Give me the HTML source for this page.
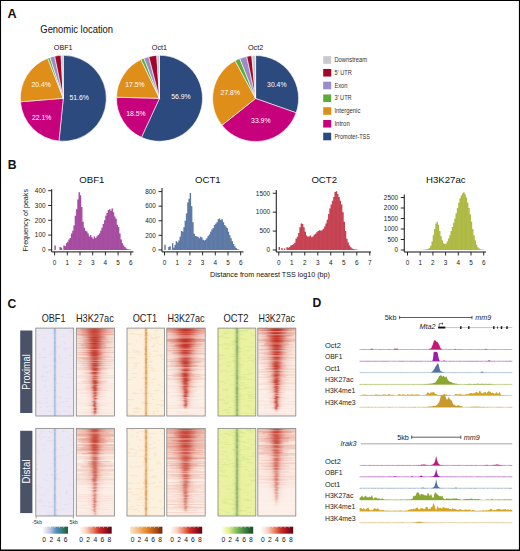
<!DOCTYPE html>
<html><head><meta charset="utf-8"><style>
html,body{margin:0;padding:0;background:#fff;width:520px;height:551px;overflow:hidden;font-family:"Liberation Sans", sans-serif;}
svg{display:block}
</style></head><body><svg width="520" height="551" viewBox="0 0 520 551" font-family='"Liberation Sans", sans-serif'><defs><linearGradient id="gR"><stop offset="0" stop-color="#bf2a1e" stop-opacity="0.01"/><stop offset="0.05" stop-color="#bf2a1e" stop-opacity="0.03"/><stop offset="0.1" stop-color="#bf2a1e" stop-opacity="0.06"/><stop offset="0.15" stop-color="#bf2a1e" stop-opacity="0.11"/><stop offset="0.2" stop-color="#bf2a1e" stop-opacity="0.2"/><stop offset="0.25" stop-color="#bf2a1e" stop-opacity="0.32"/><stop offset="0.3" stop-color="#bf2a1e" stop-opacity="0.49"/><stop offset="0.35" stop-color="#bf2a1e" stop-opacity="0.67"/><stop offset="0.4" stop-color="#bf2a1e" stop-opacity="0.84"/><stop offset="0.45" stop-color="#bf2a1e" stop-opacity="0.96"/><stop offset="0.5" stop-color="#bf2a1e" stop-opacity="1"/><stop offset="0.55" stop-color="#bf2a1e" stop-opacity="0.96"/><stop offset="0.6" stop-color="#bf2a1e" stop-opacity="0.84"/><stop offset="0.65" stop-color="#bf2a1e" stop-opacity="0.67"/><stop offset="0.7" stop-color="#bf2a1e" stop-opacity="0.49"/><stop offset="0.75" stop-color="#bf2a1e" stop-opacity="0.32"/><stop offset="0.8" stop-color="#bf2a1e" stop-opacity="0.2"/><stop offset="0.85" stop-color="#bf2a1e" stop-opacity="0.11"/><stop offset="0.9" stop-color="#bf2a1e" stop-opacity="0.06"/><stop offset="0.95" stop-color="#bf2a1e" stop-opacity="0.03"/><stop offset="1" stop-color="#bf2a1e" stop-opacity="0.01"/></linearGradient><linearGradient id="gB"><stop offset="0" stop-color="#9ab6dc" stop-opacity="0.01"/><stop offset="0.05" stop-color="#9ab6dc" stop-opacity="0.03"/><stop offset="0.1" stop-color="#9ab6dc" stop-opacity="0.06"/><stop offset="0.15" stop-color="#9ab6dc" stop-opacity="0.11"/><stop offset="0.2" stop-color="#9ab6dc" stop-opacity="0.2"/><stop offset="0.25" stop-color="#9ab6dc" stop-opacity="0.32"/><stop offset="0.3" stop-color="#9ab6dc" stop-opacity="0.49"/><stop offset="0.35" stop-color="#9ab6dc" stop-opacity="0.67"/><stop offset="0.4" stop-color="#9ab6dc" stop-opacity="0.84"/><stop offset="0.45" stop-color="#9ab6dc" stop-opacity="0.96"/><stop offset="0.5" stop-color="#9ab6dc" stop-opacity="1"/><stop offset="0.55" stop-color="#9ab6dc" stop-opacity="0.96"/><stop offset="0.6" stop-color="#9ab6dc" stop-opacity="0.84"/><stop offset="0.65" stop-color="#9ab6dc" stop-opacity="0.67"/><stop offset="0.7" stop-color="#9ab6dc" stop-opacity="0.49"/><stop offset="0.75" stop-color="#9ab6dc" stop-opacity="0.32"/><stop offset="0.8" stop-color="#9ab6dc" stop-opacity="0.2"/><stop offset="0.85" stop-color="#9ab6dc" stop-opacity="0.11"/><stop offset="0.9" stop-color="#9ab6dc" stop-opacity="0.06"/><stop offset="0.95" stop-color="#9ab6dc" stop-opacity="0.03"/><stop offset="1" stop-color="#9ab6dc" stop-opacity="0.01"/></linearGradient><linearGradient id="gO"><stop offset="0" stop-color="#f0b070" stop-opacity="0.01"/><stop offset="0.05" stop-color="#f0b070" stop-opacity="0.03"/><stop offset="0.1" stop-color="#f0b070" stop-opacity="0.06"/><stop offset="0.15" stop-color="#f0b070" stop-opacity="0.11"/><stop offset="0.2" stop-color="#f0b070" stop-opacity="0.2"/><stop offset="0.25" stop-color="#f0b070" stop-opacity="0.32"/><stop offset="0.3" stop-color="#f0b070" stop-opacity="0.49"/><stop offset="0.35" stop-color="#f0b070" stop-opacity="0.67"/><stop offset="0.4" stop-color="#f0b070" stop-opacity="0.84"/><stop offset="0.45" stop-color="#f0b070" stop-opacity="0.96"/><stop offset="0.5" stop-color="#f0b070" stop-opacity="1"/><stop offset="0.55" stop-color="#f0b070" stop-opacity="0.96"/><stop offset="0.6" stop-color="#f0b070" stop-opacity="0.84"/><stop offset="0.65" stop-color="#f0b070" stop-opacity="0.67"/><stop offset="0.7" stop-color="#f0b070" stop-opacity="0.49"/><stop offset="0.75" stop-color="#f0b070" stop-opacity="0.32"/><stop offset="0.8" stop-color="#f0b070" stop-opacity="0.2"/><stop offset="0.85" stop-color="#f0b070" stop-opacity="0.11"/><stop offset="0.9" stop-color="#f0b070" stop-opacity="0.06"/><stop offset="0.95" stop-color="#f0b070" stop-opacity="0.03"/><stop offset="1" stop-color="#f0b070" stop-opacity="0.01"/></linearGradient><linearGradient id="gG"><stop offset="0" stop-color="#8db56a" stop-opacity="0.01"/><stop offset="0.05" stop-color="#8db56a" stop-opacity="0.03"/><stop offset="0.1" stop-color="#8db56a" stop-opacity="0.06"/><stop offset="0.15" stop-color="#8db56a" stop-opacity="0.11"/><stop offset="0.2" stop-color="#8db56a" stop-opacity="0.2"/><stop offset="0.25" stop-color="#8db56a" stop-opacity="0.32"/><stop offset="0.3" stop-color="#8db56a" stop-opacity="0.49"/><stop offset="0.35" stop-color="#8db56a" stop-opacity="0.67"/><stop offset="0.4" stop-color="#8db56a" stop-opacity="0.84"/><stop offset="0.45" stop-color="#8db56a" stop-opacity="0.96"/><stop offset="0.5" stop-color="#8db56a" stop-opacity="1"/><stop offset="0.55" stop-color="#8db56a" stop-opacity="0.96"/><stop offset="0.6" stop-color="#8db56a" stop-opacity="0.84"/><stop offset="0.65" stop-color="#8db56a" stop-opacity="0.67"/><stop offset="0.7" stop-color="#8db56a" stop-opacity="0.49"/><stop offset="0.75" stop-color="#8db56a" stop-opacity="0.32"/><stop offset="0.8" stop-color="#8db56a" stop-opacity="0.2"/><stop offset="0.85" stop-color="#8db56a" stop-opacity="0.11"/><stop offset="0.9" stop-color="#8db56a" stop-opacity="0.06"/><stop offset="0.95" stop-color="#8db56a" stop-opacity="0.03"/><stop offset="1" stop-color="#8db56a" stop-opacity="0.01"/></linearGradient><linearGradient id="cb1"><stop offset="0" stop-color="#ffffff"/><stop offset="0.3" stop-color="#c9c6e2"/><stop offset="0.55" stop-color="#4f8fc3"/><stop offset="0.75" stop-color="#3b7f80"/><stop offset="1" stop-color="#1d5a33"/></linearGradient><linearGradient id="cb2"><stop offset="0" stop-color="#ffffff"/><stop offset="0.22" stop-color="#f7d2c0"/><stop offset="0.45" stop-color="#e8785a"/><stop offset="0.62" stop-color="#cc3028"/><stop offset="0.82" stop-color="#9e1020"/><stop offset="1" stop-color="#560616"/></linearGradient><linearGradient id="cb3"><stop offset="0" stop-color="#fbe6cc"/><stop offset="0.3" stop-color="#f3b170"/><stop offset="0.55" stop-color="#df7f26"/><stop offset="0.8" stop-color="#a9501a"/><stop offset="1" stop-color="#6a2a0a"/></linearGradient><linearGradient id="cb4"><stop offset="0" stop-color="#ffffff"/><stop offset="0.22" stop-color="#f7d2c0"/><stop offset="0.45" stop-color="#e8785a"/><stop offset="0.62" stop-color="#cc3028"/><stop offset="0.82" stop-color="#9e1020"/><stop offset="1" stop-color="#560616"/></linearGradient><linearGradient id="cb5"><stop offset="0" stop-color="#fffff0"/><stop offset="0.25" stop-color="#e2ee8a"/><stop offset="0.5" stop-color="#7db85c"/><stop offset="0.75" stop-color="#3b8040"/><stop offset="1" stop-color="#1b4b28"/></linearGradient><linearGradient id="cb6"><stop offset="0" stop-color="#ffffff"/><stop offset="0.22" stop-color="#f7d2c0"/><stop offset="0.45" stop-color="#e8785a"/><stop offset="0.62" stop-color="#cc3028"/><stop offset="0.82" stop-color="#9e1020"/><stop offset="1" stop-color="#560616"/></linearGradient></defs><path d="M63.3 98.3L63.3 55.3A43 43 0 1 1 58.98 141.08Z" fill="#2c4a7e" stroke="#fff" stroke-width="0.6"/>
<path d="M63.3 98.3L58.98 141.08A43 43 0 0 1 20.44 101.81Z" fill="#c7007c" stroke="#fff" stroke-width="0.6"/>
<path d="M63.3 98.3L20.44 101.81A43 43 0 0 1 47.72 58.22Z" fill="#e08e1a" stroke="#fff" stroke-width="0.6"/>
<path d="M63.3 98.3L47.72 58.22A43 43 0 0 1 50.01 57.4Z" fill="#5bab3d" stroke="#fff" stroke-width="0.6"/>
<path d="M63.3 98.3L50.01 57.4A43 43 0 0 1 54.71 56.17Z" fill="#9a8cc6" stroke="#fff" stroke-width="0.6"/>
<path d="M63.3 98.3L54.71 56.17A43 43 0 0 1 61.14 55.35Z" fill="#a2062b" stroke="#fff" stroke-width="0.6"/>
<path d="M63.3 98.3L61.14 55.35A43 43 0 0 1 63.3 55.3Z" fill="#c9c9ce" stroke="#fff" stroke-width="0.6"/>
<text x="79.2" y="99.9" font-size="7.8" fill="#fff" text-anchor="middle" textLength="19.4" lengthAdjust="spacingAndGlyphs">51.6%</text>
<text x="41.7" y="119.7" font-size="7.8" fill="#fff" text-anchor="middle" textLength="19.4" lengthAdjust="spacingAndGlyphs">22.1%</text>
<text x="41.2" y="87" font-size="7.8" fill="#fff" text-anchor="middle" textLength="19.4" lengthAdjust="spacingAndGlyphs">20.4%</text>
<path d="M159.5 98.3L159.5 55.3A43 43 0 1 1 141.44 137.32Z" fill="#2c4a7e" stroke="#fff" stroke-width="0.6"/>
<path d="M159.5 98.3L141.44 137.32A43 43 0 0 1 116.51 97.22Z" fill="#c7007c" stroke="#fff" stroke-width="0.6"/>
<path d="M159.5 98.3L116.51 97.22A43 43 0 0 1 140.95 59.51Z" fill="#e08e1a" stroke="#fff" stroke-width="0.6"/>
<path d="M159.5 98.3L140.95 59.51A43 43 0 0 1 143.92 58.22Z" fill="#5bab3d" stroke="#fff" stroke-width="0.6"/>
<path d="M159.5 98.3L143.92 58.22A43 43 0 0 1 148.81 56.65Z" fill="#9a8cc6" stroke="#fff" stroke-width="0.6"/>
<path d="M159.5 98.3L148.81 56.65A43 43 0 0 1 156.8 55.38Z" fill="#a2062b" stroke="#fff" stroke-width="0.6"/>
<path d="M159.5 98.3L156.8 55.38A43 43 0 0 1 159.5 55.3Z" fill="#c9c9ce" stroke="#fff" stroke-width="0.6"/>
<text x="181" y="99.1" font-size="7.8" fill="#fff" text-anchor="middle" textLength="19.4" lengthAdjust="spacingAndGlyphs">56.9%</text>
<text x="136" y="115.9" font-size="7.8" fill="#fff" text-anchor="middle" textLength="19.4" lengthAdjust="spacingAndGlyphs">18.5%</text>
<text x="135" y="87" font-size="7.8" fill="#fff" text-anchor="middle" textLength="19.4" lengthAdjust="spacingAndGlyphs">17.5%</text>
<path d="M255.6 98.5L255.6 55.5A43 43 0 0 1 296.15 112.81Z" fill="#2c4a7e" stroke="#fff" stroke-width="0.6"/>
<path d="M255.6 98.5L296.15 112.81A43 43 0 0 1 221.96 125.28Z" fill="#c7007c" stroke="#fff" stroke-width="0.6"/>
<path d="M255.6 98.5L221.96 125.28A43 43 0 0 1 235.12 60.69Z" fill="#e08e1a" stroke="#fff" stroke-width="0.6"/>
<path d="M255.6 98.5L235.12 60.69A43 43 0 0 1 239.77 58.52Z" fill="#5bab3d" stroke="#fff" stroke-width="0.6"/>
<path d="M255.6 98.5L239.77 58.52A43 43 0 0 1 246.75 56.42Z" fill="#9a8cc6" stroke="#fff" stroke-width="0.6"/>
<path d="M255.6 98.5L246.75 56.42A43 43 0 0 1 251.82 55.67Z" fill="#a2062b" stroke="#fff" stroke-width="0.6"/>
<path d="M255.6 98.5L251.82 55.67A43 43 0 0 1 255.6 55.5Z" fill="#c9c9ce" stroke="#fff" stroke-width="0.6"/>
<text x="276.8" y="87.4" font-size="7.8" fill="#fff" text-anchor="middle" textLength="19.4" lengthAdjust="spacingAndGlyphs">30.4%</text>
<text x="260.8" y="122.6" font-size="7.8" fill="#fff" text-anchor="middle" textLength="19.4" lengthAdjust="spacingAndGlyphs">33.9%</text>
<text x="230.3" y="94.7" font-size="7.8" fill="#fff" text-anchor="middle" textLength="19.4" lengthAdjust="spacingAndGlyphs">27.8%</text>
<rect x="323.2" y="56.2" width="8" height="7.6" fill="#c9c9ce"/>
<text x="334.4" y="62.2" font-size="6.8" fill="#333" textLength="32.7" lengthAdjust="spacingAndGlyphs">Downstream</text>
<rect x="323.2" y="68.95" width="8" height="7.6" fill="#a2062b"/>
<text x="334.4" y="74.95" font-size="6.8" fill="#333" textLength="17.5" lengthAdjust="spacingAndGlyphs">5’ UTR</text>
<rect x="323.2" y="81.7" width="8" height="7.6" fill="#9a8cc6"/>
<text x="334.4" y="87.7" font-size="6.8" fill="#333" textLength="13.1" lengthAdjust="spacingAndGlyphs">Exon</text>
<rect x="323.2" y="94.45" width="8" height="7.6" fill="#5bab3d"/>
<text x="334.4" y="100.45" font-size="6.8" fill="#333" textLength="17.3" lengthAdjust="spacingAndGlyphs">3’ UTR</text>
<rect x="323.2" y="107.2" width="8" height="7.6" fill="#e08e1a"/>
<text x="334.4" y="113.2" font-size="6.8" fill="#333" textLength="26" lengthAdjust="spacingAndGlyphs">Intergenic</text>
<rect x="323.2" y="119.95" width="8" height="7.6" fill="#c7007c"/>
<text x="334.4" y="125.95" font-size="6.8" fill="#333" textLength="15.4" lengthAdjust="spacingAndGlyphs">Intron</text>
<rect x="323.2" y="132.7" width="8" height="7.6" fill="#2c4a7e"/>
<text x="334.4" y="138.7" font-size="6.8" fill="#333" textLength="35.6" lengthAdjust="spacingAndGlyphs">Promoter-TSS</text>
<path d="M54.5 249.9h1.29v-4.44h-1.29ZM59.58 249.9h1.29v-2.96h-1.29ZM60.85 249.9h1.29v-2.22h-1.29ZM63.39 249.9h1.29v-4.44h-1.29ZM64.66 249.9h1.29v-3.7h-1.29ZM65.93 249.9h1.29v-6.66h-1.29ZM67.2 249.9h1.29v-8.14h-1.29ZM68.47 249.9h1.29v-10.36h-1.29ZM69.74 249.9h1.29v-11.84h-1.29ZM71.01 249.9h1.29v-16.28h-1.29ZM72.28 249.9h1.29v-19.24h-1.29ZM73.55 249.9h1.29v-24.42h-1.29ZM74.82 249.9h1.29v-34.04h-1.29ZM76.09 249.9h1.29v-40.7h-1.29ZM77.36 249.9h1.29v-50.32h-1.29ZM78.63 249.9h1.29v-57.72h-1.29ZM79.9 249.9h1.29v-54.76h-1.29ZM81.17 249.9h1.29v-42.92h-1.29ZM82.44 249.9h1.29v-28.12h-1.29ZM83.71 249.9h1.29v-22.2h-1.29ZM84.98 249.9h1.29v-19.24h-1.29ZM86.25 249.9h1.29v-18.5h-1.29ZM87.52 249.9h1.29v-16.28h-1.29ZM88.79 249.9h1.29v-13.32h-1.29ZM90.06 249.9h1.29v-14.8h-1.29ZM91.33 249.9h1.29v-12.58h-1.29ZM92.6 249.9h1.29v-11.1h-1.29ZM93.87 249.9h1.29v-13.32h-1.29ZM95.14 249.9h1.29v-11.84h-1.29ZM96.41 249.9h1.29v-13.32h-1.29ZM97.68 249.9h1.29v-14.8h-1.29ZM98.95 249.9h1.29v-16.28h-1.29ZM100.22 249.9h1.29v-19.24h-1.29ZM101.49 249.9h1.29v-22.2h-1.29ZM102.76 249.9h1.29v-25.9h-1.29ZM104.03 249.9h1.29v-29.6h-1.29ZM105.3 249.9h1.29v-34.04h-1.29ZM106.57 249.9h1.29v-37h-1.29ZM107.84 249.9h1.29v-39.96h-1.29ZM109.11 249.9h1.29v-40.7h-1.29ZM110.38 249.9h1.29v-39.22h-1.29ZM111.65 249.9h1.29v-41.44h-1.29ZM112.92 249.9h1.29v-37.74h-1.29ZM114.19 249.9h1.29v-33.3h-1.29ZM115.46 249.9h1.29v-31.08h-1.29ZM116.73 249.9h1.29v-25.16h-1.29ZM118 249.9h1.29v-22.94h-1.29ZM119.27 249.9h1.29v-16.28h-1.29ZM120.54 249.9h1.29v-10.36h-1.29ZM121.81 249.9h1.29v-6.66h-1.29ZM123.08 249.9h1.29v-4.44h-1.29ZM124.35 249.9h1.29v-2.96h-1.29ZM125.62 249.9h1.29v-1.48h-1.29ZM126.89 249.9h1.29v-0.74h-1.29ZM128.16 249.9h1.29v-0.44h-1.29ZM129.43 249.9h1.29v-0.3h-1.29Z" fill="#a0449c"/>
<path d="M54.7 249.9v-4.44M59.78 249.9v-2.96M61.05 249.9v-2.22M63.59 249.9v-4.44M64.86 249.9v-3.7M66.13 249.9v-6.66M67.4 249.9v-8.14M68.67 249.9v-10.36M69.94 249.9v-11.84M71.21 249.9v-16.28M72.48 249.9v-19.24M73.75 249.9v-24.42M75.02 249.9v-34.04M76.29 249.9v-40.7M77.56 249.9v-50.32M78.83 249.9v-57.72M80.1 249.9v-54.76M81.37 249.9v-42.92M82.64 249.9v-28.12M83.91 249.9v-22.2M85.18 249.9v-19.24M86.45 249.9v-18.5M87.72 249.9v-16.28M88.99 249.9v-13.32M90.26 249.9v-14.8M91.53 249.9v-12.58M92.8 249.9v-11.1M94.07 249.9v-13.32M95.34 249.9v-11.84M96.61 249.9v-13.32M97.88 249.9v-14.8M99.15 249.9v-16.28M100.42 249.9v-19.24M101.69 249.9v-22.2M102.96 249.9v-25.9M104.23 249.9v-29.6M105.5 249.9v-34.04M106.77 249.9v-37M108.04 249.9v-39.96M109.31 249.9v-40.7M110.58 249.9v-39.22M111.85 249.9v-41.44M113.12 249.9v-37.74M114.39 249.9v-33.3M115.66 249.9v-31.08M116.93 249.9v-25.16M118.2 249.9v-22.94M119.47 249.9v-16.28M120.74 249.9v-10.36M122.01 249.9v-6.66M123.28 249.9v-4.44M124.55 249.9v-2.96M125.82 249.9v-1.48M127.09 249.9v-0.74M128.36 249.9v-0.44M129.63 249.9v-0.3" stroke="#b96ab4" stroke-width="0.35" fill="none"/>
<path d="M51.7 189.2V251.9H133.5" stroke="#111" stroke-width="1" fill="none"/>
<path d="M48.2 249.9H51.7" stroke="#111" stroke-width="0.9"/>
<text x="45.5" y="252.2" font-size="6.4" text-anchor="end" fill="#222">0</text>
<path d="M48.2 235.1H51.7" stroke="#111" stroke-width="0.9"/>
<text x="45.5" y="237.4" font-size="6.4" text-anchor="end" fill="#222">100</text>
<path d="M48.2 220.3H51.7" stroke="#111" stroke-width="0.9"/>
<text x="45.5" y="222.6" font-size="6.4" text-anchor="end" fill="#222">200</text>
<path d="M48.2 205.5H51.7" stroke="#111" stroke-width="0.9"/>
<text x="45.5" y="207.8" font-size="6.4" text-anchor="end" fill="#222">300</text>
<path d="M48.2 190.7H51.7" stroke="#111" stroke-width="0.9"/>
<text x="45.5" y="193" font-size="6.4" text-anchor="end" fill="#222">400</text>
<path d="M54.6 251.9V255.4" stroke="#111" stroke-width="0.9"/>
<text x="54.6" y="265.2" font-size="6.4" text-anchor="middle" fill="#222">0</text>
<path d="M67.3 251.9V255.4" stroke="#111" stroke-width="0.9"/>
<text x="67.3" y="265.2" font-size="6.4" text-anchor="middle" fill="#222">1</text>
<path d="M80 251.9V255.4" stroke="#111" stroke-width="0.9"/>
<text x="80" y="265.2" font-size="6.4" text-anchor="middle" fill="#222">2</text>
<path d="M92.7 251.9V255.4" stroke="#111" stroke-width="0.9"/>
<text x="92.7" y="265.2" font-size="6.4" text-anchor="middle" fill="#222">3</text>
<path d="M105.4 251.9V255.4" stroke="#111" stroke-width="0.9"/>
<text x="105.4" y="265.2" font-size="6.4" text-anchor="middle" fill="#222">4</text>
<path d="M118.1 251.9V255.4" stroke="#111" stroke-width="0.9"/>
<text x="118.1" y="265.2" font-size="6.4" text-anchor="middle" fill="#222">5</text>
<path d="M130.8 251.9V255.4" stroke="#111" stroke-width="0.9"/>
<text x="130.8" y="265.2" font-size="6.4" text-anchor="middle" fill="#222">6</text>
<path d="M164.4 249.9h1.29v-5.1h-1.29ZM168.21 249.9h1.29v-2.92h-1.29ZM169.48 249.9h1.29v-3.65h-1.29ZM172.02 249.9h1.29v-6.56h-1.29ZM173.29 249.9h1.29v-2.19h-1.29ZM174.56 249.9h1.29v-5.1h-1.29ZM175.83 249.9h1.29v-8.75h-1.29ZM177.1 249.9h1.29v-7.29h-1.29ZM178.37 249.9h1.29v-9.48h-1.29ZM179.64 249.9h1.29v-13.12h-1.29ZM180.91 249.9h1.29v-18.95h-1.29ZM182.18 249.9h1.29v-18.23h-1.29ZM183.45 249.9h1.29v-22.6h-1.29ZM184.72 249.9h1.29v-29.16h-1.29ZM185.99 249.9h1.29v-36.45h-1.29ZM187.26 249.9h1.29v-47.39h-1.29ZM188.53 249.9h1.29v-51.03h-1.29ZM189.8 249.9h1.29v-56.86h-1.29ZM191.07 249.9h1.29v-43.74h-1.29ZM192.34 249.9h1.29v-27.7h-1.29ZM193.61 249.9h1.29v-16.04h-1.29ZM194.88 249.9h1.29v-13.85h-1.29ZM196.15 249.9h1.29v-13.49h-1.29ZM197.42 249.9h1.29v-13.12h-1.29ZM198.69 249.9h1.29v-11.66h-1.29ZM199.96 249.9h1.29v-13.12h-1.29ZM201.23 249.9h1.29v-12.39h-1.29ZM202.5 249.9h1.29v-10.21h-1.29ZM203.77 249.9h1.29v-9.48h-1.29ZM205.04 249.9h1.29v-10.21h-1.29ZM206.31 249.9h1.29v-11.66h-1.29ZM207.58 249.9h1.29v-13.85h-1.29ZM208.85 249.9h1.29v-15.31h-1.29ZM210.12 249.9h1.29v-18.23h-1.29ZM211.39 249.9h1.29v-20.41h-1.29ZM212.66 249.9h1.29v-21.87h-1.29ZM213.93 249.9h1.29v-24.79h-1.29ZM215.2 249.9h1.29v-26.24h-1.29ZM216.47 249.9h1.29v-27.7h-1.29ZM217.74 249.9h1.29v-30.62h-1.29ZM219.01 249.9h1.29v-31.35h-1.29ZM220.28 249.9h1.29v-29.89h-1.29ZM221.55 249.9h1.29v-30.62h-1.29ZM222.82 249.9h1.29v-27.7h-1.29ZM224.09 249.9h1.29v-24.79h-1.29ZM225.36 249.9h1.29v-23.33h-1.29ZM226.63 249.9h1.29v-21.87h-1.29ZM227.9 249.9h1.29v-18.23h-1.29ZM229.17 249.9h1.29v-14.58h-1.29ZM230.44 249.9h1.29v-11.66h-1.29ZM231.71 249.9h1.29v-8.75h-1.29ZM232.98 249.9h1.29v-5.83h-1.29ZM234.25 249.9h1.29v-3.65h-1.29ZM235.52 249.9h1.29v-1.82h-1.29ZM236.79 249.9h1.29v-0.73h-1.29ZM238.06 249.9h1.29v-0.36h-1.29Z" fill="#5572a0"/>
<path d="M164.6 249.9v-5.1M168.41 249.9v-2.92M169.68 249.9v-3.65M172.22 249.9v-6.56M173.49 249.9v-2.19M174.76 249.9v-5.1M176.03 249.9v-8.75M177.3 249.9v-7.29M178.57 249.9v-9.48M179.84 249.9v-13.12M181.11 249.9v-18.95M182.38 249.9v-18.23M183.65 249.9v-22.6M184.92 249.9v-29.16M186.19 249.9v-36.45M187.46 249.9v-47.39M188.73 249.9v-51.03M190 249.9v-56.86M191.27 249.9v-43.74M192.54 249.9v-27.7M193.81 249.9v-16.04M195.08 249.9v-13.85M196.35 249.9v-13.49M197.62 249.9v-13.12M198.89 249.9v-11.66M200.16 249.9v-13.12M201.43 249.9v-12.39M202.7 249.9v-10.21M203.97 249.9v-9.48M205.24 249.9v-10.21M206.51 249.9v-11.66M207.78 249.9v-13.85M209.05 249.9v-15.31M210.32 249.9v-18.23M211.59 249.9v-20.41M212.86 249.9v-21.87M214.13 249.9v-24.79M215.4 249.9v-26.24M216.67 249.9v-27.7M217.94 249.9v-30.62M219.21 249.9v-31.35M220.48 249.9v-29.89M221.75 249.9v-30.62M223.02 249.9v-27.7M224.29 249.9v-24.79M225.56 249.9v-23.33M226.83 249.9v-21.87M228.1 249.9v-18.23M229.37 249.9v-14.58M230.64 249.9v-11.66M231.91 249.9v-8.75M233.18 249.9v-5.83M234.45 249.9v-3.65M235.72 249.9v-1.82M236.99 249.9v-0.73M238.26 249.9v-0.36" stroke="#7d93ba" stroke-width="0.35" fill="none"/>
<path d="M162 188V251.9H243.5" stroke="#111" stroke-width="1" fill="none"/>
<path d="M158.5 249.9H162" stroke="#111" stroke-width="0.9"/>
<text x="155.8" y="252.2" font-size="6.4" text-anchor="end" fill="#222">0</text>
<path d="M158.5 235.32H162" stroke="#111" stroke-width="0.9"/>
<text x="155.8" y="237.62" font-size="6.4" text-anchor="end" fill="#222">200</text>
<path d="M158.5 220.74H162" stroke="#111" stroke-width="0.9"/>
<text x="155.8" y="223.04" font-size="6.4" text-anchor="end" fill="#222">400</text>
<path d="M158.5 206.16H162" stroke="#111" stroke-width="0.9"/>
<text x="155.8" y="208.46" font-size="6.4" text-anchor="end" fill="#222">600</text>
<path d="M158.5 191.58H162" stroke="#111" stroke-width="0.9"/>
<text x="155.8" y="193.88" font-size="6.4" text-anchor="end" fill="#222">800</text>
<path d="M164.5 251.9V255.4" stroke="#111" stroke-width="0.9"/>
<text x="164.5" y="265.2" font-size="6.4" text-anchor="middle" fill="#222">0</text>
<path d="M177.2 251.9V255.4" stroke="#111" stroke-width="0.9"/>
<text x="177.2" y="265.2" font-size="6.4" text-anchor="middle" fill="#222">1</text>
<path d="M189.9 251.9V255.4" stroke="#111" stroke-width="0.9"/>
<text x="189.9" y="265.2" font-size="6.4" text-anchor="middle" fill="#222">2</text>
<path d="M202.6 251.9V255.4" stroke="#111" stroke-width="0.9"/>
<text x="202.6" y="265.2" font-size="6.4" text-anchor="middle" fill="#222">3</text>
<path d="M215.3 251.9V255.4" stroke="#111" stroke-width="0.9"/>
<text x="215.3" y="265.2" font-size="6.4" text-anchor="middle" fill="#222">4</text>
<path d="M228 251.9V255.4" stroke="#111" stroke-width="0.9"/>
<text x="228" y="265.2" font-size="6.4" text-anchor="middle" fill="#222">5</text>
<path d="M240.7 251.9V255.4" stroke="#111" stroke-width="0.9"/>
<text x="240.7" y="265.2" font-size="6.4" text-anchor="middle" fill="#222">6</text>
<path d="M278.65 250h1.32v-3.03h-1.32ZM281.25 250h1.32v-1.89h-1.32ZM283.85 250h1.32v-1.51h-1.32ZM286.45 250h1.32v-2.65h-1.32ZM287.75 250h1.32v-2.27h-1.32ZM289.05 250h1.32v-3.03h-1.32ZM290.35 250h1.32v-4.54h-1.32ZM291.65 250h1.32v-4.92h-1.32ZM292.95 250h1.32v-5.67h-1.32ZM294.25 250h1.32v-7.19h-1.32ZM295.55 250h1.32v-11.35h-1.32ZM296.85 250h1.32v-13.24h-1.32ZM298.15 250h1.32v-17.02h-1.32ZM299.45 250h1.32v-22.7h-1.32ZM300.75 250h1.32v-26.48h-1.32ZM302.05 250h1.32v-26.1h-1.32ZM303.35 250h1.32v-22.7h-1.32ZM304.65 250h1.32v-18.16h-1.32ZM305.95 250h1.32v-14.38h-1.32ZM307.25 250h1.32v-13.24h-1.32ZM308.55 250h1.32v-13.62h-1.32ZM309.85 250h1.32v-14.38h-1.32ZM311.15 250h1.32v-12.86h-1.32ZM312.45 250h1.32v-13.62h-1.32ZM313.75 250h1.32v-15.13h-1.32ZM315.05 250h1.32v-16.27h-1.32ZM316.35 250h1.32v-17.78h-1.32ZM317.65 250h1.32v-18.92h-1.32ZM318.95 250h1.32v-19.67h-1.32ZM320.25 250h1.32v-19.29h-1.32ZM321.55 250h1.32v-19.67h-1.32ZM322.85 250h1.32v-21.18h-1.32ZM324.15 250h1.32v-23.45h-1.32ZM325.45 250h1.32v-26.48h-1.32ZM326.75 250h1.32v-30.26h-1.32ZM328.05 250h1.32v-35.94h-1.32ZM329.35 250h1.32v-41.61h-1.32ZM330.65 250h1.32v-45.4h-1.32ZM331.95 250h1.32v-49.18h-1.32ZM333.25 250h1.32v-52.96h-1.32ZM334.55 250h1.32v-57.88h-1.32ZM335.85 250h1.32v-58.64h-1.32ZM337.15 250h1.32v-55.99h-1.32ZM338.45 250h1.32v-52.96h-1.32ZM339.75 250h1.32v-49.18h-1.32ZM341.05 250h1.32v-45.4h-1.32ZM342.35 250h1.32v-37.83h-1.32ZM343.65 250h1.32v-28.37h-1.32ZM344.95 250h1.32v-18.92h-1.32ZM346.25 250h1.32v-11.35h-1.32ZM347.55 250h1.32v-7.57h-1.32ZM348.85 250h1.32v-4.54h-1.32ZM350.15 250h1.32v-2.65h-1.32ZM351.45 250h1.32v-1.51h-1.32ZM352.75 250h1.32v-0.95h-1.32ZM354.05 250h1.32v-0.57h-1.32ZM355.35 250h1.32v-0.38h-1.32ZM356.65 250h1.32v-0.19h-1.32Z" fill="#c1394a"/>
<path d="M278.85 250v-3.03M281.45 250v-1.89M284.05 250v-1.51M286.65 250v-2.65M287.95 250v-2.27M289.25 250v-3.03M290.55 250v-4.54M291.85 250v-4.92M293.15 250v-5.67M294.45 250v-7.19M295.75 250v-11.35M297.05 250v-13.24M298.35 250v-17.02M299.65 250v-22.7M300.95 250v-26.48M302.25 250v-26.1M303.55 250v-22.7M304.85 250v-18.16M306.15 250v-14.38M307.45 250v-13.24M308.75 250v-13.62M310.05 250v-14.38M311.35 250v-12.86M312.65 250v-13.62M313.95 250v-15.13M315.25 250v-16.27M316.55 250v-17.78M317.85 250v-18.92M319.15 250v-19.67M320.45 250v-19.29M321.75 250v-19.67M323.05 250v-21.18M324.35 250v-23.45M325.65 250v-26.48M326.95 250v-30.26M328.25 250v-35.94M329.55 250v-41.61M330.85 250v-45.4M332.15 250v-49.18M333.45 250v-52.96M334.75 250v-57.88M336.05 250v-58.64M337.35 250v-55.99M338.65 250v-52.96M339.95 250v-49.18M341.25 250v-45.4M342.55 250v-37.83M343.85 250v-28.37M345.15 250v-18.92M346.45 250v-11.35M347.75 250v-7.57M349.05 250v-4.54M350.35 250v-2.65M351.65 250v-1.51M352.95 250v-0.95M354.25 250v-0.57M355.55 250v-0.38M356.85 250v-0.19" stroke="#d66673" stroke-width="0.35" fill="none"/>
<path d="M276.25 190V252H371" stroke="#111" stroke-width="1" fill="none"/>
<path d="M272.75 250H276.25" stroke="#111" stroke-width="0.9"/>
<text x="270.05" y="252.3" font-size="6.4" text-anchor="end" fill="#222">0</text>
<path d="M272.75 231.09H276.25" stroke="#111" stroke-width="0.9"/>
<text x="270.05" y="233.39" font-size="6.4" text-anchor="end" fill="#222">500</text>
<path d="M272.75 212.17H276.25" stroke="#111" stroke-width="0.9"/>
<text x="270.05" y="214.47" font-size="6.4" text-anchor="end" fill="#222">1000</text>
<path d="M272.75 193.25H276.25" stroke="#111" stroke-width="0.9"/>
<text x="270.05" y="195.56" font-size="6.4" text-anchor="end" fill="#222">1500</text>
<path d="M278.75 252V255.5" stroke="#111" stroke-width="0.9"/>
<text x="278.75" y="265.3" font-size="6.4" text-anchor="middle" fill="#222">0</text>
<path d="M291.75 252V255.5" stroke="#111" stroke-width="0.9"/>
<text x="291.75" y="265.3" font-size="6.4" text-anchor="middle" fill="#222">1</text>
<path d="M304.75 252V255.5" stroke="#111" stroke-width="0.9"/>
<text x="304.75" y="265.3" font-size="6.4" text-anchor="middle" fill="#222">2</text>
<path d="M317.75 252V255.5" stroke="#111" stroke-width="0.9"/>
<text x="317.75" y="265.3" font-size="6.4" text-anchor="middle" fill="#222">3</text>
<path d="M330.75 252V255.5" stroke="#111" stroke-width="0.9"/>
<text x="330.75" y="265.3" font-size="6.4" text-anchor="middle" fill="#222">4</text>
<path d="M343.75 252V255.5" stroke="#111" stroke-width="0.9"/>
<text x="343.75" y="265.3" font-size="6.4" text-anchor="middle" fill="#222">5</text>
<path d="M356.75 252V255.5" stroke="#111" stroke-width="0.9"/>
<text x="356.75" y="265.3" font-size="6.4" text-anchor="middle" fill="#222">6</text>
<path d="M369.75 252V255.5" stroke="#111" stroke-width="0.9"/>
<text x="369.75" y="265.3" font-size="6.4" text-anchor="middle" fill="#222">7</text>
<path d="M421.37 250h1.29v-0.11h-1.29ZM422.64 250h1.29v-0.21h-1.29ZM423.91 250h1.29v-0.32h-1.29ZM425.18 250h1.29v-0.53h-1.29ZM426.45 250h1.29v-0.84h-1.29ZM427.72 250h1.29v-1.26h-1.29ZM428.99 250h1.29v-2.1h-1.29ZM430.26 250h1.29v-4.2h-1.29ZM431.53 250h1.29v-8.4h-1.29ZM432.8 250h1.29v-14.7h-1.29ZM434.07 250h1.29v-21h-1.29ZM435.34 250h1.29v-26.25h-1.29ZM436.61 250h1.29v-28.35h-1.29ZM437.88 250h1.29v-25.2h-1.29ZM439.15 250h1.29v-18.9h-1.29ZM440.42 250h1.29v-13.65h-1.29ZM441.69 250h1.29v-9.45h-1.29ZM442.96 250h1.29v-6.72h-1.29ZM444.23 250h1.29v-5.88h-1.29ZM445.5 250h1.29v-6.3h-1.29ZM446.77 250h1.29v-8.4h-1.29ZM448.04 250h1.29v-11.55h-1.29ZM449.31 250h1.29v-14.7h-1.29ZM450.58 250h1.29v-18.9h-1.29ZM451.85 250h1.29v-23.1h-1.29ZM453.12 250h1.29v-27.3h-1.29ZM454.39 250h1.29v-31.5h-1.29ZM455.66 250h1.29v-36.75h-1.29ZM456.93 250h1.29v-42h-1.29ZM458.2 250h1.29v-47.25h-1.29ZM459.47 250h1.29v-51.45h-1.29ZM460.74 250h1.29v-54.6h-1.29ZM462.01 250h1.29v-56.7h-1.29ZM463.28 250h1.29v-57.75h-1.29ZM464.55 250h1.29v-55.65h-1.29ZM465.82 250h1.29v-52.5h-1.29ZM467.09 250h1.29v-47.25h-1.29ZM468.36 250h1.29v-42h-1.29ZM469.63 250h1.29v-35.7h-1.29ZM470.9 250h1.29v-28.35h-1.29ZM472.17 250h1.29v-21h-1.29ZM473.44 250h1.29v-14.7h-1.29ZM474.71 250h1.29v-9.45h-1.29ZM475.98 250h1.29v-5.25h-1.29ZM477.25 250h1.29v-2.73h-1.29ZM478.52 250h1.29v-1.47h-1.29ZM479.79 250h1.29v-0.84h-1.29ZM481.06 250h1.29v-0.42h-1.29ZM482.33 250h1.29v-0.21h-1.29ZM483.6 250h1.29v-0.11h-1.29Z" fill="#a9b53a"/>
<path d="M421.57 250v-0.11M422.84 250v-0.21M424.11 250v-0.32M425.38 250v-0.53M426.65 250v-0.84M427.92 250v-1.26M429.19 250v-2.1M430.46 250v-4.2M431.73 250v-8.4M433 250v-14.7M434.27 250v-21M435.54 250v-26.25M436.81 250v-28.35M438.08 250v-25.2M439.35 250v-18.9M440.62 250v-13.65M441.89 250v-9.45M443.16 250v-6.72M444.43 250v-5.88M445.7 250v-6.3M446.97 250v-8.4M448.24 250v-11.55M449.51 250v-14.7M450.78 250v-18.9M452.05 250v-23.1M453.32 250v-27.3M454.59 250v-31.5M455.86 250v-36.75M457.13 250v-42M458.4 250v-47.25M459.67 250v-51.45M460.94 250v-54.6M462.21 250v-56.7M463.48 250v-57.75M464.75 250v-55.65M466.02 250v-52.5M467.29 250v-47.25M468.56 250v-42M469.83 250v-35.7M471.1 250v-28.35M472.37 250v-21M473.64 250v-14.7M474.91 250v-9.45M476.18 250v-5.25M477.45 250v-2.73M478.72 250v-1.47M479.99 250v-0.84M481.26 250v-0.42M482.53 250v-0.21M483.8 250v-0.11" stroke="#c2cc6a" stroke-width="0.35" fill="none"/>
<path d="M404.25 194.5V252H486" stroke="#111" stroke-width="1" fill="none"/>
<path d="M400.75 250H404.25" stroke="#111" stroke-width="0.9"/>
<text x="398.05" y="252.3" font-size="6.4" text-anchor="end" fill="#222">0</text>
<path d="M400.75 239.5H404.25" stroke="#111" stroke-width="0.9"/>
<text x="398.05" y="241.8" font-size="6.4" text-anchor="end" fill="#222">500</text>
<path d="M400.75 229H404.25" stroke="#111" stroke-width="0.9"/>
<text x="398.05" y="231.3" font-size="6.4" text-anchor="end" fill="#222">1000</text>
<path d="M400.75 218.5H404.25" stroke="#111" stroke-width="0.9"/>
<text x="398.05" y="220.8" font-size="6.4" text-anchor="end" fill="#222">1500</text>
<path d="M400.75 208H404.25" stroke="#111" stroke-width="0.9"/>
<text x="398.05" y="210.3" font-size="6.4" text-anchor="end" fill="#222">2000</text>
<path d="M400.75 197.5H404.25" stroke="#111" stroke-width="0.9"/>
<text x="398.05" y="199.8" font-size="6.4" text-anchor="end" fill="#222">2500</text>
<path d="M407.5 252V255.5" stroke="#111" stroke-width="0.9"/>
<text x="407.5" y="265.3" font-size="6.4" text-anchor="middle" fill="#222">0</text>
<path d="M420.2 252V255.5" stroke="#111" stroke-width="0.9"/>
<text x="420.2" y="265.3" font-size="6.4" text-anchor="middle" fill="#222">1</text>
<path d="M432.9 252V255.5" stroke="#111" stroke-width="0.9"/>
<text x="432.9" y="265.3" font-size="6.4" text-anchor="middle" fill="#222">2</text>
<path d="M445.6 252V255.5" stroke="#111" stroke-width="0.9"/>
<text x="445.6" y="265.3" font-size="6.4" text-anchor="middle" fill="#222">3</text>
<path d="M458.3 252V255.5" stroke="#111" stroke-width="0.9"/>
<text x="458.3" y="265.3" font-size="6.4" text-anchor="middle" fill="#222">4</text>
<path d="M471 252V255.5" stroke="#111" stroke-width="0.9"/>
<text x="471" y="265.3" font-size="6.4" text-anchor="middle" fill="#222">5</text>
<path d="M483.7 252V255.5" stroke="#111" stroke-width="0.9"/>
<text x="483.7" y="265.3" font-size="6.4" text-anchor="middle" fill="#222">6</text>
<rect x="35.8" y="328.1" width="37.9" height="87.9" fill="#ece8f3"/>
<svg x="35.8" y="328.1" width="37.9" height="87.9" overflow="hidden">
<path d="M3.36 74.49h5.82v0.8h-5.82ZM8.18 43.55h4.25v0.8h-4.25ZM24 69.33h2.47v0.8h-2.47ZM-0.87 73.46h4.16v0.8h-4.16ZM28.41 0.19h4.23v0.8h-4.23ZM26.79 20.11h6.73v0.8h-6.73ZM33.97 2.69h2.13v0.8h-2.13ZM19.6 82.55h3.91v0.8h-3.91ZM6.64 37.1h2.15v0.8h-2.15ZM6.85 38.49h4.48v0.8h-4.48ZM7.3 20.29h3.09v0.8h-3.09ZM16.34 25.47h2.11v0.8h-2.11ZM31.42 48.91h5.21v0.8h-5.21ZM5.42 87.24h6.3v0.8h-6.3ZM2.82 29.24h5.61v0.8h-5.61ZM26.38 82.31h4.11v0.8h-4.11ZM31.12 58.92h3.52v0.8h-3.52ZM21.44 77.57h6.23v0.8h-6.23ZM18.16 51.77h2.17v0.8h-2.17ZM7.69 70.09h4.07v0.8h-4.07ZM4.9 48.24h5.52v0.8h-5.52ZM24.91 32.94h4.19v0.8h-4.19ZM18.29 68.43h4.6v0.8h-4.6ZM13.69 43.04h2.15v0.8h-2.15ZM-0.26 61.83h6.92v0.8h-6.92ZM21.67 34.6h2.85v0.8h-2.85ZM18.04 86.32h5.85v0.8h-5.85ZM19.53 75.62h3.16v0.8h-3.16ZM18.5 83.72h4.89v0.8h-4.89ZM16.32 23.67h4.74v0.8h-4.74ZM36.19 0.5h5.92v0.8h-5.92ZM30.74 77.9h5.7v0.8h-5.7ZM30.28 45.59h4.81v0.8h-4.81ZM15 4.93h6.35v0.8h-6.35ZM20.74 17.57h4.52v0.8h-4.52ZM17.35 31.36h3.73v0.8h-3.73ZM19.49 54.8h5.06v0.8h-5.06ZM16.28 2.46h3.15v0.8h-3.15ZM5.07 51.37h6.31v0.8h-6.31ZM29.86 70.06h6.08v0.8h-6.08Z" fill="#ddd8ee" opacity="0.6"/>
<path d="M9.68 73.99h2.01v1h-1ZM3.15 1.47h1.02v1h-1ZM28.64 21.94h1.16v1h-1ZM23.68 30.27h1.1v1h-1ZM6.05 46.36h1.25v1h-1ZM10.34 62.55h1.68v1h-1ZM12.2 41.64h1.04v1h-1ZM14.65 37h1.28v1h-1ZM4.12 79.09h1.77v1h-1ZM7.92 53.24h2.23v1h-1ZM0.79 1.57h1.22v1h-1ZM27.24 14.08h2.06v1h-1ZM25.7 47.88h1.33v1h-1ZM36.98 70.13h1.77v1h-1ZM8.46 57h1.59v1h-1ZM21.82 28.24h1.95v1h-1ZM2.23 26.25h2.45v1h-1ZM33.18 26.93h2.29v1h-1ZM11.76 82.56h2.12v1h-1ZM15.77 22.18h1.01v1h-1ZM33.3 3.33h2.23v1h-1ZM36.47 50.13h1.26v1h-1ZM32.89 85.59h2.06v1h-1ZM19.29 33.22h1.52v1h-1ZM7.8 59.26h1.65v1h-1ZM7.36 9.18h2v1h-1ZM11.22 43.93h1.49v1h-1ZM33.03 79.08h1.03v1h-1ZM7.61 28.81h2.48v1h-1ZM29.66 29.81h1.32v1h-1ZM25.56 73.63h2.4v1h-1ZM13.03 77.56h2.03v1h-1ZM18.36 86.63h1.35v1h-1ZM27.5 7.44h1.25v1h-1ZM34.53 18.72h2.14v1h-1ZM22.75 73.94h1.55v1h-1ZM12.9 25.6h2.3v1h-1ZM22.89 83.88h2.33v1h-1ZM5.13 48.45h1.16v1h-1ZM1.48 6.43h2.3v1h-1ZM29.87 72.83h1.51v1h-1ZM23.32 68.73h1.57v1h-1ZM21.63 19.66h1.12v1h-1ZM10.11 78.3h1.85v1h-1ZM35.06 40.24h1.42v1h-1ZM29.83 72.76h1.02v1h-1ZM25.41 8.06h1.17v1h-1ZM33.54 3.52h1.36v1h-1ZM37.45 37.01h1.17v1h-1ZM6.34 21.22h2.12v1h-1Z" fill="#c4bedf" opacity="0.35"/>
<rect x="15.8" y="0" width="6.6" height="87.9" fill="url(#gB)" opacity="0.35"/>
<rect x="18.45" y="0" width="1.3" height="87.9" fill="#98b8de" opacity="0.75"/>
<path d="M17.9 0h2.25v2h-2.25ZM18.3 2h1.56v1h-1.56ZM18 3h1.63v1.5h-1.63ZM18.19 5h1.71v1h-1.71ZM18.41 9h1.52v2h-1.52ZM18.16 13h1.52v1.5h-1.52ZM18.59 14h1.59v1.5h-1.59ZM18.05 15h1.9v1h-1.9ZM18.17 17h1.64v2h-1.64ZM18.3 19h1.65v2h-1.65ZM18.52 21h1.53v1.5h-1.53ZM17.91 22h1.87v1h-1.87ZM18.6 23h1.31v1.5h-1.31ZM18.37 26h1.82v1h-1.82ZM18.16 29h1.46v1.5h-1.46ZM18.28 30h2.04v2h-2.04ZM17.77 31h2.23v2h-2.23ZM18.53 32h1.63v2h-1.63ZM18.02 37h1.75v2h-1.75ZM18.15 39h2.11v1.5h-2.11ZM18.03 46h1.57v2h-1.57ZM18.14 49h2.02v2h-2.02ZM18.51 50h1.57v1.5h-1.57ZM18.4 52h1.39v1h-1.39ZM18.18 59h1.81v1h-1.81ZM18.27 61h1.94v2h-1.94ZM17.84 62h1.97v1h-1.97ZM18.17 68h1.61v2h-1.61ZM18.15 77h1.56v2h-1.56Z" fill="#98b8de" opacity="0.35"/>
</svg>
<rect x="35.8" y="328.1" width="37.9" height="87.9" fill="none" stroke="#8a8a8a" stroke-width="0.85"/>
<rect x="127" y="328.1" width="37.4" height="87.9" fill="#fcf0de"/>
<svg x="127" y="328.1" width="37.4" height="87.9" overflow="hidden">
<path d="M15.82 49.2h6.62v0.8h-6.62ZM16.35 44.64h4.94v0.8h-4.94ZM5.28 45h5.15v0.8h-5.15ZM29.24 8.27h3.52v0.8h-3.52ZM1.57 71.17h5.47v0.8h-5.47ZM-0.35 86.33h6.82v0.8h-6.82ZM23.76 54.11h2.79v0.8h-2.79ZM-1.41 46.44h2.3v0.8h-2.3ZM5.49 21.27h2.15v0.8h-2.15ZM16.28 38.72h6.21v0.8h-6.21ZM18.45 56.28h4.5v0.8h-4.5ZM24.1 40.2h3.39v0.8h-3.39ZM37.31 87.52h6.2v0.8h-6.2ZM25.89 27.71h3.15v0.8h-3.15ZM9.39 6.17h5.83v0.8h-5.83ZM13.78 74.41h3.93v0.8h-3.93ZM35.75 74.48h2v0.8h-2ZM6.26 80.01h4.35v0.8h-4.35ZM36.63 34.93h2.37v0.8h-2.37ZM22.8 68.43h3.35v0.8h-3.35ZM1.43 29.23h6.82v0.8h-6.82ZM27.87 10.37h3.23v0.8h-3.23ZM1.98 5.26h5.99v0.8h-5.99ZM5 49.16h4.24v0.8h-4.24ZM5.51 64.33h2.65v0.8h-2.65ZM23.36 10.24h4.1v0.8h-4.1ZM6.39 23.71h6.85v0.8h-6.85ZM29.65 26.73h6.42v0.8h-6.42ZM6.3 34.66h6.27v0.8h-6.27ZM23.29 8.82h6.95v0.8h-6.95ZM6.4 22.7h5.86v0.8h-5.86ZM10.96 26.05h2.37v0.8h-2.37ZM1.55 51.22h3.22v0.8h-3.22ZM21.69 32.67h4.27v0.8h-4.27ZM35.79 42.52h4.87v0.8h-4.87ZM32.14 16.07h2.77v0.8h-2.77ZM33.79 71.88h3.25v0.8h-3.25ZM5.48 65h6.7v0.8h-6.7ZM5.75 83.52h6.41v0.8h-6.41ZM21.78 37.05h2.52v0.8h-2.52ZM-0.48 84.62h3.19v0.8h-3.19ZM25.76 22.59h6.12v0.8h-6.12ZM21.5 25.79h2.88v0.8h-2.88ZM26.38 6.05h3.14v0.8h-3.14ZM20.04 74.93h5.07v0.8h-5.07ZM9.04 80.64h3.02v0.8h-3.02ZM-1.35 23.66h4.23v0.8h-4.23ZM0.38 15.49h3.84v0.8h-3.84ZM20.54 11.57h3.81v0.8h-3.81ZM33.1 86.19h5.28v0.8h-5.28ZM25.23 51.37h2.7v0.8h-2.7ZM-0.62 1.57h6.55v0.8h-6.55ZM25.62 84.63h2.11v0.8h-2.11ZM23.07 42.39h5.65v0.8h-5.65ZM10.56 87.84h2.38v0.8h-2.38ZM19.52 64.78h6.5v0.8h-6.5ZM27.04 61.85h5.97v0.8h-5.97ZM34.05 30.93h5.43v0.8h-5.43ZM33.49 76.57h4.09v0.8h-4.09ZM29.15 75.9h4.86v0.8h-4.86Z" fill="#f6dcb8" opacity="0.6"/>
<path d="M23.37 33.61h1.87v1h-1ZM22.77 7.05h1.96v1h-1ZM37.15 77.33h2.09v1h-1ZM14.53 64.61h1.87v1h-1ZM16.48 73.69h1.13v1h-1ZM28.06 2.62h1.9v1h-1ZM17.99 20.24h2.05v1h-1ZM18.6 54.01h2.38v1h-1ZM9.57 0.99h1.45v1h-1ZM25.36 17.81h1.25v1h-1ZM33.87 58.01h1.66v1h-1ZM33.35 28.74h2v1h-1ZM7.42 37.88h2.21v1h-1ZM34.19 77.38h1.58v1h-1ZM21.81 27.82h1.2v1h-1ZM18.57 73.58h2.27v1h-1ZM26.6 83.51h1.42v1h-1ZM6.33 39.61h1.41v1h-1ZM8.01 36.39h1.94v1h-1ZM18.47 27.72h2.26v1h-1ZM36.73 39.77h1.11v1h-1ZM1.18 76.72h1.06v1h-1ZM26.5 50.15h1.46v1h-1ZM29.6 1.68h1.2v1h-1ZM17.01 2.17h2.24v1h-1ZM8.88 12.38h1.07v1h-1ZM23.53 39.25h1.94v1h-1ZM24.5 70.97h2.44v1h-1ZM25.6 17.52h1.71v1h-1ZM6.68 0.95h1.71v1h-1ZM26.71 15.74h1.41v1h-1ZM12.93 61.29h1.78v1h-1ZM22.98 66.47h1.59v1h-1ZM29.62 79.66h1.13v1h-1ZM34.88 63.5h1.19v1h-1ZM16.96 54.99h2.36v1h-1ZM14.09 50h2.32v1h-1ZM29.8 83h1.7v1h-1ZM24.36 18.01h2.08v1h-1ZM30.61 56.4h2.08v1h-1ZM7.98 79.11h2.47v1h-1ZM36.55 47.2h2.19v1h-1ZM11.98 79.99h2.28v1h-1ZM13.03 7.28h1.66v1h-1ZM20.58 67.53h1.73v1h-1ZM1.06 71.12h1.1v1h-1ZM29.91 15.2h1.5v1h-1ZM29.47 12.35h1.22v1h-1ZM19.32 63.6h2.26v1h-1ZM25.78 83.13h1.74v1h-1Z" fill="#f3cc9a" opacity="0.45"/>
<rect x="15.4" y="0" width="7.2" height="87.9" fill="url(#gO)" opacity="0.45"/>
<rect x="18.25" y="0" width="1.5" height="87.9" fill="#e8953f" opacity="0.6"/>
<path d="M18.13 1h1.77v1.5h-1.77ZM18.19 4h2.12v1.5h-2.12ZM18.23 5h1.96v2h-1.96ZM18.02 6h2.52v2h-2.52ZM17.9 7h2.1v1h-2.1ZM17.68 10h2.66v1.5h-2.66ZM17.99 13h1.61v2h-1.61ZM17.86 18h2.09v1.5h-2.09ZM17.72 20h2v1.5h-2ZM17.5 21h2.44v1h-2.44ZM18.11 22h1.51v2h-1.51ZM17.59 25h2.38v2h-2.38ZM18.07 30h2.26v2h-2.26ZM18.21 31h1.75v2h-1.75ZM18.15 32h1.76v2h-1.76ZM17.99 34h2.39v1h-2.39ZM18.31 35h1.88v1h-1.88ZM18.43 37h1.62v1h-1.62ZM18.39 39h1.62v1.5h-1.62ZM18.05 42h2.25v1h-2.25ZM18.09 43h2.32v1.5h-2.32ZM18.1 44h2.11v2h-2.11ZM17.86 49h2.41v2h-2.41ZM17.98 51h1.64v1h-1.64ZM18.48 54h1.57v1.5h-1.57ZM18.13 55h1.62v1.5h-1.62ZM18.04 59h2.34v1h-2.34ZM17.67 65h2.45v1h-2.45ZM17.85 75h2.59v1h-2.59ZM18.03 85h1.91v1h-1.91Z" fill="#e8953f" opacity="0.5"/>
</svg>
<rect x="127" y="328.1" width="37.4" height="87.9" fill="none" stroke="#8a8a8a" stroke-width="0.85"/>
<rect x="218" y="328.1" width="37.8" height="87.9" fill="#eaf2a2"/>
<svg x="218" y="328.1" width="37.8" height="87.9" overflow="hidden">
<path d="M4.56 60.63h5.17v0.8h-5.17ZM17.07 18.99h5.96v0.8h-5.96ZM30.15 45.04h4.53v0.8h-4.53ZM7.4 0.28h3.86v0.8h-3.86ZM21.3 6.09h5.97v0.8h-5.97ZM7.24 20.45h2.21v0.8h-2.21ZM37.7 64.93h6.38v0.8h-6.38ZM22.51 2.99h3.64v0.8h-3.64ZM17.8 10.18h6.76v0.8h-6.76ZM12.66 13.61h6.09v0.8h-6.09ZM2.97 81.57h4.27v0.8h-4.27ZM19.97 30.14h4.42v0.8h-4.42ZM5.44 3.26h6.33v0.8h-6.33ZM7.35 68.58h3.04v0.8h-3.04ZM36.56 78.58h5.77v0.8h-5.77ZM28.36 51.05h5.65v0.8h-5.65ZM2.87 41.87h6.14v0.8h-6.14ZM6 81.15h6.44v0.8h-6.44ZM14.3 32.1h4.26v0.8h-4.26ZM13.35 87.45h3.93v0.8h-3.93ZM-0.93 8.2h5.59v0.8h-5.59ZM37.51 43.6h4.46v0.8h-4.46ZM19.91 65.76h3.11v0.8h-3.11ZM22.23 48.92h5.11v0.8h-5.11ZM5.19 14.95h3.74v0.8h-3.74ZM34.9 30.47h4.99v0.8h-4.99ZM10.2 9.08h2.33v0.8h-2.33ZM30.39 68.3h3.87v0.8h-3.87ZM25.2 59.41h6.49v0.8h-6.49ZM36.14 35.78h6.95v0.8h-6.95ZM36.26 51.91h6.42v0.8h-6.42ZM17.54 33.01h3.24v0.8h-3.24ZM32.87 14.27h2.35v0.8h-2.35ZM30.05 68.03h4.42v0.8h-4.42ZM31.31 4.59h3.29v0.8h-3.29ZM9.54 36.88h2.85v0.8h-2.85ZM0.76 29.72h6.5v0.8h-6.5ZM37.14 65.56h4.39v0.8h-4.39ZM8.04 84.29h4.63v0.8h-4.63ZM27 2.49h3.06v0.8h-3.06ZM31.36 69.9h6.41v0.8h-6.41ZM21.93 37.45h4.91v0.8h-4.91ZM31.8 27.07h4.67v0.8h-4.67ZM8.98 67.53h2.05v0.8h-2.05ZM25.27 83.85h2.12v0.8h-2.12ZM21.63 56.6h6.26v0.8h-6.26ZM21.26 22.61h4.03v0.8h-4.03ZM36.16 79.6h2.67v0.8h-2.67ZM1.77 8.26h2.13v0.8h-2.13ZM15.78 12.38h6.34v0.8h-6.34ZM24.08 11.12h4.69v0.8h-4.69ZM10.91 43.41h3.1v0.8h-3.1ZM4.61 16.17h3.89v0.8h-3.89ZM26.26 48.35h2.23v0.8h-2.23ZM26.29 76.81h5.87v0.8h-5.87ZM29.47 0.69h4.32v0.8h-4.32ZM0.53 67.15h2.88v0.8h-2.88ZM26.32 22.23h5.48v0.8h-5.48ZM10.48 3.68h3.94v0.8h-3.94ZM10.31 79.18h3.48v0.8h-3.48ZM18.02 48.29h6.74v0.8h-6.74ZM1.92 52.84h4.54v0.8h-4.54ZM27.24 85.01h3.55v0.8h-3.55ZM25.84 46.22h4.8v0.8h-4.8ZM0.54 71.61h6.88v0.8h-6.88ZM12.14 27.96h6.97v0.8h-6.97ZM2.28 6.69h2.37v0.8h-2.37ZM30.41 66.8h4.24v0.8h-4.24ZM22.73 1.74h5.22v0.8h-5.22ZM15.62 45.48h3.95v0.8h-3.95ZM13.98 19.82h2.24v0.8h-2.24ZM15.27 21.72h5.52v0.8h-5.52ZM30.53 63.62h4.28v0.8h-4.28ZM7.41 33.88h4.43v0.8h-4.43ZM23.15 84.66h2.43v0.8h-2.43ZM17.09 43.24h5.59v0.8h-5.59ZM33.44 68.52h5.13v0.8h-5.13ZM28.19 58.72h6.29v0.8h-6.29ZM25.82 60.03h3.23v0.8h-3.23ZM34.48 33.93h5.07v0.8h-5.07ZM30.83 84.71h6.95v0.8h-6.95ZM-1.75 27.48h3.56v0.8h-3.56ZM13.57 12.78h4.77v0.8h-4.77ZM1.16 26.6h6.72v0.8h-6.72ZM27.55 40.64h2.54v0.8h-2.54ZM36.05 61.88h3.03v0.8h-3.03ZM11.34 56.39h5.41v0.8h-5.41ZM8.38 83.61h3.61v0.8h-3.61ZM8.12 74.31h2.77v0.8h-2.77ZM25.11 17.57h4.99v0.8h-4.99ZM9.04 33.31h6.7v0.8h-6.7ZM16.59 38.4h5.09v0.8h-5.09ZM9.17 15.33h3.92v0.8h-3.92ZM8.84 16.57h6.8v0.8h-6.8ZM-0.63 71.24h6.67v0.8h-6.67ZM26.04 1.67h4.51v0.8h-4.51ZM-0.44 53.43h5.5v0.8h-5.5ZM7.56 0.67h4.72v0.8h-4.72ZM1.76 27.16h4.27v0.8h-4.27ZM33.6 32.53h2.67v0.8h-2.67ZM29.51 72.28h4.65v0.8h-4.65ZM-0.04 16.49h4.01v0.8h-4.01ZM19.97 19.79h6.01v0.8h-6.01ZM31.57 81.32h6.42v0.8h-6.42ZM-1.3 51.16h2.4v0.8h-2.4ZM33.81 65.65h5.8v0.8h-5.8ZM5.49 5.24h6.08v0.8h-6.08ZM22.14 54.52h4.36v0.8h-4.36ZM29.84 29.71h3.35v0.8h-3.35ZM12.05 26.19h5.14v0.8h-5.14ZM33.43 6.24h2.34v0.8h-2.34ZM18.37 59.6h2.95v0.8h-2.95ZM8.74 5.17h2.19v0.8h-2.19ZM17.7 59.84h5.27v0.8h-5.27ZM4.3 9.15h6.65v0.8h-6.65ZM19.43 35.9h5.45v0.8h-5.45ZM26.97 46.11h2.39v0.8h-2.39ZM30.93 18.79h2.2v0.8h-2.2ZM12.02 46.81h5.14v0.8h-5.14ZM4.93 62.38h4.47v0.8h-4.47ZM4.45 74.8h6.03v0.8h-6.03ZM34.07 59.73h3.09v0.8h-3.09ZM28.95 79.35h4.67v0.8h-4.67ZM34.16 85.28h3.95v0.8h-3.95ZM35.48 82.34h5.97v0.8h-5.97ZM-1.55 30.93h5.07v0.8h-5.07ZM22.17 66.42h5.23v0.8h-5.23ZM4.43 81.82h4.68v0.8h-4.68ZM33.09 18.18h6.99v0.8h-6.99ZM20.08 68.17h5.7v0.8h-5.7ZM33.13 31.85h2.41v0.8h-2.41ZM14.14 15.67h4.7v0.8h-4.7ZM30.44 31.84h2.66v0.8h-2.66ZM-0.93 37.18h4.9v0.8h-4.9ZM-0.95 58.49h3.05v0.8h-3.05ZM2.26 81.54h4.62v0.8h-4.62ZM33.62 45.17h2.61v0.8h-2.61ZM7.55 37.29h5.2v0.8h-5.2ZM28.68 66.05h5.25v0.8h-5.25ZM8.07 37.81h3.89v0.8h-3.89ZM17.49 23.34h4.69v0.8h-4.69ZM16.26 3.13h6.11v0.8h-6.11ZM21.34 70.56h5.68v0.8h-5.68ZM27.09 87.32h3.88v0.8h-3.88ZM13.67 0.33h5.32v0.8h-5.32ZM21.14 50.67h6.99v0.8h-6.99ZM5.84 19.98h5.67v0.8h-5.67ZM30.33 42.44h2.27v0.8h-2.27ZM12.74 72.64h4.5v0.8h-4.5ZM16.37 34.23h5.14v0.8h-5.14Z" fill="#d4e488" opacity="0.6"/>
<path d="M22.62 60.92h2.3v1h-1ZM28.4 32.96h1.38v1h-1ZM29.56 69.7h2.39v1h-1ZM7.51 74.51h2.34v1h-1ZM2.92 27.07h1.95v1h-1ZM5.52 73.06h1.4v1h-1ZM25.79 26h1.33v1h-1ZM7.82 43.74h2.07v1h-1ZM8.24 60.34h1.5v1h-1ZM24.54 32.36h1.29v1h-1ZM5.33 5.08h2.04v1h-1ZM15.64 10.83h2.32v1h-1ZM24.75 1.86h2.09v1h-1ZM22.48 39.01h1.75v1h-1ZM36.37 32.87h1.95v1h-1ZM24.03 32.15h1.52v1h-1ZM28.54 55.88h1.69v1h-1ZM19.42 19.65h2.18v1h-1ZM0.75 56.54h1.68v1h-1ZM8.37 51.58h1.87v1h-1ZM3.28 43.08h1.25v1h-1ZM30.21 28.74h1.49v1h-1ZM8.14 4.23h1.28v1h-1ZM5.73 54.87h2.27v1h-1ZM8.35 9.82h1.8v1h-1ZM4.37 35.62h2.14v1h-1ZM7.68 61.5h1.81v1h-1ZM3.21 21.32h1.9v1h-1ZM3.64 17.9h1.87v1h-1ZM30.92 45.74h2v1h-1ZM0.34 26.6h1.48v1h-1ZM34.53 31.43h2.18v1h-1ZM1.3 43.81h2.34v1h-1ZM29.16 50.95h1.27v1h-1ZM35.01 7.01h2.45v1h-1ZM29.34 63.26h1.8v1h-1ZM6.2 29.96h2v1h-1ZM24.8 34.22h2.2v1h-1ZM2.02 25.25h1.14v1h-1ZM12.28 69.7h2.13v1h-1Z" fill="#d6e48c" opacity="0.6"/>
<rect x="13.9" y="0" width="10.2" height="87.9" fill="url(#gG)" opacity="0.5"/>
<rect x="18.4" y="0" width="1.2" height="87.9" fill="#78a85c" opacity="0.6"/>
<path d="M18.02 0h1.5v2h-1.5ZM18.24 3h1.92v2h-1.92ZM18.05 9h1.67v1.5h-1.67ZM17.96 12h1.68v1h-1.68ZM17.89 13h2.03v2h-2.03ZM18.44 17h1.54v1h-1.54ZM18.31 18h1.77v2h-1.77ZM18.47 20h1.55v2h-1.55ZM18.24 21h1.85v2h-1.85ZM18.5 23h1.26v1.5h-1.26ZM18.5 24h1.56v1h-1.56ZM18.37 26h1.75v1h-1.75ZM18.27 42h1.32v1h-1.32ZM18.33 45h1.31v1h-1.31ZM18.03 47h1.69v1.5h-1.69ZM18.3 49h1.94v2h-1.94ZM18.35 50h1.53v1.5h-1.53ZM18.25 54h1.54v2h-1.54ZM17.73 59h1.95v1.5h-1.95ZM18.14 60h1.96v2h-1.96ZM17.82 61h1.97v2h-1.97ZM18.23 63h1.32v2h-1.32ZM17.79 64h1.93v2h-1.93ZM18.11 65h1.44v1.5h-1.44ZM17.68 68h2.09v1.5h-2.09ZM18.21 69h1.49v1h-1.49ZM18.19 71h2.13v1.5h-2.13ZM18.02 74h1.89v1h-1.89ZM18.05 77h1.89v1h-1.89ZM18.32 81h1.94v2h-1.94ZM18.17 82h1.81v1h-1.81ZM18.49 86h1.59v1.5h-1.59Z" fill="#78a85c" opacity="0.45"/>
</svg>
<rect x="218" y="328.1" width="37.8" height="87.9" fill="none" stroke="#8a8a8a" stroke-width="0.85"/>
<rect x="35.8" y="428.4" width="37.9" height="87.6" fill="#ece8f3"/>
<svg x="35.8" y="428.4" width="37.9" height="87.6" overflow="hidden">
<path d="M36.15 83.03h2.28v0.8h-2.28ZM1.39 73.19h5.68v0.8h-5.68ZM24.72 26.99h5.03v0.8h-5.03ZM22.21 50.91h2.79v0.8h-2.79ZM15.18 34.47h5.62v0.8h-5.62ZM37.69 83.17h4.72v0.8h-4.72ZM15.75 23.5h2.18v0.8h-2.18ZM-0.9 40.72h3.59v0.8h-3.59ZM13.16 78.12h4.63v0.8h-4.63ZM20.36 20.68h2.12v0.8h-2.12ZM10.97 11.97h4.55v0.8h-4.55ZM37.85 59.08h2.91v0.8h-2.91ZM33.65 69.8h5.67v0.8h-5.67ZM34.17 66.83h5.95v0.8h-5.95ZM12.12 85.93h6.81v0.8h-6.81ZM4.43 66.05h5.58v0.8h-5.58ZM16.41 46.46h4.45v0.8h-4.45ZM34.9 43.87h6.16v0.8h-6.16ZM12.12 77.34h6.5v0.8h-6.5ZM16.39 49.73h6.6v0.8h-6.6ZM26.88 42.63h3.11v0.8h-3.11ZM10.95 61.28h2.83v0.8h-2.83ZM34.23 23.49h6.56v0.8h-6.56ZM10.35 83.86h5.53v0.8h-5.53ZM18.12 45.35h5.26v0.8h-5.26ZM21.46 27.32h3.04v0.8h-3.04ZM18.42 81.83h5.12v0.8h-5.12ZM1.01 71.87h5.63v0.8h-5.63ZM34.22 16.77h5.72v0.8h-5.72ZM0.34 57.19h3.37v0.8h-3.37ZM7.04 76.69h2.53v0.8h-2.53ZM18.84 74.81h3.22v0.8h-3.22ZM6.4 77.14h4.11v0.8h-4.11ZM26.61 2.79h3.81v0.8h-3.81ZM4.86 58.93h2.41v0.8h-2.41ZM36.09 2.22h5.65v0.8h-5.65ZM-1.16 22.4h6.07v0.8h-6.07ZM4.27 16.1h5.46v0.8h-5.46ZM13.38 3.78h6.95v0.8h-6.95ZM4.04 3.18h3.72v0.8h-3.72Z" fill="#ddd8ee" opacity="0.6"/>
<path d="M23.32 65.04h1.17v1h-1ZM12.78 2.7h1.67v1h-1ZM29.03 64.82h2.35v1h-1ZM28.64 75.55h2.06v1h-1ZM17.92 19.76h1.99v1h-1ZM11.99 8.94h1.67v1h-1ZM33.15 11.17h1.88v1h-1ZM14.89 45.1h1.22v1h-1ZM36.37 22.7h1.91v1h-1ZM15.91 1.58h1.84v1h-1ZM5.33 4.97h1.05v1h-1ZM6.11 8.4h1.95v1h-1ZM19.26 86.15h2.4v1h-1ZM37.69 20.36h1.67v1h-1ZM9.5 51.79h1.94v1h-1ZM30.33 62.15h1.38v1h-1ZM16.03 46.09h1.01v1h-1ZM1.35 35.8h1.17v1h-1ZM27.43 21.1h1.15v1h-1ZM6.89 20.28h1.33v1h-1ZM19.74 40.68h1.46v1h-1ZM24.32 18.61h2.36v1h-1ZM36.5 63.85h1.65v1h-1ZM19.39 50.9h1.08v1h-1ZM15.84 46h1.27v1h-1ZM3.55 70.31h1.55v1h-1ZM19.68 80.72h1.92v1h-1ZM10.98 86.16h1.56v1h-1ZM0.72 60.03h1.15v1h-1ZM11.59 73.64h2.01v1h-1ZM0.6 39.54h1.62v1h-1ZM18.41 18.24h1.88v1h-1ZM2.8 24.91h1.56v1h-1ZM35.45 6.71h2.13v1h-1ZM7.29 50.07h1.59v1h-1ZM17.56 66.01h1.59v1h-1ZM4.61 10.67h1.12v1h-1ZM32.22 56.15h2.44v1h-1ZM26.25 2.16h1.99v1h-1ZM29.46 63.38h1.75v1h-1ZM13.55 40.04h2.2v1h-1ZM10.19 46.1h1.72v1h-1ZM36.18 70.46h2.4v1h-1ZM31.68 26h1.35v1h-1ZM18.53 22.72h1.64v1h-1ZM25.74 80.47h1.88v1h-1ZM31 8.4h1.53v1h-1ZM37.81 12.83h1.63v1h-1ZM2.53 7.55h2.34v1h-1ZM37.47 56.77h1.19v1h-1Z" fill="#c4bedf" opacity="0.35"/>
<rect x="15.8" y="0" width="6.6" height="87.6" fill="url(#gB)" opacity="0.35"/>
<rect x="18.45" y="0" width="1.3" height="87.6" fill="#98b8de" opacity="0.75"/>
<path d="M18.43 0h1.54v2h-1.54ZM18.23 1h1.48v1h-1.48ZM18.31 5h1.84v1.5h-1.84ZM18.64 6h1.46v1h-1.46ZM17.94 11h1.76v2h-1.76ZM18.16 15h1.58v2h-1.58ZM18.16 20h2.08v2h-2.08ZM18.07 21h1.95v2h-1.95ZM18.42 25h1.84v1.5h-1.84ZM18.1 28h2.28v2h-2.28ZM17.88 30h2.31v2h-2.31ZM18.11 32h2.07v1h-2.07ZM18.09 35h2.01v2h-2.01ZM17.69 38h2.31v1h-2.31ZM18.4 42h1.92v1.5h-1.92ZM18.32 48h2.09v1.5h-2.09ZM18.32 49h1.95v2h-1.95ZM18.29 50h1.47v1.5h-1.47ZM18.28 52h1.59v1h-1.59ZM18.1 58h1.98v2h-1.98ZM18.2 60h1.57v1.5h-1.57ZM18.06 66h1.96v2h-1.96ZM17.94 68h1.82v1h-1.82ZM18.05 69h1.78v1.5h-1.78ZM18.5 70h1.42v1.5h-1.42ZM18.17 72h1.67v1.5h-1.67ZM18.1 73h1.76v1h-1.76ZM18.24 78h1.4v1h-1.4ZM18.16 81h1.45v1.5h-1.45ZM18.25 86h2.21v2h-2.21Z" fill="#98b8de" opacity="0.35"/>
</svg>
<rect x="35.8" y="428.4" width="37.9" height="87.6" fill="none" stroke="#8a8a8a" stroke-width="0.85"/>
<rect x="127" y="428.4" width="37.4" height="87.6" fill="#fcf0de"/>
<svg x="127" y="428.4" width="37.4" height="87.6" overflow="hidden">
<path d="M16.7 57.59h5.33v0.8h-5.33ZM3.62 0.95h3.87v0.8h-3.87ZM8.8 70.99h5.45v0.8h-5.45ZM21.7 48.9h5.31v0.8h-5.31ZM3.72 38.55h2.81v0.8h-2.81ZM33.7 5.15h6.09v0.8h-6.09ZM0.94 60.18h3.68v0.8h-3.68ZM13.94 73.79h2.09v0.8h-2.09ZM0.39 80.16h4.54v0.8h-4.54ZM1.58 86.47h6.73v0.8h-6.73ZM2.43 37.07h2.68v0.8h-2.68ZM10.31 54.44h2.82v0.8h-2.82ZM25.46 4.5h2.86v0.8h-2.86ZM30.14 35.09h4.09v0.8h-4.09ZM21.48 41.76h3.92v0.8h-3.92ZM-0.8 63.63h6.84v0.8h-6.84ZM36.47 58.13h3.78v0.8h-3.78ZM12.31 60.45h5.37v0.8h-5.37ZM2.48 20.58h3.82v0.8h-3.82ZM18.15 70.97h4.5v0.8h-4.5ZM-0.89 72.06h4.15v0.8h-4.15ZM18.45 19.46h4.14v0.8h-4.14ZM13.3 67.62h2.51v0.8h-2.51ZM19.67 15.6h5.48v0.8h-5.48ZM-0.55 24.23h3.72v0.8h-3.72ZM23.1 4.56h4.3v0.8h-4.3ZM6.23 24.69h4.38v0.8h-4.38ZM35.77 42.14h6.78v0.8h-6.78ZM4.6 80.96h3.82v0.8h-3.82ZM5.46 65.57h6.56v0.8h-6.56ZM-1.74 23.5h5.85v0.8h-5.85ZM11.47 21.16h2.04v0.8h-2.04ZM-0.42 54.23h6.92v0.8h-6.92ZM37.34 44.12h2.12v0.8h-2.12ZM10.7 68.98h6.16v0.8h-6.16ZM23.19 20.11h4.64v0.8h-4.64ZM16.81 54.93h3.31v0.8h-3.31ZM35.3 78.34h2.81v0.8h-2.81ZM9.48 76.49h3.39v0.8h-3.39ZM35.19 45.13h5.48v0.8h-5.48ZM25.77 18.75h3.43v0.8h-3.43ZM8.04 59.86h5.47v0.8h-5.47ZM3.19 77.65h4.1v0.8h-4.1ZM7.5 38.13h6.9v0.8h-6.9ZM20.06 54.73h6.6v0.8h-6.6ZM35.9 66.61h4.09v0.8h-4.09ZM21.18 78.92h5.95v0.8h-5.95ZM20.86 30.44h3.84v0.8h-3.84ZM26.99 49.35h2.09v0.8h-2.09ZM25.98 79.17h5.99v0.8h-5.99ZM33.36 79.76h4.67v0.8h-4.67ZM29.09 33.24h2.49v0.8h-2.49ZM11.91 27.34h6.67v0.8h-6.67ZM25.15 47.45h5.11v0.8h-5.11ZM2.91 46.8h5.5v0.8h-5.5ZM13.53 21.53h4.03v0.8h-4.03ZM10.75 60.03h2.71v0.8h-2.71ZM1.57 27.37h5.48v0.8h-5.48ZM27.93 57.76h6.67v0.8h-6.67ZM12.4 2.61h4.44v0.8h-4.44Z" fill="#f6dcb8" opacity="0.6"/>
<path d="M16.59 15.71h2v1h-1ZM12.76 20.88h1.49v1h-1ZM35.3 0.68h1.54v1h-1ZM10.46 17.64h1.65v1h-1ZM8.24 80.49h1.75v1h-1ZM26.11 14.22h1.7v1h-1ZM22.68 73.84h1.37v1h-1ZM17.19 74.88h2.25v1h-1ZM8.51 47.13h2.14v1h-1ZM14.78 58.99h1.99v1h-1ZM36.37 48.52h2.02v1h-1ZM13.1 64.15h1.48v1h-1ZM18.7 31.61h1.46v1h-1ZM5.08 19.77h1.82v1h-1ZM9.42 4.02h2.21v1h-1ZM10.68 82.01h1.9v1h-1ZM14.55 76.48h2.35v1h-1ZM12 11.02h1.96v1h-1ZM31.52 53.3h2.18v1h-1ZM15.42 54.12h1.39v1h-1ZM15.22 33.26h1.58v1h-1ZM14.94 70.71h1.25v1h-1ZM7.67 22.31h2.46v1h-1ZM19.55 4.64h2.25v1h-1ZM32.67 71.93h1.54v1h-1ZM27.48 26.76h1.21v1h-1ZM32.36 72.97h1.32v1h-1ZM32.9 2.15h1.46v1h-1ZM0.48 14.98h1.24v1h-1ZM26.77 25.98h1.29v1h-1ZM6.88 27.33h2.29v1h-1ZM22.7 8.96h2.03v1h-1ZM20.06 39.28h1.79v1h-1ZM24.37 70.14h1.76v1h-1ZM23.77 40.93h1.95v1h-1ZM14.53 36.34h1.77v1h-1ZM26.74 24.4h2.39v1h-1ZM18.38 74.94h2.04v1h-1ZM35.77 59.78h1.64v1h-1ZM15.18 53.23h2.13v1h-1ZM31.38 11.33h1.09v1h-1ZM4.04 7.38h1.08v1h-1ZM0.31 21.86h1.17v1h-1ZM25.63 53.95h2.45v1h-1ZM35.92 65.41h2.42v1h-1ZM1.05 19.97h2.39v1h-1ZM17.78 18.1h2.14v1h-1ZM15.84 47.57h1.47v1h-1ZM9.04 7.64h1.91v1h-1ZM35.63 86.44h2.15v1h-1Z" fill="#f3cc9a" opacity="0.45"/>
<rect x="15.4" y="0" width="7.2" height="87.6" fill="url(#gO)" opacity="0.45"/>
<rect x="18.25" y="0" width="1.5" height="87.6" fill="#e8953f" opacity="0.6"/>
<path d="M17.76 2h2.61v2h-2.61ZM17.91 3h1.74v1.5h-1.74ZM18.24 7h1.96v1.5h-1.96ZM17.8 8h2.57v2h-2.57ZM18.09 10h1.96v1h-1.96ZM18.34 14h1.91v1h-1.91ZM17.98 17h2.16v2h-2.16ZM17.97 18h1.9v1.5h-1.9ZM18.11 21h2.25v1.5h-2.25ZM18.34 25h1.9v2h-1.9ZM17.61 29h2.31v1.5h-2.31ZM17.71 30h2.08v1.5h-2.08ZM17.86 31h2.03v2h-2.03ZM18.22 32h1.74v2h-1.74ZM18.29 33h1.72v1.5h-1.72ZM18.07 41h2.13v2h-2.13ZM17.79 45h1.98v1h-1.98ZM17.7 51h2.5v1.5h-2.5ZM18.2 52h2.01v1h-2.01ZM18.06 53h1.64v1h-1.64ZM17.81 54h2.44v2h-2.44ZM18.33 58h1.77v1.5h-1.77ZM17.86 62h2.59v2h-2.59ZM17.83 63h1.79v2h-1.79ZM17.69 65h2.24v2h-2.24ZM17.87 69h2.09v1.5h-2.09ZM18.17 70h2.16v1.5h-2.16ZM17.79 79h2.46v2h-2.46ZM17.94 80h1.87v1.5h-1.87Z" fill="#e8953f" opacity="0.5"/>
</svg>
<rect x="127" y="428.4" width="37.4" height="87.6" fill="none" stroke="#8a8a8a" stroke-width="0.85"/>
<rect x="218" y="428.4" width="37.8" height="87.6" fill="#eaf2a2"/>
<svg x="218" y="428.4" width="37.8" height="87.6" overflow="hidden">
<path d="M36.14 12.3h2.12v0.8h-2.12ZM37.75 16.14h2.6v0.8h-2.6ZM23.93 30.28h6.45v0.8h-6.45ZM7.22 84.05h3.6v0.8h-3.6ZM21.93 81.65h5.43v0.8h-5.43ZM34.77 62.03h2.24v0.8h-2.24ZM33.08 51.65h3.55v0.8h-3.55ZM5.57 74.44h4.91v0.8h-4.91ZM35.33 67.8h6.81v0.8h-6.81ZM20.54 61.18h5.06v0.8h-5.06ZM8.28 83.81h3.56v0.8h-3.56ZM29.09 83.63h5.25v0.8h-5.25ZM3.66 72.29h5.34v0.8h-5.34ZM5.36 4.3h4.66v0.8h-4.66ZM-0.72 81.04h4.53v0.8h-4.53ZM18.59 35.87h5.3v0.8h-5.3ZM34.48 26.92h3.87v0.8h-3.87ZM21.19 26.05h4.98v0.8h-4.98ZM19.62 37.97h5.37v0.8h-5.37ZM19.02 7.72h6.98v0.8h-6.98ZM12.16 37.82h4.01v0.8h-4.01ZM34.99 83.41h4.56v0.8h-4.56ZM13.95 8.46h6.48v0.8h-6.48ZM4.82 47.88h3.75v0.8h-3.75ZM11.07 31.29h2.96v0.8h-2.96ZM-0.53 46.91h5.98v0.8h-5.98ZM23.75 17.65h5.47v0.8h-5.47ZM0.07 35.98h6.14v0.8h-6.14ZM34.66 40.35h6.23v0.8h-6.23ZM17.84 45.9h4.92v0.8h-4.92ZM37.45 65.15h4.37v0.8h-4.37ZM26.94 56.35h3.77v0.8h-3.77ZM29.21 71.81h5.04v0.8h-5.04ZM35.52 1.59h4.5v0.8h-4.5ZM23.26 29.83h2.86v0.8h-2.86ZM25.54 38.05h3.34v0.8h-3.34ZM-0.33 84.72h3.76v0.8h-3.76ZM2.7 18.95h3.27v0.8h-3.27ZM32.47 15.83h3.38v0.8h-3.38ZM1.87 41.17h3.04v0.8h-3.04ZM11.7 64.38h6.63v0.8h-6.63ZM31.2 3.35h3.89v0.8h-3.89ZM31.79 2.89h3.02v0.8h-3.02ZM17.5 33.5h5.75v0.8h-5.75ZM26.58 40.69h3.25v0.8h-3.25ZM7.18 23.33h2.33v0.8h-2.33ZM24.5 13.82h6.45v0.8h-6.45ZM23.71 4.97h4.49v0.8h-4.49ZM22.03 3.7h4.43v0.8h-4.43ZM-0.81 67.13h2.02v0.8h-2.02ZM23.15 86.33h6.23v0.8h-6.23ZM7.29 46.83h2.7v0.8h-2.7ZM11.62 75.67h6.09v0.8h-6.09ZM-1.64 33.28h5.2v0.8h-5.2ZM4.98 70.31h6.47v0.8h-6.47ZM19.95 31.72h6.24v0.8h-6.24ZM18.41 16.5h3.39v0.8h-3.39ZM4.33 73.47h4.55v0.8h-4.55ZM25.73 71.6h6.87v0.8h-6.87ZM5.58 35.54h6.37v0.8h-6.37ZM28.32 33.88h5.28v0.8h-5.28ZM5.76 14.17h2.25v0.8h-2.25ZM13.11 20.67h4.59v0.8h-4.59ZM36.59 13.39h4.79v0.8h-4.79ZM32.41 52.42h4.64v0.8h-4.64ZM28.56 1.91h6.74v0.8h-6.74ZM25.32 70.66h6.13v0.8h-6.13ZM1.92 5.83h2.89v0.8h-2.89ZM18.09 82.2h6.55v0.8h-6.55ZM14.4 54.52h5.7v0.8h-5.7ZM11.23 85.02h6.71v0.8h-6.71ZM26.93 78.97h6v0.8h-6ZM23.96 28.15h3.41v0.8h-3.41ZM7.49 5.03h6.63v0.8h-6.63ZM9.87 2.09h3.58v0.8h-3.58ZM2.11 39h3.66v0.8h-3.66ZM4.98 41.76h4.07v0.8h-4.07ZM12.09 71.24h3.53v0.8h-3.53ZM19.54 76.91h6.8v0.8h-6.8ZM12.92 3.55h6.75v0.8h-6.75ZM18.46 19.06h2.64v0.8h-2.64ZM7.51 27.2h2.69v0.8h-2.69ZM-0.05 87.11h6.1v0.8h-6.1ZM2.51 42.11h6.01v0.8h-6.01ZM18.08 6.06h3.7v0.8h-3.7ZM13.15 80.11h4.91v0.8h-4.91ZM16.27 55.25h2.24v0.8h-2.24ZM25.31 70.78h5.35v0.8h-5.35ZM12.36 25.05h2.05v0.8h-2.05ZM1.26 13.54h4.27v0.8h-4.27ZM28.98 19.02h4.36v0.8h-4.36ZM23.31 55.14h2.1v0.8h-2.1ZM34.64 51.27h3.52v0.8h-3.52ZM7.52 60.35h6.66v0.8h-6.66ZM11.43 34.87h4.79v0.8h-4.79ZM4.96 35.56h6.59v0.8h-6.59ZM20.14 72.1h3.31v0.8h-3.31ZM32.57 68.56h3.13v0.8h-3.13ZM19.09 59.74h4.86v0.8h-4.86ZM21.96 21.03h4.77v0.8h-4.77ZM12.11 69.9h3.86v0.8h-3.86ZM36.98 50.85h3.14v0.8h-3.14ZM14.55 11.22h5.68v0.8h-5.68ZM-0.17 52.99h3.54v0.8h-3.54ZM28.93 11.11h5.4v0.8h-5.4ZM26.42 20.42h2.65v0.8h-2.65ZM12.83 56.85h3.3v0.8h-3.3ZM-1.65 38.67h6.04v0.8h-6.04ZM4.28 82.41h4.54v0.8h-4.54ZM4.39 8.77h3.85v0.8h-3.85ZM16.96 15.39h2.42v0.8h-2.42ZM17.95 22.25h4.22v0.8h-4.22ZM15.94 61.09h4.89v0.8h-4.89ZM7.09 15.74h6.29v0.8h-6.29ZM0.01 10.79h2.35v0.8h-2.35ZM30.89 47.39h6.62v0.8h-6.62ZM22.93 29.38h4.15v0.8h-4.15ZM27.15 20.26h6.02v0.8h-6.02ZM14.22 3.69h3.72v0.8h-3.72ZM20.3 12.84h6.53v0.8h-6.53ZM34.86 44.79h6.52v0.8h-6.52ZM25.46 47.13h2.79v0.8h-2.79ZM35.92 80.56h4.26v0.8h-4.26ZM13.32 6.45h5.1v0.8h-5.1ZM32.02 34.07h3.44v0.8h-3.44ZM22.39 69.5h2.85v0.8h-2.85ZM9.24 56.26h2.21v0.8h-2.21ZM30.51 27.64h6.16v0.8h-6.16ZM16.1 14.5h2.1v0.8h-2.1ZM2.51 22.8h5.79v0.8h-5.79ZM29.6 55.3h3.54v0.8h-3.54ZM24.43 64.17h3.84v0.8h-3.84ZM1.25 41.08h3.11v0.8h-3.11ZM5.51 34.21h2.37v0.8h-2.37ZM33.74 24.59h6.49v0.8h-6.49ZM27.35 0.95h6.5v0.8h-6.5ZM30.21 46.03h6.42v0.8h-6.42ZM17.04 2.2h2.75v0.8h-2.75ZM10.36 75.16h6.15v0.8h-6.15ZM2.69 30.65h2.56v0.8h-2.56ZM7.09 30.85h4.07v0.8h-4.07ZM3.97 57.61h3.21v0.8h-3.21ZM33.42 42.17h4.15v0.8h-4.15ZM28.48 30.22h3.28v0.8h-3.28ZM2.88 25.82h3.17v0.8h-3.17ZM27.26 31.09h5.53v0.8h-5.53ZM8.97 6.12h3.52v0.8h-3.52ZM13.63 79.73h3v0.8h-3ZM6.42 13.66h3.27v0.8h-3.27ZM36.22 81.63h3.14v0.8h-3.14Z" fill="#d4e488" opacity="0.6"/>
<path d="M1.88 42.62h1.88v1h-1ZM4.22 36.63h2.15v1h-1ZM0.05 62.95h2.03v1h-1ZM29.73 42.65h1.7v1h-1ZM19.6 11.94h1.77v1h-1ZM9.05 28.12h1.07v1h-1ZM5.99 4.84h1.81v1h-1ZM8.93 48.67h1.76v1h-1ZM8.81 11.13h1.89v1h-1ZM25.58 60.47h1.76v1h-1ZM21.92 2.15h1.46v1h-1ZM30.26 33.04h1.16v1h-1ZM15.91 73.06h1.15v1h-1ZM4.23 43.65h2.31v1h-1ZM14.76 21.73h2.15v1h-1ZM3.56 25.88h1.9v1h-1ZM32.11 75.43h1.49v1h-1ZM10.06 31.83h1.18v1h-1ZM10.31 67.15h2.47v1h-1ZM10.21 6.34h2.11v1h-1ZM36.52 69.57h1.62v1h-1ZM28.13 66.62h2.12v1h-1ZM18.63 87.51h2.17v1h-1ZM8.89 37.73h1.13v1h-1ZM14.16 71.6h1.73v1h-1ZM19.82 68.24h1.13v1h-1ZM13.37 42.35h1.74v1h-1ZM25.88 82.08h2.2v1h-1ZM20.62 59.91h1.81v1h-1ZM37.28 52.26h1.89v1h-1ZM14.97 36.73h2.15v1h-1ZM14.1 79.17h2.09v1h-1ZM36.1 61.9h1.85v1h-1ZM13.87 1.58h1.99v1h-1ZM28.4 63.35h2.14v1h-1ZM1.35 59.93h1.42v1h-1ZM14.69 76.08h1.61v1h-1ZM17.65 4.44h1.27v1h-1ZM7.95 18.84h1.78v1h-1ZM1.8 7.8h1.13v1h-1Z" fill="#d6e48c" opacity="0.6"/>
<rect x="13.9" y="0" width="10.2" height="87.6" fill="url(#gG)" opacity="0.5"/>
<rect x="18.4" y="0" width="1.2" height="87.6" fill="#78a85c" opacity="0.6"/>
<path d="M17.8 4h1.95v1h-1.95ZM17.86 6h1.72v1.5h-1.72ZM18.08 7h2.13v1h-2.13ZM18.18 10h1.7v2h-1.7ZM18.19 12h1.36v1.5h-1.36ZM18.17 17h1.54v1.5h-1.54ZM17.69 18h2.09v1.5h-2.09ZM18.22 24h1.59v2h-1.59ZM18.21 25h1.69v1h-1.69ZM18.39 29h1.23v2h-1.23ZM18.38 30h1.75v2h-1.75ZM18.07 32h1.29v1.5h-1.29ZM18.15 34h1.3v2h-1.3ZM18.3 35h1.49v1h-1.49ZM18.56 36h1.35v2h-1.35ZM17.98 37h1.49v2h-1.49ZM18.17 41h1.97v2h-1.97ZM18.17 44h1.84v2h-1.84ZM17.9 48h1.66v1.5h-1.66ZM18.27 49h1.61v1.5h-1.61ZM18.58 51h1.32v2h-1.32ZM18.27 54h1.49v2h-1.49ZM17.94 57h1.66v2h-1.66ZM18.34 59h1.68v2h-1.68ZM18.05 60h1.79v2h-1.79ZM18.47 61h1.29v1.5h-1.29ZM17.95 64h2.02v2h-2.02ZM18.39 68h1.69v1.5h-1.69ZM17.9 69h2v1h-2ZM18.31 72h1.56v2h-1.56ZM17.88 73h2.1v1h-2.1ZM18.22 75h1.66v1.5h-1.66ZM18.11 76h2.03v1h-2.03ZM18.31 78h1.68v2h-1.68ZM17.99 86h1.89v1.5h-1.89Z" fill="#78a85c" opacity="0.45"/>
</svg>
<rect x="218" y="428.4" width="37.8" height="87.6" fill="none" stroke="#8a8a8a" stroke-width="0.85"/>
<rect x="76.3" y="328.1" width="38.1" height="87.9" fill="#fcefe7"/>
<svg x="76.3" y="328.1" width="38.1" height="87.9" overflow="hidden">
<rect x="0" y="0" width="38.1" height="1.02" fill="#e58670" opacity="0.44"/>
<rect x="11.35" y="0" width="14.1" height="1.02" fill="#e58670" opacity="0.21"/>
<rect x="0" y="1" width="38.1" height="1.02" fill="#e58670" opacity="0.25"/>
<rect x="3.86" y="1" width="25.72" height="1.02" fill="#e58670" opacity="0.31"/>
<rect x="0" y="2" width="38.1" height="1.02" fill="#e58670" opacity="0.26"/>
<rect x="13.59" y="2" width="10.27" height="1.02" fill="#e58670" opacity="0.14"/>
<rect x="5.81" y="2" width="25.38" height="1.02" fill="#e58670" opacity="0.28"/>
<rect x="0" y="3" width="38.1" height="1.02" fill="#e58670" opacity="0.26"/>
<rect x="0" y="4" width="38.1" height="1.02" fill="#e58670" opacity="0.14"/>
<rect x="5.33" y="4" width="30.49" height="1.02" fill="#e58670" opacity="0.25"/>
<rect x="0" y="4.99" width="38.1" height="1.02" fill="#e58670" opacity="0.13"/>
<rect x="11.95" y="4.99" width="11.33" height="1.02" fill="#e58670" opacity="0.3"/>
<rect x="-3.37" y="4.99" width="33.4" height="1.02" fill="#e58670" opacity="0.11"/>
<rect x="0" y="5.99" width="38.1" height="1.02" fill="#e58670" opacity="0.04"/>
<rect x="0" y="5.99" width="38.1" height="1.02" fill="#e58670" opacity="0.25"/>
<rect x="0" y="5.99" width="38.1" height="1.02" fill="#e58670" opacity="0.18"/>
<rect x="0" y="6.99" width="38.1" height="1.02" fill="#e58670" opacity="0"/>
<rect x="-4.4" y="6.99" width="33.57" height="1.02" fill="#e58670" opacity="0.13"/>
<rect x="4.75" y="6.99" width="19.29" height="1.02" fill="#e58670" opacity="0.27"/>
<rect x="11.82" y="7.99" width="17.67" height="1.02" fill="#e58670" opacity="0.14"/>
<rect x="9.78" y="7.99" width="15.54" height="1.02" fill="#e58670" opacity="0.11"/>
<rect x="6.79" y="7.99" width="21.5" height="1.02" fill="#e58670" opacity="0.18"/>
<rect x="13.57" y="8.99" width="15.7" height="1.02" fill="#e58670" opacity="0.27"/>
<rect x="0" y="9.99" width="38.1" height="1.02" fill="#e58670" opacity="0.1"/>
<rect x="13.37" y="10.99" width="16.79" height="1.02" fill="#e58670" opacity="0.24"/>
<rect x="6.14" y="11.99" width="16.46" height="1.02" fill="#e58670" opacity="0.25"/>
<rect x="13.64" y="11.99" width="20.56" height="1.02" fill="#e58670" opacity="0.09"/>
<rect x="13.17" y="11.99" width="12.78" height="1.02" fill="#e58670" opacity="0.15"/>
<rect x="0" y="12.99" width="38.1" height="1.02" fill="#e58670" opacity="0.11"/>
<rect x="7.69" y="13.98" width="27.62" height="1.02" fill="#e58670" opacity="0.2"/>
<rect x="1.22" y="14.98" width="27.78" height="1.02" fill="#e58670" opacity="0.21"/>
<rect x="4.87" y="15.98" width="23.71" height="1.02" fill="#e58670" opacity="0.22"/>
<rect x="-1.44" y="16.98" width="31.31" height="1.02" fill="#e58670" opacity="0.19"/>
<rect x="4.13" y="16.98" width="20.43" height="1.02" fill="#e58670" opacity="0.21"/>
<rect x="9.07" y="17.98" width="15.23" height="1.02" fill="#e58670" opacity="0.18"/>
<rect x="15.22" y="17.98" width="15.86" height="1.02" fill="#e58670" opacity="0.18"/>
<rect x="8.3" y="17.98" width="13.73" height="1.02" fill="#e58670" opacity="0.19"/>
<rect x="0" y="18.98" width="38.1" height="1.02" fill="#e58670" opacity="0.19"/>
<rect x="5.01" y="18.98" width="31.32" height="1.02" fill="#e58670" opacity="0.21"/>
<rect x="-0.64" y="19.98" width="30.54" height="1.02" fill="#e58670" opacity="0.16"/>
<rect x="13.13" y="19.98" width="16.34" height="1.02" fill="#e58670" opacity="0.1"/>
<rect x="2.54" y="20.98" width="33.85" height="1.02" fill="#e58670" opacity="0.12"/>
<rect x="11.9" y="20.98" width="10.55" height="1.02" fill="#e58670" opacity="0.08"/>
<rect x="15.69" y="20.98" width="10" height="1.02" fill="#e58670" opacity="0.12"/>
<rect x="0" y="21.97" width="38.1" height="1.02" fill="#e58670" opacity="0.09"/>
<rect x="0" y="23.97" width="38.1" height="1.02" fill="#e58670" opacity="0.1"/>
<rect x="0" y="23.97" width="38.1" height="1.02" fill="#e58670" opacity="0.18"/>
<rect x="5.75" y="23.97" width="22.41" height="1.02" fill="#e58670" opacity="0.12"/>
<rect x="12.48" y="24.97" width="12.74" height="1.02" fill="#e58670" opacity="0.21"/>
<rect x="-3.93" y="25.97" width="29.26" height="1.02" fill="#e58670" opacity="0.15"/>
<rect x="-0.44" y="25.97" width="27.4" height="1.02" fill="#e58670" opacity="0.17"/>
<rect x="13.97" y="27.97" width="18.16" height="1.02" fill="#e58670" opacity="0.2"/>
<rect x="13.81" y="27.97" width="21.6" height="1.02" fill="#e58670" opacity="0.15"/>
<rect x="14.74" y="28.97" width="13" height="1.02" fill="#e58670" opacity="0.11"/>
<rect x="-1.91" y="28.97" width="26.6" height="1.02" fill="#e58670" opacity="0.17"/>
<rect x="0" y="28.97" width="38.1" height="1.02" fill="#e58670" opacity="0.2"/>
<rect x="2.63" y="29.97" width="22.47" height="1.02" fill="#e58670" opacity="0.17"/>
<rect x="-4.05" y="29.97" width="30.46" height="1.02" fill="#e58670" opacity="0.11"/>
<rect x="6.26" y="29.97" width="22.51" height="1.02" fill="#e58670" opacity="0.18"/>
<rect x="0" y="30.96" width="38.1" height="1.02" fill="#e58670" opacity="0.15"/>
<rect x="6.89" y="30.96" width="23.46" height="1.02" fill="#e58670" opacity="0.12"/>
<rect x="6.79" y="31.96" width="32.39" height="1.02" fill="#e58670" opacity="0.12"/>
<rect x="-3.51" y="31.96" width="29.73" height="1.02" fill="#e58670" opacity="0.08"/>
<rect x="0" y="31.96" width="38.1" height="1.02" fill="#e58670" opacity="0.1"/>
<rect x="0" y="32.96" width="38.1" height="1.02" fill="#e58670" opacity="0.16"/>
<rect x="11.27" y="32.96" width="17.5" height="1.02" fill="#e58670" opacity="0.09"/>
<rect x="11.03" y="33.96" width="14.42" height="1.02" fill="#e58670" opacity="0.12"/>
<rect x="11.8" y="33.96" width="22.63" height="1.02" fill="#e58670" opacity="0.11"/>
<rect x="2.41" y="33.96" width="22.64" height="1.02" fill="#e58670" opacity="0.14"/>
<rect x="6.08" y="34.96" width="31.88" height="1.02" fill="#e58670" opacity="0.15"/>
<rect x="-6.59" y="34.96" width="34.25" height="1.02" fill="#e58670" opacity="0.18"/>
<rect x="14.38" y="34.96" width="15.95" height="1.02" fill="#e58670" opacity="0.09"/>
<rect x="15.31" y="35.96" width="9.96" height="1.02" fill="#e58670" opacity="0.11"/>
<rect x="5.06" y="36.96" width="21.98" height="1.02" fill="#e58670" opacity="0.12"/>
<rect x="0" y="36.96" width="38.1" height="1.02" fill="#e58670" opacity="0.06"/>
<rect x="11.7" y="36.96" width="23.61" height="1.02" fill="#e58670" opacity="0.12"/>
<rect x="7.76" y="38.96" width="21.09" height="1.02" fill="#e58670" opacity="0.14"/>
<rect x="0" y="38.96" width="38.1" height="1.02" fill="#e58670" opacity="0.12"/>
<rect x="12.3" y="39.95" width="19.56" height="1.02" fill="#e58670" opacity="0.1"/>
<rect x="0" y="39.95" width="38.1" height="1.02" fill="#e58670" opacity="0.11"/>
<rect x="-4.62" y="40.95" width="33.86" height="1.02" fill="#e58670" opacity="0.12"/>
<rect x="14.45" y="43.95" width="9.79" height="1.02" fill="#e58670" opacity="0.08"/>
<rect x="8.64" y="44.95" width="22.73" height="1.02" fill="#e58670" opacity="0.11"/>
<rect x="0" y="46.95" width="38.1" height="1.02" fill="#e58670" opacity="0.08"/>
<rect x="0" y="46.95" width="38.1" height="1.02" fill="#e58670" opacity="0.08"/>
<rect x="-0.3" y="47.95" width="23.59" height="1.02" fill="#e58670" opacity="0.09"/>
<rect x="0" y="48.94" width="38.1" height="1.02" fill="#e58670" opacity="0.13"/>
<rect x="12.7" y="48.94" width="24.66" height="1.02" fill="#e58670" opacity="0.06"/>
<rect x="8.65" y="49.94" width="16.6" height="1.02" fill="#e58670" opacity="0.09"/>
<rect x="14.99" y="49.94" width="16.86" height="1.02" fill="#e58670" opacity="0.06"/>
<rect x="0" y="49.94" width="38.1" height="1.02" fill="#e58670" opacity="0.04"/>
<rect x="10.07" y="50.94" width="11.35" height="1.02" fill="#e58670" opacity="0.12"/>
<rect x="5.31" y="51.94" width="27.42" height="1.02" fill="#e58670" opacity="0.08"/>
<rect x="15.13" y="52.94" width="14.57" height="1.02" fill="#e58670" opacity="0.09"/>
<rect x="6.16" y="52.94" width="26.07" height="1.02" fill="#e58670" opacity="0.05"/>
<rect x="3.57" y="52.94" width="28.79" height="1.02" fill="#e58670" opacity="0.08"/>
<rect x="1.86" y="53.94" width="28.95" height="1.02" fill="#e58670" opacity="0.04"/>
<rect x="5.45" y="53.94" width="23.51" height="1.02" fill="#e58670" opacity="0.06"/>
<rect x="-4.92" y="54.94" width="32.2" height="1.02" fill="#e58670" opacity="0.05"/>
<rect x="6.99" y="54.94" width="20.05" height="1.02" fill="#e58670" opacity="0.04"/>
<rect x="0" y="54.94" width="38.1" height="1.02" fill="#e58670" opacity="0.07"/>
<rect x="11.52" y="55.94" width="21.38" height="1.02" fill="#e58670" opacity="0.08"/>
<rect x="15.41" y="55.94" width="11.37" height="1.02" fill="#e58670" opacity="0.09"/>
<rect x="6.04" y="56.94" width="29.58" height="1.02" fill="#e58670" opacity="0.06"/>
<rect x="0" y="57.93" width="38.1" height="1.02" fill="#e58670" opacity="0.05"/>
<rect x="8.45" y="58.93" width="26.5" height="1.02" fill="#e58670" opacity="0.07"/>
<rect x="14.09" y="58.93" width="11.55" height="1.02" fill="#e58670" opacity="0.04"/>
<rect x="6.95" y="59.93" width="27.5" height="1.02" fill="#e58670" opacity="0.04"/>
<rect x="-6.16" y="59.93" width="32.27" height="1.02" fill="#e58670" opacity="0.07"/>
<rect x="-5.57" y="60.93" width="32.67" height="1.02" fill="#e58670" opacity="0.04"/>
<rect x="10.4" y="60.93" width="18.52" height="1.02" fill="#e58670" opacity="0.05"/>
<rect x="3.16" y="60.93" width="29.26" height="1.02" fill="#e58670" opacity="0.04"/>
<rect x="14.98" y="61.93" width="16.5" height="1.02" fill="#e58670" opacity="0.07"/>
<rect x="-1.26" y="61.93" width="33.46" height="1.02" fill="#e58670" opacity="0.06"/>
<rect x="10.53" y="62.93" width="31.79" height="1.02" fill="#e58670" opacity="0.03"/>
<rect x="3.72" y="63.93" width="22.44" height="1.02" fill="#e58670" opacity="0.03"/>
<rect x="5.51" y="63.93" width="26.18" height="1.02" fill="#e58670" opacity="0.04"/>
<rect x="-2.46" y="64.93" width="30.66" height="1.02" fill="#e58670" opacity="0.06"/>
<rect x="9.47" y="65.92" width="19.97" height="1.02" fill="#e58670" opacity="0.05"/>
<rect x="10.98" y="66.92" width="20.05" height="1.02" fill="#e58670" opacity="0.03"/>
<rect x="15.18" y="67.92" width="13.97" height="1.02" fill="#e58670" opacity="0.04"/>
<rect x="15.74" y="67.92" width="10.43" height="1.02" fill="#e58670" opacity="0.04"/>
<rect x="3.3" y="67.92" width="27.29" height="1.02" fill="#e58670" opacity="0.03"/>
<rect x="9.38" y="68.92" width="17.24" height="1.02" fill="#e58670" opacity="0.02"/>
<rect x="5.46" y="68.92" width="32.17" height="1.02" fill="#e58670" opacity="0.03"/>
<rect x="0" y="69.92" width="38.1" height="1.02" fill="#e58670" opacity="0.02"/>
<rect x="9.66" y="70.92" width="25.81" height="1.02" fill="#e58670" opacity="0.02"/>
<rect x="0.13" y="70.92" width="29.26" height="1.02" fill="#e58670" opacity="0.03"/>
<rect x="5.51" y="71.92" width="22.31" height="1.02" fill="#e58670" opacity="0.02"/>
<rect x="0" y="71.92" width="38.1" height="1.02" fill="#e58670" opacity="0.03"/>
<rect x="0.18" y="73.92" width="33.19" height="1.02" fill="#e58670" opacity="0.03"/>
<rect x="0" y="74.91" width="38.1" height="1.02" fill="#e58670" opacity="0.05"/>
<rect x="9.11" y="74.91" width="13.43" height="1.02" fill="#e58670" opacity="0.03"/>
<rect x="7.17" y="75.91" width="27.24" height="1.02" fill="#e58670" opacity="0.03"/>
<rect x="-4.86" y="75.91" width="33.47" height="1.02" fill="#e58670" opacity="0.03"/>
<rect x="7.34" y="76.91" width="23.5" height="1.02" fill="#e58670" opacity="0.04"/>
<rect x="10.16" y="76.91" width="14.64" height="1.02" fill="#e58670" opacity="0.05"/>
<rect x="11.69" y="76.91" width="16.91" height="1.02" fill="#e58670" opacity="0.03"/>
<rect x="4.94" y="77.91" width="17.68" height="1.02" fill="#e58670" opacity="0.02"/>
<rect x="10.84" y="77.91" width="30" height="1.02" fill="#e58670" opacity="0.04"/>
<rect x="14.14" y="79.91" width="9.91" height="1.02" fill="#e58670" opacity="0.03"/>
<rect x="11.74" y="80.91" width="25.64" height="1.02" fill="#e58670" opacity="0.03"/>
<rect x="1.52" y="80.91" width="29.96" height="1.02" fill="#e58670" opacity="0.03"/>
<rect x="10.31" y="81.91" width="13.04" height="1.02" fill="#e58670" opacity="0.03"/>
<rect x="14.89" y="82.91" width="14.43" height="1.02" fill="#e58670" opacity="0.05"/>
<rect x="5.11" y="82.91" width="17.68" height="1.02" fill="#e58670" opacity="0.04"/>
<rect x="0" y="83.9" width="38.1" height="1.02" fill="#e58670" opacity="0.05"/>
<rect x="6.52" y="83.9" width="16.07" height="1.02" fill="#e58670" opacity="0.03"/>
<rect x="7.57" y="84.9" width="31.74" height="1.02" fill="#e58670" opacity="0.04"/>
<rect x="0" y="84.9" width="38.1" height="1.02" fill="#e58670" opacity="0.04"/>
<rect x="-1.01" y="85.9" width="32.79" height="1.02" fill="#e58670" opacity="0.02"/>
<rect x="7.97" y="85.9" width="18.98" height="1.02" fill="#e58670" opacity="0.04"/>
<rect x="11.31" y="86.9" width="23.63" height="1.02" fill="#e58670" opacity="0.02"/>
<rect x="8.12" y="86.9" width="17.75" height="1.02" fill="#e58670" opacity="0.02"/>
<rect x="0" y="86.9" width="38.1" height="1.02" fill="#e58670" opacity="0.04"/>
<rect x="-22.69" y="0" width="82.5" height="1.04" fill="url(#gR)" opacity="0.31"/>
<rect x="-22.34" y="1" width="81.28" height="1.04" fill="url(#gR)" opacity="0.26"/>
<rect x="-22.02" y="2" width="80.06" height="1.04" fill="url(#gR)" opacity="0.26"/>
<rect x="-21.15" y="3" width="78.86" height="1.04" fill="url(#gR)" opacity="0.31"/>
<rect x="-20.6" y="4" width="77.66" height="1.04" fill="url(#gR)" opacity="0.28"/>
<rect x="-20.02" y="4.99" width="76.47" height="1.04" fill="url(#gR)" opacity="0.24"/>
<rect x="-19.4" y="5.99" width="75.29" height="1.04" fill="url(#gR)" opacity="0.26"/>
<rect x="-18.41" y="6.99" width="74.12" height="1.04" fill="url(#gR)" opacity="0.26"/>
<rect x="-17.49" y="7.99" width="72.95" height="1.04" fill="url(#gR)" opacity="0.25"/>
<rect x="-17.72" y="8.99" width="71.8" height="1.04" fill="url(#gR)" opacity="0.35"/>
<rect x="-16.38" y="9.99" width="70.65" height="1.04" fill="url(#gR)" opacity="0.26"/>
<rect x="-16.52" y="10.99" width="69.52" height="1.04" fill="url(#gR)" opacity="0.35"/>
<rect x="-15.96" y="11.99" width="68.39" height="1.04" fill="url(#gR)" opacity="0.24"/>
<rect x="-14.65" y="12.99" width="67.27" height="1.04" fill="url(#gR)" opacity="0.35"/>
<rect x="-14.17" y="13.98" width="66.16" height="1.04" fill="url(#gR)" opacity="0.23"/>
<rect x="-14.45" y="14.98" width="65.06" height="1.04" fill="url(#gR)" opacity="0.35"/>
<rect x="-13.3" y="15.98" width="63.96" height="1.04" fill="url(#gR)" opacity="0.28"/>
<rect x="-12.86" y="16.98" width="62.88" height="1.04" fill="url(#gR)" opacity="0.28"/>
<rect x="-12.15" y="17.98" width="61.8" height="1.04" fill="url(#gR)" opacity="0.24"/>
<rect x="-11.93" y="18.98" width="60.74" height="1.04" fill="url(#gR)" opacity="0.31"/>
<rect x="-11.53" y="19.98" width="59.68" height="1.04" fill="url(#gR)" opacity="0.3"/>
<rect x="-10.69" y="20.98" width="58.64" height="1.04" fill="url(#gR)" opacity="0.28"/>
<rect x="-10.77" y="21.97" width="57.6" height="1.04" fill="url(#gR)" opacity="0.28"/>
<rect x="-9.66" y="22.97" width="56.57" height="1.04" fill="url(#gR)" opacity="0.28"/>
<rect x="-9.58" y="23.97" width="55.55" height="1.04" fill="url(#gR)" opacity="0.31"/>
<rect x="-8.88" y="24.97" width="54.54" height="1.04" fill="url(#gR)" opacity="0.32"/>
<rect x="-7.86" y="25.97" width="53.54" height="1.04" fill="url(#gR)" opacity="0.3"/>
<rect x="-8.06" y="26.97" width="52.55" height="1.04" fill="url(#gR)" opacity="0.31"/>
<rect x="-7" y="27.97" width="51.57" height="1.04" fill="url(#gR)" opacity="0.28"/>
<rect x="-6.5" y="28.97" width="50.6" height="1.04" fill="url(#gR)" opacity="0.22"/>
<rect x="-6.29" y="29.97" width="49.64" height="1.04" fill="url(#gR)" opacity="0.24"/>
<rect x="-5.81" y="30.96" width="48.69" height="1.04" fill="url(#gR)" opacity="0.24"/>
<rect x="-5.81" y="31.96" width="47.75" height="1.04" fill="url(#gR)" opacity="0.3"/>
<rect x="-4.49" y="32.96" width="46.82" height="1.04" fill="url(#gR)" opacity="0.29"/>
<rect x="-4.22" y="33.96" width="45.9" height="1.04" fill="url(#gR)" opacity="0.22"/>
<rect x="-3.64" y="34.96" width="44.99" height="1.04" fill="url(#gR)" opacity="0.28"/>
<rect x="-3.62" y="35.96" width="44.09" height="1.04" fill="url(#gR)" opacity="0.31"/>
<rect x="-2.63" y="36.96" width="43.2" height="1.04" fill="url(#gR)" opacity="0.32"/>
<rect x="-2.96" y="37.96" width="42.32" height="1.04" fill="url(#gR)" opacity="0.23"/>
<rect x="-2.66" y="38.96" width="41.45" height="1.04" fill="url(#gR)" opacity="0.22"/>
<rect x="-1.45" y="39.95" width="40.59" height="1.04" fill="url(#gR)" opacity="0.29"/>
<rect x="-1.17" y="40.95" width="39.75" height="1.04" fill="url(#gR)" opacity="0.3"/>
<rect x="-0.54" y="41.95" width="38.91" height="1.04" fill="url(#gR)" opacity="0.23"/>
<rect x="-0.14" y="42.95" width="38.08" height="1.04" fill="url(#gR)" opacity="0.25"/>
<rect x="-0.23" y="43.95" width="37.27" height="1.04" fill="url(#gR)" opacity="0.29"/>
<rect x="0" y="44.95" width="36.46" height="1.04" fill="url(#gR)" opacity="0.27"/>
<rect x="0.81" y="45.95" width="35.67" height="1.04" fill="url(#gR)" opacity="0.31"/>
<rect x="1.17" y="46.95" width="34.89" height="1.04" fill="url(#gR)" opacity="0.2"/>
<rect x="1.85" y="47.95" width="34.12" height="1.04" fill="url(#gR)" opacity="0.23"/>
<rect x="1.92" y="48.94" width="33.36" height="1.04" fill="url(#gR)" opacity="0.21"/>
<rect x="2.12" y="49.94" width="32.61" height="1.04" fill="url(#gR)" opacity="0.3"/>
<rect x="2.45" y="50.94" width="31.88" height="1.04" fill="url(#gR)" opacity="0.28"/>
<rect x="2.9" y="51.94" width="31.15" height="1.04" fill="url(#gR)" opacity="0.24"/>
<rect x="3.38" y="52.94" width="30.44" height="1.04" fill="url(#gR)" opacity="0.28"/>
<rect x="4.08" y="53.94" width="29.74" height="1.04" fill="url(#gR)" opacity="0.3"/>
<rect x="4.23" y="54.94" width="29.05" height="1.04" fill="url(#gR)" opacity="0.26"/>
<rect x="4.49" y="55.94" width="28.38" height="1.04" fill="url(#gR)" opacity="0.2"/>
<rect x="4.91" y="56.94" width="27.71" height="1.04" fill="url(#gR)" opacity="0.26"/>
<rect x="5.02" y="57.93" width="27.06" height="1.04" fill="url(#gR)" opacity="0.22"/>
<rect x="4.86" y="58.93" width="26.43" height="1.04" fill="url(#gR)" opacity="0.28"/>
<rect x="5.79" y="59.93" width="25.8" height="1.04" fill="url(#gR)" opacity="0.26"/>
<rect x="6.21" y="60.93" width="25.19" height="1.04" fill="url(#gR)" opacity="0.23"/>
<rect x="6.26" y="61.93" width="24.6" height="1.04" fill="url(#gR)" opacity="0.27"/>
<rect x="6.54" y="62.93" width="24.01" height="1.04" fill="url(#gR)" opacity="0.19"/>
<rect x="7.02" y="63.93" width="23.44" height="1.04" fill="url(#gR)" opacity="0.2"/>
<rect x="7.28" y="64.93" width="22.89" height="1.04" fill="url(#gR)" opacity="0.24"/>
<rect x="7.72" y="65.92" width="22.35" height="1.04" fill="url(#gR)" opacity="0.27"/>
<rect x="7.83" y="66.92" width="21.82" height="1.04" fill="url(#gR)" opacity="0.19"/>
<rect x="7.66" y="67.92" width="21.31" height="1.04" fill="url(#gR)" opacity="0.18"/>
<rect x="7.78" y="68.92" width="20.81" height="1.04" fill="url(#gR)" opacity="0.2"/>
<rect x="8.79" y="69.92" width="20.33" height="1.04" fill="url(#gR)" opacity="0.23"/>
<rect x="8.6" y="70.92" width="19.86" height="1.04" fill="url(#gR)" opacity="0.21"/>
<rect x="8.45" y="71.92" width="19.41" height="1.04" fill="url(#gR)" opacity="0.19"/>
<rect x="8.51" y="72.92" width="18.98" height="1.04" fill="url(#gR)" opacity="0.25"/>
<rect x="8.99" y="73.92" width="18.56" height="1.04" fill="url(#gR)" opacity="0.18"/>
<rect x="9.71" y="74.91" width="18.17" height="1.04" fill="url(#gR)" opacity="0.2"/>
<rect x="9.42" y="75.91" width="17.78" height="1.04" fill="url(#gR)" opacity="0.2"/>
<rect x="9.3" y="76.91" width="17.42" height="1.04" fill="url(#gR)" opacity="0.23"/>
<rect x="10.13" y="77.91" width="17.08" height="1.04" fill="url(#gR)" opacity="0.21"/>
<rect x="10.46" y="78.91" width="16.76" height="1.04" fill="url(#gR)" opacity="0.21"/>
<rect x="10.59" y="79.91" width="16.46" height="1.04" fill="url(#gR)" opacity="0.24"/>
<rect x="10.57" y="80.91" width="16.18" height="1.04" fill="url(#gR)" opacity="0.24"/>
<rect x="10.81" y="81.91" width="15.92" height="1.04" fill="url(#gR)" opacity="0.18"/>
<rect x="10.87" y="82.91" width="15.69" height="1.04" fill="url(#gR)" opacity="0.21"/>
<rect x="10.72" y="83.9" width="15.48" height="1.04" fill="url(#gR)" opacity="0.18"/>
<rect x="11.17" y="84.9" width="15.3" height="1.04" fill="url(#gR)" opacity="0.17"/>
<rect x="10.5" y="85.9" width="15.16" height="1.04" fill="url(#gR)" opacity="0.1"/>
<rect x="10.67" y="86.9" width="15.05" height="1.04" fill="url(#gR)" opacity="0.04"/>
<rect x="2.06" y="0" width="33" height="1.04" fill="url(#gR)" opacity="0.88"/>
<rect x="2.05" y="1" width="32.51" height="1.04" fill="url(#gR)" opacity="0.73"/>
<rect x="2" y="2" width="32.02" height="1.04" fill="url(#gR)" opacity="0.76"/>
<rect x="2.51" y="3" width="31.54" height="1.04" fill="url(#gR)" opacity="0.87"/>
<rect x="2.7" y="4" width="31.06" height="1.04" fill="url(#gR)" opacity="0.81"/>
<rect x="2.92" y="4.99" width="30.59" height="1.04" fill="url(#gR)" opacity="0.69"/>
<rect x="3.19" y="5.99" width="30.12" height="1.04" fill="url(#gR)" opacity="0.73"/>
<rect x="3.82" y="6.99" width="29.65" height="1.04" fill="url(#gR)" opacity="0.73"/>
<rect x="4.4" y="7.99" width="29.18" height="1.04" fill="url(#gR)" opacity="0.72"/>
<rect x="3.82" y="8.99" width="28.72" height="1.04" fill="url(#gR)" opacity="1"/>
<rect x="4.82" y="9.99" width="28.26" height="1.04" fill="url(#gR)" opacity="0.75"/>
<rect x="4.34" y="10.99" width="27.81" height="1.04" fill="url(#gR)" opacity="1"/>
<rect x="4.55" y="11.99" width="27.35" height="1.04" fill="url(#gR)" opacity="0.69"/>
<rect x="5.53" y="12.99" width="26.91" height="1.04" fill="url(#gR)" opacity="1"/>
<rect x="5.68" y="13.98" width="26.46" height="1.04" fill="url(#gR)" opacity="0.67"/>
<rect x="5.06" y="14.98" width="26.02" height="1.04" fill="url(#gR)" opacity="1"/>
<rect x="5.89" y="15.98" width="25.58" height="1.04" fill="url(#gR)" opacity="0.79"/>
<rect x="6.01" y="16.98" width="25.15" height="1.04" fill="url(#gR)" opacity="0.8"/>
<rect x="6.39" y="17.98" width="24.72" height="1.04" fill="url(#gR)" opacity="0.68"/>
<rect x="6.29" y="18.98" width="24.3" height="1.04" fill="url(#gR)" opacity="0.89"/>
<rect x="6.38" y="19.98" width="23.87" height="1.04" fill="url(#gR)" opacity="0.86"/>
<rect x="6.9" y="20.98" width="23.45" height="1.04" fill="url(#gR)" opacity="0.79"/>
<rect x="6.5" y="21.97" width="23.04" height="1.04" fill="url(#gR)" opacity="0.8"/>
<rect x="7.32" y="22.97" width="22.63" height="1.04" fill="url(#gR)" opacity="0.8"/>
<rect x="7.09" y="23.97" width="22.22" height="1.04" fill="url(#gR)" opacity="0.88"/>
<rect x="7.48" y="24.97" width="21.82" height="1.04" fill="url(#gR)" opacity="0.9"/>
<rect x="8.2" y="25.97" width="21.42" height="1.04" fill="url(#gR)" opacity="0.85"/>
<rect x="7.7" y="26.97" width="21.02" height="1.04" fill="url(#gR)" opacity="0.88"/>
<rect x="8.48" y="27.97" width="20.63" height="1.04" fill="url(#gR)" opacity="0.81"/>
<rect x="8.68" y="28.97" width="20.24" height="1.04" fill="url(#gR)" opacity="0.64"/>
<rect x="8.6" y="29.97" width="19.86" height="1.04" fill="url(#gR)" opacity="0.69"/>
<rect x="8.8" y="30.96" width="19.48" height="1.04" fill="url(#gR)" opacity="0.68"/>
<rect x="8.52" y="31.96" width="19.1" height="1.04" fill="url(#gR)" opacity="0.85"/>
<rect x="9.56" y="32.96" width="18.73" height="1.04" fill="url(#gR)" opacity="0.82"/>
<rect x="9.55" y="33.96" width="18.36" height="1.04" fill="url(#gR)" opacity="0.64"/>
<rect x="9.86" y="34.96" width="18" height="1.04" fill="url(#gR)" opacity="0.81"/>
<rect x="9.6" y="35.96" width="17.64" height="1.04" fill="url(#gR)" opacity="0.88"/>
<rect x="10.33" y="36.96" width="17.28" height="1.04" fill="url(#gR)" opacity="0.91"/>
<rect x="9.74" y="37.96" width="16.93" height="1.04" fill="url(#gR)" opacity="0.66"/>
<rect x="9.77" y="38.96" width="16.58" height="1.04" fill="url(#gR)" opacity="0.62"/>
<rect x="10.73" y="39.95" width="16.24" height="1.04" fill="url(#gR)" opacity="0.82"/>
<rect x="10.76" y="40.95" width="15.9" height="1.04" fill="url(#gR)" opacity="0.85"/>
<rect x="11.13" y="41.95" width="15.56" height="1.04" fill="url(#gR)" opacity="0.67"/>
<rect x="11.28" y="42.95" width="15.23" height="1.04" fill="url(#gR)" opacity="0.71"/>
<rect x="10.95" y="43.95" width="14.91" height="1.04" fill="url(#gR)" opacity="0.83"/>
<rect x="10.94" y="44.95" width="14.59" height="1.04" fill="url(#gR)" opacity="0.78"/>
<rect x="11.51" y="45.95" width="14.27" height="1.04" fill="url(#gR)" opacity="0.9"/>
<rect x="11.64" y="46.95" width="13.96" height="1.04" fill="url(#gR)" opacity="0.58"/>
<rect x="12.08" y="47.95" width="13.65" height="1.04" fill="url(#gR)" opacity="0.65"/>
<rect x="11.93" y="48.94" width="13.34" height="1.04" fill="url(#gR)" opacity="0.59"/>
<rect x="11.9" y="49.94" width="13.04" height="1.04" fill="url(#gR)" opacity="0.86"/>
<rect x="12.01" y="50.94" width="12.75" height="1.04" fill="url(#gR)" opacity="0.8"/>
<rect x="12.25" y="51.94" width="12.46" height="1.04" fill="url(#gR)" opacity="0.69"/>
<rect x="12.52" y="52.94" width="12.18" height="1.04" fill="url(#gR)" opacity="0.81"/>
<rect x="13" y="53.94" width="11.9" height="1.04" fill="url(#gR)" opacity="0.86"/>
<rect x="12.94" y="54.94" width="11.62" height="1.04" fill="url(#gR)" opacity="0.74"/>
<rect x="13" y="55.94" width="11.35" height="1.04" fill="url(#gR)" opacity="0.57"/>
<rect x="13.23" y="56.94" width="11.09" height="1.04" fill="url(#gR)" opacity="0.73"/>
<rect x="13.14" y="57.93" width="10.83" height="1.04" fill="url(#gR)" opacity="0.64"/>
<rect x="12.79" y="58.93" width="10.57" height="1.04" fill="url(#gR)" opacity="0.8"/>
<rect x="13.53" y="59.93" width="10.32" height="1.04" fill="url(#gR)" opacity="0.75"/>
<rect x="13.76" y="60.93" width="10.08" height="1.04" fill="url(#gR)" opacity="0.66"/>
<rect x="13.64" y="61.93" width="9.84" height="1.04" fill="url(#gR)" opacity="0.78"/>
<rect x="13.74" y="62.93" width="9.6" height="1.04" fill="url(#gR)" opacity="0.54"/>
<rect x="14.06" y="63.93" width="9.38" height="1.04" fill="url(#gR)" opacity="0.56"/>
<rect x="14.14" y="64.93" width="9.15" height="1.04" fill="url(#gR)" opacity="0.68"/>
<rect x="14.42" y="65.92" width="8.94" height="1.04" fill="url(#gR)" opacity="0.76"/>
<rect x="14.38" y="66.92" width="8.73" height="1.04" fill="url(#gR)" opacity="0.56"/>
<rect x="14.05" y="67.92" width="8.52" height="1.04" fill="url(#gR)" opacity="0.53"/>
<rect x="14.02" y="68.92" width="8.32" height="1.04" fill="url(#gR)" opacity="0.57"/>
<rect x="14.89" y="69.92" width="8.13" height="1.04" fill="url(#gR)" opacity="0.66"/>
<rect x="14.56" y="70.92" width="7.94" height="1.04" fill="url(#gR)" opacity="0.61"/>
<rect x="14.27" y="71.92" width="7.77" height="1.04" fill="url(#gR)" opacity="0.54"/>
<rect x="14.21" y="72.92" width="7.59" height="1.04" fill="url(#gR)" opacity="0.72"/>
<rect x="14.56" y="73.92" width="7.43" height="1.04" fill="url(#gR)" opacity="0.52"/>
<rect x="15.16" y="74.91" width="7.27" height="1.04" fill="url(#gR)" opacity="0.58"/>
<rect x="14.75" y="75.91" width="7.11" height="1.04" fill="url(#gR)" opacity="0.58"/>
<rect x="14.53" y="76.91" width="6.97" height="1.04" fill="url(#gR)" opacity="0.67"/>
<rect x="15.25" y="77.91" width="6.83" height="1.04" fill="url(#gR)" opacity="0.59"/>
<rect x="15.49" y="78.91" width="6.7" height="1.04" fill="url(#gR)" opacity="0.59"/>
<rect x="15.53" y="79.91" width="6.58" height="1.04" fill="url(#gR)" opacity="0.69"/>
<rect x="15.43" y="80.91" width="6.47" height="1.04" fill="url(#gR)" opacity="0.69"/>
<rect x="15.58" y="81.91" width="6.37" height="1.04" fill="url(#gR)" opacity="0.51"/>
<rect x="15.58" y="82.91" width="6.27" height="1.04" fill="url(#gR)" opacity="0.61"/>
<rect x="15.37" y="83.9" width="6.19" height="1.04" fill="url(#gR)" opacity="0.51"/>
<rect x="15.76" y="84.9" width="6.12" height="1.04" fill="url(#gR)" opacity="0.5"/>
<rect x="15.04" y="85.9" width="6.06" height="1.04" fill="url(#gR)" opacity="0.27"/>
<rect x="15.19" y="86.9" width="6.02" height="1.04" fill="url(#gR)" opacity="0.11"/>
<rect x="0" y="20.98" width="38.1" height="0.7" fill="#fdf3ee" opacity="0.45"/>
<rect x="0" y="27.97" width="38.1" height="0.7" fill="#fdf3ee" opacity="0.24"/>
<rect x="0" y="31.96" width="38.1" height="0.7" fill="#fdf3ee" opacity="0.44"/>
<rect x="0" y="33.96" width="38.1" height="0.7" fill="#fdf3ee" opacity="0.31"/>
<rect x="0" y="35.96" width="38.1" height="0.7" fill="#fdf3ee" opacity="0.22"/>
<rect x="0" y="42.95" width="38.1" height="0.7" fill="#fdf3ee" opacity="0.46"/>
<rect x="0" y="45.95" width="38.1" height="0.7" fill="#fdf3ee" opacity="0.48"/>
<rect x="0" y="46.95" width="38.1" height="0.7" fill="#fdf3ee" opacity="0.39"/>
<rect x="0" y="48.94" width="38.1" height="0.7" fill="#fdf3ee" opacity="0.29"/>
<rect x="0" y="49.94" width="38.1" height="0.7" fill="#fdf3ee" opacity="0.31"/>
<rect x="0" y="50.94" width="38.1" height="0.7" fill="#fdf3ee" opacity="0.51"/>
<rect x="0" y="55.94" width="38.1" height="0.7" fill="#fdf3ee" opacity="0.21"/>
<rect x="0" y="62.93" width="38.1" height="0.7" fill="#fdf3ee" opacity="0.3"/>
<rect x="0" y="65.92" width="38.1" height="0.7" fill="#fdf3ee" opacity="0.49"/>
<rect x="0" y="68.92" width="38.1" height="0.7" fill="#fdf3ee" opacity="0.51"/>
<rect x="0" y="70.92" width="38.1" height="0.7" fill="#fdf3ee" opacity="0.42"/>
<rect x="0" y="71.92" width="38.1" height="0.7" fill="#fdf3ee" opacity="0.51"/>
<rect x="0" y="72.92" width="38.1" height="0.7" fill="#fdf3ee" opacity="0.24"/>
<rect x="0" y="78.91" width="38.1" height="0.7" fill="#fdf3ee" opacity="0.44"/>
<rect x="0" y="81.91" width="38.1" height="0.7" fill="#fdf3ee" opacity="0.28"/>
<rect x="0" y="84.9" width="38.1" height="0.7" fill="#fdf3ee" opacity="0.26"/>
<rect x="0" y="85.9" width="38.1" height="0.7" fill="#fdf3ee" opacity="0.43"/>
</svg>
<rect x="76.3" y="328.1" width="38.1" height="87.9" fill="none" stroke="#8a8a8a" stroke-width="0.85"/>
<rect x="76.3" y="428.4" width="38.1" height="87.6" fill="#fcefe7"/>
<svg x="76.3" y="428.4" width="38.1" height="87.6" overflow="hidden">
<rect x="0" y="0" width="38.1" height="1.02" fill="#e58670" opacity="0.26"/>
<rect x="0" y="0" width="38.1" height="1.02" fill="#e58670" opacity="0.17"/>
<rect x="5.44" y="0" width="24.42" height="1.02" fill="#e58670" opacity="0.48"/>
<rect x="0" y="1" width="38.1" height="1.02" fill="#e58670" opacity="0.15"/>
<rect x="0" y="1" width="38.1" height="1.02" fill="#e58670" opacity="0.47"/>
<rect x="0" y="1.99" width="38.1" height="1.02" fill="#e58670" opacity="0.15"/>
<rect x="12.87" y="1.99" width="22.13" height="1.02" fill="#e58670" opacity="0.18"/>
<rect x="0" y="2.99" width="38.1" height="1.02" fill="#e58670" opacity="0.06"/>
<rect x="0" y="2.99" width="38.1" height="1.02" fill="#e58670" opacity="0.39"/>
<rect x="9.72" y="2.99" width="19.44" height="1.02" fill="#e58670" opacity="0.22"/>
<rect x="0" y="3.98" width="38.1" height="1.02" fill="#e58670" opacity="0.02"/>
<rect x="-1.66" y="3.98" width="33.7" height="1.02" fill="#e58670" opacity="0.42"/>
<rect x="11.47" y="3.98" width="26.21" height="1.02" fill="#e58670" opacity="0.29"/>
<rect x="3.71" y="3.98" width="29.59" height="1.02" fill="#e58670" opacity="0.29"/>
<rect x="0" y="4.98" width="38.1" height="1.02" fill="#e58670" opacity="0.34"/>
<rect x="12.11" y="4.98" width="12.07" height="1.02" fill="#e58670" opacity="0.29"/>
<rect x="0" y="4.98" width="38.1" height="1.02" fill="#e58670" opacity="0.4"/>
<rect x="0" y="5.97" width="38.1" height="1.02" fill="#e58670" opacity="0.31"/>
<rect x="1.92" y="5.97" width="21.44" height="1.02" fill="#e58670" opacity="0.32"/>
<rect x="11.95" y="6.97" width="32.11" height="1.02" fill="#e58670" opacity="0.21"/>
<rect x="0" y="6.97" width="38.1" height="1.02" fill="#e58670" opacity="0.41"/>
<rect x="0" y="6.97" width="38.1" height="1.02" fill="#e58670" opacity="0.15"/>
<rect x="0" y="7.96" width="38.1" height="1.02" fill="#e58670" opacity="0.15"/>
<rect x="9.54" y="8.96" width="25.05" height="1.02" fill="#e58670" opacity="0.32"/>
<rect x="1.83" y="9.95" width="26.76" height="1.02" fill="#e58670" opacity="0.45"/>
<rect x="0" y="9.95" width="38.1" height="1.02" fill="#e58670" opacity="0.23"/>
<rect x="0" y="10.95" width="38.1" height="1.02" fill="#e58670" opacity="0.42"/>
<rect x="5.05" y="10.95" width="23.39" height="1.02" fill="#e58670" opacity="0.28"/>
<rect x="2.57" y="11.95" width="29.07" height="1.02" fill="#e58670" opacity="0.32"/>
<rect x="13.56" y="11.95" width="23.48" height="1.02" fill="#e58670" opacity="0.25"/>
<rect x="0" y="12.94" width="38.1" height="1.02" fill="#e58670" opacity="0.37"/>
<rect x="5.35" y="13.94" width="22.94" height="1.02" fill="#e58670" opacity="0.41"/>
<rect x="11.8" y="13.94" width="19.29" height="1.02" fill="#e58670" opacity="0.29"/>
<rect x="15.18" y="13.94" width="13.04" height="1.02" fill="#e58670" opacity="0.23"/>
<rect x="0" y="15.93" width="38.1" height="1.02" fill="#e58670" opacity="0.25"/>
<rect x="0" y="15.93" width="38.1" height="1.02" fill="#e58670" opacity="0.19"/>
<rect x="0" y="16.92" width="38.1" height="1.02" fill="#e58670" opacity="0.2"/>
<rect x="4.93" y="16.92" width="21.93" height="1.02" fill="#e58670" opacity="0.18"/>
<rect x="7.86" y="16.92" width="30.4" height="1.02" fill="#e58670" opacity="0.25"/>
<rect x="6.83" y="17.92" width="19.31" height="1.02" fill="#e58670" opacity="0.27"/>
<rect x="0" y="18.91" width="38.1" height="1.02" fill="#e58670" opacity="0.31"/>
<rect x="0" y="18.91" width="38.1" height="1.02" fill="#e58670" opacity="0.21"/>
<rect x="0" y="19.91" width="38.1" height="1.02" fill="#e58670" opacity="0.18"/>
<rect x="4.63" y="19.91" width="19.16" height="1.02" fill="#e58670" opacity="0.36"/>
<rect x="2.01" y="20.9" width="24.59" height="1.02" fill="#e58670" opacity="0.28"/>
<rect x="0" y="20.9" width="38.1" height="1.02" fill="#e58670" opacity="0.27"/>
<rect x="0" y="20.9" width="38.1" height="1.02" fill="#e58670" opacity="0.21"/>
<rect x="0" y="21.9" width="38.1" height="1.02" fill="#e58670" opacity="0.16"/>
<rect x="-3.08" y="21.9" width="31.16" height="1.02" fill="#e58670" opacity="0.12"/>
<rect x="8.65" y="22.9" width="30.16" height="1.02" fill="#e58670" opacity="0.14"/>
<rect x="0" y="22.9" width="38.1" height="1.02" fill="#e58670" opacity="0.18"/>
<rect x="0" y="23.89" width="38.1" height="1.02" fill="#e58670" opacity="0.15"/>
<rect x="11.13" y="23.89" width="12.06" height="1.02" fill="#e58670" opacity="0.31"/>
<rect x="5.69" y="24.89" width="22.04" height="1.02" fill="#e58670" opacity="0.25"/>
<rect x="0" y="24.89" width="38.1" height="1.02" fill="#e58670" opacity="0.25"/>
<rect x="6.1" y="24.89" width="16.42" height="1.02" fill="#e58670" opacity="0.22"/>
<rect x="0" y="27.87" width="38.1" height="1.02" fill="#e58670" opacity="0.11"/>
<rect x="0" y="27.87" width="38.1" height="1.02" fill="#e58670" opacity="0.15"/>
<rect x="7.98" y="29.86" width="20.01" height="1.02" fill="#e58670" opacity="0.13"/>
<rect x="0" y="29.86" width="38.1" height="1.02" fill="#e58670" opacity="0.14"/>
<rect x="7.08" y="32.85" width="28.28" height="1.02" fill="#e58670" opacity="0.22"/>
<rect x="11.68" y="32.85" width="21.54" height="1.02" fill="#e58670" opacity="0.24"/>
<rect x="11.86" y="33.85" width="12.67" height="1.02" fill="#e58670" opacity="0.15"/>
<rect x="11.2" y="34.84" width="13.8" height="1.02" fill="#e58670" opacity="0.2"/>
<rect x="0" y="34.84" width="38.1" height="1.02" fill="#e58670" opacity="0.18"/>
<rect x="9.62" y="34.84" width="17.71" height="1.02" fill="#e58670" opacity="0.14"/>
<rect x="0" y="35.84" width="38.1" height="1.02" fill="#e58670" opacity="0.11"/>
<rect x="11.76" y="35.84" width="16.88" height="1.02" fill="#e58670" opacity="0.13"/>
<rect x="0" y="36.83" width="38.1" height="1.02" fill="#e58670" opacity="0.18"/>
<rect x="10.56" y="36.83" width="26.21" height="1.02" fill="#e58670" opacity="0.2"/>
<rect x="4.48" y="37.83" width="25.3" height="1.02" fill="#e58670" opacity="0.1"/>
<rect x="4.26" y="37.83" width="32.73" height="1.02" fill="#e58670" opacity="0.22"/>
<rect x="5.39" y="38.82" width="21.95" height="1.02" fill="#e58670" opacity="0.14"/>
<rect x="0" y="39.82" width="38.1" height="1.02" fill="#e58670" opacity="0.11"/>
<rect x="0" y="40.81" width="38.1" height="1.02" fill="#e58670" opacity="0.18"/>
<rect x="0" y="40.81" width="38.1" height="1.02" fill="#e58670" opacity="0.1"/>
<rect x="0" y="41.81" width="38.1" height="1.02" fill="#e58670" opacity="0.1"/>
<rect x="0" y="41.81" width="38.1" height="1.02" fill="#e58670" opacity="0.17"/>
<rect x="14.07" y="41.81" width="13.14" height="1.02" fill="#e58670" opacity="0.14"/>
<rect x="0" y="42.8" width="38.1" height="1.02" fill="#e58670" opacity="0.1"/>
<rect x="11.53" y="43.8" width="12.21" height="1.02" fill="#e58670" opacity="0.12"/>
<rect x="6.74" y="43.8" width="25.48" height="1.02" fill="#e58670" opacity="0.15"/>
<rect x="0" y="44.8" width="38.1" height="1.02" fill="#e58670" opacity="0.1"/>
<rect x="1.69" y="44.8" width="31.72" height="1.02" fill="#e58670" opacity="0.11"/>
<rect x="0" y="45.79" width="38.1" height="1.02" fill="#e58670" opacity="0.15"/>
<rect x="11.85" y="45.79" width="14.97" height="1.02" fill="#e58670" opacity="0.11"/>
<rect x="0.18" y="46.79" width="31.05" height="1.02" fill="#e58670" opacity="0.12"/>
<rect x="0" y="46.79" width="38.1" height="1.02" fill="#e58670" opacity="0.07"/>
<rect x="11.19" y="46.79" width="13.01" height="1.02" fill="#e58670" opacity="0.05"/>
<rect x="-5.75" y="47.78" width="30.83" height="1.02" fill="#e58670" opacity="0.06"/>
<rect x="9.55" y="47.78" width="16.52" height="1.02" fill="#e58670" opacity="0.08"/>
<rect x="0" y="48.78" width="38.1" height="1.02" fill="#e58670" opacity="0.11"/>
<rect x="13.78" y="48.78" width="18.39" height="1.02" fill="#e58670" opacity="0.04"/>
<rect x="0.56" y="49.77" width="22.65" height="1.02" fill="#e58670" opacity="0.08"/>
<rect x="0" y="49.77" width="38.1" height="1.02" fill="#e58670" opacity="0.11"/>
<rect x="9.78" y="50.77" width="27.02" height="1.02" fill="#e58670" opacity="0.11"/>
<rect x="0" y="50.77" width="38.1" height="1.02" fill="#e58670" opacity="0.11"/>
<rect x="-2.55" y="50.77" width="26.35" height="1.02" fill="#e58670" opacity="0.07"/>
<rect x="-0.19" y="51.76" width="31.35" height="1.02" fill="#e58670" opacity="0.04"/>
<rect x="0" y="51.76" width="38.1" height="1.02" fill="#e58670" opacity="0.05"/>
<rect x="5.05" y="52.76" width="22.26" height="1.02" fill="#e58670" opacity="0.09"/>
<rect x="-5.49" y="52.76" width="33.91" height="1.02" fill="#e58670" opacity="0.08"/>
<rect x="0" y="53.75" width="38.1" height="1.02" fill="#e58670" opacity="0.05"/>
<rect x="0" y="53.75" width="38.1" height="1.02" fill="#e58670" opacity="0.05"/>
<rect x="0" y="54.75" width="38.1" height="1.02" fill="#e58670" opacity="0.05"/>
<rect x="3.38" y="54.75" width="25.62" height="1.02" fill="#e58670" opacity="0.08"/>
<rect x="13.83" y="55.75" width="13.74" height="1.02" fill="#e58670" opacity="0.04"/>
<rect x="0" y="55.75" width="38.1" height="1.02" fill="#e58670" opacity="0.06"/>
<rect x="2.25" y="56.74" width="21.8" height="1.02" fill="#e58670" opacity="0.02"/>
<rect x="14.55" y="57.74" width="15.98" height="1.02" fill="#e58670" opacity="0.03"/>
<rect x="-0.32" y="57.74" width="31.28" height="1.02" fill="#e58670" opacity="0.03"/>
<rect x="12.27" y="58.73" width="9.73" height="1.02" fill="#e58670" opacity="0.02"/>
<rect x="0" y="58.73" width="38.1" height="1.02" fill="#e58670" opacity="0.03"/>
<rect x="12.74" y="58.73" width="22.8" height="1.02" fill="#e58670" opacity="0.06"/>
<rect x="15.21" y="59.73" width="13.26" height="1.02" fill="#e58670" opacity="0.03"/>
<rect x="0" y="60.72" width="38.1" height="1.02" fill="#e58670" opacity="0.05"/>
<rect x="4.06" y="60.72" width="31.28" height="1.02" fill="#e58670" opacity="0.04"/>
<rect x="16.08" y="62.71" width="9.62" height="1.02" fill="#e58670" opacity="0.05"/>
<rect x="-0.96" y="65.7" width="27.97" height="1.02" fill="#e58670" opacity="0.04"/>
<rect x="10.76" y="65.7" width="10.69" height="1.02" fill="#e58670" opacity="0.03"/>
<rect x="0" y="65.7" width="38.1" height="1.02" fill="#e58670" opacity="0.03"/>
<rect x="0" y="66.7" width="38.1" height="1.02" fill="#e58670" opacity="0.02"/>
<rect x="0" y="67.69" width="38.1" height="1.02" fill="#e58670" opacity="0.03"/>
<rect x="0" y="67.69" width="38.1" height="1.02" fill="#e58670" opacity="0.04"/>
<rect x="-3.07" y="67.69" width="27.31" height="1.02" fill="#e58670" opacity="0.02"/>
<rect x="1.72" y="68.69" width="26.48" height="1.02" fill="#e58670" opacity="0.02"/>
<rect x="14.68" y="68.69" width="11.7" height="1.02" fill="#e58670" opacity="0.05"/>
<rect x="0" y="69.68" width="38.1" height="1.02" fill="#e58670" opacity="0.05"/>
<rect x="0" y="69.68" width="38.1" height="1.02" fill="#e58670" opacity="0.02"/>
<rect x="0" y="69.68" width="38.1" height="1.02" fill="#e58670" opacity="0.04"/>
<rect x="11.59" y="70.68" width="10.79" height="1.02" fill="#e58670" opacity="0.02"/>
<rect x="0" y="71.67" width="38.1" height="1.02" fill="#e58670" opacity="0.04"/>
<rect x="10.5" y="71.67" width="33.91" height="1.02" fill="#e58670" opacity="0.06"/>
<rect x="1.73" y="72.67" width="30.65" height="1.02" fill="#e58670" opacity="0.05"/>
<rect x="0.12" y="72.67" width="24.05" height="1.02" fill="#e58670" opacity="0.04"/>
<rect x="11.8" y="73.66" width="27.53" height="1.02" fill="#e58670" opacity="0.04"/>
<rect x="11.13" y="73.66" width="13.75" height="1.02" fill="#e58670" opacity="0.03"/>
<rect x="0" y="74.66" width="38.1" height="1.02" fill="#e58670" opacity="0.04"/>
<rect x="4.21" y="74.66" width="18.07" height="1.02" fill="#e58670" opacity="0.03"/>
<rect x="11.29" y="74.66" width="33.89" height="1.02" fill="#e58670" opacity="0.05"/>
<rect x="6.56" y="75.65" width="20.73" height="1.02" fill="#e58670" opacity="0.05"/>
<rect x="2.34" y="76.65" width="30.99" height="1.02" fill="#e58670" opacity="0.04"/>
<rect x="0" y="76.65" width="38.1" height="1.02" fill="#e58670" opacity="0.02"/>
<rect x="13.69" y="77.65" width="10.26" height="1.02" fill="#e58670" opacity="0.03"/>
<rect x="0" y="78.64" width="38.1" height="1.02" fill="#e58670" opacity="0.06"/>
<rect x="11.27" y="79.64" width="14.67" height="1.02" fill="#e58670" opacity="0.03"/>
<rect x="2.12" y="79.64" width="28.44" height="1.02" fill="#e58670" opacity="0.05"/>
<rect x="13.35" y="80.63" width="18.84" height="1.02" fill="#e58670" opacity="0.04"/>
<rect x="12.4" y="80.63" width="26.08" height="1.02" fill="#e58670" opacity="0.05"/>
<rect x="8.93" y="80.63" width="12.47" height="1.02" fill="#e58670" opacity="0.03"/>
<rect x="11.02" y="81.63" width="29.7" height="1.02" fill="#e58670" opacity="0.04"/>
<rect x="0" y="82.62" width="38.1" height="1.02" fill="#e58670" opacity="0.02"/>
<rect x="0" y="83.62" width="38.1" height="1.02" fill="#e58670" opacity="0.05"/>
<rect x="1.14" y="83.62" width="30.52" height="1.02" fill="#e58670" opacity="0.04"/>
<rect x="9.65" y="84.61" width="33.73" height="1.02" fill="#e58670" opacity="0.04"/>
<rect x="4.04" y="84.61" width="19.37" height="1.02" fill="#e58670" opacity="0.03"/>
<rect x="0" y="85.61" width="38.1" height="1.02" fill="#e58670" opacity="0.03"/>
<rect x="0" y="86.6" width="38.1" height="1.02" fill="#e58670" opacity="0.05"/>
<rect x="-7.86" y="0" width="53.04" height="1.04" fill="url(#gR)" opacity="0.27"/>
<rect x="-7.77" y="1" width="52.42" height="1.04" fill="url(#gR)" opacity="0.22"/>
<rect x="-7.5" y="1.99" width="51.8" height="1.04" fill="url(#gR)" opacity="0.24"/>
<rect x="-7.17" y="2.99" width="51.19" height="1.04" fill="url(#gR)" opacity="0.21"/>
<rect x="-6.81" y="3.98" width="50.58" height="1.04" fill="url(#gR)" opacity="0.27"/>
<rect x="-6.16" y="4.98" width="49.97" height="1.04" fill="url(#gR)" opacity="0.2"/>
<rect x="-6.34" y="5.97" width="49.37" height="1.04" fill="url(#gR)" opacity="0.22"/>
<rect x="-5.46" y="6.97" width="48.77" height="1.04" fill="url(#gR)" opacity="0.21"/>
<rect x="-5.1" y="7.96" width="48.17" height="1.04" fill="url(#gR)" opacity="0.26"/>
<rect x="-5.15" y="8.96" width="47.57" height="1.04" fill="url(#gR)" opacity="0.28"/>
<rect x="-5.2" y="9.95" width="46.98" height="1.04" fill="url(#gR)" opacity="0.2"/>
<rect x="-4.5" y="10.95" width="46.39" height="1.04" fill="url(#gR)" opacity="0.26"/>
<rect x="-4.14" y="11.95" width="45.8" height="1.04" fill="url(#gR)" opacity="0.28"/>
<rect x="-3.81" y="12.94" width="45.22" height="1.04" fill="url(#gR)" opacity="0.27"/>
<rect x="-3.97" y="13.94" width="44.64" height="1.04" fill="url(#gR)" opacity="0.19"/>
<rect x="-3.34" y="14.93" width="44.06" height="1.04" fill="url(#gR)" opacity="0.21"/>
<rect x="-3.71" y="15.93" width="43.49" height="1.04" fill="url(#gR)" opacity="0.21"/>
<rect x="-3.45" y="16.92" width="42.92" height="1.04" fill="url(#gR)" opacity="0.27"/>
<rect x="-2.32" y="17.92" width="42.35" height="1.04" fill="url(#gR)" opacity="0.22"/>
<rect x="-2.34" y="18.91" width="41.78" height="1.04" fill="url(#gR)" opacity="0.26"/>
<rect x="-2.39" y="19.91" width="41.22" height="1.04" fill="url(#gR)" opacity="0.18"/>
<rect x="-2.01" y="20.9" width="40.67" height="1.04" fill="url(#gR)" opacity="0.25"/>
<rect x="-1.25" y="21.9" width="40.11" height="1.04" fill="url(#gR)" opacity="0.2"/>
<rect x="-1.04" y="22.9" width="39.56" height="1.04" fill="url(#gR)" opacity="0.2"/>
<rect x="-1.34" y="23.89" width="39.01" height="1.04" fill="url(#gR)" opacity="0.18"/>
<rect x="-0.78" y="24.89" width="38.47" height="1.04" fill="url(#gR)" opacity="0.21"/>
<rect x="-0.11" y="25.88" width="37.93" height="1.04" fill="url(#gR)" opacity="0.2"/>
<rect x="-0.29" y="26.88" width="37.39" height="1.04" fill="url(#gR)" opacity="0.2"/>
<rect x="-0.36" y="27.87" width="36.85" height="1.04" fill="url(#gR)" opacity="0.17"/>
<rect x="0.8" y="28.87" width="36.32" height="1.04" fill="url(#gR)" opacity="0.21"/>
<rect x="0.33" y="29.86" width="35.8" height="1.04" fill="url(#gR)" opacity="0.15"/>
<rect x="1.32" y="30.86" width="35.27" height="1.04" fill="url(#gR)" opacity="0.2"/>
<rect x="0.92" y="31.85" width="34.75" height="1.04" fill="url(#gR)" opacity="0.18"/>
<rect x="1.11" y="32.85" width="34.24" height="1.04" fill="url(#gR)" opacity="0.15"/>
<rect x="1.5" y="33.85" width="33.73" height="1.04" fill="url(#gR)" opacity="0.19"/>
<rect x="1.81" y="34.84" width="33.22" height="1.04" fill="url(#gR)" opacity="0.17"/>
<rect x="1.82" y="35.84" width="32.71" height="1.04" fill="url(#gR)" opacity="0.18"/>
<rect x="2.41" y="36.83" width="32.21" height="1.04" fill="url(#gR)" opacity="0.17"/>
<rect x="2.43" y="37.83" width="31.71" height="1.04" fill="url(#gR)" opacity="0.18"/>
<rect x="2.75" y="38.82" width="31.22" height="1.04" fill="url(#gR)" opacity="0.18"/>
<rect x="3.35" y="39.82" width="30.73" height="1.04" fill="url(#gR)" opacity="0.19"/>
<rect x="3.84" y="40.81" width="30.25" height="1.04" fill="url(#gR)" opacity="0.17"/>
<rect x="3.17" y="41.81" width="29.77" height="1.04" fill="url(#gR)" opacity="0.14"/>
<rect x="4.26" y="42.8" width="29.29" height="1.04" fill="url(#gR)" opacity="0.2"/>
<rect x="4.14" y="43.8" width="28.82" height="1.04" fill="url(#gR)" opacity="0.19"/>
<rect x="4.32" y="44.8" width="28.35" height="1.04" fill="url(#gR)" opacity="0.13"/>
<rect x="4.9" y="45.79" width="27.89" height="1.04" fill="url(#gR)" opacity="0.17"/>
<rect x="5.03" y="46.79" width="27.43" height="1.04" fill="url(#gR)" opacity="0.19"/>
<rect x="5.48" y="47.78" width="26.97" height="1.04" fill="url(#gR)" opacity="0.14"/>
<rect x="5.56" y="48.78" width="26.52" height="1.04" fill="url(#gR)" opacity="0.18"/>
<rect x="5.38" y="49.77" width="26.08" height="1.04" fill="url(#gR)" opacity="0.16"/>
<rect x="5.24" y="50.77" width="25.64" height="1.04" fill="url(#gR)" opacity="0.19"/>
<rect x="5.84" y="51.76" width="25.2" height="1.04" fill="url(#gR)" opacity="0.17"/>
<rect x="5.71" y="52.76" width="24.77" height="1.04" fill="url(#gR)" opacity="0.12"/>
<rect x="6" y="53.75" width="24.34" height="1.04" fill="url(#gR)" opacity="0.16"/>
<rect x="7.03" y="54.75" width="23.92" height="1.04" fill="url(#gR)" opacity="0.14"/>
<rect x="6.79" y="55.75" width="23.5" height="1.04" fill="url(#gR)" opacity="0.12"/>
<rect x="7.39" y="56.74" width="23.09" height="1.04" fill="url(#gR)" opacity="0.12"/>
<rect x="6.93" y="57.74" width="22.68" height="1.04" fill="url(#gR)" opacity="0.12"/>
<rect x="7.72" y="58.73" width="22.28" height="1.04" fill="url(#gR)" opacity="0.14"/>
<rect x="7.35" y="59.73" width="21.89" height="1.04" fill="url(#gR)" opacity="0.12"/>
<rect x="8.14" y="60.72" width="21.5" height="1.04" fill="url(#gR)" opacity="0.12"/>
<rect x="7.85" y="61.72" width="21.12" height="1.04" fill="url(#gR)" opacity="0.17"/>
<rect x="7.9" y="62.71" width="20.74" height="1.04" fill="url(#gR)" opacity="0.11"/>
<rect x="8.05" y="63.71" width="20.37" height="1.04" fill="url(#gR)" opacity="0.1"/>
<rect x="8.39" y="64.7" width="20" height="1.04" fill="url(#gR)" opacity="0.16"/>
<rect x="9.07" y="65.7" width="19.64" height="1.04" fill="url(#gR)" opacity="0.11"/>
<rect x="8.53" y="66.7" width="19.29" height="1.04" fill="url(#gR)" opacity="0.14"/>
<rect x="8.99" y="67.69" width="18.94" height="1.04" fill="url(#gR)" opacity="0.1"/>
<rect x="9.44" y="68.69" width="18.6" height="1.04" fill="url(#gR)" opacity="0.14"/>
<rect x="8.96" y="69.68" width="18.27" height="1.04" fill="url(#gR)" opacity="0.13"/>
<rect x="9.47" y="70.68" width="17.94" height="1.04" fill="url(#gR)" opacity="0.1"/>
<rect x="9.35" y="71.67" width="17.63" height="1.04" fill="url(#gR)" opacity="0.14"/>
<rect x="10.31" y="72.67" width="17.32" height="1.04" fill="url(#gR)" opacity="0.14"/>
<rect x="9.82" y="73.66" width="17.01" height="1.04" fill="url(#gR)" opacity="0.13"/>
<rect x="10.07" y="74.66" width="16.72" height="1.04" fill="url(#gR)" opacity="0.14"/>
<rect x="9.89" y="75.65" width="16.44" height="1.04" fill="url(#gR)" opacity="0.14"/>
<rect x="10.58" y="76.65" width="16.16" height="1.04" fill="url(#gR)" opacity="0.11"/>
<rect x="10.11" y="77.65" width="15.9" height="1.04" fill="url(#gR)" opacity="0.13"/>
<rect x="10.35" y="78.64" width="15.64" height="1.04" fill="url(#gR)" opacity="0.1"/>
<rect x="10.86" y="79.64" width="15.4" height="1.04" fill="url(#gR)" opacity="0.1"/>
<rect x="10.51" y="80.63" width="15.17" height="1.04" fill="url(#gR)" opacity="0.11"/>
<rect x="10.53" y="81.63" width="14.95" height="1.04" fill="url(#gR)" opacity="0.1"/>
<rect x="11.28" y="82.62" width="14.74" height="1.04" fill="url(#gR)" opacity="0.1"/>
<rect x="11.32" y="83.62" width="14.55" height="1.04" fill="url(#gR)" opacity="0.09"/>
<rect x="11.62" y="84.61" width="14.38" height="1.04" fill="url(#gR)" opacity="0.06"/>
<rect x="11.65" y="85.61" width="14.24" height="1.04" fill="url(#gR)" opacity="0.05"/>
<rect x="11.24" y="86.6" width="14.11" height="1.04" fill="url(#gR)" opacity="0.03"/>
<rect x="8.46" y="0" width="20.4" height="1.04" fill="url(#gR)" opacity="0.89"/>
<rect x="8.36" y="1" width="20.16" height="1.04" fill="url(#gR)" opacity="0.74"/>
<rect x="8.44" y="1.99" width="19.92" height="1.04" fill="url(#gR)" opacity="0.81"/>
<rect x="8.58" y="2.99" width="19.69" height="1.04" fill="url(#gR)" opacity="0.71"/>
<rect x="8.75" y="3.98" width="19.45" height="1.04" fill="url(#gR)" opacity="0.89"/>
<rect x="9.21" y="4.98" width="19.22" height="1.04" fill="url(#gR)" opacity="0.66"/>
<rect x="8.85" y="5.97" width="18.99" height="1.04" fill="url(#gR)" opacity="0.75"/>
<rect x="9.55" y="6.97" width="18.76" height="1.04" fill="url(#gR)" opacity="0.7"/>
<rect x="9.72" y="7.96" width="18.53" height="1.04" fill="url(#gR)" opacity="0.86"/>
<rect x="9.49" y="8.96" width="18.3" height="1.04" fill="url(#gR)" opacity="0.92"/>
<rect x="9.26" y="9.95" width="18.07" height="1.04" fill="url(#gR)" opacity="0.68"/>
<rect x="9.77" y="10.95" width="17.84" height="1.04" fill="url(#gR)" opacity="0.85"/>
<rect x="9.95" y="11.95" width="17.62" height="1.04" fill="url(#gR)" opacity="0.94"/>
<rect x="10.1" y="12.94" width="17.39" height="1.04" fill="url(#gR)" opacity="0.91"/>
<rect x="9.77" y="13.94" width="17.17" height="1.04" fill="url(#gR)" opacity="0.63"/>
<rect x="10.22" y="14.93" width="16.95" height="1.04" fill="url(#gR)" opacity="0.69"/>
<rect x="9.67" y="15.93" width="16.73" height="1.04" fill="url(#gR)" opacity="0.71"/>
<rect x="9.75" y="16.92" width="16.51" height="1.04" fill="url(#gR)" opacity="0.89"/>
<rect x="10.71" y="17.92" width="16.29" height="1.04" fill="url(#gR)" opacity="0.72"/>
<rect x="10.52" y="18.91" width="16.07" height="1.04" fill="url(#gR)" opacity="0.88"/>
<rect x="10.3" y="19.91" width="15.86" height="1.04" fill="url(#gR)" opacity="0.6"/>
<rect x="10.5" y="20.9" width="15.64" height="1.04" fill="url(#gR)" opacity="0.84"/>
<rect x="11.09" y="21.9" width="15.43" height="1.04" fill="url(#gR)" opacity="0.68"/>
<rect x="11.13" y="22.9" width="15.22" height="1.04" fill="url(#gR)" opacity="0.66"/>
<rect x="10.66" y="23.89" width="15" height="1.04" fill="url(#gR)" opacity="0.59"/>
<rect x="11.05" y="24.89" width="14.79" height="1.04" fill="url(#gR)" opacity="0.7"/>
<rect x="11.56" y="25.88" width="14.59" height="1.04" fill="url(#gR)" opacity="0.68"/>
<rect x="11.22" y="26.88" width="14.38" height="1.04" fill="url(#gR)" opacity="0.65"/>
<rect x="10.98" y="27.87" width="14.17" height="1.04" fill="url(#gR)" opacity="0.56"/>
<rect x="11.98" y="28.87" width="13.97" height="1.04" fill="url(#gR)" opacity="0.69"/>
<rect x="11.34" y="29.86" width="13.77" height="1.04" fill="url(#gR)" opacity="0.52"/>
<rect x="12.17" y="30.86" width="13.57" height="1.04" fill="url(#gR)" opacity="0.68"/>
<rect x="11.61" y="31.85" width="13.37" height="1.04" fill="url(#gR)" opacity="0.6"/>
<rect x="11.64" y="32.85" width="13.17" height="1.04" fill="url(#gR)" opacity="0.5"/>
<rect x="11.88" y="33.85" width="12.97" height="1.04" fill="url(#gR)" opacity="0.64"/>
<rect x="12.03" y="34.84" width="12.78" height="1.04" fill="url(#gR)" opacity="0.55"/>
<rect x="11.88" y="35.84" width="12.58" height="1.04" fill="url(#gR)" opacity="0.6"/>
<rect x="12.32" y="36.83" width="12.39" height="1.04" fill="url(#gR)" opacity="0.58"/>
<rect x="12.18" y="37.83" width="12.2" height="1.04" fill="url(#gR)" opacity="0.58"/>
<rect x="12.36" y="38.82" width="12.01" height="1.04" fill="url(#gR)" opacity="0.59"/>
<rect x="12.8" y="39.82" width="11.82" height="1.04" fill="url(#gR)" opacity="0.62"/>
<rect x="13.15" y="40.81" width="11.63" height="1.04" fill="url(#gR)" opacity="0.55"/>
<rect x="12.33" y="41.81" width="11.45" height="1.04" fill="url(#gR)" opacity="0.46"/>
<rect x="13.28" y="42.8" width="11.27" height="1.04" fill="url(#gR)" opacity="0.66"/>
<rect x="13.01" y="43.8" width="11.08" height="1.04" fill="url(#gR)" opacity="0.63"/>
<rect x="13.04" y="44.8" width="10.9" height="1.04" fill="url(#gR)" opacity="0.44"/>
<rect x="13.48" y="45.79" width="10.73" height="1.04" fill="url(#gR)" opacity="0.56"/>
<rect x="13.47" y="46.79" width="10.55" height="1.04" fill="url(#gR)" opacity="0.62"/>
<rect x="13.78" y="47.78" width="10.37" height="1.04" fill="url(#gR)" opacity="0.45"/>
<rect x="13.72" y="48.78" width="10.2" height="1.04" fill="url(#gR)" opacity="0.59"/>
<rect x="13.4" y="49.77" width="10.03" height="1.04" fill="url(#gR)" opacity="0.53"/>
<rect x="13.13" y="50.77" width="9.86" height="1.04" fill="url(#gR)" opacity="0.62"/>
<rect x="13.59" y="51.76" width="9.69" height="1.04" fill="url(#gR)" opacity="0.58"/>
<rect x="13.33" y="52.76" width="9.53" height="1.04" fill="url(#gR)" opacity="0.41"/>
<rect x="13.49" y="53.75" width="9.36" height="1.04" fill="url(#gR)" opacity="0.52"/>
<rect x="14.39" y="54.75" width="9.2" height="1.04" fill="url(#gR)" opacity="0.46"/>
<rect x="14.02" y="55.75" width="9.04" height="1.04" fill="url(#gR)" opacity="0.41"/>
<rect x="14.5" y="56.74" width="8.88" height="1.04" fill="url(#gR)" opacity="0.4"/>
<rect x="13.91" y="57.74" width="8.72" height="1.04" fill="url(#gR)" opacity="0.41"/>
<rect x="14.58" y="58.73" width="8.57" height="1.04" fill="url(#gR)" opacity="0.46"/>
<rect x="14.09" y="59.73" width="8.42" height="1.04" fill="url(#gR)" opacity="0.4"/>
<rect x="14.75" y="60.72" width="8.27" height="1.04" fill="url(#gR)" opacity="0.42"/>
<rect x="14.35" y="61.72" width="8.12" height="1.04" fill="url(#gR)" opacity="0.56"/>
<rect x="14.29" y="62.71" width="7.98" height="1.04" fill="url(#gR)" opacity="0.37"/>
<rect x="14.31" y="63.71" width="7.83" height="1.04" fill="url(#gR)" opacity="0.35"/>
<rect x="14.55" y="64.7" width="7.69" height="1.04" fill="url(#gR)" opacity="0.52"/>
<rect x="15.11" y="65.7" width="7.55" height="1.04" fill="url(#gR)" opacity="0.36"/>
<rect x="14.46" y="66.7" width="7.42" height="1.04" fill="url(#gR)" opacity="0.47"/>
<rect x="14.82" y="67.69" width="7.28" height="1.04" fill="url(#gR)" opacity="0.33"/>
<rect x="15.16" y="68.69" width="7.15" height="1.04" fill="url(#gR)" opacity="0.48"/>
<rect x="14.58" y="69.68" width="7.03" height="1.04" fill="url(#gR)" opacity="0.44"/>
<rect x="14.99" y="70.68" width="6.9" height="1.04" fill="url(#gR)" opacity="0.34"/>
<rect x="14.78" y="71.67" width="6.78" height="1.04" fill="url(#gR)" opacity="0.48"/>
<rect x="15.63" y="72.67" width="6.66" height="1.04" fill="url(#gR)" opacity="0.47"/>
<rect x="15.06" y="73.66" width="6.54" height="1.04" fill="url(#gR)" opacity="0.44"/>
<rect x="15.21" y="74.66" width="6.43" height="1.04" fill="url(#gR)" opacity="0.45"/>
<rect x="14.94" y="75.65" width="6.32" height="1.04" fill="url(#gR)" opacity="0.45"/>
<rect x="15.55" y="76.65" width="6.22" height="1.04" fill="url(#gR)" opacity="0.37"/>
<rect x="15.01" y="77.65" width="6.11" height="1.04" fill="url(#gR)" opacity="0.43"/>
<rect x="15.17" y="78.64" width="6.02" height="1.04" fill="url(#gR)" opacity="0.34"/>
<rect x="15.6" y="79.64" width="5.92" height="1.04" fill="url(#gR)" opacity="0.32"/>
<rect x="15.17" y="80.63" width="5.83" height="1.04" fill="url(#gR)" opacity="0.36"/>
<rect x="15.13" y="81.63" width="5.75" height="1.04" fill="url(#gR)" opacity="0.32"/>
<rect x="15.81" y="82.62" width="5.67" height="1.04" fill="url(#gR)" opacity="0.34"/>
<rect x="15.8" y="83.62" width="5.6" height="1.04" fill="url(#gR)" opacity="0.3"/>
<rect x="16.05" y="84.61" width="5.53" height="1.04" fill="url(#gR)" opacity="0.21"/>
<rect x="16.03" y="85.61" width="5.48" height="1.04" fill="url(#gR)" opacity="0.17"/>
<rect x="15.59" y="86.6" width="5.43" height="1.04" fill="url(#gR)" opacity="0.11"/>
<rect x="0" y="3.98" width="38.1" height="0.7" fill="#fdf3ee" opacity="0.5"/>
<rect x="0" y="4.98" width="38.1" height="0.7" fill="#fdf3ee" opacity="0.4"/>
<rect x="0" y="14.93" width="38.1" height="0.7" fill="#fdf3ee" opacity="0.44"/>
<rect x="0" y="22.9" width="38.1" height="0.7" fill="#fdf3ee" opacity="0.25"/>
<rect x="0" y="25.88" width="38.1" height="0.7" fill="#fdf3ee" opacity="0.46"/>
<rect x="0" y="26.88" width="38.1" height="0.7" fill="#fdf3ee" opacity="0.42"/>
<rect x="0" y="27.87" width="38.1" height="0.7" fill="#fdf3ee" opacity="0.4"/>
<rect x="0" y="31.85" width="38.1" height="0.7" fill="#fdf3ee" opacity="0.36"/>
<rect x="0" y="53.75" width="38.1" height="0.7" fill="#fdf3ee" opacity="0.43"/>
<rect x="0" y="57.74" width="38.1" height="0.7" fill="#fdf3ee" opacity="0.43"/>
<rect x="0" y="60.72" width="38.1" height="0.7" fill="#fdf3ee" opacity="0.54"/>
<rect x="0" y="63.71" width="38.1" height="0.7" fill="#fdf3ee" opacity="0.4"/>
<rect x="0" y="64.7" width="38.1" height="0.7" fill="#fdf3ee" opacity="0.51"/>
<rect x="0" y="68.69" width="38.1" height="0.7" fill="#fdf3ee" opacity="0.28"/>
<rect x="0" y="74.66" width="38.1" height="0.7" fill="#fdf3ee" opacity="0.49"/>
<rect x="0" y="79.64" width="38.1" height="0.7" fill="#fdf3ee" opacity="0.24"/>
<rect x="0" y="83.62" width="38.1" height="0.7" fill="#fdf3ee" opacity="0.5"/>
</svg>
<rect x="76.3" y="428.4" width="38.1" height="87.6" fill="none" stroke="#8a8a8a" stroke-width="0.85"/>
<rect x="166.8" y="328.1" width="38.4" height="87.9" fill="#fcefe7"/>
<svg x="166.8" y="328.1" width="38.4" height="87.9" overflow="hidden">
<rect x="0" y="0" width="38.4" height="1.02" fill="#e58670" opacity="0.39"/>
<rect x="0" y="0" width="38.4" height="1.02" fill="#e58670" opacity="0.18"/>
<rect x="0" y="0" width="38.4" height="1.02" fill="#e58670" opacity="0.31"/>
<rect x="0" y="1" width="38.4" height="1.02" fill="#e58670" opacity="0.28"/>
<rect x="15.16" y="1" width="9.96" height="1.02" fill="#e58670" opacity="0.33"/>
<rect x="-1.88" y="1" width="29.72" height="1.02" fill="#e58670" opacity="0.34"/>
<rect x="0" y="2" width="38.4" height="1.02" fill="#e58670" opacity="0.23"/>
<rect x="10.29" y="2" width="20.32" height="1.02" fill="#e58670" opacity="0.31"/>
<rect x="0" y="2" width="38.4" height="1.02" fill="#e58670" opacity="0.19"/>
<rect x="0" y="3" width="38.4" height="1.02" fill="#e58670" opacity="0.26"/>
<rect x="0" y="3" width="38.4" height="1.02" fill="#e58670" opacity="0.3"/>
<rect x="0" y="4" width="38.4" height="1.02" fill="#e58670" opacity="0.13"/>
<rect x="7.99" y="4" width="24.71" height="1.02" fill="#e58670" opacity="0.17"/>
<rect x="13.9" y="4" width="15.48" height="1.02" fill="#e58670" opacity="0.23"/>
<rect x="4.31" y="4" width="33.4" height="1.02" fill="#e58670" opacity="0.13"/>
<rect x="0" y="4.99" width="38.4" height="1.02" fill="#e58670" opacity="0.08"/>
<rect x="11.24" y="4.99" width="25.55" height="1.02" fill="#e58670" opacity="0.31"/>
<rect x="9.26" y="4.99" width="29.65" height="1.02" fill="#e58670" opacity="0.32"/>
<rect x="0" y="5.99" width="38.4" height="1.02" fill="#e58670" opacity="0.04"/>
<rect x="0" y="6.99" width="38.4" height="1.02" fill="#e58670" opacity="0"/>
<rect x="11.97" y="6.99" width="18.12" height="1.02" fill="#e58670" opacity="0.19"/>
<rect x="0" y="6.99" width="38.4" height="1.02" fill="#e58670" opacity="0.27"/>
<rect x="6.45" y="6.99" width="23.48" height="1.02" fill="#e58670" opacity="0.12"/>
<rect x="0" y="7.99" width="38.4" height="1.02" fill="#e58670" opacity="0.12"/>
<rect x="12.76" y="7.99" width="24.51" height="1.02" fill="#e58670" opacity="0.18"/>
<rect x="1.56" y="8.99" width="33.81" height="1.02" fill="#e58670" opacity="0.18"/>
<rect x="13.6" y="8.99" width="10.39" height="1.02" fill="#e58670" opacity="0.26"/>
<rect x="9.93" y="9.99" width="16.05" height="1.02" fill="#e58670" opacity="0.26"/>
<rect x="12.77" y="9.99" width="14.69" height="1.02" fill="#e58670" opacity="0.16"/>
<rect x="0" y="9.99" width="38.4" height="1.02" fill="#e58670" opacity="0.19"/>
<rect x="0" y="10.99" width="38.4" height="1.02" fill="#e58670" opacity="0.28"/>
<rect x="11.04" y="10.99" width="16.82" height="1.02" fill="#e58670" opacity="0.23"/>
<rect x="0" y="10.99" width="38.4" height="1.02" fill="#e58670" opacity="0.3"/>
<rect x="0" y="11.99" width="38.4" height="1.02" fill="#e58670" opacity="0.19"/>
<rect x="-6.19" y="11.99" width="31.48" height="1.02" fill="#e58670" opacity="0.18"/>
<rect x="0" y="11.99" width="38.4" height="1.02" fill="#e58670" opacity="0.22"/>
<rect x="0" y="12.99" width="38.4" height="1.02" fill="#e58670" opacity="0.12"/>
<rect x="0" y="12.99" width="38.4" height="1.02" fill="#e58670" opacity="0.29"/>
<rect x="2.28" y="13.98" width="27.53" height="1.02" fill="#e58670" opacity="0.27"/>
<rect x="5.12" y="13.98" width="23.91" height="1.02" fill="#e58670" opacity="0.3"/>
<rect x="3.26" y="14.98" width="29.88" height="1.02" fill="#e58670" opacity="0.12"/>
<rect x="16.08" y="14.98" width="11.77" height="1.02" fill="#e58670" opacity="0.3"/>
<rect x="0" y="14.98" width="38.4" height="1.02" fill="#e58670" opacity="0.25"/>
<rect x="8.52" y="15.98" width="27.47" height="1.02" fill="#e58670" opacity="0.22"/>
<rect x="7.88" y="16.98" width="16.28" height="1.02" fill="#e58670" opacity="0.3"/>
<rect x="0" y="16.98" width="38.4" height="1.02" fill="#e58670" opacity="0.09"/>
<rect x="7.6" y="16.98" width="15.77" height="1.02" fill="#e58670" opacity="0.16"/>
<rect x="2.04" y="17.98" width="32.12" height="1.02" fill="#e58670" opacity="0.14"/>
<rect x="11.56" y="18.98" width="10.45" height="1.02" fill="#e58670" opacity="0.13"/>
<rect x="6.17" y="18.98" width="17.27" height="1.02" fill="#e58670" opacity="0.11"/>
<rect x="9.12" y="18.98" width="14.95" height="1.02" fill="#e58670" opacity="0.19"/>
<rect x="0" y="19.98" width="38.4" height="1.02" fill="#e58670" opacity="0.26"/>
<rect x="6.52" y="20.98" width="21.74" height="1.02" fill="#e58670" opacity="0.27"/>
<rect x="0" y="20.98" width="38.4" height="1.02" fill="#e58670" opacity="0.19"/>
<rect x="15.32" y="20.98" width="15.1" height="1.02" fill="#e58670" opacity="0.23"/>
<rect x="-2.16" y="21.97" width="29.99" height="1.02" fill="#e58670" opacity="0.26"/>
<rect x="0" y="22.97" width="38.4" height="1.02" fill="#e58670" opacity="0.13"/>
<rect x="5.63" y="23.97" width="19.11" height="1.02" fill="#e58670" opacity="0.23"/>
<rect x="5.35" y="24.97" width="33.37" height="1.02" fill="#e58670" opacity="0.25"/>
<rect x="-1.26" y="25.97" width="29.92" height="1.02" fill="#e58670" opacity="0.16"/>
<rect x="11.78" y="25.97" width="28.31" height="1.02" fill="#e58670" opacity="0.15"/>
<rect x="7.56" y="26.97" width="14.79" height="1.02" fill="#e58670" opacity="0.13"/>
<rect x="15.63" y="26.97" width="11.82" height="1.02" fill="#e58670" opacity="0.11"/>
<rect x="14.4" y="26.97" width="14.9" height="1.02" fill="#e58670" opacity="0.09"/>
<rect x="-0.05" y="27.97" width="31.65" height="1.02" fill="#e58670" opacity="0.11"/>
<rect x="7.24" y="28.97" width="22.55" height="1.02" fill="#e58670" opacity="0.08"/>
<rect x="11.82" y="28.97" width="20.12" height="1.02" fill="#e58670" opacity="0.19"/>
<rect x="11.71" y="29.97" width="27.46" height="1.02" fill="#e58670" opacity="0.22"/>
<rect x="7.88" y="29.97" width="15.95" height="1.02" fill="#e58670" opacity="0.22"/>
<rect x="0" y="30.96" width="38.4" height="1.02" fill="#e58670" opacity="0.14"/>
<rect x="12.65" y="30.96" width="15.42" height="1.02" fill="#e58670" opacity="0.14"/>
<rect x="4.73" y="31.96" width="30.03" height="1.02" fill="#e58670" opacity="0.09"/>
<rect x="0" y="31.96" width="38.4" height="1.02" fill="#e58670" opacity="0.09"/>
<rect x="0" y="32.96" width="38.4" height="1.02" fill="#e58670" opacity="0.21"/>
<rect x="10.88" y="32.96" width="12.27" height="1.02" fill="#e58670" opacity="0.19"/>
<rect x="2.27" y="32.96" width="29.53" height="1.02" fill="#e58670" opacity="0.17"/>
<rect x="14.77" y="33.96" width="19" height="1.02" fill="#e58670" opacity="0.19"/>
<rect x="8.46" y="33.96" width="23.46" height="1.02" fill="#e58670" opacity="0.13"/>
<rect x="3.85" y="34.96" width="22.99" height="1.02" fill="#e58670" opacity="0.18"/>
<rect x="8.59" y="35.96" width="20.45" height="1.02" fill="#e58670" opacity="0.09"/>
<rect x="3.87" y="35.96" width="21.06" height="1.02" fill="#e58670" opacity="0.12"/>
<rect x="0" y="36.96" width="38.4" height="1.02" fill="#e58670" opacity="0.14"/>
<rect x="8.06" y="36.96" width="23.68" height="1.02" fill="#e58670" opacity="0.18"/>
<rect x="3.1" y="36.96" width="27.67" height="1.02" fill="#e58670" opacity="0.16"/>
<rect x="0" y="37.96" width="38.4" height="1.02" fill="#e58670" opacity="0.2"/>
<rect x="7.49" y="37.96" width="22.39" height="1.02" fill="#e58670" opacity="0.12"/>
<rect x="-5" y="38.96" width="32.94" height="1.02" fill="#e58670" opacity="0.07"/>
<rect x="9.45" y="38.96" width="14.65" height="1.02" fill="#e58670" opacity="0.06"/>
<rect x="13.39" y="39.95" width="10.03" height="1.02" fill="#e58670" opacity="0.16"/>
<rect x="5.78" y="39.95" width="26.23" height="1.02" fill="#e58670" opacity="0.15"/>
<rect x="0" y="40.95" width="38.4" height="1.02" fill="#e58670" opacity="0.15"/>
<rect x="16.42" y="40.95" width="11.01" height="1.02" fill="#e58670" opacity="0.08"/>
<rect x="14.83" y="41.95" width="13.98" height="1.02" fill="#e58670" opacity="0.14"/>
<rect x="12.04" y="42.95" width="22.39" height="1.02" fill="#e58670" opacity="0.06"/>
<rect x="13.09" y="43.95" width="12.27" height="1.02" fill="#e58670" opacity="0.11"/>
<rect x="8.57" y="43.95" width="16.19" height="1.02" fill="#e58670" opacity="0.13"/>
<rect x="3.05" y="43.95" width="23.03" height="1.02" fill="#e58670" opacity="0.08"/>
<rect x="6.12" y="44.95" width="20.6" height="1.02" fill="#e58670" opacity="0.1"/>
<rect x="13.8" y="44.95" width="20.63" height="1.02" fill="#e58670" opacity="0.07"/>
<rect x="9.01" y="45.95" width="32.04" height="1.02" fill="#e58670" opacity="0.12"/>
<rect x="5.63" y="45.95" width="27.44" height="1.02" fill="#e58670" opacity="0.15"/>
<rect x="-3.66" y="46.95" width="31.01" height="1.02" fill="#e58670" opacity="0.15"/>
<rect x="0" y="46.95" width="38.4" height="1.02" fill="#e58670" opacity="0.15"/>
<rect x="5.35" y="47.95" width="29.87" height="1.02" fill="#e58670" opacity="0.12"/>
<rect x="14.42" y="47.95" width="19.19" height="1.02" fill="#e58670" opacity="0.07"/>
<rect x="6.65" y="47.95" width="26.65" height="1.02" fill="#e58670" opacity="0.15"/>
<rect x="13.34" y="48.94" width="26.46" height="1.02" fill="#e58670" opacity="0.06"/>
<rect x="-0.24" y="48.94" width="29.5" height="1.02" fill="#e58670" opacity="0.06"/>
<rect x="0" y="49.94" width="38.4" height="1.02" fill="#e58670" opacity="0.14"/>
<rect x="9.58" y="49.94" width="26.4" height="1.02" fill="#e58670" opacity="0.12"/>
<rect x="15.15" y="50.94" width="10.99" height="1.02" fill="#e58670" opacity="0.05"/>
<rect x="1.09" y="50.94" width="30.61" height="1.02" fill="#e58670" opacity="0.13"/>
<rect x="0" y="50.94" width="38.4" height="1.02" fill="#e58670" opacity="0.12"/>
<rect x="9.95" y="51.94" width="12.21" height="1.02" fill="#e58670" opacity="0.11"/>
<rect x="13.71" y="51.94" width="11.21" height="1.02" fill="#e58670" opacity="0.07"/>
<rect x="15.28" y="52.94" width="13.82" height="1.02" fill="#e58670" opacity="0.06"/>
<rect x="2.63" y="53.94" width="33.67" height="1.02" fill="#e58670" opacity="0.05"/>
<rect x="12.68" y="53.94" width="19.92" height="1.02" fill="#e58670" opacity="0.07"/>
<rect x="15.56" y="53.94" width="11.3" height="1.02" fill="#e58670" opacity="0.1"/>
<rect x="14.77" y="55.94" width="12.28" height="1.02" fill="#e58670" opacity="0.08"/>
<rect x="0" y="56.94" width="38.4" height="1.02" fill="#e58670" opacity="0.09"/>
<rect x="10.84" y="56.94" width="14.74" height="1.02" fill="#e58670" opacity="0.07"/>
<rect x="0" y="57.93" width="38.4" height="1.02" fill="#e58670" opacity="0.06"/>
<rect x="11.74" y="57.93" width="18.95" height="1.02" fill="#e58670" opacity="0.1"/>
<rect x="13.29" y="57.93" width="14.16" height="1.02" fill="#e58670" opacity="0.1"/>
<rect x="12.76" y="58.93" width="16.06" height="1.02" fill="#e58670" opacity="0.08"/>
<rect x="0" y="58.93" width="38.4" height="1.02" fill="#e58670" opacity="0.03"/>
<rect x="14.57" y="58.93" width="19.97" height="1.02" fill="#e58670" opacity="0.06"/>
<rect x="14.31" y="59.93" width="10.01" height="1.02" fill="#e58670" opacity="0.03"/>
<rect x="-7.37" y="59.93" width="33.59" height="1.02" fill="#e58670" opacity="0.04"/>
<rect x="13.54" y="59.93" width="11.6" height="1.02" fill="#e58670" opacity="0.07"/>
<rect x="10.38" y="60.93" width="23.83" height="1.02" fill="#e58670" opacity="0.05"/>
<rect x="10.15" y="61.93" width="20.64" height="1.02" fill="#e58670" opacity="0.08"/>
<rect x="14.04" y="62.93" width="16.32" height="1.02" fill="#e58670" opacity="0.05"/>
<rect x="5" y="62.93" width="20.19" height="1.02" fill="#e58670" opacity="0.03"/>
<rect x="7.43" y="63.93" width="19.27" height="1.02" fill="#e58670" opacity="0.05"/>
<rect x="-6.28" y="63.93" width="32.3" height="1.02" fill="#e58670" opacity="0.05"/>
<rect x="12.87" y="64.93" width="17.21" height="1.02" fill="#e58670" opacity="0.04"/>
<rect x="16.24" y="65.92" width="9.69" height="1.02" fill="#e58670" opacity="0.04"/>
<rect x="6.05" y="66.92" width="20.74" height="1.02" fill="#e58670" opacity="0.05"/>
<rect x="2.89" y="66.92" width="32.37" height="1.02" fill="#e58670" opacity="0.04"/>
<rect x="9.45" y="67.92" width="18.12" height="1.02" fill="#e58670" opacity="0.02"/>
<rect x="4.22" y="67.92" width="25.43" height="1.02" fill="#e58670" opacity="0.06"/>
<rect x="14.43" y="67.92" width="17.75" height="1.02" fill="#e58670" opacity="0.03"/>
<rect x="2.67" y="68.92" width="33.48" height="1.02" fill="#e58670" opacity="0.05"/>
<rect x="2.43" y="68.92" width="26.95" height="1.02" fill="#e58670" opacity="0.02"/>
<rect x="11.93" y="70.92" width="22.55" height="1.02" fill="#e58670" opacity="0.04"/>
<rect x="12.27" y="70.92" width="19.72" height="1.02" fill="#e58670" opacity="0.03"/>
<rect x="9.88" y="70.92" width="30.78" height="1.02" fill="#e58670" opacity="0.03"/>
<rect x="12.27" y="71.92" width="12.16" height="1.02" fill="#e58670" opacity="0.05"/>
<rect x="9.43" y="71.92" width="22.4" height="1.02" fill="#e58670" opacity="0.03"/>
<rect x="9.17" y="71.92" width="22.17" height="1.02" fill="#e58670" opacity="0.04"/>
<rect x="15.63" y="72.92" width="13.54" height="1.02" fill="#e58670" opacity="0.04"/>
<rect x="0.16" y="73.92" width="30.35" height="1.02" fill="#e58670" opacity="0.03"/>
<rect x="9.33" y="74.91" width="27.43" height="1.02" fill="#e58670" opacity="0.02"/>
<rect x="12.58" y="74.91" width="26.31" height="1.02" fill="#e58670" opacity="0.04"/>
<rect x="6.67" y="75.91" width="25.77" height="1.02" fill="#e58670" opacity="0.04"/>
<rect x="0.13" y="76.91" width="25.79" height="1.02" fill="#e58670" opacity="0.03"/>
<rect x="1.73" y="76.91" width="31.64" height="1.02" fill="#e58670" opacity="0.03"/>
<rect x="10.39" y="76.91" width="10.72" height="1.02" fill="#e58670" opacity="0.05"/>
<rect x="10.5" y="77.91" width="10.7" height="1.02" fill="#e58670" opacity="0.05"/>
<rect x="15.21" y="77.91" width="16.52" height="1.02" fill="#e58670" opacity="0.03"/>
<rect x="-8.42" y="77.91" width="34.45" height="1.02" fill="#e58670" opacity="0.02"/>
<rect x="0" y="78.91" width="38.4" height="1.02" fill="#e58670" opacity="0.04"/>
<rect x="8.34" y="78.91" width="31.81" height="1.02" fill="#e58670" opacity="0.05"/>
<rect x="11.76" y="78.91" width="14.05" height="1.02" fill="#e58670" opacity="0.04"/>
<rect x="0" y="79.91" width="38.4" height="1.02" fill="#e58670" opacity="0.03"/>
<rect x="0" y="79.91" width="38.4" height="1.02" fill="#e58670" opacity="0.05"/>
<rect x="10.01" y="82.91" width="23.21" height="1.02" fill="#e58670" opacity="0.03"/>
<rect x="10.9" y="83.9" width="10.81" height="1.02" fill="#e58670" opacity="0.05"/>
<rect x="8.15" y="84.9" width="25.55" height="1.02" fill="#e58670" opacity="0.04"/>
<rect x="15.28" y="85.9" width="10" height="1.02" fill="#e58670" opacity="0.02"/>
<rect x="13.13" y="85.9" width="15.38" height="1.02" fill="#e58670" opacity="0.03"/>
<rect x="-4.03" y="86.9" width="33.83" height="1.02" fill="#e58670" opacity="0.04"/>
<rect x="-29.76" y="0" width="97.5" height="1.04" fill="url(#gR)" opacity="0.28"/>
<rect x="-29.49" y="1" width="96.01" height="1.04" fill="url(#gR)" opacity="0.32"/>
<rect x="-28.17" y="2" width="94.52" height="1.04" fill="url(#gR)" opacity="0.35"/>
<rect x="-27.42" y="3" width="93.05" height="1.04" fill="url(#gR)" opacity="0.35"/>
<rect x="-27.31" y="4" width="91.58" height="1.04" fill="url(#gR)" opacity="0.3"/>
<rect x="-25.83" y="4.99" width="90.13" height="1.04" fill="url(#gR)" opacity="0.34"/>
<rect x="-25.33" y="5.99" width="88.69" height="1.04" fill="url(#gR)" opacity="0.29"/>
<rect x="-24.71" y="6.99" width="87.25" height="1.04" fill="url(#gR)" opacity="0.27"/>
<rect x="-24.18" y="7.99" width="85.83" height="1.04" fill="url(#gR)" opacity="0.24"/>
<rect x="-23.54" y="8.99" width="84.42" height="1.04" fill="url(#gR)" opacity="0.3"/>
<rect x="-22.47" y="9.99" width="83.02" height="1.04" fill="url(#gR)" opacity="0.35"/>
<rect x="-21.91" y="10.99" width="81.63" height="1.04" fill="url(#gR)" opacity="0.34"/>
<rect x="-21.61" y="11.99" width="80.25" height="1.04" fill="url(#gR)" opacity="0.34"/>
<rect x="-20.82" y="12.99" width="78.88" height="1.04" fill="url(#gR)" opacity="0.34"/>
<rect x="-20.09" y="13.98" width="77.52" height="1.04" fill="url(#gR)" opacity="0.29"/>
<rect x="-18.89" y="14.98" width="76.18" height="1.04" fill="url(#gR)" opacity="0.34"/>
<rect x="-18.26" y="15.98" width="74.84" height="1.04" fill="url(#gR)" opacity="0.32"/>
<rect x="-18.35" y="16.98" width="73.52" height="1.04" fill="url(#gR)" opacity="0.33"/>
<rect x="-17.39" y="17.98" width="72.21" height="1.04" fill="url(#gR)" opacity="0.34"/>
<rect x="-16.78" y="18.98" width="70.9" height="1.04" fill="url(#gR)" opacity="0.25"/>
<rect x="-16.08" y="19.98" width="69.61" height="1.04" fill="url(#gR)" opacity="0.31"/>
<rect x="-15.81" y="20.98" width="68.33" height="1.04" fill="url(#gR)" opacity="0.24"/>
<rect x="-14.81" y="21.97" width="67.07" height="1.04" fill="url(#gR)" opacity="0.31"/>
<rect x="-13.88" y="22.97" width="65.81" height="1.04" fill="url(#gR)" opacity="0.31"/>
<rect x="-13.93" y="23.97" width="64.56" height="1.04" fill="url(#gR)" opacity="0.3"/>
<rect x="-12.79" y="24.97" width="63.33" height="1.04" fill="url(#gR)" opacity="0.28"/>
<rect x="-12.38" y="25.97" width="62.11" height="1.04" fill="url(#gR)" opacity="0.31"/>
<rect x="-12" y="26.97" width="60.9" height="1.04" fill="url(#gR)" opacity="0.25"/>
<rect x="-10.85" y="27.97" width="59.7" height="1.04" fill="url(#gR)" opacity="0.22"/>
<rect x="-10.1" y="28.97" width="58.52" height="1.04" fill="url(#gR)" opacity="0.32"/>
<rect x="-9.79" y="29.97" width="57.34" height="1.04" fill="url(#gR)" opacity="0.25"/>
<rect x="-9.48" y="30.96" width="56.18" height="1.04" fill="url(#gR)" opacity="0.24"/>
<rect x="-9.21" y="31.96" width="55.03" height="1.04" fill="url(#gR)" opacity="0.26"/>
<rect x="-8.4" y="32.96" width="53.89" height="1.04" fill="url(#gR)" opacity="0.28"/>
<rect x="-7.59" y="33.96" width="52.77" height="1.04" fill="url(#gR)" opacity="0.31"/>
<rect x="-6.93" y="34.96" width="51.65" height="1.04" fill="url(#gR)" opacity="0.31"/>
<rect x="-6.42" y="35.96" width="50.55" height="1.04" fill="url(#gR)" opacity="0.32"/>
<rect x="-5.66" y="36.96" width="49.47" height="1.04" fill="url(#gR)" opacity="0.23"/>
<rect x="-5.02" y="37.96" width="48.39" height="1.04" fill="url(#gR)" opacity="0.26"/>
<rect x="-4.57" y="38.96" width="47.33" height="1.04" fill="url(#gR)" opacity="0.21"/>
<rect x="-3.88" y="39.95" width="46.28" height="1.04" fill="url(#gR)" opacity="0.26"/>
<rect x="-3.85" y="40.95" width="45.24" height="1.04" fill="url(#gR)" opacity="0.23"/>
<rect x="-2.92" y="41.95" width="44.22" height="1.04" fill="url(#gR)" opacity="0.29"/>
<rect x="-2.78" y="42.95" width="43.21" height="1.04" fill="url(#gR)" opacity="0.23"/>
<rect x="-2.56" y="43.95" width="42.21" height="1.04" fill="url(#gR)" opacity="0.27"/>
<rect x="-2.32" y="44.95" width="41.23" height="1.04" fill="url(#gR)" opacity="0.27"/>
<rect x="-1.72" y="45.95" width="40.26" height="1.04" fill="url(#gR)" opacity="0.3"/>
<rect x="-1.01" y="46.95" width="39.31" height="1.04" fill="url(#gR)" opacity="0.31"/>
<rect x="-0.81" y="47.95" width="38.37" height="1.04" fill="url(#gR)" opacity="0.26"/>
<rect x="0.19" y="48.94" width="37.44" height="1.04" fill="url(#gR)" opacity="0.21"/>
<rect x="0.47" y="49.94" width="36.52" height="1.04" fill="url(#gR)" opacity="0.28"/>
<rect x="1" y="50.94" width="35.63" height="1.04" fill="url(#gR)" opacity="0.29"/>
<rect x="1.9" y="51.94" width="34.74" height="1.04" fill="url(#gR)" opacity="0.3"/>
<rect x="1.49" y="52.94" width="33.87" height="1.04" fill="url(#gR)" opacity="0.29"/>
<rect x="1.98" y="53.94" width="33.02" height="1.04" fill="url(#gR)" opacity="0.24"/>
<rect x="2.57" y="54.94" width="32.18" height="1.04" fill="url(#gR)" opacity="0.28"/>
<rect x="3.2" y="55.94" width="31.35" height="1.04" fill="url(#gR)" opacity="0.23"/>
<rect x="3.89" y="56.94" width="30.54" height="1.04" fill="url(#gR)" opacity="0.28"/>
<rect x="3.88" y="57.93" width="29.75" height="1.04" fill="url(#gR)" opacity="0.28"/>
<rect x="3.96" y="58.93" width="28.97" height="1.04" fill="url(#gR)" opacity="0.2"/>
<rect x="4.37" y="59.93" width="28.2" height="1.04" fill="url(#gR)" opacity="0.21"/>
<rect x="4.97" y="60.93" width="27.46" height="1.04" fill="url(#gR)" opacity="0.25"/>
<rect x="5.54" y="61.93" width="26.73" height="1.04" fill="url(#gR)" opacity="0.24"/>
<rect x="6.17" y="62.93" width="26.02" height="1.04" fill="url(#gR)" opacity="0.25"/>
<rect x="6.4" y="63.93" width="25.32" height="1.04" fill="url(#gR)" opacity="0.27"/>
<rect x="6.85" y="64.93" width="24.64" height="1.04" fill="url(#gR)" opacity="0.22"/>
<rect x="6.86" y="65.92" width="23.98" height="1.04" fill="url(#gR)" opacity="0.2"/>
<rect x="6.93" y="66.92" width="23.33" height="1.04" fill="url(#gR)" opacity="0.23"/>
<rect x="7.47" y="67.92" width="22.71" height="1.04" fill="url(#gR)" opacity="0.27"/>
<rect x="7.29" y="68.92" width="22.1" height="1.04" fill="url(#gR)" opacity="0.2"/>
<rect x="7.64" y="69.92" width="21.51" height="1.04" fill="url(#gR)" opacity="0.27"/>
<rect x="8.76" y="70.92" width="20.94" height="1.04" fill="url(#gR)" opacity="0.2"/>
<rect x="8.25" y="71.92" width="20.39" height="1.04" fill="url(#gR)" opacity="0.24"/>
<rect x="9.21" y="72.92" width="19.86" height="1.04" fill="url(#gR)" opacity="0.2"/>
<rect x="9.31" y="73.92" width="19.36" height="1.04" fill="url(#gR)" opacity="0.26"/>
<rect x="9.64" y="74.91" width="18.87" height="1.04" fill="url(#gR)" opacity="0.22"/>
<rect x="9.74" y="75.91" width="18.4" height="1.04" fill="url(#gR)" opacity="0.21"/>
<rect x="9.63" y="76.91" width="17.96" height="1.04" fill="url(#gR)" opacity="0.22"/>
<rect x="10.08" y="77.91" width="17.54" height="1.04" fill="url(#gR)" opacity="0.12"/>
<rect x="10.06" y="78.91" width="17.15" height="1.04" fill="url(#gR)" opacity="0.09"/>
<rect x="10.41" y="79.91" width="16.78" height="1.04" fill="url(#gR)" opacity="0.05"/>
<rect x="-0.51" y="0" width="39" height="1.04" fill="url(#gR)" opacity="0.8"/>
<rect x="-0.69" y="1" width="38.4" height="1.04" fill="url(#gR)" opacity="0.91"/>
<rect x="0.19" y="2" width="37.81" height="1.04" fill="url(#gR)" opacity="1"/>
<rect x="0.49" y="3" width="37.22" height="1.04" fill="url(#gR)" opacity="1"/>
<rect x="0.16" y="4" width="36.63" height="1.04" fill="url(#gR)" opacity="0.86"/>
<rect x="1.21" y="4.99" width="36.05" height="1.04" fill="url(#gR)" opacity="0.97"/>
<rect x="1.28" y="5.99" width="35.47" height="1.04" fill="url(#gR)" opacity="0.83"/>
<rect x="1.47" y="6.99" width="34.9" height="1.04" fill="url(#gR)" opacity="0.76"/>
<rect x="1.57" y="7.99" width="34.33" height="1.04" fill="url(#gR)" opacity="0.69"/>
<rect x="1.78" y="8.99" width="33.77" height="1.04" fill="url(#gR)" opacity="0.86"/>
<rect x="2.43" y="9.99" width="33.21" height="1.04" fill="url(#gR)" opacity="1"/>
<rect x="2.57" y="10.99" width="32.65" height="1.04" fill="url(#gR)" opacity="0.96"/>
<rect x="2.47" y="11.99" width="32.1" height="1.04" fill="url(#gR)" opacity="0.98"/>
<rect x="2.85" y="12.99" width="31.55" height="1.04" fill="url(#gR)" opacity="0.97"/>
<rect x="3.17" y="13.98" width="31.01" height="1.04" fill="url(#gR)" opacity="0.84"/>
<rect x="3.96" y="14.98" width="30.47" height="1.04" fill="url(#gR)" opacity="0.97"/>
<rect x="4.2" y="15.98" width="29.94" height="1.04" fill="url(#gR)" opacity="0.92"/>
<rect x="3.71" y="16.98" width="29.41" height="1.04" fill="url(#gR)" opacity="0.94"/>
<rect x="4.28" y="17.98" width="28.88" height="1.04" fill="url(#gR)" opacity="0.97"/>
<rect x="4.49" y="18.98" width="28.36" height="1.04" fill="url(#gR)" opacity="0.72"/>
<rect x="4.81" y="19.98" width="27.85" height="1.04" fill="url(#gR)" opacity="0.88"/>
<rect x="4.69" y="20.98" width="27.33" height="1.04" fill="url(#gR)" opacity="0.7"/>
<rect x="5.31" y="21.97" width="26.83" height="1.04" fill="url(#gR)" opacity="0.89"/>
<rect x="5.86" y="22.97" width="26.32" height="1.04" fill="url(#gR)" opacity="0.88"/>
<rect x="5.44" y="23.97" width="25.83" height="1.04" fill="url(#gR)" opacity="0.85"/>
<rect x="6.21" y="24.97" width="25.33" height="1.04" fill="url(#gR)" opacity="0.81"/>
<rect x="6.25" y="25.97" width="24.84" height="1.04" fill="url(#gR)" opacity="0.87"/>
<rect x="6.27" y="26.97" width="24.36" height="1.04" fill="url(#gR)" opacity="0.7"/>
<rect x="7.06" y="27.97" width="23.88" height="1.04" fill="url(#gR)" opacity="0.63"/>
<rect x="7.45" y="28.97" width="23.41" height="1.04" fill="url(#gR)" opacity="0.9"/>
<rect x="7.41" y="29.97" width="22.94" height="1.04" fill="url(#gR)" opacity="0.72"/>
<rect x="7.37" y="30.96" width="22.47" height="1.04" fill="url(#gR)" opacity="0.69"/>
<rect x="7.3" y="31.96" width="22.01" height="1.04" fill="url(#gR)" opacity="0.74"/>
<rect x="7.77" y="32.96" width="21.56" height="1.04" fill="url(#gR)" opacity="0.79"/>
<rect x="8.24" y="33.96" width="21.11" height="1.04" fill="url(#gR)" opacity="0.87"/>
<rect x="8.56" y="34.96" width="20.66" height="1.04" fill="url(#gR)" opacity="0.89"/>
<rect x="8.75" y="35.96" width="20.22" height="1.04" fill="url(#gR)" opacity="0.91"/>
<rect x="9.18" y="36.96" width="19.79" height="1.04" fill="url(#gR)" opacity="0.65"/>
<rect x="9.5" y="37.96" width="19.36" height="1.04" fill="url(#gR)" opacity="0.73"/>
<rect x="9.63" y="38.96" width="18.93" height="1.04" fill="url(#gR)" opacity="0.61"/>
<rect x="10.01" y="39.95" width="18.51" height="1.04" fill="url(#gR)" opacity="0.76"/>
<rect x="9.72" y="40.95" width="18.1" height="1.04" fill="url(#gR)" opacity="0.67"/>
<rect x="10.34" y="41.95" width="17.69" height="1.04" fill="url(#gR)" opacity="0.82"/>
<rect x="10.18" y="42.95" width="17.28" height="1.04" fill="url(#gR)" opacity="0.66"/>
<rect x="10.1" y="43.95" width="16.89" height="1.04" fill="url(#gR)" opacity="0.78"/>
<rect x="10.05" y="44.95" width="16.49" height="1.04" fill="url(#gR)" opacity="0.77"/>
<rect x="10.36" y="45.95" width="16.11" height="1.04" fill="url(#gR)" opacity="0.86"/>
<rect x="10.78" y="46.95" width="15.72" height="1.04" fill="url(#gR)" opacity="0.88"/>
<rect x="10.7" y="47.95" width="15.35" height="1.04" fill="url(#gR)" opacity="0.75"/>
<rect x="11.42" y="48.94" width="14.98" height="1.04" fill="url(#gR)" opacity="0.59"/>
<rect x="11.42" y="49.94" width="14.61" height="1.04" fill="url(#gR)" opacity="0.8"/>
<rect x="11.69" y="50.94" width="14.25" height="1.04" fill="url(#gR)" opacity="0.83"/>
<rect x="12.32" y="51.94" width="13.9" height="1.04" fill="url(#gR)" opacity="0.86"/>
<rect x="11.65" y="52.94" width="13.55" height="1.04" fill="url(#gR)" opacity="0.83"/>
<rect x="11.89" y="53.94" width="13.21" height="1.04" fill="url(#gR)" opacity="0.67"/>
<rect x="12.22" y="54.94" width="12.87" height="1.04" fill="url(#gR)" opacity="0.81"/>
<rect x="12.61" y="55.94" width="12.54" height="1.04" fill="url(#gR)" opacity="0.65"/>
<rect x="13.05" y="56.94" width="12.22" height="1.04" fill="url(#gR)" opacity="0.79"/>
<rect x="12.8" y="57.93" width="11.9" height="1.04" fill="url(#gR)" opacity="0.8"/>
<rect x="12.65" y="58.93" width="11.59" height="1.04" fill="url(#gR)" opacity="0.56"/>
<rect x="12.84" y="59.93" width="11.28" height="1.04" fill="url(#gR)" opacity="0.61"/>
<rect x="13.21" y="60.93" width="10.98" height="1.04" fill="url(#gR)" opacity="0.72"/>
<rect x="13.56" y="61.93" width="10.69" height="1.04" fill="url(#gR)" opacity="0.67"/>
<rect x="13.97" y="62.93" width="10.41" height="1.04" fill="url(#gR)" opacity="0.71"/>
<rect x="14" y="63.93" width="10.13" height="1.04" fill="url(#gR)" opacity="0.78"/>
<rect x="14.24" y="64.93" width="9.86" height="1.04" fill="url(#gR)" opacity="0.62"/>
<rect x="14.06" y="65.92" width="9.59" height="1.04" fill="url(#gR)" opacity="0.58"/>
<rect x="13.93" y="66.92" width="9.33" height="1.04" fill="url(#gR)" opacity="0.66"/>
<rect x="14.28" y="67.92" width="9.08" height="1.04" fill="url(#gR)" opacity="0.77"/>
<rect x="13.92" y="68.92" width="8.84" height="1.04" fill="url(#gR)" opacity="0.56"/>
<rect x="14.1" y="69.92" width="8.6" height="1.04" fill="url(#gR)" opacity="0.77"/>
<rect x="15.04" y="70.92" width="8.38" height="1.04" fill="url(#gR)" opacity="0.57"/>
<rect x="14.37" y="71.92" width="8.16" height="1.04" fill="url(#gR)" opacity="0.68"/>
<rect x="15.17" y="72.92" width="7.95" height="1.04" fill="url(#gR)" opacity="0.57"/>
<rect x="15.12" y="73.92" width="7.74" height="1.04" fill="url(#gR)" opacity="0.75"/>
<rect x="15.31" y="74.91" width="7.55" height="1.04" fill="url(#gR)" opacity="0.64"/>
<rect x="15.26" y="75.91" width="7.36" height="1.04" fill="url(#gR)" opacity="0.6"/>
<rect x="15.02" y="76.91" width="7.18" height="1.04" fill="url(#gR)" opacity="0.63"/>
<rect x="15.34" y="77.91" width="7.02" height="1.04" fill="url(#gR)" opacity="0.34"/>
<rect x="15.2" y="78.91" width="6.86" height="1.04" fill="url(#gR)" opacity="0.25"/>
<rect x="15.44" y="79.91" width="6.71" height="1.04" fill="url(#gR)" opacity="0.14"/>
<rect x="0" y="3" width="38.4" height="0.7" fill="#fdf3ee" opacity="0.27"/>
<rect x="0" y="4.99" width="38.4" height="0.7" fill="#fdf3ee" opacity="0.41"/>
<rect x="0" y="6.99" width="38.4" height="0.7" fill="#fdf3ee" opacity="0.46"/>
<rect x="0" y="7.99" width="38.4" height="0.7" fill="#fdf3ee" opacity="0.37"/>
<rect x="0" y="8.99" width="38.4" height="0.7" fill="#fdf3ee" opacity="0.53"/>
<rect x="0" y="9.99" width="38.4" height="0.7" fill="#fdf3ee" opacity="0.33"/>
<rect x="0" y="13.98" width="38.4" height="0.7" fill="#fdf3ee" opacity="0.23"/>
<rect x="0" y="14.98" width="38.4" height="0.7" fill="#fdf3ee" opacity="0.39"/>
<rect x="0" y="19.98" width="38.4" height="0.7" fill="#fdf3ee" opacity="0.25"/>
<rect x="0" y="20.98" width="38.4" height="0.7" fill="#fdf3ee" opacity="0.49"/>
<rect x="0" y="22.97" width="38.4" height="0.7" fill="#fdf3ee" opacity="0.2"/>
<rect x="0" y="25.97" width="38.4" height="0.7" fill="#fdf3ee" opacity="0.39"/>
<rect x="0" y="26.97" width="38.4" height="0.7" fill="#fdf3ee" opacity="0.38"/>
<rect x="0" y="27.97" width="38.4" height="0.7" fill="#fdf3ee" opacity="0.44"/>
<rect x="0" y="28.97" width="38.4" height="0.7" fill="#fdf3ee" opacity="0.4"/>
<rect x="0" y="35.96" width="38.4" height="0.7" fill="#fdf3ee" opacity="0.29"/>
<rect x="0" y="38.96" width="38.4" height="0.7" fill="#fdf3ee" opacity="0.48"/>
<rect x="0" y="39.95" width="38.4" height="0.7" fill="#fdf3ee" opacity="0.4"/>
<rect x="0" y="42.95" width="38.4" height="0.7" fill="#fdf3ee" opacity="0.25"/>
<rect x="0" y="43.95" width="38.4" height="0.7" fill="#fdf3ee" opacity="0.41"/>
<rect x="0" y="56.94" width="38.4" height="0.7" fill="#fdf3ee" opacity="0.4"/>
<rect x="0" y="68.92" width="38.4" height="0.7" fill="#fdf3ee" opacity="0.5"/>
<rect x="0" y="69.92" width="38.4" height="0.7" fill="#fdf3ee" opacity="0.48"/>
<rect x="0" y="70.92" width="38.4" height="0.7" fill="#fdf3ee" opacity="0.41"/>
<rect x="0" y="71.92" width="38.4" height="0.7" fill="#fdf3ee" opacity="0.26"/>
<rect x="0" y="73.92" width="38.4" height="0.7" fill="#fdf3ee" opacity="0.44"/>
<rect x="0" y="74.91" width="38.4" height="0.7" fill="#fdf3ee" opacity="0.27"/>
<rect x="0" y="80.91" width="38.4" height="0.7" fill="#fdf3ee" opacity="0.27"/>
</svg>
<rect x="166.8" y="328.1" width="38.4" height="87.9" fill="none" stroke="#8a8a8a" stroke-width="0.85"/>
<rect x="166.8" y="428.4" width="38.4" height="87.6" fill="#fcefe7"/>
<svg x="166.8" y="428.4" width="38.4" height="87.6" overflow="hidden">
<rect x="0" y="0" width="38.4" height="1.02" fill="#e58670" opacity="0.26"/>
<rect x="8.86" y="0" width="26.03" height="1.02" fill="#e58670" opacity="0.29"/>
<rect x="0" y="1" width="38.4" height="1.02" fill="#e58670" opacity="0.15"/>
<rect x="0" y="1" width="38.4" height="1.02" fill="#e58670" opacity="0.55"/>
<rect x="11.72" y="1" width="13.34" height="1.02" fill="#e58670" opacity="0.51"/>
<rect x="0" y="1.99" width="38.4" height="1.02" fill="#e58670" opacity="0.11"/>
<rect x="0" y="1.99" width="38.4" height="1.02" fill="#e58670" opacity="0.21"/>
<rect x="0" y="1.99" width="38.4" height="1.02" fill="#e58670" opacity="0.58"/>
<rect x="0" y="2.99" width="38.4" height="1.02" fill="#e58670" opacity="0.08"/>
<rect x="15.17" y="2.99" width="14.12" height="1.02" fill="#e58670" opacity="0.41"/>
<rect x="8.58" y="2.99" width="15.05" height="1.02" fill="#e58670" opacity="0.25"/>
<rect x="0" y="3.98" width="38.4" height="1.02" fill="#e58670" opacity="0.03"/>
<rect x="0" y="3.98" width="38.4" height="1.02" fill="#e58670" opacity="0.28"/>
<rect x="0" y="3.98" width="38.4" height="1.02" fill="#e58670" opacity="0.38"/>
<rect x="7.37" y="4.98" width="20.51" height="1.02" fill="#e58670" opacity="0.35"/>
<rect x="0" y="4.98" width="38.4" height="1.02" fill="#e58670" opacity="0.35"/>
<rect x="12.52" y="5.97" width="10.08" height="1.02" fill="#e58670" opacity="0.44"/>
<rect x="6.97" y="5.97" width="33.04" height="1.02" fill="#e58670" opacity="0.3"/>
<rect x="0" y="6.97" width="38.4" height="1.02" fill="#e58670" opacity="0.26"/>
<rect x="9.85" y="6.97" width="24.23" height="1.02" fill="#e58670" opacity="0.28"/>
<rect x="0" y="7.96" width="38.4" height="1.02" fill="#e58670" opacity="0.17"/>
<rect x="13.14" y="7.96" width="16.2" height="1.02" fill="#e58670" opacity="0.25"/>
<rect x="-2.87" y="8.96" width="33.12" height="1.02" fill="#e58670" opacity="0.37"/>
<rect x="0" y="8.96" width="38.4" height="1.02" fill="#e58670" opacity="0.47"/>
<rect x="0" y="9.95" width="38.4" height="1.02" fill="#e58670" opacity="0.44"/>
<rect x="0" y="10.95" width="38.4" height="1.02" fill="#e58670" opacity="0.28"/>
<rect x="14.14" y="10.95" width="13.11" height="1.02" fill="#e58670" opacity="0.23"/>
<rect x="0" y="10.95" width="38.4" height="1.02" fill="#e58670" opacity="0.35"/>
<rect x="0" y="11.95" width="38.4" height="1.02" fill="#e58670" opacity="0.3"/>
<rect x="10.83" y="11.95" width="13.26" height="1.02" fill="#e58670" opacity="0.2"/>
<rect x="4.8" y="11.95" width="18.42" height="1.02" fill="#e58670" opacity="0.38"/>
<rect x="0" y="12.94" width="38.4" height="1.02" fill="#e58670" opacity="0.29"/>
<rect x="12.02" y="12.94" width="11.15" height="1.02" fill="#e58670" opacity="0.47"/>
<rect x="-4.18" y="13.94" width="30.29" height="1.02" fill="#e58670" opacity="0.48"/>
<rect x="0" y="13.94" width="38.4" height="1.02" fill="#e58670" opacity="0.42"/>
<rect x="0" y="14.93" width="38.4" height="1.02" fill="#e58670" opacity="0.15"/>
<rect x="0" y="14.93" width="38.4" height="1.02" fill="#e58670" opacity="0.32"/>
<rect x="0" y="15.93" width="38.4" height="1.02" fill="#e58670" opacity="0.47"/>
<rect x="0" y="16.92" width="38.4" height="1.02" fill="#e58670" opacity="0.29"/>
<rect x="-2.45" y="17.92" width="27.22" height="1.02" fill="#e58670" opacity="0.44"/>
<rect x="0" y="17.92" width="38.4" height="1.02" fill="#e58670" opacity="0.41"/>
<rect x="0" y="18.91" width="38.4" height="1.02" fill="#e58670" opacity="0.39"/>
<rect x="8.93" y="19.91" width="19.28" height="1.02" fill="#e58670" opacity="0.4"/>
<rect x="0" y="19.91" width="38.4" height="1.02" fill="#e58670" opacity="0.2"/>
<rect x="0" y="19.91" width="38.4" height="1.02" fill="#e58670" opacity="0.4"/>
<rect x="3.04" y="20.9" width="26.73" height="1.02" fill="#e58670" opacity="0.14"/>
<rect x="3.12" y="20.9" width="25.2" height="1.02" fill="#e58670" opacity="0.2"/>
<rect x="7.17" y="21.9" width="28.43" height="1.02" fill="#e58670" opacity="0.31"/>
<rect x="0" y="21.9" width="38.4" height="1.02" fill="#e58670" opacity="0.38"/>
<rect x="0" y="22.9" width="38.4" height="1.02" fill="#e58670" opacity="0.38"/>
<rect x="5.7" y="22.9" width="26.64" height="1.02" fill="#e58670" opacity="0.17"/>
<rect x="0" y="23.89" width="38.4" height="1.02" fill="#e58670" opacity="0.35"/>
<rect x="0" y="23.89" width="38.4" height="1.02" fill="#e58670" opacity="0.14"/>
<rect x="8.67" y="24.89" width="24.7" height="1.02" fill="#e58670" opacity="0.23"/>
<rect x="6.09" y="24.89" width="18.4" height="1.02" fill="#e58670" opacity="0.36"/>
<rect x="0" y="25.88" width="38.4" height="1.02" fill="#e58670" opacity="0.37"/>
<rect x="0" y="25.88" width="38.4" height="1.02" fill="#e58670" opacity="0.34"/>
<rect x="5.2" y="26.88" width="20.54" height="1.02" fill="#e58670" opacity="0.15"/>
<rect x="10.13" y="26.88" width="15.63" height="1.02" fill="#e58670" opacity="0.34"/>
<rect x="0" y="27.87" width="38.4" height="1.02" fill="#e58670" opacity="0.26"/>
<rect x="0" y="28.87" width="38.4" height="1.02" fill="#e58670" opacity="0.31"/>
<rect x="12.87" y="28.87" width="12.25" height="1.02" fill="#e58670" opacity="0.17"/>
<rect x="0" y="28.87" width="38.4" height="1.02" fill="#e58670" opacity="0.21"/>
<rect x="0" y="29.86" width="38.4" height="1.02" fill="#e58670" opacity="0.34"/>
<rect x="1.96" y="29.86" width="29.05" height="1.02" fill="#e58670" opacity="0.23"/>
<rect x="0" y="29.86" width="38.4" height="1.02" fill="#e58670" opacity="0.22"/>
<rect x="-3.2" y="30.86" width="29.13" height="1.02" fill="#e58670" opacity="0.13"/>
<rect x="10.62" y="30.86" width="20.17" height="1.02" fill="#e58670" opacity="0.15"/>
<rect x="0" y="32.85" width="38.4" height="1.02" fill="#e58670" opacity="0.27"/>
<rect x="0" y="32.85" width="38.4" height="1.02" fill="#e58670" opacity="0.17"/>
<rect x="0" y="33.85" width="38.4" height="1.02" fill="#e58670" opacity="0.15"/>
<rect x="8.74" y="33.85" width="26.05" height="1.02" fill="#e58670" opacity="0.1"/>
<rect x="0" y="34.84" width="38.4" height="1.02" fill="#e58670" opacity="0.32"/>
<rect x="11.6" y="35.84" width="20.87" height="1.02" fill="#e58670" opacity="0.21"/>
<rect x="2.81" y="35.84" width="27.35" height="1.02" fill="#e58670" opacity="0.29"/>
<rect x="0" y="36.83" width="38.4" height="1.02" fill="#e58670" opacity="0.29"/>
<rect x="0" y="36.83" width="38.4" height="1.02" fill="#e58670" opacity="0.23"/>
<rect x="12.63" y="37.83" width="29.59" height="1.02" fill="#e58670" opacity="0.16"/>
<rect x="9.21" y="37.83" width="20.56" height="1.02" fill="#e58670" opacity="0.14"/>
<rect x="10.32" y="38.82" width="16.76" height="1.02" fill="#e58670" opacity="0.14"/>
<rect x="2.16" y="38.82" width="21.61" height="1.02" fill="#e58670" opacity="0.25"/>
<rect x="4.9" y="39.82" width="21.42" height="1.02" fill="#e58670" opacity="0.16"/>
<rect x="0" y="39.82" width="38.4" height="1.02" fill="#e58670" opacity="0.16"/>
<rect x="1.71" y="41.81" width="30.7" height="1.02" fill="#e58670" opacity="0.16"/>
<rect x="0" y="42.8" width="38.4" height="1.02" fill="#e58670" opacity="0.25"/>
<rect x="0" y="42.8" width="38.4" height="1.02" fill="#e58670" opacity="0.17"/>
<rect x="0" y="43.8" width="38.4" height="1.02" fill="#e58670" opacity="0.12"/>
<rect x="0" y="45.79" width="38.4" height="1.02" fill="#e58670" opacity="0.21"/>
<rect x="12.99" y="45.79" width="9.95" height="1.02" fill="#e58670" opacity="0.14"/>
<rect x="0" y="45.79" width="38.4" height="1.02" fill="#e58670" opacity="0.13"/>
<rect x="-4.62" y="46.79" width="29.98" height="1.02" fill="#e58670" opacity="0.11"/>
<rect x="3.98" y="46.79" width="29.21" height="1.02" fill="#e58670" opacity="0.21"/>
<rect x="0" y="47.78" width="38.4" height="1.02" fill="#e58670" opacity="0.14"/>
<rect x="9.94" y="47.78" width="22.73" height="1.02" fill="#e58670" opacity="0.09"/>
<rect x="0" y="48.78" width="38.4" height="1.02" fill="#e58670" opacity="0.15"/>
<rect x="11.33" y="48.78" width="34.41" height="1.02" fill="#e58670" opacity="0.21"/>
<rect x="0" y="48.78" width="38.4" height="1.02" fill="#e58670" opacity="0.07"/>
<rect x="0" y="49.77" width="38.4" height="1.02" fill="#e58670" opacity="0.12"/>
<rect x="6.44" y="50.77" width="17.09" height="1.02" fill="#e58670" opacity="0.11"/>
<rect x="12.02" y="52.76" width="25.49" height="1.02" fill="#e58670" opacity="0.17"/>
<rect x="11.88" y="52.76" width="11.79" height="1.02" fill="#e58670" opacity="0.1"/>
<rect x="5.11" y="53.75" width="21.02" height="1.02" fill="#e58670" opacity="0.07"/>
<rect x="0" y="53.75" width="38.4" height="1.02" fill="#e58670" opacity="0.09"/>
<rect x="0.37" y="53.75" width="30.08" height="1.02" fill="#e58670" opacity="0.07"/>
<rect x="13.14" y="54.75" width="9.62" height="1.02" fill="#e58670" opacity="0.11"/>
<rect x="13.92" y="54.75" width="13.48" height="1.02" fill="#e58670" opacity="0.09"/>
<rect x="8.79" y="55.75" width="31.25" height="1.02" fill="#e58670" opacity="0.07"/>
<rect x="0" y="55.75" width="38.4" height="1.02" fill="#e58670" opacity="0.08"/>
<rect x="0" y="56.74" width="38.4" height="1.02" fill="#e58670" opacity="0.1"/>
<rect x="0" y="56.74" width="38.4" height="1.02" fill="#e58670" opacity="0.06"/>
<rect x="-5.06" y="56.74" width="31.41" height="1.02" fill="#e58670" opacity="0.11"/>
<rect x="6.41" y="57.74" width="28.15" height="1.02" fill="#e58670" opacity="0.12"/>
<rect x="0" y="57.74" width="38.4" height="1.02" fill="#e58670" opacity="0.13"/>
<rect x="10.03" y="58.73" width="24.02" height="1.02" fill="#e58670" opacity="0.08"/>
<rect x="0" y="58.73" width="38.4" height="1.02" fill="#e58670" opacity="0.1"/>
<rect x="-2.84" y="59.73" width="30.47" height="1.02" fill="#e58670" opacity="0.12"/>
<rect x="0" y="59.73" width="38.4" height="1.02" fill="#e58670" opacity="0.14"/>
<rect x="0" y="60.72" width="38.4" height="1.02" fill="#e58670" opacity="0.12"/>
<rect x="4.07" y="60.72" width="23.78" height="1.02" fill="#e58670" opacity="0.08"/>
<rect x="11.64" y="61.72" width="14.66" height="1.02" fill="#e58670" opacity="0.07"/>
<rect x="0" y="61.72" width="38.4" height="1.02" fill="#e58670" opacity="0.06"/>
<rect x="11.12" y="61.72" width="20.44" height="1.02" fill="#e58670" opacity="0.14"/>
<rect x="0" y="62.71" width="38.4" height="1.02" fill="#e58670" opacity="0.15"/>
<rect x="16.4" y="62.71" width="11.28" height="1.02" fill="#e58670" opacity="0.09"/>
<rect x="6.13" y="62.71" width="26.35" height="1.02" fill="#e58670" opacity="0.05"/>
<rect x="0" y="63.71" width="38.4" height="1.02" fill="#e58670" opacity="0.05"/>
<rect x="0" y="63.71" width="38.4" height="1.02" fill="#e58670" opacity="0.11"/>
<rect x="0" y="65.7" width="38.4" height="1.02" fill="#e58670" opacity="0.09"/>
<rect x="11.23" y="65.7" width="21.23" height="1.02" fill="#e58670" opacity="0.05"/>
<rect x="0" y="65.7" width="38.4" height="1.02" fill="#e58670" opacity="0.07"/>
<rect x="5.81" y="66.7" width="19.45" height="1.02" fill="#e58670" opacity="0.11"/>
<rect x="13.51" y="66.7" width="20.31" height="1.02" fill="#e58670" opacity="0.1"/>
<rect x="0" y="67.69" width="38.4" height="1.02" fill="#e58670" opacity="0.12"/>
<rect x="0" y="68.69" width="38.4" height="1.02" fill="#e58670" opacity="0.05"/>
<rect x="0" y="68.69" width="38.4" height="1.02" fill="#e58670" opacity="0.13"/>
<rect x="10.51" y="69.68" width="15.43" height="1.02" fill="#e58670" opacity="0.14"/>
<rect x="0" y="69.68" width="38.4" height="1.02" fill="#e58670" opacity="0.06"/>
<rect x="14.2" y="70.68" width="14.83" height="1.02" fill="#e58670" opacity="0.07"/>
<rect x="0" y="70.68" width="38.4" height="1.02" fill="#e58670" opacity="0.12"/>
<rect x="5.68" y="71.67" width="17.51" height="1.02" fill="#e58670" opacity="0.13"/>
<rect x="0" y="71.67" width="38.4" height="1.02" fill="#e58670" opacity="0.13"/>
<rect x="0" y="72.67" width="38.4" height="1.02" fill="#e58670" opacity="0.07"/>
<rect x="0" y="72.67" width="38.4" height="1.02" fill="#e58670" opacity="0.13"/>
<rect x="13.04" y="73.66" width="14.64" height="1.02" fill="#e58670" opacity="0.14"/>
<rect x="0" y="73.66" width="38.4" height="1.02" fill="#e58670" opacity="0.09"/>
<rect x="10.13" y="74.66" width="11.36" height="1.02" fill="#e58670" opacity="0.1"/>
<rect x="0" y="75.65" width="38.4" height="1.02" fill="#e58670" opacity="0.14"/>
<rect x="-0.43" y="75.65" width="34.42" height="1.02" fill="#e58670" opacity="0.11"/>
<rect x="0" y="75.65" width="38.4" height="1.02" fill="#e58670" opacity="0.09"/>
<rect x="9.43" y="76.65" width="15.95" height="1.02" fill="#e58670" opacity="0.09"/>
<rect x="10.47" y="76.65" width="12.04" height="1.02" fill="#e58670" opacity="0.13"/>
<rect x="7.06" y="77.65" width="23.2" height="1.02" fill="#e58670" opacity="0.07"/>
<rect x="6.84" y="77.65" width="29.48" height="1.02" fill="#e58670" opacity="0.11"/>
<rect x="10.8" y="77.65" width="11.05" height="1.02" fill="#e58670" opacity="0.05"/>
<rect x="0" y="78.64" width="38.4" height="1.02" fill="#e58670" opacity="0.1"/>
<rect x="0" y="78.64" width="38.4" height="1.02" fill="#e58670" opacity="0.1"/>
<rect x="13.34" y="78.64" width="25.81" height="1.02" fill="#e58670" opacity="0.1"/>
<rect x="4.85" y="79.64" width="29.36" height="1.02" fill="#e58670" opacity="0.08"/>
<rect x="-0.14" y="79.64" width="31.15" height="1.02" fill="#e58670" opacity="0.06"/>
<rect x="0" y="80.63" width="38.4" height="1.02" fill="#e58670" opacity="0.07"/>
<rect x="8.92" y="81.63" width="23.08" height="1.02" fill="#e58670" opacity="0.07"/>
<rect x="14.54" y="81.63" width="15.36" height="1.02" fill="#e58670" opacity="0.11"/>
<rect x="0" y="83.62" width="38.4" height="1.02" fill="#e58670" opacity="0.15"/>
<rect x="-5.3" y="83.62" width="33.12" height="1.02" fill="#e58670" opacity="0.08"/>
<rect x="11.69" y="84.61" width="15.02" height="1.02" fill="#e58670" opacity="0.05"/>
<rect x="7.43" y="85.61" width="26.55" height="1.02" fill="#e58670" opacity="0.1"/>
<rect x="0" y="86.6" width="38.4" height="1.02" fill="#e58670" opacity="0.09"/>
<rect x="-23.9" y="0" width="85.8" height="1.04" fill="url(#gR)" opacity="0.22"/>
<rect x="-23.25" y="1" width="84.66" height="1.04" fill="url(#gR)" opacity="0.25"/>
<rect x="-22.81" y="1.99" width="83.53" height="1.04" fill="url(#gR)" opacity="0.22"/>
<rect x="-22.03" y="2.99" width="82.4" height="1.04" fill="url(#gR)" opacity="0.27"/>
<rect x="-22.24" y="3.98" width="81.28" height="1.04" fill="url(#gR)" opacity="0.26"/>
<rect x="-21.09" y="4.98" width="80.16" height="1.04" fill="url(#gR)" opacity="0.25"/>
<rect x="-21.16" y="5.97" width="79.04" height="1.04" fill="url(#gR)" opacity="0.3"/>
<rect x="-20.48" y="6.97" width="77.94" height="1.04" fill="url(#gR)" opacity="0.23"/>
<rect x="-19.76" y="7.96" width="76.84" height="1.04" fill="url(#gR)" opacity="0.29"/>
<rect x="-19.28" y="8.96" width="75.74" height="1.04" fill="url(#gR)" opacity="0.29"/>
<rect x="-18.06" y="9.95" width="74.65" height="1.04" fill="url(#gR)" opacity="0.23"/>
<rect x="-17.55" y="10.95" width="73.56" height="1.04" fill="url(#gR)" opacity="0.21"/>
<rect x="-17.69" y="11.95" width="72.48" height="1.04" fill="url(#gR)" opacity="0.26"/>
<rect x="-16.85" y="12.94" width="71.41" height="1.04" fill="url(#gR)" opacity="0.25"/>
<rect x="-16.77" y="13.94" width="70.34" height="1.04" fill="url(#gR)" opacity="0.23"/>
<rect x="-15.96" y="14.93" width="69.28" height="1.04" fill="url(#gR)" opacity="0.19"/>
<rect x="-15.56" y="15.93" width="68.22" height="1.04" fill="url(#gR)" opacity="0.27"/>
<rect x="-14.36" y="16.92" width="67.17" height="1.04" fill="url(#gR)" opacity="0.27"/>
<rect x="-14.74" y="17.92" width="66.13" height="1.04" fill="url(#gR)" opacity="0.26"/>
<rect x="-13.81" y="18.91" width="65.09" height="1.04" fill="url(#gR)" opacity="0.18"/>
<rect x="-13.53" y="19.91" width="64.06" height="1.04" fill="url(#gR)" opacity="0.21"/>
<rect x="-12.35" y="20.9" width="63.03" height="1.04" fill="url(#gR)" opacity="0.18"/>
<rect x="-12.33" y="21.9" width="62.01" height="1.04" fill="url(#gR)" opacity="0.18"/>
<rect x="-11.56" y="22.9" width="61" height="1.04" fill="url(#gR)" opacity="0.18"/>
<rect x="-11.32" y="23.89" width="59.99" height="1.04" fill="url(#gR)" opacity="0.22"/>
<rect x="-10.29" y="24.89" width="58.99" height="1.04" fill="url(#gR)" opacity="0.21"/>
<rect x="-10.68" y="25.88" width="57.99" height="1.04" fill="url(#gR)" opacity="0.2"/>
<rect x="-9.81" y="26.88" width="57" height="1.04" fill="url(#gR)" opacity="0.18"/>
<rect x="-9.17" y="27.87" width="56.02" height="1.04" fill="url(#gR)" opacity="0.17"/>
<rect x="-8.39" y="28.87" width="55.04" height="1.04" fill="url(#gR)" opacity="0.21"/>
<rect x="-7.76" y="29.86" width="54.07" height="1.04" fill="url(#gR)" opacity="0.21"/>
<rect x="-7.88" y="30.86" width="53.11" height="1.04" fill="url(#gR)" opacity="0.16"/>
<rect x="-7.22" y="31.85" width="52.15" height="1.04" fill="url(#gR)" opacity="0.22"/>
<rect x="-6.36" y="32.85" width="51.2" height="1.04" fill="url(#gR)" opacity="0.16"/>
<rect x="-6.59" y="33.85" width="50.26" height="1.04" fill="url(#gR)" opacity="0.16"/>
<rect x="-5.8" y="34.84" width="49.33" height="1.04" fill="url(#gR)" opacity="0.22"/>
<rect x="-5.05" y="35.84" width="48.4" height="1.04" fill="url(#gR)" opacity="0.14"/>
<rect x="-4.5" y="36.83" width="47.48" height="1.04" fill="url(#gR)" opacity="0.22"/>
<rect x="-4.56" y="37.83" width="46.56" height="1.04" fill="url(#gR)" opacity="0.17"/>
<rect x="-4.14" y="38.82" width="45.65" height="1.04" fill="url(#gR)" opacity="0.17"/>
<rect x="-3.36" y="39.82" width="44.75" height="1.04" fill="url(#gR)" opacity="0.21"/>
<rect x="-3.14" y="40.81" width="43.86" height="1.04" fill="url(#gR)" opacity="0.16"/>
<rect x="-2.96" y="41.81" width="42.98" height="1.04" fill="url(#gR)" opacity="0.19"/>
<rect x="-2.71" y="42.8" width="42.1" height="1.04" fill="url(#gR)" opacity="0.15"/>
<rect x="-2.23" y="43.8" width="41.23" height="1.04" fill="url(#gR)" opacity="0.14"/>
<rect x="-1.32" y="44.8" width="40.37" height="1.04" fill="url(#gR)" opacity="0.16"/>
<rect x="-0.92" y="45.79" width="39.52" height="1.04" fill="url(#gR)" opacity="0.13"/>
<rect x="-0.2" y="46.79" width="38.67" height="1.04" fill="url(#gR)" opacity="0.18"/>
<rect x="-0.12" y="47.78" width="37.84" height="1.04" fill="url(#gR)" opacity="0.18"/>
<rect x="0.73" y="48.78" width="37.01" height="1.04" fill="url(#gR)" opacity="0.19"/>
<rect x="1.19" y="49.77" width="36.19" height="1.04" fill="url(#gR)" opacity="0.18"/>
<rect x="0.73" y="50.77" width="35.37" height="1.04" fill="url(#gR)" opacity="0.15"/>
<rect x="1.61" y="51.76" width="34.57" height="1.04" fill="url(#gR)" opacity="0.16"/>
<rect x="2.37" y="52.76" width="33.78" height="1.04" fill="url(#gR)" opacity="0.16"/>
<rect x="2.67" y="53.75" width="32.99" height="1.04" fill="url(#gR)" opacity="0.13"/>
<rect x="2.67" y="54.75" width="32.22" height="1.04" fill="url(#gR)" opacity="0.13"/>
<rect x="3.09" y="55.75" width="31.45" height="1.04" fill="url(#gR)" opacity="0.16"/>
<rect x="3.06" y="56.74" width="30.69" height="1.04" fill="url(#gR)" opacity="0.17"/>
<rect x="4.13" y="57.74" width="29.95" height="1.04" fill="url(#gR)" opacity="0.13"/>
<rect x="3.91" y="58.73" width="29.21" height="1.04" fill="url(#gR)" opacity="0.16"/>
<rect x="4.28" y="59.73" width="28.48" height="1.04" fill="url(#gR)" opacity="0.12"/>
<rect x="4.65" y="60.72" width="27.77" height="1.04" fill="url(#gR)" opacity="0.12"/>
<rect x="4.89" y="61.72" width="27.06" height="1.04" fill="url(#gR)" opacity="0.13"/>
<rect x="5.47" y="62.71" width="26.36" height="1.04" fill="url(#gR)" opacity="0.12"/>
<rect x="5.94" y="63.71" width="25.68" height="1.04" fill="url(#gR)" opacity="0.16"/>
<rect x="6.09" y="64.7" width="25.01" height="1.04" fill="url(#gR)" opacity="0.14"/>
<rect x="6.19" y="65.7" width="24.34" height="1.04" fill="url(#gR)" opacity="0.1"/>
<rect x="7.38" y="66.7" width="23.69" height="1.04" fill="url(#gR)" opacity="0.15"/>
<rect x="7.58" y="67.69" width="23.06" height="1.04" fill="url(#gR)" opacity="0.15"/>
<rect x="7.52" y="68.69" width="22.43" height="1.04" fill="url(#gR)" opacity="0.13"/>
<rect x="7.97" y="69.68" width="21.82" height="1.04" fill="url(#gR)" opacity="0.15"/>
<rect x="7.89" y="70.68" width="21.22" height="1.04" fill="url(#gR)" opacity="0.11"/>
<rect x="8.26" y="71.67" width="20.64" height="1.04" fill="url(#gR)" opacity="0.14"/>
<rect x="8.61" y="72.67" width="20.07" height="1.04" fill="url(#gR)" opacity="0.14"/>
<rect x="8.79" y="73.66" width="19.51" height="1.04" fill="url(#gR)" opacity="0.09"/>
<rect x="9.5" y="74.66" width="18.97" height="1.04" fill="url(#gR)" opacity="0.1"/>
<rect x="9.18" y="75.65" width="18.45" height="1.04" fill="url(#gR)" opacity="0.09"/>
<rect x="9.56" y="76.65" width="17.94" height="1.04" fill="url(#gR)" opacity="0.13"/>
<rect x="10.54" y="77.65" width="17.46" height="1.04" fill="url(#gR)" opacity="0.1"/>
<rect x="10.38" y="78.64" width="16.99" height="1.04" fill="url(#gR)" opacity="0.11"/>
<rect x="10.35" y="79.64" width="16.54" height="1.04" fill="url(#gR)" opacity="0.1"/>
<rect x="10.72" y="80.63" width="16.11" height="1.04" fill="url(#gR)" opacity="0.06"/>
<rect x="11.13" y="81.63" width="15.71" height="1.04" fill="url(#gR)" opacity="0.05"/>
<rect x="11.62" y="82.62" width="15.33" height="1.04" fill="url(#gR)" opacity="0.03"/>
<rect x="2.5" y="0" width="33" height="1.04" fill="url(#gR)" opacity="0.74"/>
<rect x="2.8" y="1" width="32.56" height="1.04" fill="url(#gR)" opacity="0.84"/>
<rect x="2.89" y="1.99" width="32.13" height="1.04" fill="url(#gR)" opacity="0.74"/>
<rect x="3.33" y="2.99" width="31.69" height="1.04" fill="url(#gR)" opacity="0.9"/>
<rect x="2.77" y="3.98" width="31.26" height="1.04" fill="url(#gR)" opacity="0.85"/>
<rect x="3.57" y="4.98" width="30.83" height="1.04" fill="url(#gR)" opacity="0.83"/>
<rect x="3.17" y="5.97" width="30.4" height="1.04" fill="url(#gR)" opacity="0.99"/>
<rect x="3.5" y="6.97" width="29.98" height="1.04" fill="url(#gR)" opacity="0.75"/>
<rect x="3.88" y="7.96" width="29.55" height="1.04" fill="url(#gR)" opacity="0.97"/>
<rect x="4.03" y="8.96" width="29.13" height="1.04" fill="url(#gR)" opacity="0.95"/>
<rect x="4.9" y="9.95" width="28.71" height="1.04" fill="url(#gR)" opacity="0.76"/>
<rect x="5.09" y="10.95" width="28.29" height="1.04" fill="url(#gR)" opacity="0.7"/>
<rect x="4.62" y="11.95" width="27.88" height="1.04" fill="url(#gR)" opacity="0.88"/>
<rect x="5.12" y="12.94" width="27.47" height="1.04" fill="url(#gR)" opacity="0.83"/>
<rect x="4.87" y="13.94" width="27.05" height="1.04" fill="url(#gR)" opacity="0.78"/>
<rect x="5.36" y="14.93" width="26.65" height="1.04" fill="url(#gR)" opacity="0.64"/>
<rect x="5.43" y="15.93" width="26.24" height="1.04" fill="url(#gR)" opacity="0.91"/>
<rect x="6.31" y="16.92" width="25.84" height="1.04" fill="url(#gR)" opacity="0.9"/>
<rect x="5.61" y="17.92" width="25.43" height="1.04" fill="url(#gR)" opacity="0.88"/>
<rect x="6.22" y="18.91" width="25.03" height="1.04" fill="url(#gR)" opacity="0.59"/>
<rect x="6.18" y="19.91" width="24.64" height="1.04" fill="url(#gR)" opacity="0.7"/>
<rect x="7.05" y="20.9" width="24.24" height="1.04" fill="url(#gR)" opacity="0.58"/>
<rect x="6.75" y="21.9" width="23.85" height="1.04" fill="url(#gR)" opacity="0.61"/>
<rect x="7.21" y="22.9" width="23.46" height="1.04" fill="url(#gR)" opacity="0.6"/>
<rect x="7.13" y="23.89" width="23.07" height="1.04" fill="url(#gR)" opacity="0.73"/>
<rect x="7.86" y="24.89" width="22.69" height="1.04" fill="url(#gR)" opacity="0.71"/>
<rect x="7.16" y="25.88" width="22.3" height="1.04" fill="url(#gR)" opacity="0.66"/>
<rect x="7.73" y="26.88" width="21.92" height="1.04" fill="url(#gR)" opacity="0.59"/>
<rect x="8.07" y="27.87" width="21.55" height="1.04" fill="url(#gR)" opacity="0.58"/>
<rect x="8.55" y="28.87" width="21.17" height="1.04" fill="url(#gR)" opacity="0.7"/>
<rect x="8.87" y="29.86" width="20.8" height="1.04" fill="url(#gR)" opacity="0.7"/>
<rect x="8.46" y="30.86" width="20.43" height="1.04" fill="url(#gR)" opacity="0.52"/>
<rect x="8.83" y="31.85" width="20.06" height="1.04" fill="url(#gR)" opacity="0.73"/>
<rect x="9.4" y="32.85" width="19.69" height="1.04" fill="url(#gR)" opacity="0.54"/>
<rect x="8.88" y="33.85" width="19.33" height="1.04" fill="url(#gR)" opacity="0.52"/>
<rect x="9.37" y="34.84" width="18.97" height="1.04" fill="url(#gR)" opacity="0.73"/>
<rect x="9.84" y="35.84" width="18.61" height="1.04" fill="url(#gR)" opacity="0.48"/>
<rect x="10.11" y="36.83" width="18.26" height="1.04" fill="url(#gR)" opacity="0.73"/>
<rect x="9.77" y="37.83" width="17.91" height="1.04" fill="url(#gR)" opacity="0.55"/>
<rect x="9.9" y="38.82" width="17.56" height="1.04" fill="url(#gR)" opacity="0.57"/>
<rect x="10.41" y="39.82" width="17.21" height="1.04" fill="url(#gR)" opacity="0.7"/>
<rect x="10.36" y="40.81" width="16.87" height="1.04" fill="url(#gR)" opacity="0.53"/>
<rect x="10.27" y="41.81" width="16.53" height="1.04" fill="url(#gR)" opacity="0.62"/>
<rect x="10.24" y="42.8" width="16.19" height="1.04" fill="url(#gR)" opacity="0.49"/>
<rect x="10.46" y="43.8" width="15.86" height="1.04" fill="url(#gR)" opacity="0.47"/>
<rect x="11.11" y="44.8" width="15.53" height="1.04" fill="url(#gR)" opacity="0.52"/>
<rect x="11.24" y="45.79" width="15.2" height="1.04" fill="url(#gR)" opacity="0.43"/>
<rect x="11.69" y="46.79" width="14.87" height="1.04" fill="url(#gR)" opacity="0.6"/>
<rect x="11.52" y="47.78" width="14.55" height="1.04" fill="url(#gR)" opacity="0.61"/>
<rect x="12.12" y="48.78" width="14.23" height="1.04" fill="url(#gR)" opacity="0.63"/>
<rect x="12.33" y="49.77" width="13.92" height="1.04" fill="url(#gR)" opacity="0.59"/>
<rect x="11.62" y="50.77" width="13.61" height="1.04" fill="url(#gR)" opacity="0.5"/>
<rect x="12.25" y="51.76" width="13.3" height="1.04" fill="url(#gR)" opacity="0.55"/>
<rect x="12.76" y="52.76" width="12.99" height="1.04" fill="url(#gR)" opacity="0.52"/>
<rect x="12.82" y="53.75" width="12.69" height="1.04" fill="url(#gR)" opacity="0.44"/>
<rect x="12.58" y="54.75" width="12.39" height="1.04" fill="url(#gR)" opacity="0.44"/>
<rect x="12.77" y="55.75" width="12.1" height="1.04" fill="url(#gR)" opacity="0.52"/>
<rect x="12.5" y="56.74" width="11.81" height="1.04" fill="url(#gR)" opacity="0.56"/>
<rect x="13.34" y="57.74" width="11.52" height="1.04" fill="url(#gR)" opacity="0.43"/>
<rect x="12.89" y="58.73" width="11.23" height="1.04" fill="url(#gR)" opacity="0.52"/>
<rect x="13.04" y="59.73" width="10.95" height="1.04" fill="url(#gR)" opacity="0.39"/>
<rect x="13.2" y="60.72" width="10.68" height="1.04" fill="url(#gR)" opacity="0.39"/>
<rect x="13.21" y="61.72" width="10.41" height="1.04" fill="url(#gR)" opacity="0.45"/>
<rect x="13.58" y="62.71" width="10.14" height="1.04" fill="url(#gR)" opacity="0.4"/>
<rect x="13.85" y="63.71" width="9.88" height="1.04" fill="url(#gR)" opacity="0.55"/>
<rect x="13.78" y="64.7" width="9.62" height="1.04" fill="url(#gR)" opacity="0.48"/>
<rect x="13.68" y="65.7" width="9.36" height="1.04" fill="url(#gR)" opacity="0.35"/>
<rect x="14.67" y="66.7" width="9.11" height="1.04" fill="url(#gR)" opacity="0.49"/>
<rect x="14.68" y="67.69" width="8.87" height="1.04" fill="url(#gR)" opacity="0.51"/>
<rect x="14.42" y="68.69" width="8.63" height="1.04" fill="url(#gR)" opacity="0.44"/>
<rect x="14.68" y="69.68" width="8.39" height="1.04" fill="url(#gR)" opacity="0.5"/>
<rect x="14.42" y="70.68" width="8.16" height="1.04" fill="url(#gR)" opacity="0.36"/>
<rect x="14.61" y="71.67" width="7.94" height="1.04" fill="url(#gR)" opacity="0.48"/>
<rect x="14.79" y="72.67" width="7.72" height="1.04" fill="url(#gR)" opacity="0.45"/>
<rect x="14.79" y="73.66" width="7.5" height="1.04" fill="url(#gR)" opacity="0.31"/>
<rect x="15.34" y="74.66" width="7.3" height="1.04" fill="url(#gR)" opacity="0.34"/>
<rect x="14.86" y="75.65" width="7.1" height="1.04" fill="url(#gR)" opacity="0.31"/>
<rect x="15.08" y="76.65" width="6.9" height="1.04" fill="url(#gR)" opacity="0.44"/>
<rect x="15.92" y="77.65" width="6.71" height="1.04" fill="url(#gR)" opacity="0.34"/>
<rect x="15.6" y="78.64" width="6.53" height="1.04" fill="url(#gR)" opacity="0.37"/>
<rect x="15.44" y="79.64" width="6.36" height="1.04" fill="url(#gR)" opacity="0.33"/>
<rect x="15.68" y="80.63" width="6.2" height="1.04" fill="url(#gR)" opacity="0.21"/>
<rect x="15.96" y="81.63" width="6.04" height="1.04" fill="url(#gR)" opacity="0.16"/>
<rect x="16.34" y="82.62" width="5.9" height="1.04" fill="url(#gR)" opacity="0.11"/>
<rect x="0" y="1.99" width="38.4" height="0.7" fill="#fdf3ee" opacity="0.36"/>
<rect x="0" y="5.97" width="38.4" height="0.7" fill="#fdf3ee" opacity="0.24"/>
<rect x="0" y="9.95" width="38.4" height="0.7" fill="#fdf3ee" opacity="0.44"/>
<rect x="0" y="10.95" width="38.4" height="0.7" fill="#fdf3ee" opacity="0.37"/>
<rect x="0" y="13.94" width="38.4" height="0.7" fill="#fdf3ee" opacity="0.44"/>
<rect x="0" y="15.93" width="38.4" height="0.7" fill="#fdf3ee" opacity="0.23"/>
<rect x="0" y="19.91" width="38.4" height="0.7" fill="#fdf3ee" opacity="0.22"/>
<rect x="0" y="22.9" width="38.4" height="0.7" fill="#fdf3ee" opacity="0.44"/>
<rect x="0" y="25.88" width="38.4" height="0.7" fill="#fdf3ee" opacity="0.38"/>
<rect x="0" y="26.88" width="38.4" height="0.7" fill="#fdf3ee" opacity="0.24"/>
<rect x="0" y="32.85" width="38.4" height="0.7" fill="#fdf3ee" opacity="0.26"/>
<rect x="0" y="33.85" width="38.4" height="0.7" fill="#fdf3ee" opacity="0.29"/>
<rect x="0" y="42.8" width="38.4" height="0.7" fill="#fdf3ee" opacity="0.42"/>
<rect x="0" y="44.8" width="38.4" height="0.7" fill="#fdf3ee" opacity="0.49"/>
<rect x="0" y="48.78" width="38.4" height="0.7" fill="#fdf3ee" opacity="0.47"/>
<rect x="0" y="50.77" width="38.4" height="0.7" fill="#fdf3ee" opacity="0.35"/>
<rect x="0" y="51.76" width="38.4" height="0.7" fill="#fdf3ee" opacity="0.36"/>
<rect x="0" y="68.69" width="38.4" height="0.7" fill="#fdf3ee" opacity="0.46"/>
<rect x="0" y="71.67" width="38.4" height="0.7" fill="#fdf3ee" opacity="0.32"/>
<rect x="0" y="76.65" width="38.4" height="0.7" fill="#fdf3ee" opacity="0.46"/>
<rect x="0" y="84.61" width="38.4" height="0.7" fill="#fdf3ee" opacity="0.36"/>
<rect x="0" y="85.61" width="38.4" height="0.7" fill="#fdf3ee" opacity="0.42"/>
</svg>
<rect x="166.8" y="428.4" width="38.4" height="87.6" fill="none" stroke="#8a8a8a" stroke-width="0.85"/>
<rect x="257.8" y="328.1" width="38" height="87.9" fill="#fcefe7"/>
<svg x="257.8" y="328.1" width="38" height="87.9" overflow="hidden">
<rect x="0" y="0" width="38" height="1.02" fill="#e58670" opacity="0.4"/>
<rect x="0" y="0" width="38" height="1.02" fill="#e58670" opacity="0.32"/>
<rect x="0" y="1" width="38" height="1.02" fill="#e58670" opacity="0.27"/>
<rect x="13.2" y="1" width="16" height="1.02" fill="#e58670" opacity="0.25"/>
<rect x="0" y="2" width="38" height="1.02" fill="#e58670" opacity="0.31"/>
<rect x="13.68" y="2" width="19.87" height="1.02" fill="#e58670" opacity="0.14"/>
<rect x="-0.47" y="2" width="32.48" height="1.02" fill="#e58670" opacity="0.17"/>
<rect x="2.03" y="2" width="21.61" height="1.02" fill="#e58670" opacity="0.28"/>
<rect x="0" y="3" width="38" height="1.02" fill="#e58670" opacity="0.17"/>
<rect x="0" y="4" width="38" height="1.02" fill="#e58670" opacity="0.19"/>
<rect x="0" y="4" width="38" height="1.02" fill="#e58670" opacity="0.12"/>
<rect x="8.87" y="4" width="19.42" height="1.02" fill="#e58670" opacity="0.27"/>
<rect x="12.68" y="4" width="15.31" height="1.02" fill="#e58670" opacity="0.29"/>
<rect x="0" y="4.99" width="38" height="1.02" fill="#e58670" opacity="0.13"/>
<rect x="0" y="4.99" width="38" height="1.02" fill="#e58670" opacity="0.18"/>
<rect x="0" y="5.99" width="38" height="1.02" fill="#e58670" opacity="0.05"/>
<rect x="8.25" y="5.99" width="27.81" height="1.02" fill="#e58670" opacity="0.26"/>
<rect x="11.89" y="5.99" width="13.41" height="1.02" fill="#e58670" opacity="0.27"/>
<rect x="0" y="5.99" width="38" height="1.02" fill="#e58670" opacity="0.29"/>
<rect x="0" y="6.99" width="38" height="1.02" fill="#e58670" opacity="0"/>
<rect x="9.2" y="6.99" width="26.6" height="1.02" fill="#e58670" opacity="0.25"/>
<rect x="7.68" y="6.99" width="25.52" height="1.02" fill="#e58670" opacity="0.09"/>
<rect x="9.23" y="6.99" width="24.21" height="1.02" fill="#e58670" opacity="0.21"/>
<rect x="8.85" y="7.99" width="19.09" height="1.02" fill="#e58670" opacity="0.22"/>
<rect x="11.84" y="8.99" width="17.28" height="1.02" fill="#e58670" opacity="0.27"/>
<rect x="11.31" y="9.99" width="27.5" height="1.02" fill="#e58670" opacity="0.12"/>
<rect x="15.32" y="9.99" width="12.68" height="1.02" fill="#e58670" opacity="0.15"/>
<rect x="5.66" y="10.99" width="19.23" height="1.02" fill="#e58670" opacity="0.18"/>
<rect x="0" y="10.99" width="38" height="1.02" fill="#e58670" opacity="0.24"/>
<rect x="12.27" y="11.99" width="18.61" height="1.02" fill="#e58670" opacity="0.19"/>
<rect x="0" y="11.99" width="38" height="1.02" fill="#e58670" opacity="0.18"/>
<rect x="0" y="11.99" width="38" height="1.02" fill="#e58670" opacity="0.17"/>
<rect x="7.1" y="12.99" width="25.86" height="1.02" fill="#e58670" opacity="0.24"/>
<rect x="10.53" y="12.99" width="34.17" height="1.02" fill="#e58670" opacity="0.11"/>
<rect x="0.86" y="13.98" width="26.22" height="1.02" fill="#e58670" opacity="0.2"/>
<rect x="8.98" y="13.98" width="13.38" height="1.02" fill="#e58670" opacity="0.24"/>
<rect x="6.8" y="14.98" width="23.56" height="1.02" fill="#e58670" opacity="0.24"/>
<rect x="7.47" y="14.98" width="24.23" height="1.02" fill="#e58670" opacity="0.17"/>
<rect x="6.61" y="14.98" width="15.6" height="1.02" fill="#e58670" opacity="0.25"/>
<rect x="6.89" y="15.98" width="24.62" height="1.02" fill="#e58670" opacity="0.2"/>
<rect x="6.02" y="15.98" width="28.98" height="1.02" fill="#e58670" opacity="0.16"/>
<rect x="1.88" y="16.98" width="21.34" height="1.02" fill="#e58670" opacity="0.25"/>
<rect x="5.51" y="17.98" width="22" height="1.02" fill="#e58670" opacity="0.11"/>
<rect x="9.95" y="18.98" width="31.77" height="1.02" fill="#e58670" opacity="0.1"/>
<rect x="8.44" y="19.98" width="13.19" height="1.02" fill="#e58670" opacity="0.19"/>
<rect x="0.23" y="20.98" width="29.6" height="1.02" fill="#e58670" opacity="0.14"/>
<rect x="-2.69" y="20.98" width="29.51" height="1.02" fill="#e58670" opacity="0.18"/>
<rect x="0" y="21.97" width="38" height="1.02" fill="#e58670" opacity="0.18"/>
<rect x="9.61" y="21.97" width="15.13" height="1.02" fill="#e58670" opacity="0.11"/>
<rect x="11.85" y="22.97" width="21.7" height="1.02" fill="#e58670" opacity="0.11"/>
<rect x="11.71" y="22.97" width="13.47" height="1.02" fill="#e58670" opacity="0.2"/>
<rect x="0.42" y="23.97" width="28.98" height="1.02" fill="#e58670" opacity="0.15"/>
<rect x="6.22" y="24.97" width="22.34" height="1.02" fill="#e58670" opacity="0.12"/>
<rect x="-0.9" y="24.97" width="25.7" height="1.02" fill="#e58670" opacity="0.12"/>
<rect x="-3.53" y="24.97" width="31.41" height="1.02" fill="#e58670" opacity="0.07"/>
<rect x="11.4" y="25.97" width="12.53" height="1.02" fill="#e58670" opacity="0.21"/>
<rect x="6.41" y="25.97" width="29.33" height="1.02" fill="#e58670" opacity="0.13"/>
<rect x="15.27" y="25.97" width="11.74" height="1.02" fill="#e58670" opacity="0.12"/>
<rect x="0" y="26.97" width="38" height="1.02" fill="#e58670" opacity="0.14"/>
<rect x="9.05" y="27.97" width="22.02" height="1.02" fill="#e58670" opacity="0.17"/>
<rect x="-6.61" y="27.97" width="33.41" height="1.02" fill="#e58670" opacity="0.17"/>
<rect x="0" y="28.97" width="38" height="1.02" fill="#e58670" opacity="0.18"/>
<rect x="0" y="29.97" width="38" height="1.02" fill="#e58670" opacity="0.1"/>
<rect x="4.17" y="30.96" width="25.11" height="1.02" fill="#e58670" opacity="0.17"/>
<rect x="0.85" y="30.96" width="27.77" height="1.02" fill="#e58670" opacity="0.19"/>
<rect x="0" y="31.96" width="38" height="1.02" fill="#e58670" opacity="0.11"/>
<rect x="12.34" y="31.96" width="12.79" height="1.02" fill="#e58670" opacity="0.14"/>
<rect x="8.87" y="33.96" width="13.68" height="1.02" fill="#e58670" opacity="0.07"/>
<rect x="1.92" y="33.96" width="20.88" height="1.02" fill="#e58670" opacity="0.13"/>
<rect x="1.27" y="34.96" width="23.82" height="1.02" fill="#e58670" opacity="0.15"/>
<rect x="15.58" y="35.96" width="12.53" height="1.02" fill="#e58670" opacity="0.17"/>
<rect x="11.85" y="35.96" width="10.57" height="1.02" fill="#e58670" opacity="0.06"/>
<rect x="10.58" y="36.96" width="28.09" height="1.02" fill="#e58670" opacity="0.15"/>
<rect x="7.6" y="37.96" width="20.9" height="1.02" fill="#e58670" opacity="0.12"/>
<rect x="11.41" y="38.96" width="17.04" height="1.02" fill="#e58670" opacity="0.11"/>
<rect x="7.19" y="39.95" width="22.88" height="1.02" fill="#e58670" opacity="0.07"/>
<rect x="7.65" y="39.95" width="33.01" height="1.02" fill="#e58670" opacity="0.11"/>
<rect x="7.29" y="39.95" width="19.48" height="1.02" fill="#e58670" opacity="0.13"/>
<rect x="0" y="40.95" width="38" height="1.02" fill="#e58670" opacity="0.14"/>
<rect x="7.46" y="40.95" width="29.35" height="1.02" fill="#e58670" opacity="0.11"/>
<rect x="-3.49" y="41.95" width="31.17" height="1.02" fill="#e58670" opacity="0.12"/>
<rect x="9.42" y="42.95" width="31.62" height="1.02" fill="#e58670" opacity="0.15"/>
<rect x="0.49" y="42.95" width="24.61" height="1.02" fill="#e58670" opacity="0.14"/>
<rect x="-0.93" y="42.95" width="31.1" height="1.02" fill="#e58670" opacity="0.06"/>
<rect x="-3.51" y="43.95" width="27.75" height="1.02" fill="#e58670" opacity="0.06"/>
<rect x="0" y="43.95" width="38" height="1.02" fill="#e58670" opacity="0.14"/>
<rect x="14.45" y="44.95" width="12.76" height="1.02" fill="#e58670" opacity="0.12"/>
<rect x="12.96" y="45.95" width="15.39" height="1.02" fill="#e58670" opacity="0.1"/>
<rect x="5.95" y="45.95" width="32.29" height="1.02" fill="#e58670" opacity="0.06"/>
<rect x="0" y="45.95" width="38" height="1.02" fill="#e58670" opacity="0.13"/>
<rect x="12.69" y="46.95" width="24.23" height="1.02" fill="#e58670" opacity="0.14"/>
<rect x="12.74" y="46.95" width="17.36" height="1.02" fill="#e58670" opacity="0.07"/>
<rect x="-1.83" y="47.95" width="30.67" height="1.02" fill="#e58670" opacity="0.07"/>
<rect x="8.03" y="47.95" width="20.04" height="1.02" fill="#e58670" opacity="0.13"/>
<rect x="13.89" y="47.95" width="14.37" height="1.02" fill="#e58670" opacity="0.09"/>
<rect x="0" y="48.94" width="38" height="1.02" fill="#e58670" opacity="0.09"/>
<rect x="10.87" y="48.94" width="13.03" height="1.02" fill="#e58670" opacity="0.08"/>
<rect x="0" y="48.94" width="38" height="1.02" fill="#e58670" opacity="0.13"/>
<rect x="12.31" y="50.94" width="19.98" height="1.02" fill="#e58670" opacity="0.09"/>
<rect x="1.31" y="50.94" width="28.67" height="1.02" fill="#e58670" opacity="0.06"/>
<rect x="10.54" y="51.94" width="12.14" height="1.02" fill="#e58670" opacity="0.05"/>
<rect x="12.42" y="51.94" width="28.86" height="1.02" fill="#e58670" opacity="0.1"/>
<rect x="9.04" y="52.94" width="13.45" height="1.02" fill="#e58670" opacity="0.12"/>
<rect x="15.11" y="52.94" width="11.25" height="1.02" fill="#e58670" opacity="0.09"/>
<rect x="14.59" y="52.94" width="10.27" height="1.02" fill="#e58670" opacity="0.05"/>
<rect x="11.68" y="53.94" width="29.83" height="1.02" fill="#e58670" opacity="0.1"/>
<rect x="5.48" y="53.94" width="21.59" height="1.02" fill="#e58670" opacity="0.09"/>
<rect x="0" y="54.94" width="38" height="1.02" fill="#e58670" opacity="0.1"/>
<rect x="12.58" y="54.94" width="25.21" height="1.02" fill="#e58670" opacity="0.08"/>
<rect x="0" y="55.94" width="38" height="1.02" fill="#e58670" opacity="0.06"/>
<rect x="-1.39" y="55.94" width="25.4" height="1.02" fill="#e58670" opacity="0.07"/>
<rect x="11.66" y="56.94" width="15.79" height="1.02" fill="#e58670" opacity="0.05"/>
<rect x="14.47" y="57.93" width="17.17" height="1.02" fill="#e58670" opacity="0.06"/>
<rect x="7.74" y="57.93" width="33.7" height="1.02" fill="#e58670" opacity="0.06"/>
<rect x="6.83" y="58.93" width="30.41" height="1.02" fill="#e58670" opacity="0.05"/>
<rect x="3.39" y="59.93" width="24.85" height="1.02" fill="#e58670" opacity="0.03"/>
<rect x="2.62" y="59.93" width="32.31" height="1.02" fill="#e58670" opacity="0.03"/>
<rect x="0" y="60.93" width="38" height="1.02" fill="#e58670" opacity="0.08"/>
<rect x="0" y="60.93" width="38" height="1.02" fill="#e58670" opacity="0.07"/>
<rect x="11.6" y="61.93" width="10.89" height="1.02" fill="#e58670" opacity="0.04"/>
<rect x="6.49" y="61.93" width="26.36" height="1.02" fill="#e58670" opacity="0.03"/>
<rect x="15.8" y="62.93" width="12.93" height="1.02" fill="#e58670" opacity="0.04"/>
<rect x="13.96" y="63.93" width="11.46" height="1.02" fill="#e58670" opacity="0.05"/>
<rect x="9.17" y="63.93" width="18.49" height="1.02" fill="#e58670" opacity="0.05"/>
<rect x="11.91" y="63.93" width="14.12" height="1.02" fill="#e58670" opacity="0.06"/>
<rect x="-5.71" y="64.93" width="33.86" height="1.02" fill="#e58670" opacity="0.05"/>
<rect x="2.28" y="64.93" width="24.23" height="1.02" fill="#e58670" opacity="0.05"/>
<rect x="7.69" y="65.92" width="22.41" height="1.02" fill="#e58670" opacity="0.03"/>
<rect x="5.82" y="66.92" width="19.15" height="1.02" fill="#e58670" opacity="0.03"/>
<rect x="0" y="66.92" width="38" height="1.02" fill="#e58670" opacity="0.04"/>
<rect x="12.55" y="67.92" width="19.61" height="1.02" fill="#e58670" opacity="0.04"/>
<rect x="3.44" y="68.92" width="20.57" height="1.02" fill="#e58670" opacity="0.05"/>
<rect x="14.4" y="68.92" width="15.18" height="1.02" fill="#e58670" opacity="0.05"/>
<rect x="9.69" y="69.92" width="19.11" height="1.02" fill="#e58670" opacity="0.05"/>
<rect x="10.15" y="69.92" width="24.9" height="1.02" fill="#e58670" opacity="0.04"/>
<rect x="11.15" y="70.92" width="20.64" height="1.02" fill="#e58670" opacity="0.03"/>
<rect x="-1.67" y="71.92" width="25.89" height="1.02" fill="#e58670" opacity="0.04"/>
<rect x="15.02" y="71.92" width="11.34" height="1.02" fill="#e58670" opacity="0.03"/>
<rect x="0" y="72.92" width="38" height="1.02" fill="#e58670" opacity="0.04"/>
<rect x="10.62" y="72.92" width="12.85" height="1.02" fill="#e58670" opacity="0.02"/>
<rect x="0" y="72.92" width="38" height="1.02" fill="#e58670" opacity="0.04"/>
<rect x="12.44" y="73.92" width="11.75" height="1.02" fill="#e58670" opacity="0.03"/>
<rect x="12.25" y="74.91" width="20.69" height="1.02" fill="#e58670" opacity="0.04"/>
<rect x="3.62" y="74.91" width="32.45" height="1.02" fill="#e58670" opacity="0.03"/>
<rect x="0" y="75.91" width="38" height="1.02" fill="#e58670" opacity="0.03"/>
<rect x="0" y="75.91" width="38" height="1.02" fill="#e58670" opacity="0.03"/>
<rect x="-5.59" y="76.91" width="32.1" height="1.02" fill="#e58670" opacity="0.05"/>
<rect x="14.81" y="77.91" width="14.97" height="1.02" fill="#e58670" opacity="0.04"/>
<rect x="6.29" y="78.91" width="16.38" height="1.02" fill="#e58670" opacity="0.04"/>
<rect x="5.52" y="79.91" width="30.26" height="1.02" fill="#e58670" opacity="0.04"/>
<rect x="4.55" y="81.91" width="18.87" height="1.02" fill="#e58670" opacity="0.02"/>
<rect x="2.45" y="82.91" width="32.11" height="1.02" fill="#e58670" opacity="0.04"/>
<rect x="-2.13" y="83.9" width="30.56" height="1.02" fill="#e58670" opacity="0.05"/>
<rect x="1.29" y="84.9" width="30.36" height="1.02" fill="#e58670" opacity="0.04"/>
<rect x="6.68" y="84.9" width="15.28" height="1.02" fill="#e58670" opacity="0.04"/>
<rect x="0" y="85.9" width="38" height="1.02" fill="#e58670" opacity="0.03"/>
<rect x="1.4" y="85.9" width="26.88" height="1.02" fill="#e58670" opacity="0.04"/>
<rect x="9.16" y="86.9" width="26.74" height="1.02" fill="#e58670" opacity="0.04"/>
<rect x="10.9" y="86.9" width="24.86" height="1.02" fill="#e58670" opacity="0.04"/>
<rect x="-23.14" y="0" width="82.5" height="1.04" fill="url(#gR)" opacity="0.35"/>
<rect x="-21.54" y="1" width="81.28" height="1.04" fill="url(#gR)" opacity="0.35"/>
<rect x="-21.71" y="2" width="80.06" height="1.04" fill="url(#gR)" opacity="0.35"/>
<rect x="-21.19" y="3" width="78.86" height="1.04" fill="url(#gR)" opacity="0.24"/>
<rect x="-20.23" y="4" width="77.66" height="1.04" fill="url(#gR)" opacity="0.28"/>
<rect x="-19.82" y="4.99" width="76.47" height="1.04" fill="url(#gR)" opacity="0.35"/>
<rect x="-19.43" y="5.99" width="75.29" height="1.04" fill="url(#gR)" opacity="0.3"/>
<rect x="-18.11" y="6.99" width="74.12" height="1.04" fill="url(#gR)" opacity="0.25"/>
<rect x="-17.58" y="7.99" width="72.95" height="1.04" fill="url(#gR)" opacity="0.35"/>
<rect x="-17.55" y="8.99" width="71.8" height="1.04" fill="url(#gR)" opacity="0.26"/>
<rect x="-16.89" y="9.99" width="70.65" height="1.04" fill="url(#gR)" opacity="0.33"/>
<rect x="-15.92" y="10.99" width="69.52" height="1.04" fill="url(#gR)" opacity="0.28"/>
<rect x="-15.44" y="11.99" width="68.39" height="1.04" fill="url(#gR)" opacity="0.35"/>
<rect x="-14.76" y="12.99" width="67.27" height="1.04" fill="url(#gR)" opacity="0.33"/>
<rect x="-14.19" y="13.98" width="66.16" height="1.04" fill="url(#gR)" opacity="0.32"/>
<rect x="-14.01" y="14.98" width="65.06" height="1.04" fill="url(#gR)" opacity="0.24"/>
<rect x="-13.55" y="15.98" width="63.96" height="1.04" fill="url(#gR)" opacity="0.23"/>
<rect x="-12.93" y="16.98" width="62.88" height="1.04" fill="url(#gR)" opacity="0.33"/>
<rect x="-12.28" y="17.98" width="61.8" height="1.04" fill="url(#gR)" opacity="0.3"/>
<rect x="-11.41" y="18.98" width="60.74" height="1.04" fill="url(#gR)" opacity="0.27"/>
<rect x="-11.17" y="19.98" width="59.68" height="1.04" fill="url(#gR)" opacity="0.26"/>
<rect x="-10.43" y="20.98" width="58.64" height="1.04" fill="url(#gR)" opacity="0.31"/>
<rect x="-10.32" y="21.97" width="57.6" height="1.04" fill="url(#gR)" opacity="0.26"/>
<rect x="-9.49" y="22.97" width="56.57" height="1.04" fill="url(#gR)" opacity="0.23"/>
<rect x="-8.73" y="23.97" width="55.55" height="1.04" fill="url(#gR)" opacity="0.31"/>
<rect x="-8.4" y="24.97" width="54.54" height="1.04" fill="url(#gR)" opacity="0.23"/>
<rect x="-8.25" y="25.97" width="53.54" height="1.04" fill="url(#gR)" opacity="0.3"/>
<rect x="-7.23" y="26.97" width="52.55" height="1.04" fill="url(#gR)" opacity="0.26"/>
<rect x="-6.89" y="27.97" width="51.57" height="1.04" fill="url(#gR)" opacity="0.29"/>
<rect x="-6.71" y="28.97" width="50.6" height="1.04" fill="url(#gR)" opacity="0.3"/>
<rect x="-5.81" y="29.97" width="49.64" height="1.04" fill="url(#gR)" opacity="0.25"/>
<rect x="-6" y="30.96" width="48.69" height="1.04" fill="url(#gR)" opacity="0.33"/>
<rect x="-4.86" y="31.96" width="47.75" height="1.04" fill="url(#gR)" opacity="0.23"/>
<rect x="-5.17" y="32.96" width="46.82" height="1.04" fill="url(#gR)" opacity="0.3"/>
<rect x="-3.97" y="33.96" width="45.9" height="1.04" fill="url(#gR)" opacity="0.33"/>
<rect x="-4.23" y="34.96" width="44.99" height="1.04" fill="url(#gR)" opacity="0.28"/>
<rect x="-3.88" y="35.96" width="44.09" height="1.04" fill="url(#gR)" opacity="0.25"/>
<rect x="-3.08" y="36.96" width="43.2" height="1.04" fill="url(#gR)" opacity="0.29"/>
<rect x="-2.58" y="37.96" width="42.32" height="1.04" fill="url(#gR)" opacity="0.33"/>
<rect x="-1.72" y="38.96" width="41.45" height="1.04" fill="url(#gR)" opacity="0.25"/>
<rect x="-1.95" y="39.95" width="40.59" height="1.04" fill="url(#gR)" opacity="0.28"/>
<rect x="-1.76" y="40.95" width="39.75" height="1.04" fill="url(#gR)" opacity="0.23"/>
<rect x="-0.6" y="41.95" width="38.91" height="1.04" fill="url(#gR)" opacity="0.21"/>
<rect x="-0.09" y="42.95" width="38.08" height="1.04" fill="url(#gR)" opacity="0.29"/>
<rect x="0.38" y="43.95" width="37.27" height="1.04" fill="url(#gR)" opacity="0.25"/>
<rect x="0.13" y="44.95" width="36.46" height="1.04" fill="url(#gR)" opacity="0.2"/>
<rect x="1.14" y="45.95" width="35.67" height="1.04" fill="url(#gR)" opacity="0.24"/>
<rect x="1.08" y="46.95" width="34.89" height="1.04" fill="url(#gR)" opacity="0.3"/>
<rect x="1.3" y="47.95" width="34.12" height="1.04" fill="url(#gR)" opacity="0.21"/>
<rect x="1.86" y="48.94" width="33.36" height="1.04" fill="url(#gR)" opacity="0.24"/>
<rect x="2.58" y="49.94" width="32.61" height="1.04" fill="url(#gR)" opacity="0.24"/>
<rect x="2.39" y="50.94" width="31.88" height="1.04" fill="url(#gR)" opacity="0.24"/>
<rect x="3.14" y="51.94" width="31.15" height="1.04" fill="url(#gR)" opacity="0.28"/>
<rect x="3.11" y="52.94" width="30.44" height="1.04" fill="url(#gR)" opacity="0.29"/>
<rect x="3.25" y="53.94" width="29.74" height="1.04" fill="url(#gR)" opacity="0.29"/>
<rect x="4.53" y="54.94" width="29.05" height="1.04" fill="url(#gR)" opacity="0.22"/>
<rect x="4.81" y="55.94" width="28.38" height="1.04" fill="url(#gR)" opacity="0.29"/>
<rect x="4.33" y="56.94" width="27.71" height="1.04" fill="url(#gR)" opacity="0.23"/>
<rect x="5.29" y="57.93" width="27.06" height="1.04" fill="url(#gR)" opacity="0.25"/>
<rect x="5.1" y="58.93" width="26.43" height="1.04" fill="url(#gR)" opacity="0.25"/>
<rect x="6.08" y="59.93" width="25.8" height="1.04" fill="url(#gR)" opacity="0.23"/>
<rect x="5.65" y="60.93" width="25.19" height="1.04" fill="url(#gR)" opacity="0.2"/>
<rect x="6.63" y="61.93" width="24.6" height="1.04" fill="url(#gR)" opacity="0.21"/>
<rect x="6.29" y="62.93" width="24.01" height="1.04" fill="url(#gR)" opacity="0.24"/>
<rect x="7.27" y="63.93" width="23.44" height="1.04" fill="url(#gR)" opacity="0.19"/>
<rect x="7.15" y="64.93" width="22.89" height="1.04" fill="url(#gR)" opacity="0.23"/>
<rect x="7.87" y="65.92" width="22.35" height="1.04" fill="url(#gR)" opacity="0.26"/>
<rect x="7.2" y="66.92" width="21.82" height="1.04" fill="url(#gR)" opacity="0.23"/>
<rect x="8.24" y="67.92" width="21.31" height="1.04" fill="url(#gR)" opacity="0.23"/>
<rect x="8.68" y="68.92" width="20.81" height="1.04" fill="url(#gR)" opacity="0.27"/>
<rect x="8.02" y="69.92" width="20.33" height="1.04" fill="url(#gR)" opacity="0.25"/>
<rect x="8.86" y="70.92" width="19.86" height="1.04" fill="url(#gR)" opacity="0.2"/>
<rect x="8.75" y="71.92" width="19.41" height="1.04" fill="url(#gR)" opacity="0.2"/>
<rect x="8.93" y="72.92" width="18.98" height="1.04" fill="url(#gR)" opacity="0.25"/>
<rect x="8.93" y="73.92" width="18.56" height="1.04" fill="url(#gR)" opacity="0.26"/>
<rect x="9.76" y="74.91" width="18.17" height="1.04" fill="url(#gR)" opacity="0.21"/>
<rect x="10.14" y="75.91" width="17.78" height="1.04" fill="url(#gR)" opacity="0.27"/>
<rect x="10.37" y="76.91" width="17.42" height="1.04" fill="url(#gR)" opacity="0.24"/>
<rect x="10.36" y="77.91" width="17.08" height="1.04" fill="url(#gR)" opacity="0.24"/>
<rect x="9.76" y="78.91" width="16.76" height="1.04" fill="url(#gR)" opacity="0.21"/>
<rect x="10.14" y="79.91" width="16.46" height="1.04" fill="url(#gR)" opacity="0.21"/>
<rect x="10.51" y="80.91" width="16.18" height="1.04" fill="url(#gR)" opacity="0.1"/>
<rect x="10.77" y="81.91" width="15.92" height="1.04" fill="url(#gR)" opacity="0.07"/>
<rect x="10.74" y="82.91" width="15.69" height="1.04" fill="url(#gR)" opacity="0.03"/>
<rect x="1.61" y="0" width="33" height="1.04" fill="url(#gR)" opacity="1"/>
<rect x="2.84" y="1" width="32.51" height="1.04" fill="url(#gR)" opacity="1"/>
<rect x="2.31" y="2" width="32.02" height="1.04" fill="url(#gR)" opacity="1"/>
<rect x="2.47" y="3" width="31.54" height="1.04" fill="url(#gR)" opacity="0.7"/>
<rect x="3.06" y="4" width="31.06" height="1.04" fill="url(#gR)" opacity="0.8"/>
<rect x="3.12" y="4.99" width="30.59" height="1.04" fill="url(#gR)" opacity="1"/>
<rect x="3.16" y="5.99" width="30.12" height="1.04" fill="url(#gR)" opacity="0.87"/>
<rect x="4.12" y="6.99" width="29.65" height="1.04" fill="url(#gR)" opacity="0.7"/>
<rect x="4.31" y="7.99" width="29.18" height="1.04" fill="url(#gR)" opacity="1"/>
<rect x="3.99" y="8.99" width="28.72" height="1.04" fill="url(#gR)" opacity="0.73"/>
<rect x="4.31" y="9.99" width="28.26" height="1.04" fill="url(#gR)" opacity="0.94"/>
<rect x="4.93" y="10.99" width="27.81" height="1.04" fill="url(#gR)" opacity="0.8"/>
<rect x="5.08" y="11.99" width="27.35" height="1.04" fill="url(#gR)" opacity="0.99"/>
<rect x="5.43" y="12.99" width="26.91" height="1.04" fill="url(#gR)" opacity="0.93"/>
<rect x="5.65" y="13.98" width="26.46" height="1.04" fill="url(#gR)" opacity="0.92"/>
<rect x="5.51" y="14.98" width="26.02" height="1.04" fill="url(#gR)" opacity="0.68"/>
<rect x="5.64" y="15.98" width="25.58" height="1.04" fill="url(#gR)" opacity="0.66"/>
<rect x="5.93" y="16.98" width="25.15" height="1.04" fill="url(#gR)" opacity="0.95"/>
<rect x="6.26" y="17.98" width="24.72" height="1.04" fill="url(#gR)" opacity="0.86"/>
<rect x="6.82" y="18.98" width="24.3" height="1.04" fill="url(#gR)" opacity="0.77"/>
<rect x="6.74" y="19.98" width="23.87" height="1.04" fill="url(#gR)" opacity="0.74"/>
<rect x="7.17" y="20.98" width="23.45" height="1.04" fill="url(#gR)" opacity="0.88"/>
<rect x="6.96" y="21.97" width="23.04" height="1.04" fill="url(#gR)" opacity="0.76"/>
<rect x="7.48" y="22.97" width="22.63" height="1.04" fill="url(#gR)" opacity="0.66"/>
<rect x="7.94" y="23.97" width="22.22" height="1.04" fill="url(#gR)" opacity="0.87"/>
<rect x="7.96" y="24.97" width="21.82" height="1.04" fill="url(#gR)" opacity="0.65"/>
<rect x="7.81" y="25.97" width="21.42" height="1.04" fill="url(#gR)" opacity="0.86"/>
<rect x="8.54" y="26.97" width="21.02" height="1.04" fill="url(#gR)" opacity="0.75"/>
<rect x="8.58" y="27.97" width="20.63" height="1.04" fill="url(#gR)" opacity="0.83"/>
<rect x="8.47" y="28.97" width="20.24" height="1.04" fill="url(#gR)" opacity="0.85"/>
<rect x="9.08" y="29.97" width="19.86" height="1.04" fill="url(#gR)" opacity="0.72"/>
<rect x="8.61" y="30.96" width="19.48" height="1.04" fill="url(#gR)" opacity="0.94"/>
<rect x="9.46" y="31.96" width="19.1" height="1.04" fill="url(#gR)" opacity="0.67"/>
<rect x="8.87" y="32.96" width="18.73" height="1.04" fill="url(#gR)" opacity="0.85"/>
<rect x="9.8" y="33.96" width="18.36" height="1.04" fill="url(#gR)" opacity="0.95"/>
<rect x="9.27" y="34.96" width="18" height="1.04" fill="url(#gR)" opacity="0.81"/>
<rect x="9.35" y="35.96" width="17.64" height="1.04" fill="url(#gR)" opacity="0.73"/>
<rect x="9.88" y="36.96" width="17.28" height="1.04" fill="url(#gR)" opacity="0.83"/>
<rect x="10.12" y="37.96" width="16.93" height="1.04" fill="url(#gR)" opacity="0.93"/>
<rect x="10.72" y="38.96" width="16.58" height="1.04" fill="url(#gR)" opacity="0.72"/>
<rect x="10.23" y="39.95" width="16.24" height="1.04" fill="url(#gR)" opacity="0.79"/>
<rect x="10.16" y="40.95" width="15.9" height="1.04" fill="url(#gR)" opacity="0.67"/>
<rect x="11.07" y="41.95" width="15.56" height="1.04" fill="url(#gR)" opacity="0.59"/>
<rect x="11.33" y="42.95" width="15.23" height="1.04" fill="url(#gR)" opacity="0.83"/>
<rect x="11.56" y="43.95" width="14.91" height="1.04" fill="url(#gR)" opacity="0.72"/>
<rect x="11.07" y="44.95" width="14.59" height="1.04" fill="url(#gR)" opacity="0.58"/>
<rect x="11.85" y="45.95" width="14.27" height="1.04" fill="url(#gR)" opacity="0.7"/>
<rect x="11.54" y="46.95" width="13.96" height="1.04" fill="url(#gR)" opacity="0.85"/>
<rect x="11.53" y="47.95" width="13.65" height="1.04" fill="url(#gR)" opacity="0.61"/>
<rect x="11.87" y="48.94" width="13.34" height="1.04" fill="url(#gR)" opacity="0.67"/>
<rect x="12.36" y="49.94" width="13.04" height="1.04" fill="url(#gR)" opacity="0.69"/>
<rect x="11.95" y="50.94" width="12.75" height="1.04" fill="url(#gR)" opacity="0.7"/>
<rect x="12.49" y="51.94" width="12.46" height="1.04" fill="url(#gR)" opacity="0.81"/>
<rect x="12.24" y="52.94" width="12.18" height="1.04" fill="url(#gR)" opacity="0.83"/>
<rect x="12.17" y="53.94" width="11.9" height="1.04" fill="url(#gR)" opacity="0.82"/>
<rect x="13.25" y="54.94" width="11.62" height="1.04" fill="url(#gR)" opacity="0.63"/>
<rect x="13.33" y="55.94" width="11.35" height="1.04" fill="url(#gR)" opacity="0.83"/>
<rect x="12.65" y="56.94" width="11.09" height="1.04" fill="url(#gR)" opacity="0.65"/>
<rect x="13.41" y="57.93" width="10.83" height="1.04" fill="url(#gR)" opacity="0.72"/>
<rect x="13.02" y="58.93" width="10.57" height="1.04" fill="url(#gR)" opacity="0.71"/>
<rect x="13.82" y="59.93" width="10.32" height="1.04" fill="url(#gR)" opacity="0.65"/>
<rect x="13.2" y="60.93" width="10.08" height="1.04" fill="url(#gR)" opacity="0.58"/>
<rect x="14.01" y="61.93" width="9.84" height="1.04" fill="url(#gR)" opacity="0.59"/>
<rect x="13.49" y="62.93" width="9.6" height="1.04" fill="url(#gR)" opacity="0.68"/>
<rect x="14.3" y="63.93" width="9.38" height="1.04" fill="url(#gR)" opacity="0.53"/>
<rect x="14.02" y="64.93" width="9.15" height="1.04" fill="url(#gR)" opacity="0.67"/>
<rect x="14.58" y="65.92" width="8.94" height="1.04" fill="url(#gR)" opacity="0.75"/>
<rect x="13.75" y="66.92" width="8.73" height="1.04" fill="url(#gR)" opacity="0.66"/>
<rect x="14.63" y="67.92" width="8.52" height="1.04" fill="url(#gR)" opacity="0.66"/>
<rect x="14.92" y="68.92" width="8.32" height="1.04" fill="url(#gR)" opacity="0.78"/>
<rect x="14.12" y="69.92" width="8.13" height="1.04" fill="url(#gR)" opacity="0.7"/>
<rect x="14.82" y="70.92" width="7.94" height="1.04" fill="url(#gR)" opacity="0.58"/>
<rect x="14.58" y="71.92" width="7.77" height="1.04" fill="url(#gR)" opacity="0.56"/>
<rect x="14.62" y="72.92" width="7.59" height="1.04" fill="url(#gR)" opacity="0.72"/>
<rect x="14.5" y="73.92" width="7.43" height="1.04" fill="url(#gR)" opacity="0.74"/>
<rect x="15.21" y="74.91" width="7.27" height="1.04" fill="url(#gR)" opacity="0.61"/>
<rect x="15.47" y="75.91" width="7.11" height="1.04" fill="url(#gR)" opacity="0.77"/>
<rect x="15.59" y="76.91" width="6.97" height="1.04" fill="url(#gR)" opacity="0.68"/>
<rect x="15.48" y="77.91" width="6.83" height="1.04" fill="url(#gR)" opacity="0.69"/>
<rect x="14.79" y="78.91" width="6.7" height="1.04" fill="url(#gR)" opacity="0.6"/>
<rect x="15.08" y="79.91" width="6.58" height="1.04" fill="url(#gR)" opacity="0.6"/>
<rect x="15.36" y="80.91" width="6.47" height="1.04" fill="url(#gR)" opacity="0.29"/>
<rect x="15.54" y="81.91" width="6.37" height="1.04" fill="url(#gR)" opacity="0.2"/>
<rect x="15.45" y="82.91" width="6.27" height="1.04" fill="url(#gR)" opacity="0.09"/>
<rect x="0" y="3" width="38" height="0.7" fill="#fdf3ee" opacity="0.39"/>
<rect x="0" y="5.99" width="38" height="0.7" fill="#fdf3ee" opacity="0.5"/>
<rect x="0" y="13.98" width="38" height="0.7" fill="#fdf3ee" opacity="0.25"/>
<rect x="0" y="14.98" width="38" height="0.7" fill="#fdf3ee" opacity="0.22"/>
<rect x="0" y="21.97" width="38" height="0.7" fill="#fdf3ee" opacity="0.44"/>
<rect x="0" y="26.97" width="38" height="0.7" fill="#fdf3ee" opacity="0.45"/>
<rect x="0" y="27.97" width="38" height="0.7" fill="#fdf3ee" opacity="0.45"/>
<rect x="0" y="30.96" width="38" height="0.7" fill="#fdf3ee" opacity="0.31"/>
<rect x="0" y="31.96" width="38" height="0.7" fill="#fdf3ee" opacity="0.37"/>
<rect x="0" y="32.96" width="38" height="0.7" fill="#fdf3ee" opacity="0.26"/>
<rect x="0" y="33.96" width="38" height="0.7" fill="#fdf3ee" opacity="0.21"/>
<rect x="0" y="41.95" width="38" height="0.7" fill="#fdf3ee" opacity="0.34"/>
<rect x="0" y="43.95" width="38" height="0.7" fill="#fdf3ee" opacity="0.3"/>
<rect x="0" y="48.94" width="38" height="0.7" fill="#fdf3ee" opacity="0.25"/>
<rect x="0" y="56.94" width="38" height="0.7" fill="#fdf3ee" opacity="0.44"/>
<rect x="0" y="64.93" width="38" height="0.7" fill="#fdf3ee" opacity="0.51"/>
<rect x="0" y="65.92" width="38" height="0.7" fill="#fdf3ee" opacity="0.23"/>
<rect x="0" y="66.92" width="38" height="0.7" fill="#fdf3ee" opacity="0.49"/>
<rect x="0" y="75.91" width="38" height="0.7" fill="#fdf3ee" opacity="0.21"/>
<rect x="0" y="81.91" width="38" height="0.7" fill="#fdf3ee" opacity="0.35"/>
<rect x="0" y="82.91" width="38" height="0.7" fill="#fdf3ee" opacity="0.2"/>
<rect x="0" y="83.9" width="38" height="0.7" fill="#fdf3ee" opacity="0.44"/>
<rect x="0" y="85.9" width="38" height="0.7" fill="#fdf3ee" opacity="0.49"/>
</svg>
<rect x="257.8" y="328.1" width="38" height="87.9" fill="none" stroke="#8a8a8a" stroke-width="0.85"/>
<rect x="257.8" y="428.4" width="38" height="87.6" fill="#fcefe7"/>
<svg x="257.8" y="428.4" width="38" height="87.6" overflow="hidden">
<rect x="0" y="0" width="38" height="1.02" fill="#e58670" opacity="0.23"/>
<rect x="9.37" y="0" width="15.89" height="1.02" fill="#e58670" opacity="0.26"/>
<rect x="0" y="0" width="38" height="1.02" fill="#e58670" opacity="0.23"/>
<rect x="0" y="0" width="38" height="1.02" fill="#e58670" opacity="0.37"/>
<rect x="0" y="1" width="38" height="1.02" fill="#e58670" opacity="0.16"/>
<rect x="0" y="1.99" width="38" height="1.02" fill="#e58670" opacity="0.14"/>
<rect x="0" y="1.99" width="38" height="1.02" fill="#e58670" opacity="0.2"/>
<rect x="0" y="1.99" width="38" height="1.02" fill="#e58670" opacity="0.37"/>
<rect x="14.81" y="1.99" width="16.74" height="1.02" fill="#e58670" opacity="0.33"/>
<rect x="0" y="2.99" width="38" height="1.02" fill="#e58670" opacity="0.09"/>
<rect x="0" y="2.99" width="38" height="1.02" fill="#e58670" opacity="0.2"/>
<rect x="0" y="2.99" width="38" height="1.02" fill="#e58670" opacity="0.27"/>
<rect x="0" y="3.98" width="38" height="1.02" fill="#e58670" opacity="0.03"/>
<rect x="4.82" y="3.98" width="29.15" height="1.02" fill="#e58670" opacity="0.4"/>
<rect x="0" y="3.98" width="38" height="1.02" fill="#e58670" opacity="0.13"/>
<rect x="11.01" y="4.98" width="19.38" height="1.02" fill="#e58670" opacity="0.28"/>
<rect x="0.87" y="4.98" width="25.69" height="1.02" fill="#e58670" opacity="0.4"/>
<rect x="0" y="4.98" width="38" height="1.02" fill="#e58670" opacity="0.15"/>
<rect x="10.31" y="5.97" width="28.4" height="1.02" fill="#e58670" opacity="0.32"/>
<rect x="10.15" y="6.97" width="32.2" height="1.02" fill="#e58670" opacity="0.12"/>
<rect x="0" y="6.97" width="38" height="1.02" fill="#e58670" opacity="0.23"/>
<rect x="16.32" y="6.97" width="10.46" height="1.02" fill="#e58670" opacity="0.33"/>
<rect x="0" y="7.96" width="38" height="1.02" fill="#e58670" opacity="0.15"/>
<rect x="0" y="7.96" width="38" height="1.02" fill="#e58670" opacity="0.15"/>
<rect x="11.84" y="8.96" width="20.19" height="1.02" fill="#e58670" opacity="0.36"/>
<rect x="8.6" y="8.96" width="30.75" height="1.02" fill="#e58670" opacity="0.3"/>
<rect x="0" y="8.96" width="38" height="1.02" fill="#e58670" opacity="0.12"/>
<rect x="0" y="9.95" width="38" height="1.02" fill="#e58670" opacity="0.38"/>
<rect x="6.53" y="9.95" width="24.06" height="1.02" fill="#e58670" opacity="0.26"/>
<rect x="2.09" y="9.95" width="26.02" height="1.02" fill="#e58670" opacity="0.14"/>
<rect x="0" y="10.95" width="38" height="1.02" fill="#e58670" opacity="0.2"/>
<rect x="2.84" y="11.95" width="27.24" height="1.02" fill="#e58670" opacity="0.17"/>
<rect x="10.54" y="11.95" width="10.87" height="1.02" fill="#e58670" opacity="0.21"/>
<rect x="0" y="11.95" width="38" height="1.02" fill="#e58670" opacity="0.27"/>
<rect x="0.31" y="12.94" width="30.6" height="1.02" fill="#e58670" opacity="0.23"/>
<rect x="7.21" y="13.94" width="18.13" height="1.02" fill="#e58670" opacity="0.16"/>
<rect x="-3.39" y="14.93" width="27.54" height="1.02" fill="#e58670" opacity="0.11"/>
<rect x="0" y="15.93" width="38" height="1.02" fill="#e58670" opacity="0.33"/>
<rect x="0" y="16.92" width="38" height="1.02" fill="#e58670" opacity="0.12"/>
<rect x="-0.49" y="16.92" width="28.76" height="1.02" fill="#e58670" opacity="0.13"/>
<rect x="0" y="16.92" width="38" height="1.02" fill="#e58670" opacity="0.27"/>
<rect x="0" y="17.92" width="38" height="1.02" fill="#e58670" opacity="0.18"/>
<rect x="0" y="17.92" width="38" height="1.02" fill="#e58670" opacity="0.1"/>
<rect x="6.02" y="18.91" width="19.69" height="1.02" fill="#e58670" opacity="0.27"/>
<rect x="7.89" y="18.91" width="18.12" height="1.02" fill="#e58670" opacity="0.1"/>
<rect x="0" y="18.91" width="38" height="1.02" fill="#e58670" opacity="0.31"/>
<rect x="0" y="19.91" width="38" height="1.02" fill="#e58670" opacity="0.28"/>
<rect x="0" y="19.91" width="38" height="1.02" fill="#e58670" opacity="0.3"/>
<rect x="4.72" y="20.9" width="19.68" height="1.02" fill="#e58670" opacity="0.22"/>
<rect x="0.81" y="20.9" width="22.77" height="1.02" fill="#e58670" opacity="0.28"/>
<rect x="13.71" y="20.9" width="16.97" height="1.02" fill="#e58670" opacity="0.22"/>
<rect x="0.18" y="21.9" width="32.32" height="1.02" fill="#e58670" opacity="0.11"/>
<rect x="5.6" y="21.9" width="20.47" height="1.02" fill="#e58670" opacity="0.15"/>
<rect x="-3.59" y="22.9" width="33.04" height="1.02" fill="#e58670" opacity="0.15"/>
<rect x="3.61" y="22.9" width="19.43" height="1.02" fill="#e58670" opacity="0.11"/>
<rect x="15.54" y="23.89" width="9.6" height="1.02" fill="#e58670" opacity="0.28"/>
<rect x="-6.74" y="23.89" width="33.48" height="1.02" fill="#e58670" opacity="0.17"/>
<rect x="-4.87" y="23.89" width="30.04" height="1.02" fill="#e58670" opacity="0.24"/>
<rect x="0" y="24.89" width="38" height="1.02" fill="#e58670" opacity="0.12"/>
<rect x="0" y="24.89" width="38" height="1.02" fill="#e58670" opacity="0.23"/>
<rect x="0" y="24.89" width="38" height="1.02" fill="#e58670" opacity="0.22"/>
<rect x="14.34" y="25.88" width="16.14" height="1.02" fill="#e58670" opacity="0.1"/>
<rect x="0" y="25.88" width="38" height="1.02" fill="#e58670" opacity="0.15"/>
<rect x="0" y="25.88" width="38" height="1.02" fill="#e58670" opacity="0.13"/>
<rect x="12.92" y="26.88" width="17.03" height="1.02" fill="#e58670" opacity="0.25"/>
<rect x="8.94" y="26.88" width="33.42" height="1.02" fill="#e58670" opacity="0.15"/>
<rect x="-4.79" y="27.87" width="31.99" height="1.02" fill="#e58670" opacity="0.12"/>
<rect x="13.78" y="28.87" width="22.79" height="1.02" fill="#e58670" opacity="0.13"/>
<rect x="0" y="28.87" width="38" height="1.02" fill="#e58670" opacity="0.25"/>
<rect x="16.35" y="29.86" width="9.98" height="1.02" fill="#e58670" opacity="0.19"/>
<rect x="12.54" y="29.86" width="21.78" height="1.02" fill="#e58670" opacity="0.13"/>
<rect x="0" y="30.86" width="38" height="1.02" fill="#e58670" opacity="0.14"/>
<rect x="0" y="31.85" width="38" height="1.02" fill="#e58670" opacity="0.17"/>
<rect x="4.92" y="31.85" width="24.51" height="1.02" fill="#e58670" opacity="0.1"/>
<rect x="10.86" y="32.85" width="16.26" height="1.02" fill="#e58670" opacity="0.1"/>
<rect x="0" y="33.85" width="38" height="1.02" fill="#e58670" opacity="0.1"/>
<rect x="0" y="33.85" width="38" height="1.02" fill="#e58670" opacity="0.09"/>
<rect x="0" y="34.84" width="38" height="1.02" fill="#e58670" opacity="0.15"/>
<rect x="10.71" y="34.84" width="33.46" height="1.02" fill="#e58670" opacity="0.14"/>
<rect x="0" y="34.84" width="38" height="1.02" fill="#e58670" opacity="0.06"/>
<rect x="-3.03" y="35.84" width="29.5" height="1.02" fill="#e58670" opacity="0.1"/>
<rect x="3.75" y="36.83" width="27.72" height="1.02" fill="#e58670" opacity="0.19"/>
<rect x="0" y="36.83" width="38" height="1.02" fill="#e58670" opacity="0.08"/>
<rect x="0" y="37.83" width="38" height="1.02" fill="#e58670" opacity="0.08"/>
<rect x="-1.16" y="37.83" width="29.25" height="1.02" fill="#e58670" opacity="0.07"/>
<rect x="6.79" y="37.83" width="15.27" height="1.02" fill="#e58670" opacity="0.16"/>
<rect x="14.74" y="38.82" width="13.37" height="1.02" fill="#e58670" opacity="0.06"/>
<rect x="0" y="38.82" width="38" height="1.02" fill="#e58670" opacity="0.11"/>
<rect x="7.69" y="38.82" width="24.95" height="1.02" fill="#e58670" opacity="0.08"/>
<rect x="0" y="39.82" width="38" height="1.02" fill="#e58670" opacity="0.08"/>
<rect x="0" y="39.82" width="38" height="1.02" fill="#e58670" opacity="0.06"/>
<rect x="5.31" y="40.81" width="20.3" height="1.02" fill="#e58670" opacity="0.16"/>
<rect x="0" y="40.81" width="38" height="1.02" fill="#e58670" opacity="0.11"/>
<rect x="0" y="41.81" width="38" height="1.02" fill="#e58670" opacity="0.1"/>
<rect x="14.35" y="42.8" width="16.51" height="1.02" fill="#e58670" opacity="0.1"/>
<rect x="1.07" y="42.8" width="31.37" height="1.02" fill="#e58670" opacity="0.08"/>
<rect x="0" y="43.8" width="38" height="1.02" fill="#e58670" opacity="0.11"/>
<rect x="5.72" y="43.8" width="30.92" height="1.02" fill="#e58670" opacity="0.07"/>
<rect x="0" y="45.79" width="38" height="1.02" fill="#e58670" opacity="0.09"/>
<rect x="0" y="46.79" width="38" height="1.02" fill="#e58670" opacity="0.09"/>
<rect x="0" y="47.78" width="38" height="1.02" fill="#e58670" opacity="0.1"/>
<rect x="0" y="47.78" width="38" height="1.02" fill="#e58670" opacity="0.1"/>
<rect x="11.43" y="48.78" width="25.31" height="1.02" fill="#e58670" opacity="0.1"/>
<rect x="0" y="48.78" width="38" height="1.02" fill="#e58670" opacity="0.09"/>
<rect x="5.41" y="49.77" width="16.98" height="1.02" fill="#e58670" opacity="0.07"/>
<rect x="0" y="49.77" width="38" height="1.02" fill="#e58670" opacity="0.07"/>
<rect x="0" y="50.77" width="38" height="1.02" fill="#e58670" opacity="0.09"/>
<rect x="0" y="50.77" width="38" height="1.02" fill="#e58670" opacity="0.05"/>
<rect x="2.65" y="50.77" width="27.29" height="1.02" fill="#e58670" opacity="0.09"/>
<rect x="11.77" y="51.76" width="18.9" height="1.02" fill="#e58670" opacity="0.06"/>
<rect x="7.02" y="51.76" width="30.08" height="1.02" fill="#e58670" opacity="0.04"/>
<rect x="7.68" y="51.76" width="16.66" height="1.02" fill="#e58670" opacity="0.06"/>
<rect x="0" y="52.76" width="38" height="1.02" fill="#e58670" opacity="0.06"/>
<rect x="6.47" y="53.75" width="15.5" height="1.02" fill="#e58670" opacity="0.04"/>
<rect x="0" y="53.75" width="38" height="1.02" fill="#e58670" opacity="0.06"/>
<rect x="0" y="53.75" width="38" height="1.02" fill="#e58670" opacity="0.04"/>
<rect x="0" y="54.75" width="38" height="1.02" fill="#e58670" opacity="0.05"/>
<rect x="10.37" y="55.75" width="30.57" height="1.02" fill="#e58670" opacity="0.03"/>
<rect x="14.24" y="55.75" width="14.88" height="1.02" fill="#e58670" opacity="0.05"/>
<rect x="11.47" y="55.75" width="23.55" height="1.02" fill="#e58670" opacity="0.03"/>
<rect x="0" y="56.74" width="38" height="1.02" fill="#e58670" opacity="0.02"/>
<rect x="0" y="56.74" width="38" height="1.02" fill="#e58670" opacity="0.02"/>
<rect x="11.08" y="56.74" width="9.72" height="1.02" fill="#e58670" opacity="0.04"/>
<rect x="0" y="57.74" width="38" height="1.02" fill="#e58670" opacity="0.02"/>
<rect x="0" y="57.74" width="38" height="1.02" fill="#e58670" opacity="0.03"/>
<rect x="0" y="58.73" width="38" height="1.02" fill="#e58670" opacity="0.03"/>
<rect x="12.45" y="58.73" width="10.82" height="1.02" fill="#e58670" opacity="0.03"/>
<rect x="11.42" y="60.72" width="13.85" height="1.02" fill="#e58670" opacity="0.02"/>
<rect x="-7.94" y="0" width="53.04" height="1.04" fill="url(#gR)" opacity="0.25"/>
<rect x="-7.15" y="1" width="52.42" height="1.04" fill="url(#gR)" opacity="0.29"/>
<rect x="-7.35" y="1.99" width="51.8" height="1.04" fill="url(#gR)" opacity="0.2"/>
<rect x="-6.66" y="2.99" width="51.19" height="1.04" fill="url(#gR)" opacity="0.3"/>
<rect x="-7.18" y="3.98" width="50.58" height="1.04" fill="url(#gR)" opacity="0.27"/>
<rect x="-6.48" y="4.98" width="49.97" height="1.04" fill="url(#gR)" opacity="0.21"/>
<rect x="-6.58" y="5.97" width="49.37" height="1.04" fill="url(#gR)" opacity="0.2"/>
<rect x="-6.03" y="6.97" width="48.77" height="1.04" fill="url(#gR)" opacity="0.25"/>
<rect x="-5.32" y="7.96" width="48.17" height="1.04" fill="url(#gR)" opacity="0.2"/>
<rect x="-4.85" y="8.96" width="47.57" height="1.04" fill="url(#gR)" opacity="0.22"/>
<rect x="-5.27" y="9.95" width="46.98" height="1.04" fill="url(#gR)" opacity="0.2"/>
<rect x="-4.63" y="10.95" width="46.39" height="1.04" fill="url(#gR)" opacity="0.2"/>
<rect x="-4.4" y="11.95" width="45.8" height="1.04" fill="url(#gR)" opacity="0.24"/>
<rect x="-3.82" y="12.94" width="45.22" height="1.04" fill="url(#gR)" opacity="0.26"/>
<rect x="-3.71" y="13.94" width="44.64" height="1.04" fill="url(#gR)" opacity="0.25"/>
<rect x="-3.02" y="14.93" width="44.06" height="1.04" fill="url(#gR)" opacity="0.23"/>
<rect x="-3.46" y="15.93" width="43.49" height="1.04" fill="url(#gR)" opacity="0.17"/>
<rect x="-2.92" y="16.92" width="42.92" height="1.04" fill="url(#gR)" opacity="0.18"/>
<rect x="-2.66" y="17.92" width="42.35" height="1.04" fill="url(#gR)" opacity="0.23"/>
<rect x="-1.84" y="18.91" width="41.78" height="1.04" fill="url(#gR)" opacity="0.16"/>
<rect x="-2.47" y="19.91" width="41.22" height="1.04" fill="url(#gR)" opacity="0.16"/>
<rect x="-2.04" y="20.9" width="40.67" height="1.04" fill="url(#gR)" opacity="0.22"/>
<rect x="-1.67" y="21.9" width="40.11" height="1.04" fill="url(#gR)" opacity="0.18"/>
<rect x="-0.87" y="22.9" width="39.56" height="1.04" fill="url(#gR)" opacity="0.15"/>
<rect x="-0.57" y="23.89" width="39.01" height="1.04" fill="url(#gR)" opacity="0.18"/>
<rect x="-0.37" y="24.89" width="38.47" height="1.04" fill="url(#gR)" opacity="0.21"/>
<rect x="-0.86" y="25.88" width="37.93" height="1.04" fill="url(#gR)" opacity="0.15"/>
<rect x="-0.17" y="26.88" width="37.39" height="1.04" fill="url(#gR)" opacity="0.15"/>
<rect x="0.6" y="27.87" width="36.85" height="1.04" fill="url(#gR)" opacity="0.19"/>
<rect x="0.72" y="28.87" width="36.32" height="1.04" fill="url(#gR)" opacity="0.16"/>
<rect x="0.79" y="29.86" width="35.8" height="1.04" fill="url(#gR)" opacity="0.16"/>
<rect x="0.88" y="30.86" width="35.27" height="1.04" fill="url(#gR)" opacity="0.15"/>
<rect x="1.6" y="31.85" width="34.75" height="1.04" fill="url(#gR)" opacity="0.2"/>
<rect x="1.57" y="32.85" width="34.24" height="1.04" fill="url(#gR)" opacity="0.14"/>
<rect x="1.55" y="33.85" width="33.73" height="1.04" fill="url(#gR)" opacity="0.18"/>
<rect x="1.57" y="34.84" width="33.22" height="1.04" fill="url(#gR)" opacity="0.13"/>
<rect x="2.08" y="35.84" width="32.71" height="1.04" fill="url(#gR)" opacity="0.17"/>
<rect x="2.09" y="36.83" width="32.21" height="1.04" fill="url(#gR)" opacity="0.16"/>
<rect x="2.84" y="37.83" width="31.71" height="1.04" fill="url(#gR)" opacity="0.17"/>
<rect x="2.55" y="38.82" width="31.22" height="1.04" fill="url(#gR)" opacity="0.17"/>
<rect x="3.33" y="39.82" width="30.73" height="1.04" fill="url(#gR)" opacity="0.18"/>
<rect x="3.12" y="40.81" width="30.25" height="1.04" fill="url(#gR)" opacity="0.14"/>
<rect x="3.75" y="41.81" width="29.77" height="1.04" fill="url(#gR)" opacity="0.15"/>
<rect x="3.52" y="42.8" width="29.29" height="1.04" fill="url(#gR)" opacity="0.16"/>
<rect x="3.96" y="43.8" width="28.82" height="1.04" fill="url(#gR)" opacity="0.13"/>
<rect x="4.44" y="44.8" width="28.35" height="1.04" fill="url(#gR)" opacity="0.12"/>
<rect x="4.77" y="45.79" width="27.89" height="1.04" fill="url(#gR)" opacity="0.12"/>
<rect x="5.04" y="46.79" width="27.43" height="1.04" fill="url(#gR)" opacity="0.14"/>
<rect x="4.99" y="47.78" width="26.97" height="1.04" fill="url(#gR)" opacity="0.14"/>
<rect x="5" y="48.78" width="26.52" height="1.04" fill="url(#gR)" opacity="0.15"/>
<rect x="5.35" y="49.77" width="26.08" height="1.04" fill="url(#gR)" opacity="0.11"/>
<rect x="5.75" y="50.77" width="25.64" height="1.04" fill="url(#gR)" opacity="0.15"/>
<rect x="6.07" y="51.76" width="25.2" height="1.04" fill="url(#gR)" opacity="0.11"/>
<rect x="5.91" y="52.76" width="24.77" height="1.04" fill="url(#gR)" opacity="0.11"/>
<rect x="6.59" y="53.75" width="24.34" height="1.04" fill="url(#gR)" opacity="0.13"/>
<rect x="6.75" y="54.75" width="23.92" height="1.04" fill="url(#gR)" opacity="0.11"/>
<rect x="7.05" y="55.75" width="23.5" height="1.04" fill="url(#gR)" opacity="0.13"/>
<rect x="6.66" y="56.74" width="23.09" height="1.04" fill="url(#gR)" opacity="0.09"/>
<rect x="6.77" y="57.74" width="22.68" height="1.04" fill="url(#gR)" opacity="0.13"/>
<rect x="7.74" y="58.73" width="22.28" height="1.04" fill="url(#gR)" opacity="0.11"/>
<rect x="7.97" y="59.73" width="21.89" height="1.04" fill="url(#gR)" opacity="0.09"/>
<rect x="7.63" y="60.72" width="21.5" height="1.04" fill="url(#gR)" opacity="0.11"/>
<rect x="7.96" y="61.72" width="21.12" height="1.04" fill="url(#gR)" opacity="0.1"/>
<rect x="8.21" y="62.71" width="20.74" height="1.04" fill="url(#gR)" opacity="0.1"/>
<rect x="8.17" y="63.71" width="20.37" height="1.04" fill="url(#gR)" opacity="0.09"/>
<rect x="9" y="64.7" width="20" height="1.04" fill="url(#gR)" opacity="0.1"/>
<rect x="8.62" y="65.7" width="19.64" height="1.04" fill="url(#gR)" opacity="0.08"/>
<rect x="9.37" y="66.7" width="19.29" height="1.04" fill="url(#gR)" opacity="0.08"/>
<rect x="9.15" y="67.69" width="18.94" height="1.04" fill="url(#gR)" opacity="0.08"/>
<rect x="9.68" y="68.69" width="18.6" height="1.04" fill="url(#gR)" opacity="0.06"/>
<rect x="9.77" y="69.68" width="18.27" height="1.04" fill="url(#gR)" opacity="0.07"/>
<rect x="9.2" y="70.68" width="17.94" height="1.04" fill="url(#gR)" opacity="0.05"/>
<rect x="9.83" y="71.67" width="17.63" height="1.04" fill="url(#gR)" opacity="0.04"/>
<rect x="9.99" y="72.67" width="17.32" height="1.04" fill="url(#gR)" opacity="0.03"/>
<rect x="9.95" y="73.66" width="17.01" height="1.04" fill="url(#gR)" opacity="0.03"/>
<rect x="10.18" y="74.66" width="16.72" height="1.04" fill="url(#gR)" opacity="0.02"/>
<rect x="10.41" y="75.65" width="16.44" height="1.04" fill="url(#gR)" opacity="0.02"/>
<rect x="10.5" y="76.65" width="16.16" height="1.04" fill="url(#gR)" opacity="0.01"/>
<rect x="8.38" y="0" width="20.4" height="1.04" fill="url(#gR)" opacity="0.84"/>
<rect x="8.98" y="1" width="20.16" height="1.04" fill="url(#gR)" opacity="0.98"/>
<rect x="8.59" y="1.99" width="19.92" height="1.04" fill="url(#gR)" opacity="0.67"/>
<rect x="9.09" y="2.99" width="19.69" height="1.04" fill="url(#gR)" opacity="1"/>
<rect x="8.39" y="3.98" width="19.45" height="1.04" fill="url(#gR)" opacity="0.9"/>
<rect x="8.9" y="4.98" width="19.22" height="1.04" fill="url(#gR)" opacity="0.71"/>
<rect x="8.62" y="5.97" width="18.99" height="1.04" fill="url(#gR)" opacity="0.66"/>
<rect x="8.98" y="6.97" width="18.76" height="1.04" fill="url(#gR)" opacity="0.83"/>
<rect x="9.5" y="7.96" width="18.53" height="1.04" fill="url(#gR)" opacity="0.66"/>
<rect x="9.79" y="8.96" width="18.3" height="1.04" fill="url(#gR)" opacity="0.73"/>
<rect x="9.19" y="9.95" width="18.07" height="1.04" fill="url(#gR)" opacity="0.68"/>
<rect x="9.64" y="10.95" width="17.84" height="1.04" fill="url(#gR)" opacity="0.67"/>
<rect x="9.69" y="11.95" width="17.62" height="1.04" fill="url(#gR)" opacity="0.79"/>
<rect x="10.1" y="12.94" width="17.39" height="1.04" fill="url(#gR)" opacity="0.86"/>
<rect x="10.03" y="13.94" width="17.17" height="1.04" fill="url(#gR)" opacity="0.83"/>
<rect x="10.53" y="14.93" width="16.95" height="1.04" fill="url(#gR)" opacity="0.77"/>
<rect x="9.92" y="15.93" width="16.73" height="1.04" fill="url(#gR)" opacity="0.58"/>
<rect x="10.28" y="16.92" width="16.51" height="1.04" fill="url(#gR)" opacity="0.58"/>
<rect x="10.37" y="17.92" width="16.29" height="1.04" fill="url(#gR)" opacity="0.77"/>
<rect x="11.02" y="18.91" width="16.07" height="1.04" fill="url(#gR)" opacity="0.53"/>
<rect x="10.22" y="19.91" width="15.86" height="1.04" fill="url(#gR)" opacity="0.52"/>
<rect x="10.47" y="20.9" width="15.64" height="1.04" fill="url(#gR)" opacity="0.74"/>
<rect x="10.67" y="21.9" width="15.43" height="1.04" fill="url(#gR)" opacity="0.61"/>
<rect x="11.31" y="22.9" width="15.22" height="1.04" fill="url(#gR)" opacity="0.5"/>
<rect x="11.43" y="23.89" width="15" height="1.04" fill="url(#gR)" opacity="0.6"/>
<rect x="11.47" y="24.89" width="14.79" height="1.04" fill="url(#gR)" opacity="0.69"/>
<rect x="10.81" y="25.88" width="14.59" height="1.04" fill="url(#gR)" opacity="0.48"/>
<rect x="11.33" y="26.88" width="14.38" height="1.04" fill="url(#gR)" opacity="0.49"/>
<rect x="11.94" y="27.87" width="14.17" height="1.04" fill="url(#gR)" opacity="0.64"/>
<rect x="11.9" y="28.87" width="13.97" height="1.04" fill="url(#gR)" opacity="0.53"/>
<rect x="11.81" y="29.86" width="13.77" height="1.04" fill="url(#gR)" opacity="0.54"/>
<rect x="11.74" y="30.86" width="13.57" height="1.04" fill="url(#gR)" opacity="0.51"/>
<rect x="12.29" y="31.85" width="13.37" height="1.04" fill="url(#gR)" opacity="0.65"/>
<rect x="12.1" y="32.85" width="13.17" height="1.04" fill="url(#gR)" opacity="0.45"/>
<rect x="11.93" y="33.85" width="12.97" height="1.04" fill="url(#gR)" opacity="0.59"/>
<rect x="11.79" y="34.84" width="12.78" height="1.04" fill="url(#gR)" opacity="0.43"/>
<rect x="12.15" y="35.84" width="12.58" height="1.04" fill="url(#gR)" opacity="0.55"/>
<rect x="12" y="36.83" width="12.39" height="1.04" fill="url(#gR)" opacity="0.54"/>
<rect x="12.6" y="37.83" width="12.2" height="1.04" fill="url(#gR)" opacity="0.55"/>
<rect x="12.15" y="38.82" width="12.01" height="1.04" fill="url(#gR)" opacity="0.56"/>
<rect x="12.78" y="39.82" width="11.82" height="1.04" fill="url(#gR)" opacity="0.59"/>
<rect x="12.43" y="40.81" width="11.63" height="1.04" fill="url(#gR)" opacity="0.48"/>
<rect x="12.91" y="41.81" width="11.45" height="1.04" fill="url(#gR)" opacity="0.49"/>
<rect x="12.53" y="42.8" width="11.27" height="1.04" fill="url(#gR)" opacity="0.53"/>
<rect x="12.83" y="43.8" width="11.08" height="1.04" fill="url(#gR)" opacity="0.44"/>
<rect x="13.16" y="44.8" width="10.9" height="1.04" fill="url(#gR)" opacity="0.41"/>
<rect x="13.35" y="45.79" width="10.73" height="1.04" fill="url(#gR)" opacity="0.39"/>
<rect x="13.47" y="46.79" width="10.55" height="1.04" fill="url(#gR)" opacity="0.47"/>
<rect x="13.29" y="47.78" width="10.37" height="1.04" fill="url(#gR)" opacity="0.46"/>
<rect x="13.16" y="48.78" width="10.2" height="1.04" fill="url(#gR)" opacity="0.5"/>
<rect x="13.37" y="49.77" width="10.03" height="1.04" fill="url(#gR)" opacity="0.38"/>
<rect x="13.64" y="50.77" width="9.86" height="1.04" fill="url(#gR)" opacity="0.5"/>
<rect x="13.82" y="51.76" width="9.69" height="1.04" fill="url(#gR)" opacity="0.38"/>
<rect x="13.53" y="52.76" width="9.53" height="1.04" fill="url(#gR)" opacity="0.37"/>
<rect x="14.08" y="53.75" width="9.36" height="1.04" fill="url(#gR)" opacity="0.43"/>
<rect x="14.11" y="54.75" width="9.2" height="1.04" fill="url(#gR)" opacity="0.36"/>
<rect x="14.28" y="55.75" width="9.04" height="1.04" fill="url(#gR)" opacity="0.44"/>
<rect x="13.76" y="56.74" width="8.88" height="1.04" fill="url(#gR)" opacity="0.31"/>
<rect x="13.75" y="57.74" width="8.72" height="1.04" fill="url(#gR)" opacity="0.42"/>
<rect x="14.6" y="58.73" width="8.57" height="1.04" fill="url(#gR)" opacity="0.37"/>
<rect x="14.7" y="59.73" width="8.42" height="1.04" fill="url(#gR)" opacity="0.3"/>
<rect x="14.25" y="60.72" width="8.27" height="1.04" fill="url(#gR)" opacity="0.38"/>
<rect x="14.46" y="61.72" width="8.12" height="1.04" fill="url(#gR)" opacity="0.33"/>
<rect x="14.59" y="62.71" width="7.98" height="1.04" fill="url(#gR)" opacity="0.34"/>
<rect x="14.44" y="63.71" width="7.83" height="1.04" fill="url(#gR)" opacity="0.29"/>
<rect x="15.15" y="64.7" width="7.69" height="1.04" fill="url(#gR)" opacity="0.34"/>
<rect x="14.66" y="65.7" width="7.55" height="1.04" fill="url(#gR)" opacity="0.26"/>
<rect x="15.31" y="66.7" width="7.42" height="1.04" fill="url(#gR)" opacity="0.28"/>
<rect x="14.97" y="67.69" width="7.28" height="1.04" fill="url(#gR)" opacity="0.27"/>
<rect x="15.41" y="68.69" width="7.15" height="1.04" fill="url(#gR)" opacity="0.2"/>
<rect x="15.4" y="69.68" width="7.03" height="1.04" fill="url(#gR)" opacity="0.23"/>
<rect x="14.72" y="70.68" width="6.9" height="1.04" fill="url(#gR)" opacity="0.17"/>
<rect x="15.25" y="71.67" width="6.78" height="1.04" fill="url(#gR)" opacity="0.13"/>
<rect x="15.32" y="72.67" width="6.66" height="1.04" fill="url(#gR)" opacity="0.1"/>
<rect x="15.19" y="73.66" width="6.54" height="1.04" fill="url(#gR)" opacity="0.09"/>
<rect x="15.32" y="74.66" width="6.43" height="1.04" fill="url(#gR)" opacity="0.08"/>
<rect x="15.47" y="75.65" width="6.32" height="1.04" fill="url(#gR)" opacity="0.05"/>
<rect x="15.47" y="76.65" width="6.22" height="1.04" fill="url(#gR)" opacity="0.03"/>
<rect x="0" y="1.99" width="38" height="0.7" fill="#fdf3ee" opacity="0.48"/>
<rect x="0" y="4.98" width="38" height="0.7" fill="#fdf3ee" opacity="0.39"/>
<rect x="0" y="15.93" width="38" height="0.7" fill="#fdf3ee" opacity="0.5"/>
<rect x="0" y="19.91" width="38" height="0.7" fill="#fdf3ee" opacity="0.37"/>
<rect x="0" y="20.9" width="38" height="0.7" fill="#fdf3ee" opacity="0.35"/>
<rect x="0" y="24.89" width="38" height="0.7" fill="#fdf3ee" opacity="0.24"/>
<rect x="0" y="25.88" width="38" height="0.7" fill="#fdf3ee" opacity="0.3"/>
<rect x="0" y="27.87" width="38" height="0.7" fill="#fdf3ee" opacity="0.35"/>
<rect x="0" y="28.87" width="38" height="0.7" fill="#fdf3ee" opacity="0.5"/>
<rect x="0" y="32.85" width="38" height="0.7" fill="#fdf3ee" opacity="0.36"/>
<rect x="0" y="38.82" width="38" height="0.7" fill="#fdf3ee" opacity="0.43"/>
<rect x="0" y="41.81" width="38" height="0.7" fill="#fdf3ee" opacity="0.46"/>
<rect x="0" y="42.8" width="38" height="0.7" fill="#fdf3ee" opacity="0.27"/>
<rect x="0" y="43.8" width="38" height="0.7" fill="#fdf3ee" opacity="0.32"/>
<rect x="0" y="46.79" width="38" height="0.7" fill="#fdf3ee" opacity="0.22"/>
<rect x="0" y="48.78" width="38" height="0.7" fill="#fdf3ee" opacity="0.46"/>
<rect x="0" y="52.76" width="38" height="0.7" fill="#fdf3ee" opacity="0.4"/>
<rect x="0" y="57.74" width="38" height="0.7" fill="#fdf3ee" opacity="0.28"/>
<rect x="0" y="62.71" width="38" height="0.7" fill="#fdf3ee" opacity="0.33"/>
<rect x="0" y="65.7" width="38" height="0.7" fill="#fdf3ee" opacity="0.41"/>
<rect x="0" y="74.66" width="38" height="0.7" fill="#fdf3ee" opacity="0.53"/>
<rect x="0" y="75.65" width="38" height="0.7" fill="#fdf3ee" opacity="0.39"/>
<rect x="0" y="78.64" width="38" height="0.7" fill="#fdf3ee" opacity="0.3"/>
<rect x="0" y="79.64" width="38" height="0.7" fill="#fdf3ee" opacity="0.55"/>
</svg>
<rect x="257.8" y="428.4" width="38" height="87.6" fill="none" stroke="#8a8a8a" stroke-width="0.85"/>
<rect x="20.2" y="330.5" width="12.2" height="82.5" fill="#4a5268"/>
<rect x="20.2" y="430.8" width="12.2" height="82.3" fill="#4a5268"/>
<text transform="translate(29.9 372) rotate(-90)" font-size="10.6" fill="#fff" text-anchor="middle" textLength="35.4" lengthAdjust="spacingAndGlyphs">Proximal</text>
<text transform="translate(29.9 471.5) rotate(-90)" font-size="10.6" fill="#fff" text-anchor="middle" textLength="24.1" lengthAdjust="spacingAndGlyphs">Distal</text>
<text x="41.7" y="322.2" font-size="10.2" fill="#222" textLength="23.8" lengthAdjust="spacingAndGlyphs">OBF1</text>
<text x="75.95" y="322.2" font-size="10.2" fill="#222" textLength="37.8" lengthAdjust="spacingAndGlyphs">H3K27ac</text>
<text x="132.7" y="322.2" font-size="10.2" fill="#222" textLength="24.4" lengthAdjust="spacingAndGlyphs">OCT1</text>
<text x="167.4" y="322.2" font-size="10.2" fill="#222" textLength="37.2" lengthAdjust="spacingAndGlyphs">H3K27ac</text>
<text x="223.5" y="322.2" font-size="10.2" fill="#222" textLength="25" lengthAdjust="spacingAndGlyphs">OCT2</text>
<text x="258.5" y="322.2" font-size="10.2" fill="#222" textLength="36.5" lengthAdjust="spacingAndGlyphs">H3K27ac</text>
<text x="37" y="524" font-size="5.2" fill="#333" text-anchor="middle">-5kb</text>
<text x="73.8" y="524" font-size="5.2" fill="#333" text-anchor="middle">5kb</text>
<path d="M36.2 516.5v2M73.3 516.5v2" stroke="#555" stroke-width="0.6"/>
<rect x="41.8" y="526.7" width="26.2" height="7" fill="url(#cb1)"/>
<path d="M46.17 526.7v1.3M50.53 526.7v1.3M54.9 526.7v1.3M59.27 526.7v1.3M63.63 526.7v1.3" stroke="#fff" stroke-width="0.6" opacity="0.8"/>
<text x="44.1" y="541.6" font-size="6.7" fill="#111" text-anchor="middle">0</text>
<text x="51.3" y="541.6" font-size="6.7" fill="#111" text-anchor="middle">2</text>
<text x="58.5" y="541.6" font-size="6.7" fill="#111" text-anchor="middle">4</text>
<text x="65.7" y="541.6" font-size="6.7" fill="#111" text-anchor="middle">6</text>
<rect x="78.8" y="526.7" width="32.9" height="7" fill="url(#cb2)"/>
<path d="M82.91 526.7v1.3M87.03 526.7v1.3M91.14 526.7v1.3M95.25 526.7v1.3M99.36 526.7v1.3M103.47 526.7v1.3M107.59 526.7v1.3" stroke="#fff" stroke-width="0.6" opacity="0.8"/>
<text x="81.1" y="541.6" font-size="6.7" fill="#111" text-anchor="middle">0</text>
<text x="88.17" y="541.6" font-size="6.7" fill="#111" text-anchor="middle">2</text>
<text x="95.25" y="541.6" font-size="6.7" fill="#111" text-anchor="middle">4</text>
<text x="102.32" y="541.6" font-size="6.7" fill="#111" text-anchor="middle">6</text>
<text x="109.4" y="541.6" font-size="6.7" fill="#111" text-anchor="middle">8</text>
<rect x="130.2" y="526.7" width="32.2" height="7" fill="url(#cb3)"/>
<path d="M134.22 526.7v1.3M138.25 526.7v1.3M142.28 526.7v1.3M146.3 526.7v1.3M150.32 526.7v1.3M154.35 526.7v1.3M158.38 526.7v1.3" stroke="#fff" stroke-width="0.6" opacity="0.8"/>
<text x="132.5" y="541.6" font-size="6.7" fill="#111" text-anchor="middle">0</text>
<text x="139.4" y="541.6" font-size="6.7" fill="#111" text-anchor="middle">2</text>
<text x="146.3" y="541.6" font-size="6.7" fill="#111" text-anchor="middle">4</text>
<text x="153.2" y="541.6" font-size="6.7" fill="#111" text-anchor="middle">6</text>
<text x="160.1" y="541.6" font-size="6.7" fill="#111" text-anchor="middle">8</text>
<rect x="169.8" y="526.7" width="32.4" height="7" fill="url(#cb4)"/>
<path d="M173.85 526.7v1.3M177.9 526.7v1.3M181.95 526.7v1.3M186 526.7v1.3M190.05 526.7v1.3M194.1 526.7v1.3M198.15 526.7v1.3" stroke="#fff" stroke-width="0.6" opacity="0.8"/>
<text x="172.1" y="541.6" font-size="6.7" fill="#111" text-anchor="middle">0</text>
<text x="179.05" y="541.6" font-size="6.7" fill="#111" text-anchor="middle">2</text>
<text x="186" y="541.6" font-size="6.7" fill="#111" text-anchor="middle">4</text>
<text x="192.95" y="541.6" font-size="6.7" fill="#111" text-anchor="middle">6</text>
<text x="199.9" y="541.6" font-size="6.7" fill="#111" text-anchor="middle">8</text>
<rect x="221" y="526.7" width="32.2" height="7" fill="url(#cb5)"/>
<path d="M225.03 526.7v1.3M229.05 526.7v1.3M233.07 526.7v1.3M237.1 526.7v1.3M241.12 526.7v1.3M245.15 526.7v1.3M249.17 526.7v1.3" stroke="#fff" stroke-width="0.6" opacity="0.8"/>
<text x="223.3" y="541.6" font-size="6.7" fill="#111" text-anchor="middle">0</text>
<text x="230.2" y="541.6" font-size="6.7" fill="#111" text-anchor="middle">2</text>
<text x="237.1" y="541.6" font-size="6.7" fill="#111" text-anchor="middle">4</text>
<text x="244" y="541.6" font-size="6.7" fill="#111" text-anchor="middle">6</text>
<text x="250.9" y="541.6" font-size="6.7" fill="#111" text-anchor="middle">8</text>
<rect x="260.6" y="526.7" width="32.6" height="7" fill="url(#cb6)"/>
<path d="M264.68 526.7v1.3M268.75 526.7v1.3M272.82 526.7v1.3M276.9 526.7v1.3M280.98 526.7v1.3M285.05 526.7v1.3M289.12 526.7v1.3" stroke="#fff" stroke-width="0.6" opacity="0.8"/>
<text x="262.9" y="541.6" font-size="6.7" fill="#111" text-anchor="middle">0</text>
<text x="269.9" y="541.6" font-size="6.7" fill="#111" text-anchor="middle">2</text>
<text x="276.9" y="541.6" font-size="6.7" fill="#111" text-anchor="middle">4</text>
<text x="283.9" y="541.6" font-size="6.7" fill="#111" text-anchor="middle">6</text>
<text x="290.9" y="541.6" font-size="6.7" fill="#111" text-anchor="middle">8</text>
<path d="M359.6 349.5H512.3" stroke="#e6a0c8" stroke-width="0.9"/>
<path d="M359.6 349.5L359.6 349.25L360.1 349.45L360.6 349.5L361.1 349.37L361.6 349.46L362.1 349.42L362.6 349.32L363.1 349.42L363.6 349.37L364.1 349.27L364.6 349.34L365.1 349.49L365.6 349.46L366.1 349.49L366.6 349.35L367.1 349.45L367.6 349.46L368.1 349.49L368.6 349.35L369.1 349.43L369.6 349.46L370.1 349.3L370.6 349.3L371.1 349.05L371.6 348.59L372.1 348.41L372.6 348.88L373.1 349.28L373.6 349.44L374.1 349.42L374.6 349.49L375.1 349.44L375.6 349.5L376.1 349.5L376.6 349.39L377.1 349.45L377.6 349.45L378.1 349.45L378.6 349.45L379.1 349.31L379.6 349.34L380.1 349.37L380.6 349.37L381.1 349.47L381.6 349.47L382.1 349.47L382.6 349.34L383.1 349.28L383.6 349.48L384.1 349.45L384.6 349.45L385.1 349.5L385.6 349.44L386.1 349.46L386.6 349.34L387.1 349.4L387.6 349.48L388.1 349.5L388.6 349.34L389.1 349.37L389.6 349.36L390.1 349.4L390.6 349.28L391.1 349.48L391.6 349.4L392.1 349.5L392.6 349.45L393.1 349.39L393.6 349.31L394.1 348.97L394.6 348.59L395.1 348.38L395.6 348.76L396.1 348.93L396.6 348.61L397.1 348.51L397.6 348.87L398.1 349.32L398.6 349.29L399.1 349.47L399.6 349.38L400.1 349.49L400.6 349.39L401.1 349.45L401.6 349.5L402.1 349.36L402.6 349.42L403.1 349.37L403.6 349.49L404.1 349.43L404.6 349.48L405.1 349.44L405.6 349.39L406.1 349.47L406.6 349.33L407.1 349.45L407.6 349.46L408.1 349.46L408.6 349.41L409.1 349.44L409.6 349.32L410.1 349.49L410.6 349.44L411.1 349.4L411.6 349.46L412.1 349.47L412.6 349.37L413.1 349.3L413.6 349.45L414.1 349.48L414.6 349.47L415.1 349.42L415.6 349.45L416.1 349.43L416.6 349.49L417.1 349.49L417.6 349.5L418.1 349.34L418.6 349.5L419.1 349.33L419.6 349.32L420.1 349.41L420.6 349.48L421.1 349.49L421.6 349.44L422.1 349.49L422.6 349.39L423.1 349.46L423.6 349.43L424.1 349.34L424.6 349.49L425.1 349.29L425.6 349.46L426.1 349.34L426.6 349.39L427.1 349.47L427.6 349.5L428.1 349.44L428.6 349.29L429.1 349.12L429.6 348.74L430.1 348.8L430.6 348.62L431.1 348.29L431.6 347.3L432.1 346.16L432.6 344.99L433.1 343.42L433.6 341.65L434.1 340.4L434.6 340.18L435.1 340.09L435.6 340.8L436.1 341.52L436.6 341.66L437.1 341.81L437.6 342.08L438.1 342.84L438.6 343.67L439.1 344.68L439.6 345.96L440.1 347.03L440.6 348.16L441.1 348.44L441.6 348.84L442.1 349.34L442.6 349.48L443.1 349.42L443.6 349.49L444.1 349.49L444.6 349.48L445.1 349.5L445.6 349.43L446.1 349.47L446.6 349.29L447.1 349.46L447.6 349.46L448.1 349.47L448.6 349.28L449.1 349.48L449.6 349.41L450.1 349.29L450.6 349.32L451.1 349.36L451.6 349.43L452.1 349.48L452.6 349.48L453.1 349.44L453.6 349.45L454.1 349.24L454.6 348.99L455.1 348.84L455.6 349.06L456.1 349.35L456.6 349.45L457.1 349.48L457.6 349.37L458.1 349.23L458.6 349.27L459.1 349.28L459.6 349.48L460.1 349.33L460.6 349.33L461.1 349.42L461.6 349.32L462.1 349.44L462.6 349.34L463.1 349.49L463.6 349.38L464.1 349.45L464.6 349.41L465.1 349.5L465.6 349.46L466.1 349.49L466.6 349.4L467.1 349.5L467.6 349.34L468.1 349.46L468.6 349.5L469.1 349.32L469.6 349.42L470.1 349.34L470.6 349.39L471.1 349.39L471.6 349.27L472.1 349.32L472.6 349.42L473.1 349.45L473.6 349.38L474.1 349.44L474.6 349.29L475.1 349.49L475.6 349.38L476.1 349.48L476.6 349.5L477.1 349.49L477.6 349.3L478.1 349.34L478.6 349.41L479.1 349.41L479.6 349.27L480.1 349.42L480.6 349.47L481.1 349.41L481.6 349.34L482.1 349.47L482.6 349.28L483.1 349.44L483.6 349.39L484.1 349.31L484.6 349.2L485.1 349.14L485.6 348.75L486.1 348.63L486.6 348.97L487.1 349.34L487.6 349.43L488.1 349.5L488.6 349.43L489.1 349.45L489.6 349.42L490.1 349.39L490.6 349.41L491.1 349.39L491.6 349.39L492.1 349.29L492.6 349.5L493.1 349.43L493.6 349.5L494.1 349.36L494.6 349.41L495.1 349.48L495.6 349.32L496.1 349.41L496.6 349.4L497.1 349.47L497.6 349.43L498.1 349.48L498.6 349.48L499.1 349.39L499.6 349.3L500.1 349.48L500.6 349.42L501.1 349.46L501.6 349.47L502.1 349.47L502.6 349.4L503.1 349.47L503.6 349.39L504.1 349.41L504.6 349.37L505.1 349.46L505.6 349.42L506.1 349.5L506.6 349.3L507.1 349.23L507.6 349.46L508.1 349.4L508.6 349.44L509.1 349.44L509.6 349.48L510.1 349.47L510.6 349.33L511.1 349.4L511.6 349.48L512.1 349.44L512.3 349.5Z" fill="#c4177a"/>
<path d="M359.6 361.15H512.3" stroke="#d7a2de" stroke-width="0.9"/>
<path d="M359.6 361.15L359.6 361.12L360.1 361.07L360.6 361.12L361.1 361.11L361.6 361.14L362.1 361.13L362.6 361.11L363.1 360.9L363.6 361.07L364.1 361.06L364.6 361.14L365.1 361.11L365.6 361.11L366.1 361.09L366.6 361L367.1 361.05L367.6 361.06L368.1 361.01L368.6 360.95L369.1 360.98L369.6 360.91L370.1 360.93L370.6 361.1L371.1 361.08L371.6 361.13L372.1 361.05L372.6 361.02L373.1 361.1L373.6 361.15L374.1 361.11L374.6 360.91L375.1 361.05L375.6 361.11L376.1 361.05L376.6 361.1L377.1 361.14L377.6 361.12L378.1 361.14L378.6 361.12L379.1 361.12L379.6 361.13L380.1 361.09L380.6 361.06L381.1 361.15L381.6 361.04L382.1 361.12L382.6 361.02L383.1 361.07L383.6 361.08L384.1 361.03L384.6 361.06L385.1 361.07L385.6 361.04L386.1 360.99L386.6 360.9L387.1 361.09L387.6 361.14L388.1 361.12L388.6 361.11L389.1 360.96L389.6 361.14L390.1 361.15L390.6 361.14L391.1 361.14L391.6 361.13L392.1 360.96L392.6 361.14L393.1 361.12L393.6 361.13L394.1 361.14L394.6 361.09L395.1 361.02L395.6 360.97L396.1 361.13L396.6 361.15L397.1 361.14L397.6 361.15L398.1 361.08L398.6 360.92L399.1 361.04L399.6 361.11L400.1 361.12L400.6 361.11L401.1 361.12L401.6 361.09L402.1 361.05L402.6 361.01L403.1 361.11L403.6 360.92L404.1 361.1L404.6 361.01L405.1 361.14L405.6 361.14L406.1 361.04L406.6 361.01L407.1 361.05L407.6 361.14L408.1 360.94L408.6 361.14L409.1 361.14L409.6 361.05L410.1 361.1L410.6 360.89L411.1 361.11L411.6 361.1L412.1 361.09L412.6 361L413.1 361.1L413.6 361.05L414.1 361.13L414.6 361.09L415.1 361.09L415.6 361.1L416.1 361.09L416.6 361.09L417.1 360.99L417.6 361.04L418.1 361.1L418.6 361.11L419.1 361.12L419.6 361.12L420.1 361.1L420.6 361.12L421.1 361.09L421.6 361.03L422.1 360.97L422.6 361.13L423.1 361.07L423.6 361.15L424.1 361.13L424.6 361.13L425.1 361.08L425.6 361.09L426.1 361.15L426.6 361.13L427.1 361.12L427.6 361.14L428.1 360.99L428.6 361.05L429.1 360.93L429.6 361.14L430.1 360.88L430.6 361.11L431.1 360.99L431.6 361.04L432.1 361.13L432.6 360.28L433.1 358.04L433.6 352.6L434.1 352.09L434.6 351.8L435.1 351.87L435.6 351.77L436.1 351.9L436.6 352L437.1 352.21L437.6 352.58L438.1 355.14L438.6 357.76L439.1 359.62L439.6 360.82L440.1 361.13L440.6 361.14L441.1 361.05L441.6 360.97L442.1 361.13L442.6 361.09L443.1 360.94L443.6 360.61L444.1 360.42L444.6 360.75L445.1 360.87L445.6 361.11L446.1 361.05L446.6 361L447.1 361.01L447.6 361.14L448.1 361.06L448.6 361.15L449.1 360.94L449.6 361.13L450.1 361.05L450.6 361.1L451.1 361.11L451.6 361.14L452.1 360.91L452.6 361.09L453.1 361.14L453.6 361.09L454.1 361.04L454.6 361.12L455.1 361.14L455.6 361.14L456.1 361.15L456.6 361.11L457.1 361.14L457.6 361.07L458.1 361.04L458.6 361.13L459.1 361.1L459.6 360.98L460.1 361.08L460.6 361.03L461.1 360.99L461.6 361.12L462.1 361.14L462.6 361.15L463.1 360.96L463.6 361.11L464.1 361.09L464.6 361.12L465.1 361.1L465.6 360.92L466.1 361.14L466.6 361.07L467.1 360.99L467.6 361.03L468.1 361.1L468.6 361.06L469.1 361.06L469.6 361.06L470.1 361.02L470.6 361.05L471.1 361.01L471.6 361L472.1 361.12L472.6 361.04L473.1 361.02L473.6 361.04L474.1 361.01L474.6 361.07L475.1 361.07L475.6 361.12L476.1 361.07L476.6 361L477.1 361.05L477.6 360.99L478.1 361.07L478.6 360.94L479.1 361.02L479.6 361.15L480.1 361.13L480.6 361.05L481.1 361.02L481.6 361.11L482.1 361.14L482.6 361.08L483.1 361.03L483.6 361.15L484.1 361.15L484.6 361.14L485.1 361.1L485.6 360.89L486.1 360.98L486.6 361.11L487.1 361.1L487.6 360.97L488.1 360.68L488.6 360.43L489.1 360.27L489.6 360.53L490.1 360.86L490.6 361.03L491.1 361.09L491.6 361.11L492.1 361L492.6 361.13L493.1 361.09L493.6 361.13L494.1 361.11L494.6 360.92L495.1 361L495.6 361.14L496.1 361.15L496.6 361.13L497.1 361.14L497.6 361.05L498.1 361.15L498.6 361.1L499.1 361.13L499.6 361.1L500.1 360.94L500.6 361.02L501.1 361.15L501.6 361.14L502.1 361.02L502.6 361.08L503.1 361.14L503.6 361.12L504.1 361.13L504.6 361.12L505.1 361.15L505.6 361.11L506.1 361.11L506.6 361L507.1 360.99L507.6 361.11L508.1 361.15L508.6 361.13L509.1 361.01L509.6 360.87L510.1 361.09L510.6 360.94L511.1 361.12L511.6 361.15L512.1 361.01L512.3 361.15Z" fill="#9b1fab"/>
<path d="M359.6 372.6H512.3" stroke="#b6c6dc" stroke-width="0.9"/>
<path d="M359.6 372.6L359.6 372.41L360.1 372.54L360.6 372.59L361.1 372.56L361.6 372.37L362.1 372.53L362.6 372.56L363.1 372.58L363.6 372.58L364.1 372.57L364.6 372.48L365.1 372.6L365.6 372.54L366.1 372.56L366.6 372.49L367.1 372.58L367.6 372.55L368.1 372.57L368.6 372.57L369.1 372.49L369.6 372.42L370.1 372.54L370.6 372.44L371.1 372.54L371.6 372.41L372.1 372.58L372.6 372.55L373.1 372.45L373.6 372.57L374.1 372.48L374.6 372.55L375.1 372.58L375.6 372.56L376.1 372.53L376.6 372.5L377.1 372.51L377.6 372.58L378.1 372.59L378.6 372.48L379.1 372.52L379.6 372.57L380.1 372.59L380.6 372.56L381.1 372.52L381.6 372.56L382.1 372.47L382.6 372.51L383.1 372.59L383.6 372.6L384.1 372.43L384.6 372.59L385.1 372.51L385.6 372.42L386.1 372.57L386.6 372.58L387.1 372.51L387.6 372.58L388.1 372.59L388.6 372.39L389.1 372.49L389.6 372.5L390.1 372.41L390.6 372.54L391.1 372.48L391.6 372.47L392.1 372.6L392.6 372.5L393.1 372.53L393.6 372.57L394.1 372.59L394.6 372.51L395.1 372.44L395.6 372.56L396.1 372.45L396.6 372.59L397.1 372.59L397.6 372.45L398.1 372.52L398.6 372.57L399.1 372.45L399.6 372.4L400.1 372.52L400.6 372.37L401.1 372.49L401.6 372.49L402.1 372.6L402.6 372.6L403.1 372.58L403.6 372.49L404.1 372.52L404.6 372.56L405.1 372.51L405.6 372.55L406.1 372.52L406.6 372.54L407.1 372.56L407.6 372.6L408.1 372.57L408.6 372.57L409.1 372.59L409.6 372.58L410.1 372.6L410.6 372.58L411.1 372.6L411.6 372.55L412.1 372.59L412.6 372.55L413.1 372.59L413.6 372.59L414.1 372.58L414.6 372.54L415.1 372.6L415.6 372.54L416.1 372.49L416.6 372.52L417.1 372.58L417.6 372.45L418.1 372.59L418.6 372.4L419.1 372.6L419.6 372.6L420.1 372.6L420.6 372.59L421.1 372.55L421.6 372.46L422.1 372.38L422.6 372.59L423.1 372.54L423.6 372.58L424.1 372.53L424.6 372.59L425.1 372.53L425.6 372.55L426.1 372.44L426.6 372.46L427.1 372.5L427.6 372.57L428.1 372.49L428.6 372.59L429.1 372.47L429.6 372.52L430.1 372.58L430.6 372.6L431.1 372.29L431.6 372.03L432.1 371.65L432.6 371.2L433.1 370.82L433.6 369.9L434.1 369.23L434.6 368.39L435.1 367.37L435.6 366.43L436.1 365.68L436.6 364.94L437.1 364.12L437.6 363.36L438.1 363.69L438.6 364.42L439.1 366.5L439.6 368.71L440.1 370.07L440.6 371.14L441.1 371.35L441.6 371.61L442.1 371.78L442.6 371.97L443.1 372.08L443.6 372.17L444.1 372.25L444.6 372.54L445.1 372.59L445.6 372.45L446.1 372.55L446.6 372.52L447.1 372.58L447.6 372.55L448.1 372.59L448.6 372.51L449.1 372.48L449.6 372.58L450.1 372.5L450.6 372.59L451.1 372.59L451.6 372.4L452.1 372.34L452.6 372.43L453.1 372.53L453.6 372.34L454.1 372.46L454.6 372.51L455.1 372.32L455.6 372.52L456.1 372.59L456.6 372.54L457.1 372.5L457.6 372.59L458.1 372.56L458.6 372.52L459.1 372.54L459.6 372.59L460.1 372.59L460.6 372.56L461.1 372.39L461.6 372.34L462.1 372.58L462.6 372.56L463.1 372.51L463.6 372.51L464.1 372.56L464.6 372.39L465.1 372.58L465.6 372.6L466.1 372.58L466.6 372.57L467.1 372.6L467.6 372.49L468.1 372.37L468.6 372.59L469.1 372.6L469.6 372.56L470.1 372.59L470.6 372.59L471.1 372.54L471.6 372.57L472.1 372.59L472.6 372.47L473.1 372.38L473.6 372.59L474.1 372.42L474.6 372.47L475.1 372.55L475.6 372.6L476.1 372.43L476.6 372.47L477.1 372.41L477.6 372.45L478.1 372.54L478.6 372.59L479.1 372.39L479.6 372.5L480.1 372.44L480.6 372.19L481.1 371.95L481.6 371.64L482.1 371.5L482.6 371.57L483.1 372.12L483.6 372.3L484.1 372.49L484.6 372.39L485.1 372.58L485.6 372.54L486.1 372.34L486.6 372.56L487.1 372.55L487.6 372.5L488.1 372.57L488.6 372.33L489.1 372.56L489.6 372.59L490.1 372.53L490.6 372.59L491.1 372.6L491.6 372.48L492.1 372.44L492.6 372.6L493.1 372.52L493.6 372.59L494.1 372.56L494.6 372.59L495.1 372.53L495.6 372.56L496.1 372.55L496.6 372.47L497.1 372.6L497.6 372.56L498.1 372.55L498.6 372.59L499.1 372.45L499.6 372.59L500.1 372.48L500.6 372.59L501.1 372.59L501.6 372.5L502.1 372.6L502.6 372.32L503.1 372.53L503.6 372.5L504.1 372.5L504.6 372.6L505.1 372.52L505.6 372.47L506.1 372.53L506.6 372.53L507.1 372.55L507.6 372.43L508.1 372.55L508.6 372.36L509.1 372.59L509.6 372.6L510.1 372.48L510.6 372.57L511.1 372.6L511.6 372.36L512.1 372.49L512.3 372.6Z" fill="#4e72a3"/>
<path d="M359.6 384.4H512.3" stroke="#cfdba4" stroke-width="0.9"/>
<path d="M359.6 384.4L359.6 384.12L360.1 384.05L360.6 384.27L361.1 384.2L361.6 384.37L362.1 384.29L362.6 384.17L363.1 384.39L363.6 384.34L364.1 384.17L364.6 384.29L365.1 384.32L365.6 384.1L366.1 384.08L366.6 384.22L367.1 384.27L367.6 384.26L368.1 384.38L368.6 384.29L369.1 384.34L369.6 384.39L370.1 384.12L370.6 384.37L371.1 384.08L371.6 384.4L372.1 384.19L372.6 384.4L373.1 384.39L373.6 384.37L374.1 384.27L374.6 384.16L375.1 384.35L375.6 384.39L376.1 384.24L376.6 384.14L377.1 384.32L377.6 384.18L378.1 384.37L378.6 384.39L379.1 384.3L379.6 384.28L380.1 384.19L380.6 384.32L381.1 384.35L381.6 384.4L382.1 384.29L382.6 384.36L383.1 384.37L383.6 384.39L384.1 384.32L384.6 384.16L385.1 384.38L385.6 384.34L386.1 384.33L386.6 384.32L387.1 384.36L387.6 384.33L388.1 384.16L388.6 384.37L389.1 384.35L389.6 384.39L390.1 384.39L390.6 384.4L391.1 384.27L391.6 384.31L392.1 384.33L392.6 384.32L393.1 384.14L393.6 384.38L394.1 384.15L394.6 384.17L395.1 384.39L395.6 384.37L396.1 384.28L396.6 384.29L397.1 384.15L397.6 384.4L398.1 384.38L398.6 384.36L399.1 384.31L399.6 384.3L400.1 384.33L400.6 384.26L401.1 384.4L401.6 384.34L402.1 384.13L402.6 384.39L403.1 384.31L403.6 384.38L404.1 384.33L404.6 384.34L405.1 384.4L405.6 384.17L406.1 384.38L406.6 384.33L407.1 384.23L407.6 384.19L408.1 384.36L408.6 384.26L409.1 384.39L409.6 384.26L410.1 384.4L410.6 384.38L411.1 384.35L411.6 384.36L412.1 384.31L412.6 384.19L413.1 384.3L413.6 384.33L414.1 384.32L414.6 384.33L415.1 384.38L415.6 384.19L416.1 384.34L416.6 384.23L417.1 384.38L417.6 384.37L418.1 384.1L418.6 384.27L419.1 384.39L419.6 384.24L420.1 384.36L420.6 384.32L421.1 384.06L421.6 384.35L422.1 384.39L422.6 384.07L423.1 384.32L423.6 384.3L424.1 384.19L424.6 383.94L425.1 384.17L425.6 383.84L426.1 384.15L426.6 384.14L427.1 384.02L427.6 384.02L428.1 383.78L428.6 383.84L429.1 383.87L429.6 383.86L430.1 383.77L430.6 383.66L431.1 383.54L431.6 383.58L432.1 383.57L432.6 383.39L433.1 383.09L433.6 382.86L434.1 382.76L434.6 382.82L435.1 382.66L435.6 381.88L436.1 381.2L436.6 380.82L437.1 380L437.6 379.19L438.1 378.58L438.6 377.21L439.1 375.91L439.6 375.96L440.1 375.67L440.6 375.45L441.1 374.35L441.6 375.93L442.1 376.12L442.6 376.94L443.1 375.55L443.6 375.9L444.1 375.98L444.6 377.28L445.1 377.52L445.6 376.83L446.1 376.42L446.6 376.85L447.1 378.12L447.6 379.46L448.1 380.13L448.6 380.78L449.1 380.71L449.6 381.77L450.1 381.63L450.6 381.89L451.1 381.88L451.6 382.34L452.1 382.54L452.6 382.99L453.1 383.14L453.6 383.17L454.1 383.27L454.6 383.25L455.1 383.45L455.6 383.73L456.1 383.61L456.6 383.84L457.1 384L457.6 383.94L458.1 383.93L458.6 384.19L459.1 384.28L459.6 384.19L460.1 384.38L460.6 384.23L461.1 384.34L461.6 384.26L462.1 384.36L462.6 384.4L463.1 384.26L463.6 384.32L464.1 384.38L464.6 384.32L465.1 384.25L465.6 384.1L466.1 384.09L466.6 384.12L467.1 384.33L467.6 384.16L468.1 383.63L468.6 384.01L469.1 383.91L469.6 383.68L470.1 383.9L470.6 383.85L471.1 383.94L471.6 384.05L472.1 383.88L472.6 384.13L473.1 384.12L473.6 384.07L474.1 383.93L474.6 383.76L475.1 383.95L475.6 384.05L476.1 383.84L476.6 384.09L477.1 384.02L477.6 383.62L478.1 383.61L478.6 383.71L479.1 384.16L479.6 383.88L480.1 383.79L480.6 384.01L481.1 384.09L481.6 383.76L482.1 383.89L482.6 383.59L483.1 383.9L483.6 383.84L484.1 383.92L484.6 384.1L485.1 383.83L485.6 383.79L486.1 383.86L486.6 384.08L487.1 383.94L487.6 383.95L488.1 383.73L488.6 383.83L489.1 383.95L489.6 383.91L490.1 383.86L490.6 383.92L491.1 383.69L491.6 384.01L492.1 384.2L492.6 384.07L493.1 384.3L493.6 384.37L494.1 384.32L494.6 384.25L495.1 384.37L495.6 384.37L496.1 384.38L496.6 384.3L497.1 384.37L497.6 384.32L498.1 384.35L498.6 384.39L499.1 384.39L499.6 384.33L500.1 384.39L500.6 384.35L501.1 384.16L501.6 384.4L502.1 384.28L502.6 384.35L503.1 384.32L503.6 384.38L504.1 384.21L504.6 384.18L505.1 384.24L505.6 384.29L506.1 384.37L506.6 384.36L507.1 384.24L507.6 384.38L508.1 384.39L508.6 384.32L509.1 384.11L509.6 384.4L510.1 384.2L510.6 384.39L511.1 384.38L511.6 384.15L512.1 384.2L512.3 384.4Z" fill="#8aa733"/>
<path d="M359.6 395.5H512.3" stroke="#ead59a" stroke-width="0.9"/>
<path d="M359.6 395.5L359.6 395.43L360.1 395.29L360.6 395.37L361.1 395.49L361.6 395.5L362.1 394.49L362.6 394.81L363.1 394.68L363.6 394.83L364.1 394.51L364.6 394.81L365.1 394.53L365.6 394.87L366.1 394.8L366.6 395.18L367.1 394.6L367.6 395.06L368.1 394.97L368.6 395.13L369.1 394.7L369.6 395.01L370.1 395.02L370.6 394.98L371.1 394.64L371.6 394.73L372.1 395.13L372.6 394.86L373.1 395.13L373.6 394.97L374.1 394.92L374.6 394.65L375.1 394.91L375.6 394.29L376.1 394.52L376.6 394.52L377.1 394.63L377.6 394.91L378.1 394.32L378.6 395L379.1 394.73L379.6 394.8L380.1 394.92L380.6 394.73L381.1 395.12L381.6 394.7L382.1 394.76L382.6 394.63L383.1 394.67L383.6 394.3L384.1 394.54L384.6 394.79L385.1 394.35L385.6 394.94L386.1 394.58L386.6 395.02L387.1 394.82L387.6 394.95L388.1 394.06L388.6 394.44L389.1 394.33L389.6 393.93L390.1 394.63L390.6 394.9L391.1 394.81L391.6 394.73L392.1 395.12L392.6 394.58L393.1 394.94L393.6 394.83L394.1 395.26L394.6 395.47L395.1 395.45L395.6 395.34L396.1 395.13L396.6 395.48L397.1 395.29L397.6 395.4L398.1 394.35L398.6 394.34L399.1 394.47L399.6 394.04L400.1 394.54L400.6 394.86L401.1 394.7L401.6 394.92L402.1 394.24L402.6 394.53L403.1 394.38L403.6 394.83L404.1 394.27L404.6 394.52L405.1 394.62L405.6 395.06L406.1 395.1L406.6 395.2L407.1 394.79L407.6 393.9L408.1 394.33L408.6 394.54L409.1 394.65L409.6 395.03L410.1 394.3L410.6 394.84L411.1 394.66L411.6 394.16L412.1 394.19L412.6 394.56L413.1 394.58L413.6 394.76L414.1 394.9L414.6 394.21L415.1 394.83L415.6 394.6L416.1 394.37L416.6 394.58L417.1 394.6L417.6 394.76L418.1 394.19L418.6 394.75L419.1 394.74L419.6 394.61L420.1 395.5L420.6 395.33L421.1 395.48L421.6 395.31L422.1 395.25L422.6 395.49L423.1 395.1L423.6 395.36L424.1 395.14L424.6 395.06L425.1 394.72L425.6 394.77L426.1 394.5L426.6 393.89L427.1 393.05L427.6 392.34L428.1 392.48L428.6 392.65L429.1 393.16L429.6 393.7L430.1 393.3L430.6 392.53L431.1 392.32L431.6 392.59L432.1 392.59L432.6 392.23L433.1 392.13L433.6 391.91L434.1 392.45L434.6 392.62L435.1 393.67L435.6 393.91L436.1 393.64L436.6 394.33L437.1 394.75L437.6 394.82L438.1 395.14L438.6 394.8L439.1 395L439.6 394.89L440.1 395.14L440.6 395.12L441.1 395.2L441.6 395L442.1 394.88L442.6 394.9L443.1 394.57L443.6 395.05L444.1 394.75L444.6 394.81L445.1 395.04L445.6 394.35L446.1 394.62L446.6 394.57L447.1 394.41L447.6 394.95L448.1 394.78L448.6 395.1L449.1 395.08L449.6 394.84L450.1 395.1L450.6 395.45L451.1 395.38L451.6 395.48L452.1 395.45L452.6 395.39L453.1 395.34L453.6 395.45L454.1 395.14L454.6 395.48L455.1 394.08L455.6 394.01L456.1 394.42L456.6 394.02L457.1 394.45L457.6 394.31L458.1 394.65L458.6 394.47L459.1 394.59L459.6 394.09L460.1 394.28L460.6 393.5L461.1 394.59L461.6 394.81L462.1 394.44L462.6 394.68L463.1 394.89L463.6 394.58L464.1 394.94L464.6 394.84L465.1 394.48L465.6 394.43L466.1 394.24L466.6 394.18L467.1 393.75L467.6 394.29L468.1 394.39L468.6 393.52L469.1 393.86L469.6 393.42L470.1 393.3L470.6 393.08L471.1 393.15L471.6 393.05L472.1 393.05L472.6 394.09L473.1 392.68L473.6 393.56L474.1 393.34L474.6 393.4L475.1 392.08L475.6 392.88L476.1 391.81L476.6 391.64L477.1 392.24L477.6 392.9L478.1 392.61L478.6 393.48L479.1 391.13L479.6 391.22L480.1 390.87L480.6 391.64L481.1 392.88L481.6 392.56L482.1 393.22L482.6 393.83L483.1 392.2L483.6 392.88L484.1 392L484.6 392.52L485.1 391.97L485.6 391.88L486.1 393.09L486.6 393.68L487.1 391.67L487.6 392.6L488.1 391.88L488.6 390.84L489.1 390.57L489.6 392.38L490.1 391.46L490.6 391.63L491.1 392.74L491.6 392.93L492.1 393.26L492.6 392.15L493.1 393.37L493.6 393.04L494.1 394L494.6 393.15L495.1 394L495.6 392.74L496.1 392.7L496.6 391.99L497.1 392.44L497.6 393.45L498.1 393.39L498.6 393.91L499.1 392.12L499.6 392.24L500.1 393.04L500.6 393.89L501.1 395.23L501.6 394.95L502.1 395.21L502.6 395.17L503.1 395.28L503.6 394.89L504.1 395.21L504.6 395.23L505.1 395.29L505.6 395.4L506.1 395.2L506.6 395.23L507.1 395.36L507.6 395.3L508.1 395.21L508.6 395.29L509.1 395.44L509.6 395.39L510.1 395.46L510.6 395.43L511.1 395.38L511.6 395.28L512.1 395.46L512.3 395.5Z" fill="#d1a424"/>
<path d="M359.6 407.2H512.3" stroke="#e6d3a6" stroke-width="0.9"/>
<path d="M359.6 407.2L359.6 406.96L360.1 407.1L360.6 407.2L361.1 407.19L361.6 407.19L362.1 407.12L362.6 407.1L363.1 407.17L363.6 407.08L364.1 407.16L364.6 407.12L365.1 407.2L365.6 407.17L366.1 407.2L366.6 406.81L367.1 407.07L367.6 407.2L368.1 406.98L368.6 406.86L369.1 407.16L369.6 407.13L370.1 407.01L370.6 407.02L371.1 407.19L371.6 407L372.1 407.2L372.6 407.03L373.1 407.16L373.6 407.2L374.1 407.17L374.6 407.2L375.1 407L375.6 407.12L376.1 407.03L376.6 407.17L377.1 407.17L377.6 407.13L378.1 407.17L378.6 407.12L379.1 407.18L379.6 407.1L380.1 407.05L380.6 407.13L381.1 407.01L381.6 406.98L382.1 407.17L382.6 407.08L383.1 407.14L383.6 406.98L384.1 407.14L384.6 407.13L385.1 407.12L385.6 407.18L386.1 407.18L386.6 407.16L387.1 407.2L387.6 407.17L388.1 407.11L388.6 406.96L389.1 407.12L389.6 407.06L390.1 407.11L390.6 407.2L391.1 407.02L391.6 407.15L392.1 406.98L392.6 407.16L393.1 407.16L393.6 407.18L394.1 407.19L394.6 407.18L395.1 407.19L395.6 407.2L396.1 407.15L396.6 407.03L397.1 407.14L397.6 407.15L398.1 407.19L398.6 407.16L399.1 407.17L399.6 407.05L400.1 407.06L400.6 407.13L401.1 407.08L401.6 407.11L402.1 407.17L402.6 407.07L403.1 407.15L403.6 407.06L404.1 407.1L404.6 407.07L405.1 407.1L405.6 407.13L406.1 407.18L406.6 407.14L407.1 407.04L407.6 407.14L408.1 407.02L408.6 407.2L409.1 407.08L409.6 407.04L410.1 406.88L410.6 407.13L411.1 407.07L411.6 407.19L412.1 407.17L412.6 407.11L413.1 407.07L413.6 407L414.1 406.89L414.6 407.12L415.1 407.06L415.6 407.1L416.1 407.14L416.6 407.2L417.1 407.2L417.6 407.2L418.1 407.06L418.6 407.02L419.1 407.16L419.6 407.16L420.1 407.2L420.6 407.04L421.1 407.15L421.6 407.09L422.1 407.13L422.6 407.14L423.1 407.09L423.6 407.12L424.1 407.01L424.6 407.03L425.1 407.18L425.6 407.09L426.1 407.01L426.6 406.93L427.1 406.93L427.6 406.8L428.1 406.7L428.6 406.55L429.1 406.64L429.6 406.47L430.1 406.39L430.6 406.45L431.1 406.51L431.6 406.49L432.1 406.38L432.6 406.17L433.1 405.96L433.6 405.7L434.1 405.66L434.6 405.99L435.1 405.94L435.6 405.88L436.1 405.57L436.6 405.01L437.1 404.74L437.6 403.97L438.1 403.71L438.6 402.52L439.1 402.57L439.6 400.72L440.1 398.94L440.6 396.82L441.1 394.96L441.6 395.36L442.1 395.8L442.6 395.35L443.1 395.29L443.6 394.42L444.1 394.01L444.6 393.82L445.1 395.07L445.6 396.95L446.1 398.44L446.6 398.94L447.1 400.36L447.6 398.71L448.1 398.34L448.6 397.37L449.1 396.95L449.6 399.37L450.1 398.82L450.6 400.58L451.1 399.26L451.6 400.83L452.1 401.17L452.6 403.16L453.1 404.05L453.6 404.71L454.1 404.51L454.6 404.7L455.1 405.55L455.6 405.81L456.1 405.77L456.6 406.02L457.1 405.63L457.6 405.49L458.1 404.93L458.6 405.14L459.1 405.56L459.6 406L460.1 405.76L460.6 406.15L461.1 405.88L461.6 406.24L462.1 406.37L462.6 406.92L463.1 407.08L463.6 407.19L464.1 407.14L464.6 407.18L465.1 407.13L465.6 407.07L466.1 407.16L466.6 407.1L467.1 407.08L467.6 407.15L468.1 407.11L468.6 407.15L469.1 406.91L469.6 406.96L470.1 406.98L470.6 407.08L471.1 407.01L471.6 406.69L472.1 406.99L472.6 406.76L473.1 406.85L473.6 406.77L474.1 406.53L474.6 406.92L475.1 406.65L475.6 406.71L476.1 406.58L476.6 406.72L477.1 406.76L477.6 406.95L478.1 406.76L478.6 406.81L479.1 406.83L479.6 406.83L480.1 406.8L480.6 406.94L481.1 407.04L481.6 406.84L482.1 406.95L482.6 406.91L483.1 406.96L483.6 406.72L484.1 407.01L484.6 406.8L485.1 407.16L485.6 407.19L486.1 407.12L486.6 407.05L487.1 407.02L487.6 407.05L488.1 407.11L488.6 407.19L489.1 407.19L489.6 407.11L490.1 407.2L490.6 406.94L491.1 406.94L491.6 407.19L492.1 407.15L492.6 407.2L493.1 407.1L493.6 407.18L494.1 407.19L494.6 406.9L495.1 407.2L495.6 407.2L496.1 407.19L496.6 407.1L497.1 407.1L497.6 407.08L498.1 406.99L498.6 406.91L499.1 407.07L499.6 407.19L500.1 407.11L500.6 407L501.1 406.98L501.6 407.11L502.1 406.88L502.6 407.13L503.1 406.99L503.6 407.13L504.1 407.19L504.6 407.18L505.1 407.19L505.6 406.98L506.1 407.19L506.6 407.15L507.1 406.93L507.6 407.2L508.1 407.15L508.6 406.99L509.1 407.05L509.6 407.06L510.1 407.09L510.6 407.16L511.1 407.12L511.6 407.08L512.1 407.1L512.3 407.2Z" fill="#c8992c"/>
<path d="M359.6 465.4H512.3" stroke="#e6a0c8" stroke-width="0.9"/>
<path d="M359.6 465.4L359.6 465.38L360.1 465.39L360.6 465.38L361.1 465.22L361.6 465.38L362.1 465.36L362.6 465.38L363.1 465.32L363.6 465.24L364.1 465.33L364.6 465.37L365.1 465.4L365.6 465.33L366.1 465.37L366.6 465.4L367.1 465.39L367.6 465.4L368.1 465.38L368.6 465.31L369.1 465.25L369.6 465.21L370.1 465.36L370.6 465.36L371.1 465.26L371.6 465.39L372.1 465.23L372.6 465.22L373.1 465.38L373.6 465.27L374.1 465.2L374.6 465.24L375.1 465.26L375.6 465.4L376.1 465.39L376.6 465.37L377.1 465.29L377.6 465.27L378.1 465.4L378.6 465.22L379.1 465.32L379.6 465.39L380.1 465.34L380.6 465.39L381.1 465.36L381.6 465.18L382.1 465.34L382.6 465.3L383.1 465.26L383.6 465.39L384.1 465.39L384.6 465.33L385.1 465.4L385.6 465.4L386.1 465.26L386.6 465.34L387.1 465.33L387.6 465.38L388.1 465.35L388.6 465.13L389.1 465.4L389.6 465.16L390.1 465.36L390.6 465.34L391.1 465.36L391.6 465.38L392.1 465.36L392.6 465.27L393.1 465.21L393.6 465.34L394.1 465.4L394.6 465.4L395.1 465.36L395.6 465.39L396.1 465.32L396.6 465.4L397.1 465.37L397.6 465.2L398.1 465.32L398.6 465.36L399.1 465.22L399.6 465.35L400.1 465.4L400.6 465.37L401.1 465.32L401.6 465.38L402.1 465.37L402.6 465.29L403.1 465.18L403.6 465.23L404.1 465.25L404.6 465.39L405.1 465.3L405.6 465.25L406.1 465.4L406.6 465.36L407.1 465.35L407.6 465.33L408.1 465.32L408.6 465.34L409.1 465.33L409.6 465.39L410.1 465.34L410.6 465.37L411.1 465.13L411.6 465.38L412.1 465.39L412.6 465.39L413.1 465.38L413.6 465.25L414.1 465.31L414.6 465.33L415.1 465.36L415.6 465.39L416.1 465.35L416.6 465.29L417.1 465.31L417.6 465.33L418.1 465.27L418.6 465.04L419.1 465.22L419.6 465.16L420.1 464.96L420.6 464.99L421.1 464.79L421.6 464.59L422.1 464.64L422.6 464.65L423.1 464.5L423.6 464.4L424.1 464.47L424.6 464.6L425.1 464.74L425.6 464.77L426.1 464.87L426.6 465.02L427.1 464.98L427.6 465.18L428.1 465.15L428.6 465.25L429.1 465.29L429.6 465.25L430.1 465.08L430.6 465.09L431.1 465.11L431.6 464.8L432.1 464.82L432.6 464.48L433.1 464.22L433.6 463.61L434.1 463.16L434.6 462.23L435.1 460.92L435.6 458.82L436.1 455.95L436.6 457.89L437.1 460.28L437.6 461.85L438.1 462.87L438.6 463.66L439.1 464.17L439.6 464.38L440.1 464.81L440.6 464.95L441.1 465.14L441.6 465.23L442.1 465.06L442.6 465.12L443.1 465.27L443.6 465.33L444.1 465.38L444.6 465.32L445.1 465.36L445.6 465.4L446.1 465.37L446.6 465.36L447.1 465.34L447.6 465.31L448.1 465.29L448.6 465.39L449.1 465.3L449.6 465.38L450.1 465.39L450.6 465.3L451.1 465.39L451.6 465.4L452.1 465.33L452.6 465.2L453.1 465.37L453.6 465.22L454.1 465.34L454.6 465.37L455.1 465.4L455.6 465.23L456.1 465.39L456.6 465.37L457.1 465.13L457.6 465.37L458.1 465.34L458.6 465.35L459.1 465.22L459.6 465.21L460.1 465.34L460.6 465.37L461.1 465.38L461.6 465.36L462.1 465.4L462.6 465.39L463.1 465.3L463.6 465.14L464.1 465.39L464.6 465.39L465.1 465.3L465.6 465.37L466.1 465.27L466.6 465.21L467.1 465.38L467.6 465.33L468.1 465.34L468.6 465.36L469.1 465.38L469.6 465.36L470.1 465.34L470.6 465.28L471.1 465.36L471.6 465.24L472.1 465.37L472.6 465.28L473.1 465.17L473.6 465.4L474.1 465.39L474.6 465.23L475.1 465.3L475.6 465.28L476.1 465.34L476.6 465.37L477.1 465.29L477.6 465.38L478.1 465.39L478.6 465.35L479.1 465.36L479.6 465.4L480.1 465.36L480.6 465.38L481.1 465.27L481.6 465.4L482.1 465.33L482.6 465.38L483.1 465.37L483.6 465.37L484.1 465.31L484.6 465.35L485.1 465.35L485.6 465.1L486.1 465.18L486.6 464.87L487.1 464.81L487.6 464.93L488.1 465.18L488.6 465.36L489.1 465.39L489.6 465.22L490.1 465.37L490.6 465.31L491.1 465.34L491.6 465.18L492.1 465.27L492.6 465L493.1 465.16L493.6 464.81L494.1 464.98L494.6 464.79L495.1 464.63L495.6 464.68L496.1 464.6L496.6 464.51L497.1 464.56L497.6 464.6L498.1 464.61L498.6 464.74L499.1 464.64L499.6 464.93L500.1 465.02L500.6 465.09L501.1 465.09L501.6 465.2L502.1 465.23L502.6 465.25L503.1 465.3L503.6 465.37L504.1 465.35L504.6 465.21L505.1 465.37L505.6 465.38L506.1 465.38L506.6 465.39L507.1 465.39L507.6 465.38L508.1 465.23L508.6 465.39L509.1 465.34L509.6 465.36L510.1 465.14L510.6 465.22L511.1 465.34L511.6 465.26L512.1 465.35L512.3 465.4Z" fill="#c4177a"/>
<path d="M359.6 476.9H512.3" stroke="#d7a2de" stroke-width="0.9"/>
<path d="M359.6 476.9L359.6 476.79L360.1 476.9L360.6 476.82L361.1 476.79L361.6 476.9L362.1 476.89L362.6 476.76L363.1 476.69L363.6 476.78L364.1 476.89L364.6 476.7L365.1 476.83L365.6 476.78L366.1 476.85L366.6 476.9L367.1 476.89L367.6 476.85L368.1 476.82L368.6 476.86L369.1 476.83L369.6 476.86L370.1 476.86L370.6 476.74L371.1 476.7L371.6 476.79L372.1 476.84L372.6 476.89L373.1 476.77L373.6 476.71L374.1 476.65L374.6 476.79L375.1 476.87L375.6 476.75L376.1 476.89L376.6 476.85L377.1 476.86L377.6 476.78L378.1 476.86L378.6 476.86L379.1 476.86L379.6 476.67L380.1 476.81L380.6 476.89L381.1 476.73L381.6 476.82L382.1 476.82L382.6 476.64L383.1 476.85L383.6 476.73L384.1 476.84L384.6 476.82L385.1 476.88L385.6 476.82L386.1 476.87L386.6 476.89L387.1 476.86L387.6 476.85L388.1 476.88L388.6 476.75L389.1 476.62L389.6 476.83L390.1 476.7L390.6 476.79L391.1 476.79L391.6 476.84L392.1 476.84L392.6 476.86L393.1 476.86L393.6 476.75L394.1 476.5L394.6 476.26L395.1 476.22L395.6 476.53L396.1 476.58L396.6 476.83L397.1 476.78L397.6 476.82L398.1 476.78L398.6 476.81L399.1 476.86L399.6 476.79L400.1 476.84L400.6 476.89L401.1 476.89L401.6 476.82L402.1 476.81L402.6 476.89L403.1 476.89L403.6 476.81L404.1 476.82L404.6 476.86L405.1 476.89L405.6 476.82L406.1 476.87L406.6 476.9L407.1 476.86L407.6 476.79L408.1 476.76L408.6 476.8L409.1 476.88L409.6 476.9L410.1 476.86L410.6 476.75L411.1 476.7L411.6 476.5L412.1 476.14L412.6 476.51L413.1 476.72L413.6 476.64L414.1 476.88L414.6 476.74L415.1 476.84L415.6 476.86L416.1 476.89L416.6 476.79L417.1 476.86L417.6 476.89L418.1 476.85L418.6 476.83L419.1 476.59L419.6 476.71L420.1 476.29L420.6 475.84L421.1 475.39L421.6 475.74L422.1 476.09L422.6 476.47L423.1 476.82L423.6 476.86L424.1 476.86L424.6 476.8L425.1 476.74L425.6 476.89L426.1 476.64L426.6 476.76L427.1 476.85L427.6 476.88L428.1 476.89L428.6 476.89L429.1 476.62L429.6 476.76L430.1 476.85L430.6 476.69L431.1 476.61L431.6 476.74L432.1 476.72L432.6 476.45L433.1 476.22L433.6 476.03L434.1 475.39L434.6 474.8L435.1 473.5L435.6 471.81L436.1 468.6L436.6 470.72L437.1 473.05L437.6 474.52L438.1 475.22L438.6 475.79L439.1 476.25L439.6 476.45L440.1 476.5L440.6 476.8L441.1 476.82L441.6 476.87L442.1 476.68L442.6 476.71L443.1 476.78L443.6 476.72L444.1 476.87L444.6 476.89L445.1 476.81L445.6 476.87L446.1 476.87L446.6 476.86L447.1 476.73L447.6 476.75L448.1 476.79L448.6 476.89L449.1 476.81L449.6 476.84L450.1 476.71L450.6 476.7L451.1 476.74L451.6 476.83L452.1 476.88L452.6 476.85L453.1 476.84L453.6 476.87L454.1 476.89L454.6 476.74L455.1 476.8L455.6 476.86L456.1 476.86L456.6 476.89L457.1 476.84L457.6 476.75L458.1 476.89L458.6 476.89L459.1 476.88L459.6 476.81L460.1 476.83L460.6 476.88L461.1 476.74L461.6 476.9L462.1 476.84L462.6 476.86L463.1 476.75L463.6 476.73L464.1 476.88L464.6 476.9L465.1 476.78L465.6 476.83L466.1 476.83L466.6 476.79L467.1 476.87L467.6 476.89L468.1 476.81L468.6 476.87L469.1 476.68L469.6 476.9L470.1 476.79L470.6 476.86L471.1 476.87L471.6 476.89L472.1 476.87L472.6 476.79L473.1 476.88L473.6 476.9L474.1 476.89L474.6 476.89L475.1 476.78L475.6 476.9L476.1 476.88L476.6 476.79L477.1 476.86L477.6 476.79L478.1 476.88L478.6 476.86L479.1 476.82L479.6 476.83L480.1 476.89L480.6 476.86L481.1 476.86L481.6 476.8L482.1 476.9L482.6 476.81L483.1 476.89L483.6 476.9L484.1 476.87L484.6 476.89L485.1 476.85L485.6 476.77L486.1 476.79L486.6 476.88L487.1 476.86L487.6 476.87L488.1 476.85L488.6 476.87L489.1 476.89L489.6 476.87L490.1 476.77L490.6 476.85L491.1 476.78L491.6 476.84L492.1 476.79L492.6 476.89L493.1 476.79L493.6 476.81L494.1 476.84L494.6 476.9L495.1 476.73L495.6 476.85L496.1 476.86L496.6 476.9L497.1 476.75L497.6 476.88L498.1 476.87L498.6 476.79L499.1 476.86L499.6 476.87L500.1 476.9L500.6 476.88L501.1 476.9L501.6 476.82L502.1 476.82L502.6 476.86L503.1 476.87L503.6 476.86L504.1 476.79L504.6 476.78L505.1 476.84L505.6 476.85L506.1 476.81L506.6 476.88L507.1 476.89L507.6 476.86L508.1 476.9L508.6 476.87L509.1 476.69L509.6 476.83L510.1 476.9L510.6 476.85L511.1 476.78L511.6 476.87L512.1 476.78L512.3 476.9Z" fill="#9b1fab"/>
<path d="M359.6 488.2H512.3" stroke="#b6c6dc" stroke-width="0.9"/>
<path d="M359.6 488.2L359.6 488.1L360.1 488.05L360.6 487.98L361.1 488.18L361.6 488.09L362.1 488.16L362.6 488.15L363.1 488.18L363.6 488.05L364.1 488.15L364.6 488.1L365.1 488.2L365.6 488.19L366.1 488.12L366.6 488.2L367.1 488.18L367.6 488.18L368.1 488.17L368.6 488.1L369.1 488.14L369.6 488.05L370.1 488.19L370.6 488.2L371.1 488.2L371.6 488.12L372.1 488.08L372.6 488.18L373.1 488L373.6 488.19L374.1 488.07L374.6 488.13L375.1 488.11L375.6 488.06L376.1 488.19L376.6 488.16L377.1 488.13L377.6 488.08L378.1 488.17L378.6 488.03L379.1 488.18L379.6 488.19L380.1 488.08L380.6 488.15L381.1 488.04L381.6 488.12L382.1 488.2L382.6 488.09L383.1 487.92L383.6 488.15L384.1 488.2L384.6 488.2L385.1 488.17L385.6 488.13L386.1 488.12L386.6 488.15L387.1 488.1L387.6 488.17L388.1 488.15L388.6 488.11L389.1 488.09L389.6 488.14L390.1 488.04L390.6 488.12L391.1 488.11L391.6 488.19L392.1 488.03L392.6 488.19L393.1 488.11L393.6 488.17L394.1 488.09L394.6 488.04L395.1 488.2L395.6 488.18L396.1 488L396.6 488.16L397.1 488.2L397.6 488.13L398.1 488.08L398.6 488.11L399.1 488.15L399.6 488.13L400.1 488.07L400.6 488.13L401.1 487.94L401.6 488.14L402.1 488.05L402.6 488.19L403.1 488.09L403.6 488.19L404.1 488.15L404.6 488.05L405.1 488.18L405.6 488.13L406.1 488.16L406.6 488.19L407.1 488.2L407.6 488.17L408.1 488.01L408.6 488.17L409.1 488.15L409.6 487.98L410.1 488.12L410.6 488.11L411.1 488.18L411.6 488.15L412.1 487.98L412.6 488.2L413.1 488.18L413.6 488.11L414.1 488.11L414.6 488.07L415.1 488.19L415.6 488.11L416.1 488.18L416.6 488.19L417.1 488.15L417.6 488.17L418.1 487.95L418.6 488.15L419.1 488.17L419.6 488.18L420.1 488.18L420.6 488.14L421.1 488.11L421.6 487.83L422.1 487.86L422.6 487.7L423.1 487.55L423.6 487.7L424.1 487.89L424.6 488.03L425.1 488.11L425.6 488.08L426.1 488.09L426.6 488.2L427.1 487.99L427.6 488.08L428.1 487.96L428.6 488.18L429.1 488.19L429.6 488.18L430.1 488.18L430.6 488.15L431.1 487.94L431.6 488.04L432.1 487.91L432.6 487.69L433.1 487.43L433.6 487.14L434.1 486.67L434.6 485.86L435.1 484.54L435.6 482.45L436.1 478.88L436.6 481.3L437.1 483.92L437.6 485.52L438.1 486.31L438.6 486.94L439.1 487.37L439.6 487.76L440.1 487.87L440.6 488.05L441.1 488.11L441.6 488.01L442.1 488.13L442.6 488.09L443.1 488.16L443.6 488.06L444.1 488.17L444.6 488.14L445.1 488.1L445.6 488.14L446.1 488.17L446.6 488.18L447.1 488.14L447.6 488.19L448.1 488.08L448.6 488.14L449.1 488.04L449.6 488.15L450.1 488.2L450.6 488.2L451.1 488.07L451.6 488.18L452.1 488.08L452.6 488.1L453.1 488.04L453.6 488.13L454.1 488.11L454.6 488.01L455.1 487.85L455.6 487.63L456.1 487.7L456.6 487.78L457.1 487.92L457.6 488.01L458.1 488.14L458.6 488.17L459.1 488.1L459.6 488.14L460.1 488.06L460.6 488L461.1 488.1L461.6 488.2L462.1 488.19L462.6 488.16L463.1 488.13L463.6 488.1L464.1 487.93L464.6 488.16L465.1 487.95L465.6 488.17L466.1 488.16L466.6 488.16L467.1 488.09L467.6 488.15L468.1 488.1L468.6 488.2L469.1 488.01L469.6 488.18L470.1 488.18L470.6 488.04L471.1 488.08L471.6 488.04L472.1 488.15L472.6 488.2L473.1 488.2L473.6 488.06L474.1 488.05L474.6 488.12L475.1 488.11L475.6 488.2L476.1 488.02L476.6 488L477.1 488.18L477.6 488.13L478.1 488.2L478.6 488.08L479.1 488.2L479.6 488.19L480.1 488.2L480.6 488.08L481.1 488.13L481.6 488.17L482.1 488.14L482.6 488.11L483.1 488.09L483.6 488.19L484.1 488.12L484.6 488.18L485.1 488.18L485.6 488.2L486.1 488.15L486.6 488.19L487.1 488.16L487.6 488.07L488.1 488.09L488.6 488.2L489.1 488.2L489.6 488.1L490.1 488.2L490.6 488.15L491.1 488.19L491.6 488.2L492.1 488.12L492.6 488.15L493.1 488L493.6 488.2L494.1 487.99L494.6 488.17L495.1 488.16L495.6 488.08L496.1 488.15L496.6 488.18L497.1 488.12L497.6 488.2L498.1 488.11L498.6 488.06L499.1 487.95L499.6 488.17L500.1 488.16L500.6 488.16L501.1 488.12L501.6 488.12L502.1 488.17L502.6 488.14L503.1 488.19L503.6 488.18L504.1 488.1L504.6 488.16L505.1 488.14L505.6 488.03L506.1 488.2L506.6 487.98L507.1 488.14L507.6 488.16L508.1 488.19L508.6 488.06L509.1 488.12L509.6 488.01L510.1 488.06L510.6 488.05L511.1 488.07L511.6 488.08L512.1 488.17L512.3 488.2Z" fill="#4e72a3"/>
<path d="M359.6 500H512.3" stroke="#cfdba4" stroke-width="0.9"/>
<path d="M359.6 500L359.6 497.69L360.1 496.96L360.6 497.53L361.1 496.65L361.6 496.05L362.1 495.36L362.6 496.51L363.1 496.95L363.6 497.55L364.1 497.23L364.6 496.42L365.1 495.53L365.6 495.97L366.1 496.29L366.6 496.97L367.1 496.45L367.6 497.54L368.1 497.31L368.6 497.45L369.1 496.46L369.6 496.73L370.1 496.98L370.6 497.14L371.1 496.64L371.6 495.25L372.1 495.3L372.6 497L373.1 498.55L373.6 499.34L374.1 498.04L374.6 497.69L375.1 497.54L375.6 497.42L376.1 497.74L376.6 497.55L377.1 498.28L377.6 498.45L378.1 498.63L378.6 498.25L379.1 498.19L379.6 498.53L380.1 499.02L380.6 499.22L381.1 498.94L381.6 498.59L382.1 498.62L382.6 498.6L383.1 498.88L383.6 499.27L384.1 499.22L384.6 499.66L385.1 499.72L385.6 499.7L386.1 499.75L386.6 499.51L387.1 499.8L387.6 499.57L388.1 499.61L388.6 499.68L389.1 499.67L389.6 499.78L390.1 499.62L390.6 499.83L391.1 499.89L391.6 499.84L392.1 499.78L392.6 499.85L393.1 499.9L393.6 499.67L394.1 499.66L394.6 499.81L395.1 499.7L395.6 499.58L396.1 499.7L396.6 499.73L397.1 499.76L397.6 499.68L398.1 499.79L398.6 499.81L399.1 499.82L399.6 499.73L400.1 499.64L400.6 499.46L401.1 499.55L401.6 499.51L402.1 499.43L402.6 499.63L403.1 499.69L403.6 499.84L404.1 499.78L404.6 499.65L405.1 499.48L405.6 499.55L406.1 499.74L406.6 499.59L407.1 499.44L407.6 499.45L408.1 499.53L408.6 499.7L409.1 499.56L409.6 499.28L410.1 499.66L410.6 499.34L411.1 499.15L411.6 498.8L412.1 499.21L412.6 498.4L413.1 496.7L413.6 495.69L414.1 495.41L414.6 496.34L415.1 496.01L415.6 495.62L416.1 494.61L416.6 493.06L417.1 491.9L417.6 492.68L418.1 493.09L418.6 492.23L419.1 493.32L419.6 494.76L420.1 495.85L420.6 494.52L421.1 493.59L421.6 494.08L422.1 493.89L422.6 494.67L423.1 494.45L423.6 494.48L424.1 494.86L424.6 495.15L425.1 495.79L425.6 494.75L426.1 496L426.6 495.47L427.1 495.33L427.6 493.31L428.1 492.85L428.6 493.78L429.1 494.49L429.6 496.19L430.1 495.49L430.6 494.84L431.1 494.31L431.6 494.97L432.1 497.38L432.6 497.26L433.1 497.74L433.6 497.74L434.1 495.27L434.6 493.3L435.1 492.07L435.6 492.65L436.1 493.26L436.6 493.19L437.1 494.49L437.6 494.48L438.1 494.79L438.6 495.38L439.1 496.29L439.6 496.23L440.1 495.54L440.6 496.28L441.1 496.48L441.6 496.49L442.1 495.61L442.6 496.23L443.1 497.71L443.6 498.38L444.1 498.9L444.6 499.18L445.1 499.19L445.6 499.13L446.1 498.5L446.6 498.33L447.1 498.59L447.6 498.6L448.1 498.51L448.6 498.4L449.1 498.82L449.6 498.97L450.1 498.77L450.6 498.74L451.1 498.76L451.6 498.56L452.1 498.84L452.6 498.85L453.1 498.54L453.6 498.62L454.1 498.42L454.6 498.53L455.1 498.44L455.6 498.43L456.1 498.31L456.6 498.28L457.1 498.9L457.6 499.09L458.1 498.96L458.6 499.02L459.1 499.26L459.6 499.53L460.1 499.31L460.6 499.42L461.1 499.7L461.6 499.9L462.1 499.97L462.6 499.74L463.1 499.56L463.6 499.56L464.1 499.47L464.6 499.35L465.1 499.11L465.6 499.11L466.1 498.97L466.6 499.19L467.1 498.89L467.6 498.78L468.1 499.01L468.6 499.36L469.1 499.11L469.6 498.86L470.1 498.94L470.6 498.78L471.1 498.84L471.6 498.61L472.1 498.82L472.6 498.96L473.1 499.02L473.6 499.38L474.1 499.2L474.6 498.9L475.1 498.94L475.6 498.78L476.1 499.06L476.6 499.34L477.1 499.3L477.6 499.13L478.1 498.82L478.6 499.1L479.1 499.33L479.6 499.59L480.1 499.53L480.6 499.63L481.1 499.69L481.6 499.89L482.1 499.91L482.6 499.88L483.1 500L483.6 499.88L484.1 499.93L484.6 499.98L485.1 499.92L485.6 499.75L486.1 499.76L486.6 499.66L487.1 499.39L487.6 499.6L488.1 499.61L488.6 499.55L489.1 499.82L489.6 499.68L490.1 499.71L490.6 499.61L491.1 499.62L491.6 499.17L492.1 499.24L492.6 499.35L493.1 499.37L493.6 499.81L494.1 499.76L494.6 499.86L495.1 499.7L495.6 499.61L496.1 499.71L496.6 499.65L497.1 499.69L497.6 499.42L498.1 499.57L498.6 499.57L499.1 499.64L499.6 499.49L500.1 499.58L500.6 499.7L501.1 499.6L501.6 499.68L502.1 499.68L502.6 499.57L503.1 499.64L503.6 499.47L504.1 499.5L504.6 499.4L505.1 499.29L505.6 499.55L506.1 499.38L506.6 499.53L507.1 499.51L507.6 499.74L508.1 499.49L508.6 499.61L509.1 499.32L509.6 499.46L510.1 499.8L510.6 499.29L511.1 499.78L511.6 499.5L512.1 499.91L512.3 500Z" fill="#8aa733"/>
<path d="M359.6 511.2H512.3" stroke="#ead59a" stroke-width="0.9"/>
<path d="M359.6 511.2L359.6 508.62L360.1 508.06L360.6 508.16L361.1 507.95L361.6 508.57L362.1 508.95L362.6 508.94L363.1 508.89L363.6 507.84L364.1 508.57L364.6 508.96L365.1 510.23L365.6 509.06L366.1 508.67L366.6 508.45L367.1 508.54L367.6 508.06L368.1 507.31L368.6 508.07L369.1 509.2L369.6 509.91L370.1 510.15L370.6 510.29L371.1 509.62L371.6 510.39L372.1 510.44L372.6 509.92L373.1 509.76L373.6 508.63L374.1 508.66L374.6 508.05L375.1 508.77L375.6 508.44L376.1 508.86L376.6 509.33L377.1 508.73L377.6 508.44L378.1 508.37L378.6 508.9L379.1 509.4L379.6 510.28L380.1 510.15L380.6 510.32L381.1 510.06L381.6 510.41L382.1 510.11L382.6 510.15L383.1 509.9L383.6 510.08L384.1 510.57L384.6 510.63L385.1 510.82L385.6 510.7L386.1 510.87L386.6 510.82L387.1 510.59L387.6 510.58L388.1 510.74L388.6 510.71L389.1 510.98L389.6 511.01L390.1 510.63L390.6 510.65L391.1 510.64L391.6 510.89L392.1 511.11L392.6 510.87L393.1 510.9L393.6 510.82L394.1 510.62L394.6 510.73L395.1 510.62L395.6 510.76L396.1 510.88L396.6 510.97L397.1 510.84L397.6 510.86L398.1 510.68L398.6 510.8L399.1 510.61L399.6 510.64L400.1 510.47L400.6 510.62L401.1 510.47L401.6 510.74L402.1 510.8L402.6 510.92L403.1 511.14L403.6 510.84L404.1 510.87L404.6 510.79L405.1 510.43L405.6 510.63L406.1 510.23L406.6 510.68L407.1 510.8L407.6 510.45L408.1 510.07L408.6 509.87L409.1 509.71L409.6 509.75L410.1 509.39L410.6 509.24L411.1 508.88L411.6 508.92L412.1 509.24L412.6 509.61L413.1 509.56L413.6 508.45L414.1 508.49L414.6 509.24L415.1 509.41L415.6 508.23L416.1 507.93L416.6 507.85L417.1 507.98L417.6 507.41L418.1 507.76L418.6 509.3L419.1 510.12L419.6 509.26L420.1 509.05L420.6 507.8L421.1 508.87L421.6 508.09L422.1 508.15L422.6 508.11L423.1 508.98L423.6 508.5L424.1 509.16L424.6 508.78L425.1 509.27L425.6 507.22L426.1 506.63L426.6 507.08L427.1 506.79L427.6 507.62L428.1 508.01L428.6 509.64L429.1 508.64L429.6 508.62L430.1 508.65L430.6 508.86L431.1 507.06L431.6 506.98L432.1 506.89L432.6 506.1L433.1 503.84L433.6 503.33L434.1 504.4L434.6 505.42L435.1 507.37L435.6 509.12L436.1 510.39L436.6 508.86L437.1 507.47L437.6 505.55L438.1 507.56L438.6 507.5L439.1 508.81L439.6 507.52L440.1 508.13L440.6 507.32L441.1 508.6L441.6 508.26L442.1 508.75L442.6 507.36L443.1 507.22L443.6 507.31L444.1 507.43L444.6 507.47L445.1 508.08L445.6 508.16L446.1 508.26L446.6 507.63L447.1 508.12L447.6 508.42L448.1 508.34L448.6 508.14L449.1 508.63L449.6 509.22L450.1 509.06L450.6 508.99L451.1 509.61L451.6 509.57L452.1 509.23L452.6 508.01L453.1 508.31L453.6 508.94L454.1 509.03L454.6 509.02L455.1 509.15L455.6 509.02L456.1 509.68L456.6 509.33L457.1 510.09L457.6 509.67L458.1 509.97L458.6 509.83L459.1 509.58L459.6 509.62L460.1 509.39L460.6 509L461.1 509.19L461.6 510.05L462.1 510.52L462.6 510.12L463.1 510.12L463.6 510.16L464.1 509.99L464.6 509.63L465.1 509.5L465.6 509.46L466.1 509.86L466.6 509.62L467.1 509.98L467.6 510.09L468.1 510.11L468.6 509.69L469.1 509.17L469.6 509.71L470.1 509.72L470.6 510.38L471.1 510.56L471.6 510.63L472.1 510.21L472.6 509.96L473.1 509.78L473.6 510.09L474.1 510.44L474.6 510.54L475.1 510.47L475.6 510.71L476.1 510.94L476.6 510.86L477.1 510.93L477.6 510.73L478.1 510.73L478.6 510.89L479.1 510.58L479.6 510.7L480.1 510.84L480.6 510.77L481.1 510.57L481.6 510.76L482.1 510.5L482.6 510.61L483.1 510.21L483.6 510.15L484.1 510.44L484.6 510.52L485.1 510.69L485.6 510.57L486.1 510.18L486.6 509.89L487.1 510.01L487.6 510.76L488.1 510.38L488.6 510.19L489.1 509.71L489.6 509.72L490.1 509.41L490.6 508.59L491.1 508.91L491.6 509.23L492.1 509.78L492.6 510.33L493.1 510.44L493.6 510.45L494.1 509.89L494.6 509.68L495.1 509.83L495.6 510.3L496.1 509.76L496.6 509.27L497.1 509.24L497.6 509.07L498.1 509.13L498.6 509.03L499.1 508.78L499.6 509.38L500.1 509.09L500.6 509.4L501.1 509.32L501.6 509.96L502.1 509.71L502.6 509.17L503.1 509.37L503.6 509.54L504.1 509.57L504.6 509.17L505.1 508.98L505.6 509.32L506.1 509.48L506.6 510.13L507.1 509.5L507.6 509.59L508.1 509.46L508.6 509.61L509.1 509.85L509.6 509.97L510.1 509.86L510.6 509.51L511.1 509.73L511.6 509.91L512.1 509.91L512.3 511.2Z" fill="#d1a424"/>
<path d="M359.6 522.7H512.3" stroke="#e6d3a6" stroke-width="0.9"/>
<path d="M359.6 522.7L359.6 522.62L360.1 522.64L360.6 522.61L361.1 522.63L361.6 522.67L362.1 522.59L362.6 522.67L363.1 522.63L363.6 522.62L364.1 522.65L364.6 522.7L365.1 522.56L365.6 522.62L366.1 522.67L366.6 522.63L367.1 522.68L367.6 522.7L368.1 522.7L368.6 522.69L369.1 522.68L369.6 522.66L370.1 522.59L370.6 522.69L371.1 522.54L371.6 522.6L372.1 522.69L372.6 522.56L373.1 522.61L373.6 522.67L374.1 522.68L374.6 522.68L375.1 522.56L375.6 522.64L376.1 522.7L376.6 522.67L377.1 522.69L377.6 522.64L378.1 522.55L378.6 522.64L379.1 522.64L379.6 522.7L380.1 522.62L380.6 522.58L381.1 522.68L381.6 522.58L382.1 522.62L382.6 522.58L383.1 522.65L383.6 522.7L384.1 522.7L384.6 522.67L385.1 522.68L385.6 522.6L386.1 522.67L386.6 522.53L387.1 522.68L387.6 522.66L388.1 522.62L388.6 522.58L389.1 522.66L389.6 522.63L390.1 522.7L390.6 522.66L391.1 522.69L391.6 522.67L392.1 522.64L392.6 522.6L393.1 522.65L393.6 522.65L394.1 522.69L394.6 522.64L395.1 522.61L395.6 522.7L396.1 522.69L396.6 522.68L397.1 522.59L397.6 522.54L398.1 522.62L398.6 522.7L399.1 522.53L399.6 522.64L400.1 522.69L400.6 522.7L401.1 522.61L401.6 522.6L402.1 522.64L402.6 522.59L403.1 522.53L403.6 522.62L404.1 522.68L404.6 522.69L405.1 522.68L405.6 522.68L406.1 522.64L406.6 522.63L407.1 522.67L407.6 522.66L408.1 522.58L408.6 522.68L409.1 522.68L409.6 522.66L410.1 522.69L410.6 522.63L411.1 522.66L411.6 522.67L412.1 522.59L412.6 522.65L413.1 522.54L413.6 522.58L414.1 522.52L414.6 522.44L415.1 522.4L415.6 522.29L416.1 522.02L416.6 522.01L417.1 521.94L417.6 521.84L418.1 521.69L418.6 521.71L419.1 521.7L419.6 521.71L420.1 521.78L420.6 521.8L421.1 521.91L421.6 522.11L422.1 522.19L422.6 522.34L423.1 522.38L423.6 522.51L424.1 522.53L424.6 522.58L425.1 522.63L425.6 522.65L426.1 522.55L426.6 522.6L427.1 522.62L427.6 522.51L428.1 522.69L428.6 522.58L429.1 522.66L429.6 522.7L430.1 522.7L430.6 522.66L431.1 522.58L431.6 522.63L432.1 522.61L432.6 522.69L433.1 522.67L433.6 522.64L434.1 522.58L434.6 522.68L435.1 522.69L435.6 522.64L436.1 522.68L436.6 522.68L437.1 522.7L437.6 522.68L438.1 522.7L438.6 522.67L439.1 522.68L439.6 522.69L440.1 522.7L440.6 522.67L441.1 522.56L441.6 522.58L442.1 522.7L442.6 522.57L443.1 522.68L443.6 522.62L444.1 522.7L444.6 522.58L445.1 522.7L445.6 522.65L446.1 522.69L446.6 522.68L447.1 522.68L447.6 522.69L448.1 522.7L448.6 522.7L449.1 522.59L449.6 522.57L450.1 522.69L450.6 522.69L451.1 522.69L451.6 522.57L452.1 522.69L452.6 522.53L453.1 522.61L453.6 522.64L454.1 522.6L454.6 522.66L455.1 522.63L455.6 522.55L456.1 522.65L456.6 522.68L457.1 522.62L457.6 522.7L458.1 522.68L458.6 522.68L459.1 522.62L459.6 522.67L460.1 522.66L460.6 522.68L461.1 522.63L461.6 522.63L462.1 522.52L462.6 522.7L463.1 522.68L463.6 522.66L464.1 522.62L464.6 522.64L465.1 522.64L465.6 522.7L466.1 522.61L466.6 522.61L467.1 522.68L467.6 522.66L468.1 522.69L468.6 522.69L469.1 522.7L469.6 522.63L470.1 522.69L470.6 522.69L471.1 522.69L471.6 522.66L472.1 522.62L472.6 522.69L473.1 522.66L473.6 522.66L474.1 522.57L474.6 522.6L475.1 522.69L475.6 522.65L476.1 522.64L476.6 522.69L477.1 522.62L477.6 522.69L478.1 522.69L478.6 522.69L479.1 522.64L479.6 522.7L480.1 522.64L480.6 522.69L481.1 522.53L481.6 522.63L482.1 522.69L482.6 522.7L483.1 522.62L483.6 522.64L484.1 522.69L484.6 522.67L485.1 522.63L485.6 522.6L486.1 522.67L486.6 522.66L487.1 522.54L487.6 522.69L488.1 522.65L488.6 522.63L489.1 522.63L489.6 522.6L490.1 522.69L490.6 522.68L491.1 522.68L491.6 522.56L492.1 522.68L492.6 522.66L493.1 522.59L493.6 522.69L494.1 522.68L494.6 522.59L495.1 522.67L495.6 522.61L496.1 522.67L496.6 522.57L497.1 522.68L497.6 522.6L498.1 522.65L498.6 522.65L499.1 522.69L499.6 522.67L500.1 522.67L500.6 522.67L501.1 522.7L501.6 522.61L502.1 522.64L502.6 522.69L503.1 522.64L503.6 522.61L504.1 522.58L504.6 522.65L505.1 522.63L505.6 522.64L506.1 522.66L506.6 522.67L507.1 522.59L507.6 522.64L508.1 522.68L508.6 522.64L509.1 522.66L509.6 522.68L510.1 522.64L510.6 522.67L511.1 522.66L511.6 522.69L512.1 522.66L512.3 522.7Z" fill="#c8992c"/>
<text x="325.0" y="347.9" font-size="7.3" fill="#222" textLength="15.8" lengthAdjust="spacingAndGlyphs">Oct2</text>
<text x="325.0" y="359.2" font-size="7.3" fill="#222" textLength="17.4" lengthAdjust="spacingAndGlyphs">OBF1</text>
<text x="325.0" y="370.7" font-size="7.3" fill="#222" textLength="15.2" lengthAdjust="spacingAndGlyphs">Oct1</text>
<text x="325.0" y="382" font-size="7.3" fill="#222" textLength="28.4" lengthAdjust="spacingAndGlyphs">H3K27ac</text>
<text x="325.0" y="393.4" font-size="7.3" fill="#222" textLength="30.2" lengthAdjust="spacingAndGlyphs">H3K4me1</text>
<text x="325.0" y="404.9" font-size="7.3" fill="#222" textLength="30.7" lengthAdjust="spacingAndGlyphs">H3K4me3</text>
<text x="325.0" y="463.8" font-size="7.3" fill="#222" textLength="15.8" lengthAdjust="spacingAndGlyphs">Oct2</text>
<text x="325.0" y="475.1" font-size="7.3" fill="#222" textLength="17.4" lengthAdjust="spacingAndGlyphs">OBF1</text>
<text x="325.0" y="486.6" font-size="7.3" fill="#222" textLength="15.2" lengthAdjust="spacingAndGlyphs">Oct1</text>
<text x="325.0" y="497.9" font-size="7.3" fill="#222" textLength="28.4" lengthAdjust="spacingAndGlyphs">H3K27ac</text>
<text x="325.0" y="509.4" font-size="7.3" fill="#222" textLength="30.2" lengthAdjust="spacingAndGlyphs">H3K4me1</text>
<text x="325.0" y="520.8" font-size="7.3" fill="#222" textLength="30.7" lengthAdjust="spacingAndGlyphs">H3K4me3</text>
<text x="396.4" y="319.6" font-size="7.2" fill="#222" text-anchor="end">5kb</text>
<path d="M399.6 317.5H472M399.6 315.8v3.4M472 315.8v3.4" stroke="#333" stroke-width="0.8"/>
<text x="475.2" y="319.8" font-size="7.2" fill="#222" font-style="italic">mm9</text>
<text x="435.4" y="328.6" font-size="7.2" fill="#222" font-style="italic" text-anchor="end">Mta2</text>
<path d="M438 327.6H512.3" stroke="#888" stroke-width="0.5"/>
<rect x="438.1" y="326.6" width="7.2" height="1.9" fill="#111"/>
<path d="M439.2 326.6V323.6H443M442 322.7l1.1 0.9-1.1 0.9" stroke="#111" stroke-width="0.55" fill="none"/>
<rect x="460.1" y="326.2" width="1.4" height="2.8" fill="#111"/>
<rect x="468.1" y="326.2" width="1.4" height="2.8" fill="#111"/>
<rect x="493.1" y="326.2" width="1.4" height="2.8" fill="#111"/>
<rect x="500.8" y="326.2" width="1.4" height="2.8" fill="#111"/>
<rect x="506.3" y="326.2" width="1.4" height="2.8" fill="#111"/>
<rect x="497" y="326.6" width="0.8" height="2" fill="#111"/>
<text x="408.8" y="439.6" font-size="7.2" fill="#222" text-anchor="end">5kb</text>
<path d="M411.7 437.2H460.8M411.7 435.5v3.4M460.8 435.5v3.4" stroke="#333" stroke-width="0.8"/>
<text x="463.8" y="439.6" font-size="7.2" fill="#222" font-style="italic">mm9</text>
<text x="356.6" y="445.5" font-size="7.2" fill="#222" font-style="italic" text-anchor="end">Irak3</text>
<path d="M360.8 443.7H512.3" stroke="#c4c4c4" stroke-width="1.6"/>
<text x="7.4" y="17.6" font-size="12.6" fill="#111" font-weight="bold">A</text>
<text x="7.8" y="168.8" font-size="12.2" fill="#111" font-weight="bold">B</text>
<text x="7.6" y="307.6" font-size="12.2" fill="#111" font-weight="bold">C</text>
<text x="312.4" y="307.4" font-size="12.2" fill="#111" font-weight="bold">D</text>
<text x="40.3" y="32.6" font-size="10.6" fill="#111" fill="#222" textLength="72.8" lengthAdjust="spacingAndGlyphs">Genomic location</text>
<text x="63.2" y="49.6" font-size="7.2" fill="#111" text-anchor="middle" fill="#222">OBF1</text>
<text x="159.4" y="49.6" font-size="7.2" fill="#111" text-anchor="middle" fill="#222">Oct1</text>
<text x="255.6" y="49.6" font-size="7.2" fill="#111" text-anchor="middle" fill="#222">Oct2</text>
<text x="91.8" y="183" font-size="9.6" fill="#111" text-anchor="middle" fill="#222">OBF1</text>
<text x="207.8" y="183" font-size="9.6" fill="#111" text-anchor="middle" fill="#222">OCT1</text>
<text x="324.2" y="183" font-size="9.6" fill="#111" text-anchor="middle" fill="#222">OCT2</text>
<text x="445.8" y="183" font-size="9.6" fill="#111" text-anchor="middle" fill="#222">H3K27ac</text>
<text transform="translate(28.4 220.3) rotate(-90)" font-size="7.8" fill="#222" text-anchor="middle" textLength="62.5" lengthAdjust="spacingAndGlyphs">Frequency of peaks</text>
<text x="210.1" y="277" font-size="8" fill="#111" fill="#222" textLength="119.8" lengthAdjust="spacingAndGlyphs">Distance from nearest TSS log10 (bp)</text>
<path d="M0 0H520V551H0Z M1.05 1.05V549.6H518.9V1.05Z" fill="#000" fill-rule="evenodd"/></svg></body></html>
